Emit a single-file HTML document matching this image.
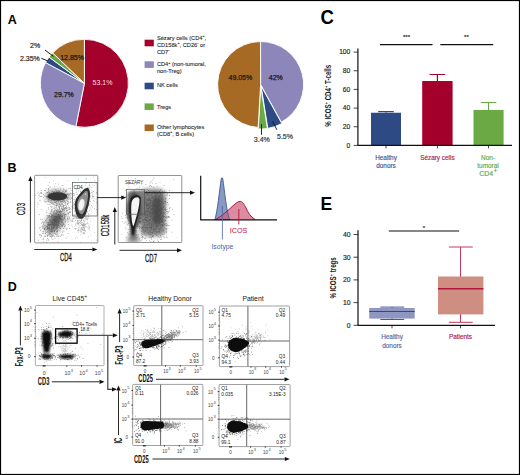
<!DOCTYPE html>
<html><head><meta charset="utf-8"><style>
html,body{margin:0;padding:0;background:#fff;}
svg{display:block;font-family:"Liberation Sans", sans-serif;}
</style></head><body>
<svg width="520" height="475" viewBox="0 0 520 475">
<rect x="0" y="0" width="520" height="475" fill="#fff"/>
<text x="7.8" y="24.4" font-size="12.5" fill="#000" text-anchor="start" font-weight="bold" >A</text>
<path d="M84.40,83.30 L84.40,39.30 A44,44 0 1 1 75.88,126.47 Z" fill="#a3002b" stroke="#fff" stroke-width="0.9" stroke-linejoin="round"/>
<path d="M84.40,83.30 L75.88,126.47 A44,44 0 0 1 45.58,62.59 Z" fill="#8c86bb" stroke="#fff" stroke-width="0.9" stroke-linejoin="round"/>
<path d="M84.40,83.30 L45.58,62.59 A44,44 0 0 1 49.05,57.10 Z" fill="#2e4a85" stroke="#fff" stroke-width="0.9" stroke-linejoin="round"/>
<path d="M84.40,83.30 L49.05,57.10 A44,44 0 0 1 52.61,52.88 Z" fill="#6aa943" stroke="#fff" stroke-width="0.9" stroke-linejoin="round"/>
<path d="M84.40,83.30 L52.61,52.88 A44,44 0 0 1 84.40,39.30 Z" fill="#a76a25" stroke="#fff" stroke-width="0.9" stroke-linejoin="round"/>
<text x="92.6" y="84.8" font-size="7" fill="#f4d2da" text-anchor="start" font-weight="normal" stroke="#f4d2da" stroke-width="0.05" >53.1%</text>
<text x="54.0" y="97.4" font-size="7" fill="#1a1a1a" text-anchor="start" font-weight="normal" stroke="#1a1a1a" stroke-width="0.25" >29.7%</text>
<text x="60.2" y="59.8" font-size="7" fill="#1a1a1a" text-anchor="start" font-weight="normal" stroke="#1a1a1a" stroke-width="0.25" >12.85%</text>
<text x="30.0" y="48.0" font-size="7" fill="#222" text-anchor="start" font-weight="normal" stroke="#222" stroke-width="0.17" >2%</text>
<text x="20.0" y="61.3" font-size="7" fill="#222" text-anchor="start" font-weight="normal" stroke="#222" stroke-width="0.17" >2.35%</text>
<path d="M45,50 L53.3,56.3 M41.3,58.3 L47.5,60.8" stroke="#000" stroke-width="0.9" fill="none"/>
<rect x="144.6" y="39.7" width="9.2" height="6.6" fill="#a3002b"/>
<text x="156.9" y="39.9" font-size="5.7" fill="#2a2a2a" text-anchor="start" font-weight="normal" stroke="#2a2a2a" stroke-width="0.1" >Sézary cells (CD4<tspan font-size="3.6" dy="-2.6">+</tspan><tspan dy="2.6">,</tspan></text>
<text x="156.9" y="47.0" font-size="5.7" fill="#2a2a2a" text-anchor="start" font-weight="normal" stroke="#2a2a2a" stroke-width="0.1" >CD158k<tspan font-size="3.6" dy="-2.6">+</tspan><tspan dy="2.6">, CD26</tspan><tspan font-size="3.6" dy="-2.6">-</tspan><tspan dy="2.6"> or</tspan></text>
<text x="156.9" y="53.8" font-size="5.7" fill="#2a2a2a" text-anchor="start" font-weight="normal" stroke="#2a2a2a" stroke-width="0.1" >CD7<tspan font-size="3.6" dy="-2.6">-</tspan><tspan dy="2.6"></tspan></text>
<rect x="144.6" y="61.3" width="9.2" height="6.6" fill="#8c86bb"/>
<text x="156.9" y="66.2" font-size="5.7" fill="#2a2a2a" text-anchor="start" font-weight="normal" stroke="#2a2a2a" stroke-width="0.1" >CD4<tspan font-size="3.6" dy="-2.6">+</tspan><tspan dy="2.6"> (non-tumoral,</tspan></text>
<text x="156.9" y="73.2" font-size="5.7" fill="#2a2a2a" text-anchor="start" font-weight="normal" stroke="#2a2a2a" stroke-width="0.1" >non-Treg)</text>
<rect x="144.6" y="82.7" width="9.2" height="6.6" fill="#2e4a85"/>
<text x="156.9" y="87.3" font-size="5.7" fill="#2a2a2a" text-anchor="start" font-weight="normal" stroke="#2a2a2a" stroke-width="0.1" >NK cells</text>
<rect x="144.6" y="103.4" width="9.2" height="6.6" fill="#6aa943"/>
<text x="156.9" y="108.6" font-size="5.7" fill="#2a2a2a" text-anchor="start" font-weight="normal" stroke="#2a2a2a" stroke-width="0.1" >Tregs</text>
<rect x="144.6" y="124.5" width="9.2" height="6.6" fill="#a76a25"/>
<text x="156.9" y="129.4" font-size="5.7" fill="#2a2a2a" text-anchor="start" font-weight="normal" stroke="#2a2a2a" stroke-width="0.1" >Other lymphocytes</text>
<text x="156.9" y="135.6" font-size="5.7" fill="#2a2a2a" text-anchor="start" font-weight="normal" stroke="#2a2a2a" stroke-width="0.1" >(CD8<tspan font-size="3.6" dy="-2.6">+</tspan><tspan dy="2.6">, B cells)</tspan></text>
<path d="M260.60,84.50 L260.60,41.50 A43,43 0 0 1 281.32,122.18 Z" fill="#8c86bb" stroke="#fff" stroke-width="0.9" stroke-linejoin="round"/>
<path d="M261.09,85.92 L281.80,123.60 A43,43 0 0 1 267.81,128.39 Z" fill="#2e4a85" stroke="#fff" stroke-width="0.9" stroke-linejoin="round"/>
<path d="M260.68,86.00 L267.40,128.47 A43,43 0 0 1 258.25,128.93 Z" fill="#6aa943" stroke="#fff" stroke-width="0.9" stroke-linejoin="round"/>
<path d="M260.60,84.50 L258.17,127.43 A43,43 0 0 1 260.46,41.50 Z" fill="#a76a25" stroke="#fff" stroke-width="0.9" stroke-linejoin="round"/>
<text x="228.5" y="80.2" font-size="7" fill="#1a1a1a" text-anchor="start" font-weight="normal" stroke="#1a1a1a" stroke-width="0.25" >49.05%</text>
<text x="268.8" y="80.2" font-size="7" fill="#1a1a1a" text-anchor="start" font-weight="normal" stroke="#1a1a1a" stroke-width="0.25" >42%</text>
<text x="253.8" y="142.4" font-size="7" fill="#333" text-anchor="start" font-weight="normal" stroke="#333" stroke-width="0.17" >3.4%</text>
<text x="277.0" y="138.7" font-size="7" fill="#333" text-anchor="start" font-weight="normal" stroke="#333" stroke-width="0.17" >5.5%</text>
<path d="M261.5,124 L261.5,134.8 M272.6,121.3 L276.9,129.8" stroke="#111" stroke-width="0.9" fill="none"/>
<text transform="translate(320.4,23.7) scale(0.93,1)" font-size="20" font-weight="bold" fill="#000">C</text>
<path d="M353.7,145.40 L357.9,145.40" stroke="#111" stroke-width="0.8"/>
<text x="350.3" y="147.6" font-size="6.7" fill="#1a1a1a" text-anchor="end" font-weight="normal" stroke="#1a1a1a" stroke-width="0.15" >0</text>
<path d="M353.7,126.74 L357.9,126.74" stroke="#111" stroke-width="0.8"/>
<text x="350.3" y="128.94" font-size="6.7" fill="#1a1a1a" text-anchor="end" font-weight="normal" stroke="#1a1a1a" stroke-width="0.15" >20</text>
<path d="M353.7,108.08 L357.9,108.08" stroke="#111" stroke-width="0.8"/>
<text x="350.3" y="110.28000000000002" font-size="6.7" fill="#1a1a1a" text-anchor="end" font-weight="normal" stroke="#1a1a1a" stroke-width="0.15" >40</text>
<path d="M353.7,89.42 L357.9,89.42" stroke="#111" stroke-width="0.8"/>
<text x="350.3" y="91.62" font-size="6.7" fill="#1a1a1a" text-anchor="end" font-weight="normal" stroke="#1a1a1a" stroke-width="0.15" >60</text>
<path d="M353.7,70.76 L357.9,70.76" stroke="#111" stroke-width="0.8"/>
<text x="350.3" y="72.96000000000001" font-size="6.7" fill="#1a1a1a" text-anchor="end" font-weight="normal" stroke="#1a1a1a" stroke-width="0.15" >80</text>
<path d="M353.7,52.10 L357.9,52.10" stroke="#111" stroke-width="0.8"/>
<text x="350.3" y="54.3" font-size="6.7" fill="#1a1a1a" text-anchor="end" font-weight="normal" stroke="#1a1a1a" stroke-width="0.15" >100</text>
<path d="M386.0,112.745 L386.0,111.53 M378.2,111.53 L393.8,111.53" stroke="#2e4a85" stroke-width="1.2"/>
<rect x="371.0" y="112.75" width="30.0" height="32.66" fill="#2e4a85"/>
<path d="M386.0,145.4 L386.0,148.4" stroke="#111" stroke-width="0.8"/>
<path d="M437.4,81.023 L437.4,74.49 M429.59999999999997,74.49 L445.2,74.49" stroke="#a3002b" stroke-width="1.2"/>
<rect x="422.2" y="81.02" width="30.400000000000034" height="64.38" fill="#a3002b"/>
<path d="M437.4,145.4 L437.4,148.4" stroke="#111" stroke-width="0.8"/>
<path d="M488.55,109.946 L488.55,102.48 M480.75,102.48 L496.35,102.48" stroke="#6aa943" stroke-width="1.2"/>
<rect x="473.5" y="109.95" width="30.100000000000023" height="35.45" fill="#6aa943"/>
<path d="M488.55,145.4 L488.55,148.4" stroke="#111" stroke-width="0.8"/>
<path d="M357.9,48.5 L357.9,145.4 L512,145.4" stroke="#111" stroke-width="1.2" fill="none"/>
<path d="M379.9,44.6 L432.5,44.6 M440.3,44.6 L493.2,44.6" stroke="#111" stroke-width="1.1"/>
<text x="406.5" y="38.5" font-size="6" fill="#222" text-anchor="middle" font-weight="normal" stroke="#222" stroke-width="0.15" >***</text>
<text x="466.4" y="38.5" font-size="6" fill="#222" text-anchor="middle" font-weight="normal" stroke="#222" stroke-width="0.15" >**</text>
<text x="386.0" y="159.6" font-size="6.4" fill="#3a5593" text-anchor="middle" font-weight="normal" stroke="#3a5593" stroke-width="0.15" >Healthy</text>
<text x="386.0" y="168.3" font-size="6.4" fill="#3a5593" text-anchor="middle" font-weight="normal" stroke="#3a5593" stroke-width="0.15" >donors</text>
<text x="437.4" y="159.8" font-size="6.4" fill="#b0173f" text-anchor="middle" font-weight="normal" stroke="#b0173f" stroke-width="0.15" >Sézary cells</text>
<text x="488" y="159.8" font-size="6.4" fill="#62a93c" text-anchor="middle" font-weight="normal" stroke="#62a93c" stroke-width="0.15" >Non-</text>
<text x="488" y="167.9" font-size="6.4" fill="#62a93c" text-anchor="middle" font-weight="normal" stroke="#62a93c" stroke-width="0.15" >tumoral</text>
<text x="488.2" y="176.3" font-size="7.0" fill="#62a93c" text-anchor="middle" font-weight="normal" stroke="#62a93c" stroke-width="0.15" >CD4<tspan font-size="6.5" dy="-3.6" dx="0.3">+</tspan></text>
<text transform="translate(331.3,95.7) rotate(-90) scale(0.645,1)" text-anchor="middle" font-size="9.6" font-weight="bold" fill="#1a1a1a">% ICOS<tspan font-size="6" dy="-3.6">+</tspan><tspan dy="3.6"> CD4</tspan><tspan font-size="6" dy="-3.6">+</tspan><tspan dy="3.6"> T-cells</tspan></text>
<text x="320.6" y="209.9" font-size="17.5" fill="#000" text-anchor="start" font-weight="bold" >E</text>
<path d="M358.0,230.3 L358.0,325.3 L495,325.3" stroke="#111" stroke-width="1.2" fill="none"/>
<path d="M353.6,325.30 L358.0,325.30" stroke="#111" stroke-width="0.8"/>
<text x="350.5" y="327.6" font-size="6.8" fill="#1a1a1a" text-anchor="end" font-weight="normal" stroke="#1a1a1a" stroke-width="0.15" >0</text>
<path d="M353.6,302.60 L358.0,302.60" stroke="#111" stroke-width="0.8"/>
<text x="350.5" y="304.90000000000003" font-size="6.8" fill="#1a1a1a" text-anchor="end" font-weight="normal" stroke="#1a1a1a" stroke-width="0.15" >10</text>
<path d="M353.6,279.90 L358.0,279.90" stroke="#111" stroke-width="0.8"/>
<text x="350.5" y="282.20000000000005" font-size="6.8" fill="#1a1a1a" text-anchor="end" font-weight="normal" stroke="#1a1a1a" stroke-width="0.15" >20</text>
<path d="M353.6,257.20 L358.0,257.20" stroke="#111" stroke-width="0.8"/>
<text x="350.5" y="259.50000000000006" font-size="6.8" fill="#1a1a1a" text-anchor="end" font-weight="normal" stroke="#1a1a1a" stroke-width="0.15" >30</text>
<path d="M353.6,234.50 L358.0,234.50" stroke="#111" stroke-width="0.8"/>
<text x="350.5" y="236.8" font-size="6.8" fill="#1a1a1a" text-anchor="end" font-weight="normal" stroke="#1a1a1a" stroke-width="0.15" >40</text>
<path d="M388.8,231 L459.1,231" stroke="#111" stroke-width="1.1"/>
<text x="424" y="229.5" font-size="6" fill="#222" text-anchor="middle" font-weight="normal" stroke="#222" stroke-width="0.15" >*</text>
<path d="M392,307.1 L392,319.5 M380.3,307.1 L404.2,307.1 M380.3,319.5 L404.2,319.5" stroke="#2f4a85" stroke-width="0.9"/>
<rect x="369.2" y="308.0" width="45.5" height="10.6" fill="#8f96c2"/>
<path d="M369.2,311.5 L414.7,311.5" stroke="#2f4a85" stroke-width="1.2"/>
<path d="M460.5,247 L460.5,322.3 M448.9,247 L472.8,247 M448.9,322.3 L472.8,322.3" stroke="#c2385a" stroke-width="1"/>
<rect x="438.0" y="276.5" width="45.4" height="37.9" fill="#cf8e82"/>
<path d="M438,288.8 L483.4,288.8" stroke="#b3163c" stroke-width="1.4"/>
<path d="M392,325.3 L392,328.3 M460.5,325.3 L460.5,328.3" stroke="#111" stroke-width="0.8"/>
<text x="392" y="339.0" font-size="6.4" fill="#4f67a3" text-anchor="middle" font-weight="normal" stroke="#4f67a3" stroke-width="0.15" >Healthy</text>
<text x="392" y="347.5" font-size="6.4" fill="#4f67a3" text-anchor="middle" font-weight="normal" stroke="#4f67a3" stroke-width="0.15" >donors</text>
<text x="460.5" y="339.0" font-size="6.4" fill="#b0173f" text-anchor="middle" font-weight="normal" stroke="#b0173f" stroke-width="0.15" >Patients</text>
<text transform="translate(336.1,277.9) rotate(-90) scale(0.645,1)" text-anchor="middle" font-size="9.6" font-weight="bold" fill="#1a1a1a">% ICOS<tspan font-size="6" dy="-3.6">+</tspan><tspan dy="3.6"> tregs</tspan></text>
<defs>
<filter id="b03" x="-50%" y="-50%" width="200%" height="200%"><feGaussianBlur stdDeviation="0.3"/></filter>
<filter id="b05" x="-50%" y="-50%" width="200%" height="200%"><feGaussianBlur stdDeviation="0.5"/></filter>
<filter id="b08" x="-50%" y="-50%" width="200%" height="200%"><feGaussianBlur stdDeviation="0.8"/></filter>
<filter id="b12" x="-50%" y="-50%" width="200%" height="200%"><feGaussianBlur stdDeviation="1.2"/></filter>
<filter id="b20" x="-50%" y="-50%" width="200%" height="200%"><feGaussianBlur stdDeviation="2"/></filter>
<filter id="b30" x="-50%" y="-50%" width="200%" height="200%"><feGaussianBlur stdDeviation="3"/></filter>
<clipPath id="cB1"><rect x="34.6" y="175.3" width="63.2" height="67.6"/></clipPath>
<clipPath id="cB2"><rect x="118.2" y="175.5" width="63.6" height="67"/></clipPath>
<clipPath id="cD0"><rect x="35.4" y="305.5" width="68.6" height="60.1"/></clipPath>
<clipPath id="cD1"><rect x="133.7" y="305.7" width="69.3" height="59.9"/></clipPath>
<clipPath id="cD2"><rect x="219.4" y="306" width="70.2" height="60.6"/></clipPath>
<clipPath id="cD3"><rect x="132.7" y="384.4" width="70.2" height="61.1"/></clipPath>
<clipPath id="cD4"><rect x="219" y="384.5" width="71.1" height="62.1"/></clipPath>
</defs>
<text x="7.5" y="172.2" font-size="12.5" fill="#000" text-anchor="start" font-weight="bold">B</text>
<path d="M63.0 212.9h0.7v0.7h-0.7zM92.3 206.7h0.7v0.7h-0.7zM66.5 214.8h0.7v0.7h-0.7zM46.4 209.8h0.7v0.7h-0.7zM74.1 228.3h0.7v0.7h-0.7zM40.8 196.0h0.7v0.7h-0.7zM40.6 229.4h0.7v0.7h-0.7zM78.0 178.8h0.7v0.7h-0.7zM95.9 239.7h0.7v0.7h-0.7zM75.5 216.6h0.7v0.7h-0.7zM44.8 177.0h0.7v0.7h-0.7zM67.8 179.9h0.7v0.7h-0.7zM46.8 192.0h0.7v0.7h-0.7zM36.9 206.6h0.7v0.7h-0.7zM62.3 231.6h0.7v0.7h-0.7zM67.2 218.3h0.7v0.7h-0.7zM66.0 219.7h0.7v0.7h-0.7zM63.4 194.4h0.7v0.7h-0.7zM96.9 241.7h0.7v0.7h-0.7zM87.1 222.7h0.7v0.7h-0.7zM54.5 191.2h0.7v0.7h-0.7zM52.9 180.6h0.7v0.7h-0.7zM82.5 202.4h0.7v0.7h-0.7zM87.5 201.5h0.7v0.7h-0.7zM94.4 231.9h0.7v0.7h-0.7z" fill="#777" opacity="0.7" clip-path="url(#cB1)"/>
<g clip-path="url(#cB1)"><ellipse cx="55" cy="222" rx="7.5" ry="12.5" fill="#7a7a7a" opacity="0.9" transform="rotate(35 55 222)" filter="url(#b30)"/></g>
<g clip-path="url(#cB1)"><ellipse cx="56" cy="220" rx="3.5" ry="7" fill="#555" opacity="0.8" transform="rotate(35 56 220)" filter="url(#b20)"/></g>
<path d="M58.1 224.2h0.7v0.7h-0.7zM62.6 220.3h0.7v0.7h-0.7zM60.2 224.2h0.7v0.7h-0.7zM57.3 230.8h0.7v0.7h-0.7zM59.9 216.4h0.7v0.7h-0.7zM55.9 228.1h0.7v0.7h-0.7zM64.5 224.2h0.7v0.7h-0.7zM54.7 227.7h0.7v0.7h-0.7zM55.1 224.5h0.7v0.7h-0.7zM59.1 217.9h0.7v0.7h-0.7zM52.6 215.7h0.7v0.7h-0.7zM49.4 235.6h0.7v0.7h-0.7zM53.7 233.3h0.7v0.7h-0.7zM54.7 229.9h0.7v0.7h-0.7zM51.6 228.6h0.7v0.7h-0.7zM64.8 225.0h0.7v0.7h-0.7zM41.2 235.1h0.7v0.7h-0.7zM50.8 230.3h0.7v0.7h-0.7zM65.1 215.9h0.7v0.7h-0.7zM56.3 243.5h0.7v0.7h-0.7zM51.7 228.4h0.7v0.7h-0.7zM60.4 215.5h0.7v0.7h-0.7zM52.5 224.6h0.7v0.7h-0.7zM56.2 231.0h0.7v0.7h-0.7zM47.9 232.7h0.7v0.7h-0.7zM47.3 225.8h0.7v0.7h-0.7zM61.6 223.2h0.7v0.7h-0.7zM51.9 209.3h0.7v0.7h-0.7zM53.2 226.9h0.7v0.7h-0.7zM67.4 219.1h0.7v0.7h-0.7zM51.5 227.1h0.7v0.7h-0.7zM67.2 203.1h0.7v0.7h-0.7zM46.0 242.5h0.7v0.7h-0.7zM64.5 218.0h0.7v0.7h-0.7zM51.9 222.4h0.7v0.7h-0.7zM62.8 234.7h0.7v0.7h-0.7zM47.0 234.5h0.7v0.7h-0.7zM44.5 236.2h0.7v0.7h-0.7zM54.5 216.1h0.7v0.7h-0.7zM50.5 235.4h0.7v0.7h-0.7zM56.3 226.4h0.7v0.7h-0.7zM50.7 210.7h0.7v0.7h-0.7zM55.2 215.9h0.7v0.7h-0.7zM59.5 221.2h0.7v0.7h-0.7zM58.1 225.1h0.7v0.7h-0.7zM52.9 221.9h0.7v0.7h-0.7zM52.3 230.0h0.7v0.7h-0.7zM54.1 218.7h0.7v0.7h-0.7zM40.1 230.2h0.7v0.7h-0.7zM62.5 225.2h0.7v0.7h-0.7zM59.6 210.9h0.7v0.7h-0.7zM54.6 224.1h0.7v0.7h-0.7zM63.5 230.8h0.7v0.7h-0.7zM64.8 200.5h0.7v0.7h-0.7zM60.3 227.9h0.7v0.7h-0.7zM46.8 218.3h0.7v0.7h-0.7zM28.8 244.0h0.7v0.7h-0.7zM56.9 230.0h0.7v0.7h-0.7zM65.9 204.8h0.7v0.7h-0.7zM62.9 209.5h0.7v0.7h-0.7zM69.3 207.2h0.7v0.7h-0.7zM44.3 228.6h0.7v0.7h-0.7zM68.8 218.0h0.7v0.7h-0.7zM43.3 224.0h0.7v0.7h-0.7zM64.2 217.0h0.7v0.7h-0.7zM55.7 214.4h0.7v0.7h-0.7zM53.3 213.0h0.7v0.7h-0.7zM56.9 231.3h0.7v0.7h-0.7zM64.7 227.8h0.7v0.7h-0.7zM59.7 213.9h0.7v0.7h-0.7zM61.6 211.4h0.7v0.7h-0.7zM43.2 221.8h0.7v0.7h-0.7zM56.9 233.1h0.7v0.7h-0.7zM59.6 228.2h0.7v0.7h-0.7zM51.3 220.4h0.7v0.7h-0.7zM59.4 212.2h0.7v0.7h-0.7zM55.5 205.1h0.7v0.7h-0.7zM54.2 223.2h0.7v0.7h-0.7zM45.1 231.6h0.7v0.7h-0.7zM52.6 227.1h0.7v0.7h-0.7zM65.0 219.5h0.7v0.7h-0.7zM42.0 221.6h0.7v0.7h-0.7zM44.8 230.0h0.7v0.7h-0.7zM51.0 230.9h0.7v0.7h-0.7zM69.8 208.2h0.7v0.7h-0.7zM61.9 219.0h0.7v0.7h-0.7zM54.0 216.2h0.7v0.7h-0.7zM53.6 231.3h0.7v0.7h-0.7zM68.6 212.3h0.7v0.7h-0.7zM65.3 201.7h0.7v0.7h-0.7zM51.3 226.3h0.7v0.7h-0.7zM50.2 221.5h0.7v0.7h-0.7zM50.6 230.6h0.7v0.7h-0.7zM55.8 213.0h0.7v0.7h-0.7zM42.0 233.2h0.7v0.7h-0.7zM60.6 224.5h0.7v0.7h-0.7zM55.4 223.6h0.7v0.7h-0.7zM57.1 221.0h0.7v0.7h-0.7zM60.3 211.2h0.7v0.7h-0.7zM43.1 232.8h0.7v0.7h-0.7zM57.1 224.2h0.7v0.7h-0.7zM53.7 221.8h0.7v0.7h-0.7zM60.1 218.1h0.7v0.7h-0.7zM54.6 224.5h0.7v0.7h-0.7zM55.9 213.5h0.7v0.7h-0.7zM56.3 210.6h0.7v0.7h-0.7zM71.9 206.4h0.7v0.7h-0.7zM57.1 216.4h0.7v0.7h-0.7zM51.7 220.8h0.7v0.7h-0.7zM59.7 226.2h0.7v0.7h-0.7zM57.7 216.8h0.7v0.7h-0.7zM49.4 228.7h0.7v0.7h-0.7zM59.5 211.8h0.7v0.7h-0.7zM55.3 209.4h0.7v0.7h-0.7zM42.7 226.2h0.7v0.7h-0.7zM57.9 221.3h0.7v0.7h-0.7zM65.2 221.5h0.7v0.7h-0.7zM54.0 230.6h0.7v0.7h-0.7zM56.5 205.0h0.7v0.7h-0.7zM45.9 226.1h0.7v0.7h-0.7zM67.5 216.5h0.7v0.7h-0.7zM61.8 222.3h0.7v0.7h-0.7zM56.2 216.5h0.7v0.7h-0.7zM63.4 206.8h0.7v0.7h-0.7zM57.2 209.2h0.7v0.7h-0.7zM45.8 239.8h0.7v0.7h-0.7zM69.1 228.0h0.7v0.7h-0.7zM49.5 213.4h0.7v0.7h-0.7zM40.0 234.5h0.7v0.7h-0.7zM61.5 218.1h0.7v0.7h-0.7zM56.3 229.1h0.7v0.7h-0.7zM50.6 212.7h0.7v0.7h-0.7zM53.8 221.4h0.7v0.7h-0.7zM57.4 219.8h0.7v0.7h-0.7zM59.0 218.0h0.7v0.7h-0.7zM42.7 231.0h0.7v0.7h-0.7zM54.2 226.5h0.7v0.7h-0.7zM48.7 215.7h0.7v0.7h-0.7zM65.7 214.5h0.7v0.7h-0.7zM62.1 222.4h0.7v0.7h-0.7zM57.5 222.2h0.7v0.7h-0.7zM49.4 232.1h0.7v0.7h-0.7zM44.7 232.9h0.7v0.7h-0.7zM56.6 212.3h0.7v0.7h-0.7zM64.0 215.9h0.7v0.7h-0.7zM48.4 227.9h0.7v0.7h-0.7zM70.1 212.0h0.7v0.7h-0.7zM47.0 238.3h0.7v0.7h-0.7zM61.7 223.9h0.7v0.7h-0.7zM53.9 217.8h0.7v0.7h-0.7zM51.2 216.3h0.7v0.7h-0.7zM55.0 220.3h0.7v0.7h-0.7zM61.6 223.9h0.7v0.7h-0.7zM42.7 225.6h0.7v0.7h-0.7zM52.6 215.1h0.7v0.7h-0.7zM56.3 218.9h0.7v0.7h-0.7zM51.8 216.9h0.7v0.7h-0.7zM68.1 224.2h0.7v0.7h-0.7zM48.3 230.3h0.7v0.7h-0.7zM54.2 230.3h0.7v0.7h-0.7zM69.6 209.4h0.7v0.7h-0.7zM50.4 220.3h0.7v0.7h-0.7zM50.2 233.6h0.7v0.7h-0.7zM58.4 221.6h0.7v0.7h-0.7zM56.3 220.5h0.7v0.7h-0.7zM52.4 228.0h0.7v0.7h-0.7zM57.9 214.6h0.7v0.7h-0.7zM45.2 227.8h0.7v0.7h-0.7zM55.4 233.8h0.7v0.7h-0.7zM54.3 231.2h0.7v0.7h-0.7zM51.4 227.2h0.7v0.7h-0.7zM51.4 217.1h0.7v0.7h-0.7zM47.7 225.3h0.7v0.7h-0.7zM53.0 219.3h0.7v0.7h-0.7zM49.4 233.8h0.7v0.7h-0.7zM56.5 212.2h0.7v0.7h-0.7zM64.7 216.0h0.7v0.7h-0.7zM60.1 219.0h0.7v0.7h-0.7zM64.4 207.5h0.7v0.7h-0.7zM60.9 220.4h0.7v0.7h-0.7zM39.6 235.3h0.7v0.7h-0.7zM39.1 251.6h0.7v0.7h-0.7zM58.7 220.6h0.7v0.7h-0.7zM46.7 234.8h0.7v0.7h-0.7zM52.4 225.4h0.7v0.7h-0.7zM62.3 216.5h0.7v0.7h-0.7zM58.3 218.5h0.7v0.7h-0.7zM44.6 224.9h0.7v0.7h-0.7zM57.6 224.7h0.7v0.7h-0.7zM61.8 203.5h0.7v0.7h-0.7zM57.7 222.8h0.7v0.7h-0.7zM47.7 216.2h0.7v0.7h-0.7zM48.3 217.0h0.7v0.7h-0.7zM53.7 225.2h0.7v0.7h-0.7zM55.0 224.0h0.7v0.7h-0.7zM52.0 215.4h0.7v0.7h-0.7zM54.0 218.6h0.7v0.7h-0.7zM52.8 227.7h0.7v0.7h-0.7zM76.4 207.2h0.7v0.7h-0.7zM57.9 221.7h0.7v0.7h-0.7zM60.2 236.4h0.7v0.7h-0.7zM45.4 219.9h0.7v0.7h-0.7zM47.2 228.1h0.7v0.7h-0.7zM50.8 217.9h0.7v0.7h-0.7zM54.9 220.8h0.7v0.7h-0.7zM62.4 205.9h0.7v0.7h-0.7zM51.6 231.2h0.7v0.7h-0.7zM60.2 213.9h0.7v0.7h-0.7zM52.8 227.0h0.7v0.7h-0.7zM54.3 221.3h0.7v0.7h-0.7zM67.4 217.7h0.7v0.7h-0.7zM62.9 205.4h0.7v0.7h-0.7zM55.9 214.0h0.7v0.7h-0.7zM54.5 213.6h0.7v0.7h-0.7zM64.2 226.1h0.7v0.7h-0.7zM42.5 238.7h0.7v0.7h-0.7zM64.2 208.3h0.7v0.7h-0.7zM61.9 216.0h0.7v0.7h-0.7zM69.2 217.5h0.7v0.7h-0.7zM61.1 207.7h0.7v0.7h-0.7zM61.0 214.4h0.7v0.7h-0.7zM56.8 218.9h0.7v0.7h-0.7zM47.1 227.4h0.7v0.7h-0.7zM58.9 225.4h0.7v0.7h-0.7zM56.8 210.8h0.7v0.7h-0.7zM43.2 241.5h0.7v0.7h-0.7zM57.2 214.5h0.7v0.7h-0.7zM57.8 211.3h0.7v0.7h-0.7zM51.7 217.3h0.7v0.7h-0.7zM61.5 226.5h0.7v0.7h-0.7zM61.5 207.8h0.7v0.7h-0.7zM56.1 222.5h0.7v0.7h-0.7zM55.4 209.7h0.7v0.7h-0.7zM49.3 229.7h0.7v0.7h-0.7zM56.7 225.6h0.7v0.7h-0.7zM51.8 223.5h0.7v0.7h-0.7zM43.1 238.9h0.7v0.7h-0.7zM51.9 215.6h0.7v0.7h-0.7zM62.2 223.9h0.7v0.7h-0.7zM61.7 226.2h0.7v0.7h-0.7zM57.7 219.6h0.7v0.7h-0.7zM54.1 210.1h0.7v0.7h-0.7zM61.5 234.0h0.7v0.7h-0.7zM52.5 231.3h0.7v0.7h-0.7zM52.0 231.7h0.7v0.7h-0.7zM55.0 219.4h0.7v0.7h-0.7zM61.4 222.4h0.7v0.7h-0.7zM50.2 216.0h0.7v0.7h-0.7zM49.2 225.1h0.7v0.7h-0.7zM57.5 211.5h0.7v0.7h-0.7zM45.0 233.0h0.7v0.7h-0.7zM53.9 223.1h0.7v0.7h-0.7zM53.4 224.3h0.7v0.7h-0.7zM51.6 235.8h0.7v0.7h-0.7zM40.2 227.4h0.7v0.7h-0.7zM56.7 219.5h0.7v0.7h-0.7zM66.7 228.2h0.7v0.7h-0.7zM58.5 235.7h0.7v0.7h-0.7zM47.7 222.6h0.7v0.7h-0.7zM59.0 223.3h0.7v0.7h-0.7zM46.4 212.0h0.7v0.7h-0.7zM60.2 212.8h0.7v0.7h-0.7zM64.6 225.9h0.7v0.7h-0.7zM54.9 218.4h0.7v0.7h-0.7zM55.7 213.5h0.7v0.7h-0.7zM53.7 224.7h0.7v0.7h-0.7zM53.2 219.7h0.7v0.7h-0.7zM45.9 221.7h0.7v0.7h-0.7zM50.5 221.3h0.7v0.7h-0.7zM53.7 215.1h0.7v0.7h-0.7zM62.6 213.3h0.7v0.7h-0.7zM66.3 229.5h0.7v0.7h-0.7zM58.7 216.1h0.7v0.7h-0.7zM54.6 237.8h0.7v0.7h-0.7zM63.8 212.3h0.7v0.7h-0.7zM49.4 225.2h0.7v0.7h-0.7zM59.1 211.2h0.7v0.7h-0.7zM53.9 212.3h0.7v0.7h-0.7zM58.6 217.0h0.7v0.7h-0.7zM39.9 243.8h0.7v0.7h-0.7zM68.6 219.5h0.7v0.7h-0.7zM56.1 223.8h0.7v0.7h-0.7zM48.7 229.7h0.7v0.7h-0.7zM55.3 218.4h0.7v0.7h-0.7zM53.9 220.0h0.7v0.7h-0.7zM56.6 232.1h0.7v0.7h-0.7zM51.4 214.3h0.7v0.7h-0.7zM47.0 225.8h0.7v0.7h-0.7zM51.2 229.6h0.7v0.7h-0.7zM65.1 207.0h0.7v0.7h-0.7zM55.8 225.2h0.7v0.7h-0.7zM64.4 213.5h0.7v0.7h-0.7zM59.1 216.9h0.7v0.7h-0.7zM50.0 222.6h0.7v0.7h-0.7zM61.5 216.2h0.7v0.7h-0.7zM60.8 197.3h0.7v0.7h-0.7zM46.3 228.9h0.7v0.7h-0.7zM67.0 204.3h0.7v0.7h-0.7zM48.8 222.6h0.7v0.7h-0.7zM56.2 236.4h0.7v0.7h-0.7zM55.6 224.7h0.7v0.7h-0.7zM52.7 215.1h0.7v0.7h-0.7zM57.7 214.9h0.7v0.7h-0.7zM57.4 219.1h0.7v0.7h-0.7zM48.7 234.2h0.7v0.7h-0.7zM56.1 227.6h0.7v0.7h-0.7zM62.2 209.4h0.7v0.7h-0.7zM51.5 225.9h0.7v0.7h-0.7zM43.6 228.6h0.7v0.7h-0.7zM51.5 223.8h0.7v0.7h-0.7zM60.4 211.2h0.7v0.7h-0.7zM70.6 219.5h0.7v0.7h-0.7zM62.2 220.6h0.7v0.7h-0.7zM60.6 216.6h0.7v0.7h-0.7zM48.1 227.8h0.7v0.7h-0.7zM68.4 221.5h0.7v0.7h-0.7zM49.9 229.4h0.7v0.7h-0.7zM48.3 225.5h0.7v0.7h-0.7zM48.2 224.2h0.7v0.7h-0.7zM50.4 232.8h0.7v0.7h-0.7zM63.1 213.9h0.7v0.7h-0.7zM64.0 215.5h0.7v0.7h-0.7zM50.2 236.1h0.7v0.7h-0.7zM60.7 219.6h0.7v0.7h-0.7zM59.5 227.1h0.7v0.7h-0.7zM51.3 215.3h0.7v0.7h-0.7zM63.1 224.1h0.7v0.7h-0.7zM57.4 219.7h0.7v0.7h-0.7zM50.2 212.7h0.7v0.7h-0.7zM55.5 224.7h0.7v0.7h-0.7zM65.8 204.8h0.7v0.7h-0.7zM56.6 231.5h0.7v0.7h-0.7zM52.5 235.4h0.7v0.7h-0.7zM56.3 215.9h0.7v0.7h-0.7zM47.3 236.0h0.7v0.7h-0.7zM48.7 214.9h0.7v0.7h-0.7zM48.7 224.1h0.7v0.7h-0.7zM63.2 224.3h0.7v0.7h-0.7zM49.1 218.5h0.7v0.7h-0.7zM62.1 209.1h0.7v0.7h-0.7zM61.8 220.7h0.7v0.7h-0.7zM65.2 213.9h0.7v0.7h-0.7zM67.8 214.2h0.7v0.7h-0.7zM69.6 211.2h0.7v0.7h-0.7zM63.3 223.4h0.7v0.7h-0.7zM49.3 215.3h0.7v0.7h-0.7zM61.9 215.4h0.7v0.7h-0.7zM51.3 222.5h0.7v0.7h-0.7zM70.9 197.6h0.7v0.7h-0.7zM50.7 224.0h0.7v0.7h-0.7zM50.8 230.8h0.7v0.7h-0.7zM38.0 239.7h0.7v0.7h-0.7zM56.9 227.0h0.7v0.7h-0.7zM54.7 232.8h0.7v0.7h-0.7zM58.8 217.5h0.7v0.7h-0.7zM57.3 228.5h0.7v0.7h-0.7zM52.5 207.4h0.7v0.7h-0.7zM56.5 224.3h0.7v0.7h-0.7zM52.8 227.9h0.7v0.7h-0.7zM47.0 234.8h0.7v0.7h-0.7zM54.5 217.0h0.7v0.7h-0.7zM52.4 228.8h0.7v0.7h-0.7zM50.4 236.1h0.7v0.7h-0.7zM46.5 229.6h0.7v0.7h-0.7zM62.8 215.4h0.7v0.7h-0.7zM43.0 237.8h0.7v0.7h-0.7zM61.1 220.8h0.7v0.7h-0.7zM48.2 208.7h0.7v0.7h-0.7zM51.4 220.4h0.7v0.7h-0.7zM61.3 235.1h0.7v0.7h-0.7zM61.5 215.7h0.7v0.7h-0.7zM50.8 216.6h0.7v0.7h-0.7zM36.5 243.9h0.7v0.7h-0.7zM56.5 215.9h0.7v0.7h-0.7zM59.7 226.2h0.7v0.7h-0.7zM42.4 228.1h0.7v0.7h-0.7zM60.8 210.7h0.7v0.7h-0.7zM53.8 226.8h0.7v0.7h-0.7zM49.7 226.4h0.7v0.7h-0.7zM63.5 217.7h0.7v0.7h-0.7zM58.8 196.9h0.7v0.7h-0.7zM47.7 231.2h0.7v0.7h-0.7zM51.9 236.0h0.7v0.7h-0.7zM63.3 228.0h0.7v0.7h-0.7zM68.1 213.4h0.7v0.7h-0.7zM56.0 227.2h0.7v0.7h-0.7zM57.0 218.3h0.7v0.7h-0.7zM49.2 219.6h0.7v0.7h-0.7zM62.8 223.2h0.7v0.7h-0.7zM61.0 218.5h0.7v0.7h-0.7zM61.6 215.0h0.7v0.7h-0.7zM57.9 221.5h0.7v0.7h-0.7zM59.7 218.3h0.7v0.7h-0.7zM51.5 215.7h0.7v0.7h-0.7zM51.1 237.6h0.7v0.7h-0.7zM49.2 227.2h0.7v0.7h-0.7zM56.3 227.4h0.7v0.7h-0.7zM46.2 219.6h0.7v0.7h-0.7zM44.2 228.1h0.7v0.7h-0.7zM55.2 229.3h0.7v0.7h-0.7zM40.2 218.8h0.7v0.7h-0.7zM65.1 214.3h0.7v0.7h-0.7zM59.0 225.6h0.7v0.7h-0.7zM58.1 215.9h0.7v0.7h-0.7zM52.8 215.4h0.7v0.7h-0.7zM67.8 233.3h0.7v0.7h-0.7zM59.5 217.6h0.7v0.7h-0.7zM55.2 215.8h0.7v0.7h-0.7zM46.2 226.0h0.7v0.7h-0.7zM49.1 227.9h0.7v0.7h-0.7zM44.7 225.6h0.7v0.7h-0.7zM51.2 227.1h0.7v0.7h-0.7zM59.4 214.8h0.7v0.7h-0.7zM62.8 222.4h0.7v0.7h-0.7zM59.2 214.6h0.7v0.7h-0.7zM58.0 219.6h0.7v0.7h-0.7zM54.4 225.6h0.7v0.7h-0.7zM59.6 208.9h0.7v0.7h-0.7zM51.9 230.5h0.7v0.7h-0.7zM64.4 215.3h0.7v0.7h-0.7zM55.6 226.9h0.7v0.7h-0.7zM53.9 226.2h0.7v0.7h-0.7zM52.4 222.6h0.7v0.7h-0.7zM61.9 221.0h0.7v0.7h-0.7zM49.1 216.6h0.7v0.7h-0.7zM65.9 208.3h0.7v0.7h-0.7zM48.7 224.5h0.7v0.7h-0.7zM53.8 222.2h0.7v0.7h-0.7zM44.4 225.1h0.7v0.7h-0.7zM64.0 226.0h0.7v0.7h-0.7zM58.0 210.7h0.7v0.7h-0.7zM58.4 225.6h0.7v0.7h-0.7zM44.8 228.9h0.7v0.7h-0.7zM55.2 229.1h0.7v0.7h-0.7zM47.6 215.6h0.7v0.7h-0.7zM64.5 214.4h0.7v0.7h-0.7zM51.4 236.1h0.7v0.7h-0.7zM63.6 219.6h0.7v0.7h-0.7zM46.7 227.1h0.7v0.7h-0.7zM52.8 234.7h0.7v0.7h-0.7zM61.0 225.0h0.7v0.7h-0.7zM63.3 206.3h0.7v0.7h-0.7zM46.1 242.2h0.7v0.7h-0.7zM55.5 216.8h0.7v0.7h-0.7zM55.9 227.0h0.7v0.7h-0.7zM52.7 212.1h0.7v0.7h-0.7zM39.0 234.3h0.7v0.7h-0.7zM47.1 226.4h0.7v0.7h-0.7zM53.3 242.8h0.7v0.7h-0.7zM52.5 239.2h0.7v0.7h-0.7zM51.3 215.4h0.7v0.7h-0.7zM53.3 217.4h0.7v0.7h-0.7zM76.0 217.2h0.7v0.7h-0.7zM64.3 214.1h0.7v0.7h-0.7zM53.9 236.3h0.7v0.7h-0.7zM41.4 236.5h0.7v0.7h-0.7zM48.2 232.4h0.7v0.7h-0.7zM59.5 218.6h0.7v0.7h-0.7zM53.9 219.9h0.7v0.7h-0.7zM57.1 224.9h0.7v0.7h-0.7zM66.7 227.9h0.7v0.7h-0.7zM56.8 214.9h0.7v0.7h-0.7zM59.3 208.3h0.7v0.7h-0.7zM45.6 225.9h0.7v0.7h-0.7zM56.2 220.9h0.7v0.7h-0.7zM50.8 231.4h0.7v0.7h-0.7zM53.6 230.0h0.7v0.7h-0.7zM53.9 218.2h0.7v0.7h-0.7zM52.0 218.8h0.7v0.7h-0.7zM53.3 216.5h0.7v0.7h-0.7zM55.4 219.8h0.7v0.7h-0.7zM56.5 217.3h0.7v0.7h-0.7zM62.8 223.5h0.7v0.7h-0.7zM49.4 220.3h0.7v0.7h-0.7zM55.9 210.2h0.7v0.7h-0.7zM64.5 209.3h0.7v0.7h-0.7zM38.9 214.1h0.7v0.7h-0.7zM68.8 212.3h0.7v0.7h-0.7zM47.8 223.7h0.7v0.7h-0.7zM50.8 208.9h0.7v0.7h-0.7zM50.7 216.7h0.7v0.7h-0.7zM41.2 222.7h0.7v0.7h-0.7zM52.7 223.9h0.7v0.7h-0.7zM65.1 204.5h0.7v0.7h-0.7zM61.6 211.1h0.7v0.7h-0.7zM59.7 215.4h0.7v0.7h-0.7zM54.7 219.4h0.7v0.7h-0.7zM54.3 230.4h0.7v0.7h-0.7zM50.6 218.7h0.7v0.7h-0.7zM58.9 230.5h0.7v0.7h-0.7zM52.4 218.8h0.7v0.7h-0.7zM48.3 228.2h0.7v0.7h-0.7zM53.1 225.0h0.7v0.7h-0.7zM72.5 218.3h0.7v0.7h-0.7zM59.9 205.3h0.7v0.7h-0.7zM43.2 223.6h0.7v0.7h-0.7zM47.4 235.6h0.7v0.7h-0.7zM50.9 208.9h0.7v0.7h-0.7zM55.9 234.6h0.7v0.7h-0.7zM54.2 231.6h0.7v0.7h-0.7zM55.2 222.0h0.7v0.7h-0.7zM50.6 228.7h0.7v0.7h-0.7zM52.5 224.0h0.7v0.7h-0.7zM67.7 217.8h0.7v0.7h-0.7zM48.5 224.0h0.7v0.7h-0.7zM54.7 219.9h0.7v0.7h-0.7zM62.2 231.9h0.7v0.7h-0.7zM47.1 229.2h0.7v0.7h-0.7zM72.4 221.3h0.7v0.7h-0.7zM51.3 220.8h0.7v0.7h-0.7zM40.3 236.9h0.7v0.7h-0.7zM59.5 220.6h0.7v0.7h-0.7zM61.5 217.4h0.7v0.7h-0.7zM51.7 220.9h0.7v0.7h-0.7zM78.0 212.0h0.7v0.7h-0.7zM49.5 233.8h0.7v0.7h-0.7zM47.9 239.3h0.7v0.7h-0.7zM56.2 224.6h0.7v0.7h-0.7zM59.1 214.9h0.7v0.7h-0.7zM68.8 218.0h0.7v0.7h-0.7zM57.3 217.5h0.7v0.7h-0.7zM63.6 202.2h0.7v0.7h-0.7zM52.5 221.9h0.7v0.7h-0.7zM51.0 229.0h0.7v0.7h-0.7zM57.8 216.5h0.7v0.7h-0.7zM52.8 228.1h0.7v0.7h-0.7zM59.2 207.3h0.7v0.7h-0.7zM44.6 227.0h0.7v0.7h-0.7zM64.3 218.3h0.7v0.7h-0.7zM50.9 228.9h0.7v0.7h-0.7zM64.6 221.1h0.7v0.7h-0.7zM46.2 232.2h0.7v0.7h-0.7zM57.5 241.5h0.7v0.7h-0.7zM47.4 221.9h0.7v0.7h-0.7zM54.0 220.6h0.7v0.7h-0.7zM54.6 216.2h0.7v0.7h-0.7zM45.1 236.0h0.7v0.7h-0.7zM55.8 227.5h0.7v0.7h-0.7zM59.2 216.2h0.7v0.7h-0.7zM47.2 230.9h0.7v0.7h-0.7zM48.0 239.9h0.7v0.7h-0.7zM56.3 222.7h0.7v0.7h-0.7zM45.5 220.0h0.7v0.7h-0.7zM38.9 228.4h0.7v0.7h-0.7zM52.2 220.0h0.7v0.7h-0.7zM51.6 213.9h0.7v0.7h-0.7zM44.6 227.9h0.7v0.7h-0.7zM62.5 213.6h0.7v0.7h-0.7zM46.7 215.4h0.7v0.7h-0.7zM58.9 211.8h0.7v0.7h-0.7zM58.7 222.4h0.7v0.7h-0.7zM58.7 217.8h0.7v0.7h-0.7zM54.9 216.6h0.7v0.7h-0.7zM44.3 221.8h0.7v0.7h-0.7zM66.2 209.9h0.7v0.7h-0.7zM49.2 231.3h0.7v0.7h-0.7zM49.0 232.8h0.7v0.7h-0.7zM53.8 221.2h0.7v0.7h-0.7zM54.1 210.9h0.7v0.7h-0.7zM51.7 209.3h0.7v0.7h-0.7zM53.3 226.8h0.7v0.7h-0.7zM59.5 226.7h0.7v0.7h-0.7zM48.2 222.2h0.7v0.7h-0.7zM44.6 235.4h0.7v0.7h-0.7zM58.6 235.6h0.7v0.7h-0.7zM52.7 214.3h0.7v0.7h-0.7zM59.7 217.1h0.7v0.7h-0.7zM53.6 229.0h0.7v0.7h-0.7zM57.5 226.4h0.7v0.7h-0.7zM55.6 212.7h0.7v0.7h-0.7zM47.2 231.9h0.7v0.7h-0.7zM56.8 234.6h0.7v0.7h-0.7zM53.0 228.4h0.7v0.7h-0.7zM51.7 234.7h0.7v0.7h-0.7zM67.2 212.8h0.7v0.7h-0.7zM57.2 228.0h0.7v0.7h-0.7zM50.1 224.6h0.7v0.7h-0.7zM56.6 222.5h0.7v0.7h-0.7zM46.8 217.5h0.7v0.7h-0.7zM57.8 223.4h0.7v0.7h-0.7zM45.3 220.6h0.7v0.7h-0.7zM57.3 225.7h0.7v0.7h-0.7zM58.8 220.6h0.7v0.7h-0.7zM49.2 224.0h0.7v0.7h-0.7zM52.4 222.3h0.7v0.7h-0.7zM65.8 237.8h0.7v0.7h-0.7zM64.4 209.8h0.7v0.7h-0.7zM51.3 228.2h0.7v0.7h-0.7zM53.1 217.9h0.7v0.7h-0.7zM41.8 219.2h0.7v0.7h-0.7zM48.6 225.4h0.7v0.7h-0.7zM62.0 225.0h0.7v0.7h-0.7zM58.1 227.1h0.7v0.7h-0.7zM55.6 219.2h0.7v0.7h-0.7zM44.2 229.3h0.7v0.7h-0.7zM64.4 217.0h0.7v0.7h-0.7zM62.8 219.0h0.7v0.7h-0.7zM41.7 226.6h0.7v0.7h-0.7zM42.8 227.2h0.7v0.7h-0.7zM51.0 229.6h0.7v0.7h-0.7zM51.0 232.6h0.7v0.7h-0.7zM53.4 227.6h0.7v0.7h-0.7zM50.2 231.3h0.7v0.7h-0.7zM47.7 228.7h0.7v0.7h-0.7zM62.1 226.3h0.7v0.7h-0.7zM59.8 219.4h0.7v0.7h-0.7zM52.3 223.1h0.7v0.7h-0.7zM58.3 214.0h0.7v0.7h-0.7zM53.8 223.4h0.7v0.7h-0.7zM52.6 228.5h0.7v0.7h-0.7zM39.3 227.4h0.7v0.7h-0.7zM58.4 215.4h0.7v0.7h-0.7zM50.9 224.3h0.7v0.7h-0.7zM60.9 221.9h0.7v0.7h-0.7zM64.4 210.1h0.7v0.7h-0.7zM56.4 221.7h0.7v0.7h-0.7zM48.2 227.5h0.7v0.7h-0.7zM57.5 235.7h0.7v0.7h-0.7zM43.2 231.4h0.7v0.7h-0.7zM53.7 220.6h0.7v0.7h-0.7zM49.9 223.7h0.7v0.7h-0.7zM56.7 224.9h0.7v0.7h-0.7zM54.8 220.2h0.7v0.7h-0.7zM47.9 228.3h0.7v0.7h-0.7zM53.5 219.2h0.7v0.7h-0.7zM58.1 215.5h0.7v0.7h-0.7zM62.0 209.9h0.7v0.7h-0.7zM53.9 227.5h0.7v0.7h-0.7zM45.2 233.1h0.7v0.7h-0.7zM48.3 223.7h0.7v0.7h-0.7zM60.1 219.3h0.7v0.7h-0.7zM49.1 228.2h0.7v0.7h-0.7zM53.7 224.4h0.7v0.7h-0.7zM60.1 228.1h0.7v0.7h-0.7zM51.5 211.0h0.7v0.7h-0.7zM59.4 223.6h0.7v0.7h-0.7zM60.9 203.3h0.7v0.7h-0.7zM48.3 234.6h0.7v0.7h-0.7zM61.1 201.3h0.7v0.7h-0.7zM60.2 219.4h0.7v0.7h-0.7zM55.4 218.6h0.7v0.7h-0.7zM48.6 222.6h0.7v0.7h-0.7zM57.1 227.7h0.7v0.7h-0.7zM46.9 228.3h0.7v0.7h-0.7zM51.4 226.1h0.7v0.7h-0.7zM47.3 224.2h0.7v0.7h-0.7zM51.3 234.3h0.7v0.7h-0.7zM52.7 225.5h0.7v0.7h-0.7zM47.6 227.0h0.7v0.7h-0.7zM52.6 232.8h0.7v0.7h-0.7z" fill="#444" opacity="0.7" clip-path="url(#cB1)"/>
<path d="M59.7 204.4h0.7v0.7h-0.7zM61.6 207.4h0.7v0.7h-0.7zM57.6 209.8h0.7v0.7h-0.7zM67.6 209.2h0.7v0.7h-0.7zM68.6 209.2h0.7v0.7h-0.7zM56.2 206.3h0.7v0.7h-0.7zM59.9 210.0h0.7v0.7h-0.7zM67.5 208.4h0.7v0.7h-0.7zM68.0 205.6h0.7v0.7h-0.7zM61.3 212.4h0.7v0.7h-0.7zM64.6 211.1h0.7v0.7h-0.7zM50.8 203.1h0.7v0.7h-0.7zM56.9 211.0h0.7v0.7h-0.7zM71.6 206.2h0.7v0.7h-0.7zM56.2 205.0h0.7v0.7h-0.7zM56.7 209.7h0.7v0.7h-0.7zM60.2 213.6h0.7v0.7h-0.7zM66.3 206.0h0.7v0.7h-0.7zM63.4 207.6h0.7v0.7h-0.7zM66.7 210.7h0.7v0.7h-0.7zM60.0 210.6h0.7v0.7h-0.7zM65.4 207.8h0.7v0.7h-0.7zM63.5 210.0h0.7v0.7h-0.7zM60.1 206.0h0.7v0.7h-0.7zM69.5 208.0h0.7v0.7h-0.7zM58.5 209.4h0.7v0.7h-0.7zM53.3 208.2h0.7v0.7h-0.7zM54.0 206.7h0.7v0.7h-0.7zM51.5 205.9h0.7v0.7h-0.7zM67.3 207.5h0.7v0.7h-0.7zM54.9 213.1h0.7v0.7h-0.7zM58.3 212.4h0.7v0.7h-0.7zM58.9 203.7h0.7v0.7h-0.7zM72.9 206.7h0.7v0.7h-0.7zM66.5 211.5h0.7v0.7h-0.7zM54.3 208.2h0.7v0.7h-0.7zM58.6 209.8h0.7v0.7h-0.7zM62.0 204.3h0.7v0.7h-0.7zM62.4 210.3h0.7v0.7h-0.7zM60.3 209.7h0.7v0.7h-0.7zM58.9 207.9h0.7v0.7h-0.7zM64.1 208.4h0.7v0.7h-0.7zM69.5 210.8h0.7v0.7h-0.7zM67.0 210.1h0.7v0.7h-0.7zM63.0 204.6h0.7v0.7h-0.7zM68.3 213.1h0.7v0.7h-0.7zM63.4 207.3h0.7v0.7h-0.7zM61.8 211.6h0.7v0.7h-0.7zM63.7 205.1h0.7v0.7h-0.7zM61.0 205.8h0.7v0.7h-0.7zM60.9 205.4h0.7v0.7h-0.7zM56.9 212.4h0.7v0.7h-0.7zM68.2 203.3h0.7v0.7h-0.7zM56.3 206.7h0.7v0.7h-0.7zM59.8 204.0h0.7v0.7h-0.7zM67.3 203.3h0.7v0.7h-0.7zM66.1 210.1h0.7v0.7h-0.7zM59.9 206.1h0.7v0.7h-0.7zM62.4 208.5h0.7v0.7h-0.7zM49.7 204.3h0.7v0.7h-0.7zM65.2 207.7h0.7v0.7h-0.7zM59.6 205.1h0.7v0.7h-0.7zM57.9 205.8h0.7v0.7h-0.7zM78.4 204.3h0.7v0.7h-0.7zM71.0 209.4h0.7v0.7h-0.7zM63.3 208.6h0.7v0.7h-0.7zM59.8 212.7h0.7v0.7h-0.7zM65.0 207.9h0.7v0.7h-0.7zM61.3 208.6h0.7v0.7h-0.7zM55.4 207.1h0.7v0.7h-0.7zM58.4 209.8h0.7v0.7h-0.7zM65.6 202.6h0.7v0.7h-0.7zM60.7 210.9h0.7v0.7h-0.7zM54.5 204.6h0.7v0.7h-0.7zM67.9 207.6h0.7v0.7h-0.7zM59.4 204.5h0.7v0.7h-0.7zM63.0 206.4h0.7v0.7h-0.7zM63.3 209.3h0.7v0.7h-0.7zM66.2 207.1h0.7v0.7h-0.7zM59.0 208.1h0.7v0.7h-0.7zM61.5 208.5h0.7v0.7h-0.7zM58.9 207.3h0.7v0.7h-0.7zM58.6 206.3h0.7v0.7h-0.7zM63.0 211.4h0.7v0.7h-0.7zM58.9 209.7h0.7v0.7h-0.7zM64.1 208.3h0.7v0.7h-0.7zM66.0 206.4h0.7v0.7h-0.7zM65.4 208.9h0.7v0.7h-0.7zM41.6 209.1h0.7v0.7h-0.7zM65.6 213.8h0.7v0.7h-0.7zM55.8 208.3h0.7v0.7h-0.7zM64.1 205.2h0.7v0.7h-0.7zM69.1 209.3h0.7v0.7h-0.7zM57.4 204.5h0.7v0.7h-0.7zM59.6 215.0h0.7v0.7h-0.7zM74.7 200.8h0.7v0.7h-0.7zM51.4 210.0h0.7v0.7h-0.7zM61.4 206.2h0.7v0.7h-0.7zM65.6 208.3h0.7v0.7h-0.7zM63.7 208.8h0.7v0.7h-0.7zM55.7 211.9h0.7v0.7h-0.7zM59.3 211.4h0.7v0.7h-0.7zM66.1 208.1h0.7v0.7h-0.7zM62.9 207.9h0.7v0.7h-0.7zM51.2 207.1h0.7v0.7h-0.7zM64.6 203.3h0.7v0.7h-0.7zM53.3 211.2h0.7v0.7h-0.7zM66.8 203.5h0.7v0.7h-0.7zM64.8 207.9h0.7v0.7h-0.7zM67.8 207.1h0.7v0.7h-0.7zM60.7 205.8h0.7v0.7h-0.7zM63.1 207.6h0.7v0.7h-0.7zM58.2 207.0h0.7v0.7h-0.7zM57.6 209.9h0.7v0.7h-0.7zM56.0 203.4h0.7v0.7h-0.7zM56.4 211.2h0.7v0.7h-0.7zM59.0 209.9h0.7v0.7h-0.7zM66.4 206.5h0.7v0.7h-0.7zM66.5 209.5h0.7v0.7h-0.7zM61.8 205.9h0.7v0.7h-0.7z" fill="#666" opacity="0.6" clip-path="url(#cB1)"/>
<g clip-path="url(#cB1)"><ellipse cx="57" cy="196" rx="12" ry="6.5" fill="#9a9a9a" opacity="0.8" filter="url(#b20)"/></g>
<path d="M56.6 190.7h0.7v0.7h-0.7zM55.0 193.6h0.7v0.7h-0.7zM60.3 197.4h0.7v0.7h-0.7zM52.3 199.6h0.7v0.7h-0.7zM65.8 196.3h0.7v0.7h-0.7zM51.6 198.1h0.7v0.7h-0.7zM39.0 193.6h0.7v0.7h-0.7zM61.3 204.3h0.7v0.7h-0.7zM51.6 202.3h0.7v0.7h-0.7zM74.3 203.8h0.7v0.7h-0.7zM39.6 200.6h0.7v0.7h-0.7zM58.5 200.2h0.7v0.7h-0.7zM55.7 193.5h0.7v0.7h-0.7zM55.3 202.2h0.7v0.7h-0.7zM63.3 194.8h0.7v0.7h-0.7zM59.9 199.6h0.7v0.7h-0.7zM61.2 195.8h0.7v0.7h-0.7zM52.2 192.9h0.7v0.7h-0.7zM53.8 193.7h0.7v0.7h-0.7zM45.3 190.1h0.7v0.7h-0.7zM63.5 191.4h0.7v0.7h-0.7zM47.3 195.8h0.7v0.7h-0.7zM67.8 201.3h0.7v0.7h-0.7zM54.0 191.7h0.7v0.7h-0.7zM53.0 192.2h0.7v0.7h-0.7zM52.9 198.0h0.7v0.7h-0.7zM49.1 192.8h0.7v0.7h-0.7zM55.1 195.9h0.7v0.7h-0.7zM51.3 192.7h0.7v0.7h-0.7zM48.6 192.9h0.7v0.7h-0.7zM60.9 195.0h0.7v0.7h-0.7zM33.9 198.6h0.7v0.7h-0.7zM56.5 192.4h0.7v0.7h-0.7zM55.1 183.4h0.7v0.7h-0.7zM44.7 200.9h0.7v0.7h-0.7zM72.9 205.1h0.7v0.7h-0.7zM51.5 196.2h0.7v0.7h-0.7zM62.8 190.9h0.7v0.7h-0.7zM70.0 193.0h0.7v0.7h-0.7zM59.6 191.2h0.7v0.7h-0.7zM59.7 195.9h0.7v0.7h-0.7zM65.1 191.2h0.7v0.7h-0.7zM56.9 203.6h0.7v0.7h-0.7zM48.1 197.5h0.7v0.7h-0.7zM60.3 193.9h0.7v0.7h-0.7zM55.0 201.9h0.7v0.7h-0.7zM65.5 198.4h0.7v0.7h-0.7zM59.0 191.3h0.7v0.7h-0.7zM57.7 203.5h0.7v0.7h-0.7zM64.9 190.3h0.7v0.7h-0.7zM41.5 193.2h0.7v0.7h-0.7zM58.2 193.7h0.7v0.7h-0.7zM54.7 197.4h0.7v0.7h-0.7zM63.7 196.9h0.7v0.7h-0.7zM66.4 190.0h0.7v0.7h-0.7zM60.5 197.8h0.7v0.7h-0.7zM45.8 201.3h0.7v0.7h-0.7zM45.0 189.9h0.7v0.7h-0.7zM77.0 201.4h0.7v0.7h-0.7zM59.8 201.7h0.7v0.7h-0.7zM65.6 191.3h0.7v0.7h-0.7zM60.6 201.9h0.7v0.7h-0.7zM55.8 196.3h0.7v0.7h-0.7zM53.5 199.1h0.7v0.7h-0.7zM52.8 193.5h0.7v0.7h-0.7zM47.8 192.1h0.7v0.7h-0.7zM58.7 198.0h0.7v0.7h-0.7zM54.1 191.6h0.7v0.7h-0.7zM59.6 197.5h0.7v0.7h-0.7zM66.6 193.9h0.7v0.7h-0.7zM53.9 198.2h0.7v0.7h-0.7zM68.5 195.8h0.7v0.7h-0.7zM56.4 192.0h0.7v0.7h-0.7zM54.2 200.0h0.7v0.7h-0.7zM63.4 200.7h0.7v0.7h-0.7zM44.6 199.5h0.7v0.7h-0.7zM50.0 198.5h0.7v0.7h-0.7zM39.1 195.6h0.7v0.7h-0.7zM50.3 201.4h0.7v0.7h-0.7zM57.9 201.5h0.7v0.7h-0.7zM53.7 204.3h0.7v0.7h-0.7zM53.7 204.0h0.7v0.7h-0.7zM53.3 191.9h0.7v0.7h-0.7zM63.8 194.3h0.7v0.7h-0.7zM56.6 190.3h0.7v0.7h-0.7zM54.4 196.5h0.7v0.7h-0.7zM51.7 197.7h0.7v0.7h-0.7zM39.6 199.8h0.7v0.7h-0.7zM53.9 202.2h0.7v0.7h-0.7zM54.4 193.2h0.7v0.7h-0.7zM53.6 197.2h0.7v0.7h-0.7zM61.5 194.0h0.7v0.7h-0.7zM51.0 197.8h0.7v0.7h-0.7zM63.3 188.6h0.7v0.7h-0.7zM49.1 193.2h0.7v0.7h-0.7zM70.0 201.2h0.7v0.7h-0.7zM63.1 198.1h0.7v0.7h-0.7zM48.5 200.8h0.7v0.7h-0.7zM53.7 192.6h0.7v0.7h-0.7zM71.7 189.9h0.7v0.7h-0.7zM67.5 196.9h0.7v0.7h-0.7zM50.0 196.8h0.7v0.7h-0.7zM50.6 196.8h0.7v0.7h-0.7zM52.1 191.0h0.7v0.7h-0.7zM77.2 193.9h0.7v0.7h-0.7zM64.5 195.8h0.7v0.7h-0.7zM62.2 190.6h0.7v0.7h-0.7zM49.1 182.1h0.7v0.7h-0.7zM64.6 197.9h0.7v0.7h-0.7zM48.1 199.6h0.7v0.7h-0.7zM61.5 208.5h0.7v0.7h-0.7zM58.8 199.9h0.7v0.7h-0.7zM61.7 199.3h0.7v0.7h-0.7zM56.8 194.2h0.7v0.7h-0.7zM62.4 201.3h0.7v0.7h-0.7zM48.2 191.2h0.7v0.7h-0.7zM56.7 203.7h0.7v0.7h-0.7zM55.4 188.8h0.7v0.7h-0.7zM63.2 199.2h0.7v0.7h-0.7zM71.8 196.8h0.7v0.7h-0.7zM72.0 192.9h0.7v0.7h-0.7zM63.9 196.6h0.7v0.7h-0.7zM48.0 194.8h0.7v0.7h-0.7zM67.1 200.8h0.7v0.7h-0.7zM54.2 200.7h0.7v0.7h-0.7zM63.9 199.8h0.7v0.7h-0.7zM59.2 197.3h0.7v0.7h-0.7zM50.8 195.7h0.7v0.7h-0.7zM58.0 192.9h0.7v0.7h-0.7zM54.9 196.7h0.7v0.7h-0.7zM58.7 200.5h0.7v0.7h-0.7zM49.2 194.3h0.7v0.7h-0.7zM59.1 194.4h0.7v0.7h-0.7zM59.6 194.0h0.7v0.7h-0.7zM66.0 195.0h0.7v0.7h-0.7zM48.4 199.2h0.7v0.7h-0.7zM69.7 187.8h0.7v0.7h-0.7zM56.1 196.3h0.7v0.7h-0.7zM64.9 202.4h0.7v0.7h-0.7zM55.8 189.4h0.7v0.7h-0.7zM62.1 200.3h0.7v0.7h-0.7zM60.6 196.4h0.7v0.7h-0.7zM50.9 206.4h0.7v0.7h-0.7zM47.9 189.6h0.7v0.7h-0.7zM64.5 197.2h0.7v0.7h-0.7zM62.1 197.5h0.7v0.7h-0.7zM69.8 202.1h0.7v0.7h-0.7zM52.9 200.3h0.7v0.7h-0.7zM48.1 188.8h0.7v0.7h-0.7zM66.2 194.2h0.7v0.7h-0.7zM40.8 195.9h0.7v0.7h-0.7zM52.0 198.2h0.7v0.7h-0.7zM56.6 192.8h0.7v0.7h-0.7zM51.6 199.3h0.7v0.7h-0.7zM50.0 196.6h0.7v0.7h-0.7zM49.6 197.9h0.7v0.7h-0.7zM70.6 198.4h0.7v0.7h-0.7zM65.5 197.9h0.7v0.7h-0.7zM49.8 194.8h0.7v0.7h-0.7zM57.6 197.9h0.7v0.7h-0.7zM52.5 198.6h0.7v0.7h-0.7zM51.6 196.3h0.7v0.7h-0.7zM57.0 191.1h0.7v0.7h-0.7zM64.7 196.2h0.7v0.7h-0.7zM57.9 195.9h0.7v0.7h-0.7zM41.1 190.1h0.7v0.7h-0.7zM50.3 200.2h0.7v0.7h-0.7zM52.7 198.6h0.7v0.7h-0.7zM49.3 192.4h0.7v0.7h-0.7zM53.5 200.5h0.7v0.7h-0.7zM44.5 195.3h0.7v0.7h-0.7zM60.1 196.6h0.7v0.7h-0.7zM56.9 199.3h0.7v0.7h-0.7zM59.2 191.8h0.7v0.7h-0.7zM61.9 192.7h0.7v0.7h-0.7zM54.5 202.2h0.7v0.7h-0.7zM75.5 202.2h0.7v0.7h-0.7zM60.3 192.7h0.7v0.7h-0.7zM51.3 203.1h0.7v0.7h-0.7zM59.6 190.2h0.7v0.7h-0.7zM68.9 198.5h0.7v0.7h-0.7zM67.0 197.7h0.7v0.7h-0.7zM40.7 192.9h0.7v0.7h-0.7zM56.0 195.3h0.7v0.7h-0.7zM68.5 193.2h0.7v0.7h-0.7zM56.3 195.8h0.7v0.7h-0.7zM56.4 191.6h0.7v0.7h-0.7zM47.8 185.1h0.7v0.7h-0.7zM59.6 195.2h0.7v0.7h-0.7zM58.6 191.6h0.7v0.7h-0.7zM57.1 191.9h0.7v0.7h-0.7zM49.4 197.5h0.7v0.7h-0.7zM61.9 198.5h0.7v0.7h-0.7zM56.7 194.4h0.7v0.7h-0.7zM67.6 201.3h0.7v0.7h-0.7zM52.3 191.4h0.7v0.7h-0.7zM59.9 197.4h0.7v0.7h-0.7zM50.1 205.7h0.7v0.7h-0.7zM41.2 192.5h0.7v0.7h-0.7zM58.9 200.2h0.7v0.7h-0.7zM43.0 194.2h0.7v0.7h-0.7zM67.9 202.0h0.7v0.7h-0.7zM55.1 196.2h0.7v0.7h-0.7zM50.4 197.7h0.7v0.7h-0.7zM49.1 187.4h0.7v0.7h-0.7zM45.5 196.3h0.7v0.7h-0.7zM47.1 200.7h0.7v0.7h-0.7zM66.7 200.2h0.7v0.7h-0.7zM62.0 200.8h0.7v0.7h-0.7zM59.0 199.7h0.7v0.7h-0.7zM60.6 199.3h0.7v0.7h-0.7zM49.4 193.2h0.7v0.7h-0.7zM49.5 199.5h0.7v0.7h-0.7zM60.9 192.7h0.7v0.7h-0.7zM49.6 193.6h0.7v0.7h-0.7zM63.6 195.5h0.7v0.7h-0.7zM55.2 193.1h0.7v0.7h-0.7zM56.1 202.8h0.7v0.7h-0.7zM51.8 194.5h0.7v0.7h-0.7zM69.9 199.1h0.7v0.7h-0.7zM48.4 200.6h0.7v0.7h-0.7zM47.5 198.4h0.7v0.7h-0.7zM38.0 191.8h0.7v0.7h-0.7zM64.0 193.5h0.7v0.7h-0.7zM51.6 196.3h0.7v0.7h-0.7zM57.1 194.0h0.7v0.7h-0.7zM51.9 203.6h0.7v0.7h-0.7zM68.3 197.4h0.7v0.7h-0.7zM48.4 193.8h0.7v0.7h-0.7zM54.9 198.1h0.7v0.7h-0.7zM69.2 193.8h0.7v0.7h-0.7zM58.2 194.2h0.7v0.7h-0.7zM58.1 193.1h0.7v0.7h-0.7zM59.9 200.9h0.7v0.7h-0.7zM54.1 194.6h0.7v0.7h-0.7zM57.9 190.5h0.7v0.7h-0.7zM70.7 190.4h0.7v0.7h-0.7zM54.3 192.3h0.7v0.7h-0.7zM68.4 194.0h0.7v0.7h-0.7zM53.2 204.0h0.7v0.7h-0.7zM56.1 192.7h0.7v0.7h-0.7zM57.0 196.9h0.7v0.7h-0.7zM51.4 195.3h0.7v0.7h-0.7zM55.5 199.1h0.7v0.7h-0.7zM62.9 199.6h0.7v0.7h-0.7zM56.1 199.4h0.7v0.7h-0.7zM55.5 200.9h0.7v0.7h-0.7zM60.1 194.2h0.7v0.7h-0.7zM66.4 189.6h0.7v0.7h-0.7zM49.7 192.7h0.7v0.7h-0.7zM56.1 190.8h0.7v0.7h-0.7zM48.0 188.0h0.7v0.7h-0.7zM57.9 192.8h0.7v0.7h-0.7zM73.6 199.3h0.7v0.7h-0.7zM48.4 201.6h0.7v0.7h-0.7zM57.9 200.6h0.7v0.7h-0.7zM48.7 200.9h0.7v0.7h-0.7zM65.4 194.3h0.7v0.7h-0.7zM50.6 194.4h0.7v0.7h-0.7zM59.0 206.2h0.7v0.7h-0.7zM70.7 202.4h0.7v0.7h-0.7zM55.4 194.6h0.7v0.7h-0.7zM59.8 194.9h0.7v0.7h-0.7zM53.5 195.2h0.7v0.7h-0.7zM63.4 195.7h0.7v0.7h-0.7zM58.9 194.9h0.7v0.7h-0.7zM55.6 194.6h0.7v0.7h-0.7zM66.6 197.0h0.7v0.7h-0.7zM68.3 195.3h0.7v0.7h-0.7zM65.1 190.2h0.7v0.7h-0.7zM54.0 195.8h0.7v0.7h-0.7zM52.3 195.5h0.7v0.7h-0.7zM50.1 195.3h0.7v0.7h-0.7zM52.0 196.0h0.7v0.7h-0.7zM54.8 191.8h0.7v0.7h-0.7zM54.0 196.2h0.7v0.7h-0.7zM47.5 196.4h0.7v0.7h-0.7zM66.5 195.1h0.7v0.7h-0.7zM61.2 198.7h0.7v0.7h-0.7zM51.0 201.6h0.7v0.7h-0.7zM76.0 191.7h0.7v0.7h-0.7zM73.2 193.0h0.7v0.7h-0.7zM68.1 188.4h0.7v0.7h-0.7zM65.6 196.6h0.7v0.7h-0.7zM47.4 192.6h0.7v0.7h-0.7zM49.2 192.2h0.7v0.7h-0.7zM59.9 195.3h0.7v0.7h-0.7zM38.1 194.7h0.7v0.7h-0.7zM60.6 196.4h0.7v0.7h-0.7zM69.8 188.3h0.7v0.7h-0.7zM58.9 196.2h0.7v0.7h-0.7zM62.5 190.4h0.7v0.7h-0.7zM47.2 195.3h0.7v0.7h-0.7zM57.6 188.4h0.7v0.7h-0.7zM59.8 196.0h0.7v0.7h-0.7zM62.6 185.0h0.7v0.7h-0.7zM60.8 192.3h0.7v0.7h-0.7zM53.5 199.3h0.7v0.7h-0.7zM69.8 196.7h0.7v0.7h-0.7zM56.2 201.6h0.7v0.7h-0.7zM50.3 195.4h0.7v0.7h-0.7zM53.2 191.9h0.7v0.7h-0.7zM58.5 204.6h0.7v0.7h-0.7zM58.9 198.1h0.7v0.7h-0.7zM56.8 200.8h0.7v0.7h-0.7zM58.4 192.3h0.7v0.7h-0.7zM57.8 202.1h0.7v0.7h-0.7zM56.4 201.1h0.7v0.7h-0.7zM56.5 204.6h0.7v0.7h-0.7zM59.2 198.8h0.7v0.7h-0.7zM54.9 199.6h0.7v0.7h-0.7zM55.3 189.8h0.7v0.7h-0.7zM59.3 190.9h0.7v0.7h-0.7zM68.2 199.4h0.7v0.7h-0.7zM57.2 198.9h0.7v0.7h-0.7zM37.5 202.5h0.7v0.7h-0.7zM52.2 198.9h0.7v0.7h-0.7zM76.4 189.2h0.7v0.7h-0.7zM53.9 197.5h0.7v0.7h-0.7zM60.2 188.9h0.7v0.7h-0.7zM50.0 202.3h0.7v0.7h-0.7zM52.5 198.4h0.7v0.7h-0.7zM46.7 192.2h0.7v0.7h-0.7zM43.3 197.2h0.7v0.7h-0.7zM65.8 196.4h0.7v0.7h-0.7zM55.0 197.1h0.7v0.7h-0.7zM60.6 194.8h0.7v0.7h-0.7zM61.2 204.3h0.7v0.7h-0.7zM73.8 193.6h0.7v0.7h-0.7zM47.5 204.1h0.7v0.7h-0.7zM64.5 201.2h0.7v0.7h-0.7zM61.6 195.1h0.7v0.7h-0.7zM64.4 200.8h0.7v0.7h-0.7zM65.9 191.4h0.7v0.7h-0.7zM64.8 194.6h0.7v0.7h-0.7zM54.4 197.5h0.7v0.7h-0.7zM54.4 205.8h0.7v0.7h-0.7zM61.3 197.2h0.7v0.7h-0.7zM55.6 197.1h0.7v0.7h-0.7zM55.3 198.5h0.7v0.7h-0.7zM63.6 199.6h0.7v0.7h-0.7zM47.6 194.6h0.7v0.7h-0.7zM57.7 190.9h0.7v0.7h-0.7zM59.9 195.4h0.7v0.7h-0.7zM57.5 197.7h0.7v0.7h-0.7zM52.4 202.6h0.7v0.7h-0.7zM64.9 193.7h0.7v0.7h-0.7zM60.6 199.2h0.7v0.7h-0.7zM51.3 194.5h0.7v0.7h-0.7zM62.3 185.1h0.7v0.7h-0.7zM47.1 197.4h0.7v0.7h-0.7zM61.8 192.1h0.7v0.7h-0.7zM63.5 205.4h0.7v0.7h-0.7zM58.7 195.9h0.7v0.7h-0.7zM57.6 191.8h0.7v0.7h-0.7zM61.2 196.8h0.7v0.7h-0.7zM62.7 202.1h0.7v0.7h-0.7zM57.4 196.8h0.7v0.7h-0.7zM59.5 203.4h0.7v0.7h-0.7zM46.1 196.0h0.7v0.7h-0.7zM52.4 196.6h0.7v0.7h-0.7zM63.4 196.3h0.7v0.7h-0.7zM62.6 196.8h0.7v0.7h-0.7zM51.7 193.3h0.7v0.7h-0.7zM46.7 197.0h0.7v0.7h-0.7zM54.1 199.6h0.7v0.7h-0.7zM64.4 192.3h0.7v0.7h-0.7zM48.9 198.6h0.7v0.7h-0.7zM50.5 196.9h0.7v0.7h-0.7zM61.7 194.4h0.7v0.7h-0.7zM70.5 192.8h0.7v0.7h-0.7zM60.3 194.3h0.7v0.7h-0.7zM35.4 195.3h0.7v0.7h-0.7zM55.9 198.5h0.7v0.7h-0.7zM56.1 193.0h0.7v0.7h-0.7zM53.2 194.8h0.7v0.7h-0.7zM62.8 194.9h0.7v0.7h-0.7zM66.4 199.7h0.7v0.7h-0.7zM51.5 200.4h0.7v0.7h-0.7zM40.0 196.2h0.7v0.7h-0.7zM49.7 195.6h0.7v0.7h-0.7zM65.8 196.1h0.7v0.7h-0.7zM55.8 201.4h0.7v0.7h-0.7zM51.4 192.6h0.7v0.7h-0.7zM64.4 198.6h0.7v0.7h-0.7zM46.3 196.7h0.7v0.7h-0.7zM63.0 195.4h0.7v0.7h-0.7zM54.0 196.6h0.7v0.7h-0.7zM58.7 193.1h0.7v0.7h-0.7zM63.4 189.4h0.7v0.7h-0.7zM56.5 205.1h0.7v0.7h-0.7zM49.1 195.9h0.7v0.7h-0.7zM40.0 192.6h0.7v0.7h-0.7zM48.4 196.3h0.7v0.7h-0.7zM53.4 203.8h0.7v0.7h-0.7zM50.1 195.9h0.7v0.7h-0.7zM58.7 198.8h0.7v0.7h-0.7zM63.8 189.5h0.7v0.7h-0.7zM73.6 194.7h0.7v0.7h-0.7zM51.7 189.1h0.7v0.7h-0.7zM53.7 188.6h0.7v0.7h-0.7zM58.5 193.5h0.7v0.7h-0.7zM59.5 192.7h0.7v0.7h-0.7zM57.6 205.4h0.7v0.7h-0.7zM65.9 196.7h0.7v0.7h-0.7zM49.7 202.2h0.7v0.7h-0.7zM44.3 190.1h0.7v0.7h-0.7zM66.8 193.5h0.7v0.7h-0.7zM67.2 198.5h0.7v0.7h-0.7zM73.5 203.6h0.7v0.7h-0.7zM61.5 193.4h0.7v0.7h-0.7zM61.5 201.9h0.7v0.7h-0.7zM58.1 183.8h0.7v0.7h-0.7zM54.2 194.5h0.7v0.7h-0.7zM56.6 194.6h0.7v0.7h-0.7zM65.7 190.7h0.7v0.7h-0.7zM60.4 187.7h0.7v0.7h-0.7zM40.7 191.8h0.7v0.7h-0.7zM51.4 192.3h0.7v0.7h-0.7zM51.8 198.6h0.7v0.7h-0.7zM61.4 196.4h0.7v0.7h-0.7zM58.5 193.1h0.7v0.7h-0.7zM49.6 190.0h0.7v0.7h-0.7zM53.9 191.2h0.7v0.7h-0.7zM54.6 199.1h0.7v0.7h-0.7zM61.2 201.6h0.7v0.7h-0.7zM50.0 186.8h0.7v0.7h-0.7zM48.7 204.4h0.7v0.7h-0.7zM62.3 194.2h0.7v0.7h-0.7zM67.0 194.3h0.7v0.7h-0.7zM69.6 194.3h0.7v0.7h-0.7zM54.0 198.9h0.7v0.7h-0.7zM48.4 195.3h0.7v0.7h-0.7zM71.6 197.8h0.7v0.7h-0.7zM48.7 194.9h0.7v0.7h-0.7zM56.8 192.8h0.7v0.7h-0.7zM60.1 201.3h0.7v0.7h-0.7zM57.4 199.7h0.7v0.7h-0.7zM59.2 196.6h0.7v0.7h-0.7zM51.4 200.1h0.7v0.7h-0.7zM67.2 194.1h0.7v0.7h-0.7zM50.4 198.2h0.7v0.7h-0.7zM57.8 200.7h0.7v0.7h-0.7zM60.7 195.5h0.7v0.7h-0.7zM46.6 198.6h0.7v0.7h-0.7zM57.7 190.7h0.7v0.7h-0.7zM45.8 188.3h0.7v0.7h-0.7zM61.7 194.2h0.7v0.7h-0.7zM32.0 192.3h0.7v0.7h-0.7zM52.2 195.5h0.7v0.7h-0.7zM57.3 194.6h0.7v0.7h-0.7zM62.6 200.3h0.7v0.7h-0.7zM55.3 202.6h0.7v0.7h-0.7zM56.0 192.4h0.7v0.7h-0.7zM58.2 190.0h0.7v0.7h-0.7zM54.7 191.5h0.7v0.7h-0.7zM53.8 196.8h0.7v0.7h-0.7zM38.6 197.6h0.7v0.7h-0.7zM58.9 195.1h0.7v0.7h-0.7zM62.4 197.4h0.7v0.7h-0.7zM54.2 191.8h0.7v0.7h-0.7zM62.5 199.2h0.7v0.7h-0.7zM45.9 192.9h0.7v0.7h-0.7zM48.1 199.5h0.7v0.7h-0.7zM52.7 190.7h0.7v0.7h-0.7zM68.3 197.9h0.7v0.7h-0.7zM58.7 197.0h0.7v0.7h-0.7zM55.6 196.1h0.7v0.7h-0.7zM63.7 197.8h0.7v0.7h-0.7zM53.5 196.4h0.7v0.7h-0.7zM71.0 193.6h0.7v0.7h-0.7zM47.1 196.5h0.7v0.7h-0.7zM48.4 207.0h0.7v0.7h-0.7zM61.7 198.4h0.7v0.7h-0.7zM59.7 204.3h0.7v0.7h-0.7zM49.3 195.8h0.7v0.7h-0.7zM44.4 201.2h0.7v0.7h-0.7zM56.4 203.4h0.7v0.7h-0.7zM54.9 191.6h0.7v0.7h-0.7zM51.7 199.4h0.7v0.7h-0.7zM50.8 197.1h0.7v0.7h-0.7zM51.5 193.0h0.7v0.7h-0.7zM52.7 202.8h0.7v0.7h-0.7zM48.8 197.3h0.7v0.7h-0.7zM63.0 192.8h0.7v0.7h-0.7zM45.6 202.3h0.7v0.7h-0.7zM70.0 194.9h0.7v0.7h-0.7zM47.9 199.6h0.7v0.7h-0.7zM56.6 192.5h0.7v0.7h-0.7zM54.0 185.9h0.7v0.7h-0.7zM50.8 190.8h0.7v0.7h-0.7zM47.0 198.4h0.7v0.7h-0.7zM58.9 203.1h0.7v0.7h-0.7zM36.7 193.1h0.7v0.7h-0.7zM50.6 201.6h0.7v0.7h-0.7zM64.7 196.5h0.7v0.7h-0.7zM57.6 192.8h0.7v0.7h-0.7zM53.0 194.1h0.7v0.7h-0.7zM37.8 204.0h0.7v0.7h-0.7zM62.5 204.8h0.7v0.7h-0.7z" fill="#555" opacity="0.7" clip-path="url(#cB1)"/>
<g clip-path="url(#cB1)"><ellipse cx="57.4" cy="196.4" rx="9.8" ry="4.2" fill="#353535" opacity="1.0" filter="url(#b05)"/></g>
<path d="M86.9 226.9h0.7v0.7h-0.7zM85.3 213.7h0.7v0.7h-0.7zM77.9 229.1h0.7v0.7h-0.7zM80.4 214.1h0.7v0.7h-0.7zM81.9 216.1h0.7v0.7h-0.7zM81.9 233.4h0.7v0.7h-0.7zM77.4 221.2h0.7v0.7h-0.7zM84.2 223.7h0.7v0.7h-0.7zM82.7 218.8h0.7v0.7h-0.7zM80.6 209.5h0.7v0.7h-0.7zM81.2 231.7h0.7v0.7h-0.7zM77.4 222.8h0.7v0.7h-0.7zM84.8 231.3h0.7v0.7h-0.7zM86.6 218.5h0.7v0.7h-0.7zM80.2 234.5h0.7v0.7h-0.7zM80.0 225.6h0.7v0.7h-0.7zM78.5 219.9h0.7v0.7h-0.7zM69.9 220.6h0.7v0.7h-0.7zM73.0 217.7h0.7v0.7h-0.7zM77.9 232.1h0.7v0.7h-0.7zM85.0 226.3h0.7v0.7h-0.7zM79.8 215.4h0.7v0.7h-0.7zM83.9 218.8h0.7v0.7h-0.7zM81.4 229.6h0.7v0.7h-0.7zM81.1 223.7h0.7v0.7h-0.7zM77.9 230.2h0.7v0.7h-0.7zM84.1 228.2h0.7v0.7h-0.7zM88.5 214.0h0.7v0.7h-0.7zM82.0 227.8h0.7v0.7h-0.7zM83.3 225.7h0.7v0.7h-0.7zM83.8 214.5h0.7v0.7h-0.7zM81.6 230.9h0.7v0.7h-0.7zM81.7 222.7h0.7v0.7h-0.7zM85.3 213.2h0.7v0.7h-0.7zM83.5 233.1h0.7v0.7h-0.7zM80.9 218.8h0.7v0.7h-0.7zM84.0 221.1h0.7v0.7h-0.7zM78.6 224.8h0.7v0.7h-0.7zM75.2 227.9h0.7v0.7h-0.7zM77.0 220.5h0.7v0.7h-0.7zM84.8 223.7h0.7v0.7h-0.7zM82.9 232.2h0.7v0.7h-0.7zM88.1 236.5h0.7v0.7h-0.7zM79.7 229.4h0.7v0.7h-0.7zM75.2 228.7h0.7v0.7h-0.7zM87.2 219.4h0.7v0.7h-0.7zM83.8 228.9h0.7v0.7h-0.7zM81.2 220.0h0.7v0.7h-0.7zM88.0 215.8h0.7v0.7h-0.7zM82.6 229.6h0.7v0.7h-0.7zM82.8 233.5h0.7v0.7h-0.7zM87.9 226.7h0.7v0.7h-0.7zM89.1 228.4h0.7v0.7h-0.7zM76.9 221.9h0.7v0.7h-0.7zM83.0 225.0h0.7v0.7h-0.7zM75.0 237.8h0.7v0.7h-0.7zM75.6 217.0h0.7v0.7h-0.7zM83.7 225.1h0.7v0.7h-0.7zM88.1 225.2h0.7v0.7h-0.7zM83.4 228.3h0.7v0.7h-0.7zM78.9 216.0h0.7v0.7h-0.7zM80.0 230.1h0.7v0.7h-0.7zM80.8 231.5h0.7v0.7h-0.7zM79.7 228.5h0.7v0.7h-0.7zM82.0 229.0h0.7v0.7h-0.7zM82.0 225.1h0.7v0.7h-0.7zM80.0 231.5h0.7v0.7h-0.7zM81.8 226.9h0.7v0.7h-0.7zM84.6 218.4h0.7v0.7h-0.7zM78.6 223.6h0.7v0.7h-0.7zM87.1 217.5h0.7v0.7h-0.7zM77.8 217.9h0.7v0.7h-0.7zM80.3 217.4h0.7v0.7h-0.7zM78.6 227.1h0.7v0.7h-0.7zM77.5 223.8h0.7v0.7h-0.7zM77.1 222.7h0.7v0.7h-0.7zM84.0 211.7h0.7v0.7h-0.7zM82.1 225.3h0.7v0.7h-0.7zM81.7 225.4h0.7v0.7h-0.7zM83.6 216.0h0.7v0.7h-0.7zM81.4 227.8h0.7v0.7h-0.7zM87.2 215.6h0.7v0.7h-0.7zM79.5 215.6h0.7v0.7h-0.7zM81.8 217.4h0.7v0.7h-0.7zM77.9 228.6h0.7v0.7h-0.7zM91.0 211.4h0.7v0.7h-0.7zM88.6 218.3h0.7v0.7h-0.7zM84.7 226.0h0.7v0.7h-0.7zM86.9 222.6h0.7v0.7h-0.7zM78.6 223.5h0.7v0.7h-0.7zM85.1 218.5h0.7v0.7h-0.7zM83.6 223.9h0.7v0.7h-0.7zM82.7 224.0h0.7v0.7h-0.7zM84.4 228.8h0.7v0.7h-0.7zM80.8 221.8h0.7v0.7h-0.7zM73.2 218.6h0.7v0.7h-0.7zM75.8 228.0h0.7v0.7h-0.7zM77.6 219.7h0.7v0.7h-0.7zM84.1 229.9h0.7v0.7h-0.7zM86.9 218.7h0.7v0.7h-0.7zM82.9 230.4h0.7v0.7h-0.7zM78.5 222.5h0.7v0.7h-0.7zM77.0 220.0h0.7v0.7h-0.7zM84.8 224.5h0.7v0.7h-0.7zM80.5 220.5h0.7v0.7h-0.7zM88.1 228.5h0.7v0.7h-0.7zM76.9 237.0h0.7v0.7h-0.7zM80.3 223.0h0.7v0.7h-0.7zM80.0 220.5h0.7v0.7h-0.7zM84.5 215.1h0.7v0.7h-0.7zM82.1 221.9h0.7v0.7h-0.7zM89.0 226.3h0.7v0.7h-0.7zM83.7 227.1h0.7v0.7h-0.7zM84.3 224.7h0.7v0.7h-0.7zM72.1 226.5h0.7v0.7h-0.7zM80.7 228.2h0.7v0.7h-0.7zM83.2 220.6h0.7v0.7h-0.7zM78.3 217.8h0.7v0.7h-0.7zM83.1 223.3h0.7v0.7h-0.7zM78.4 221.7h0.7v0.7h-0.7zM83.4 219.9h0.7v0.7h-0.7zM81.4 220.3h0.7v0.7h-0.7zM71.5 224.5h0.7v0.7h-0.7zM82.2 228.8h0.7v0.7h-0.7zM87.2 219.5h0.7v0.7h-0.7zM84.4 225.6h0.7v0.7h-0.7zM82.3 228.9h0.7v0.7h-0.7zM85.5 216.3h0.7v0.7h-0.7zM87.9 222.9h0.7v0.7h-0.7zM79.3 219.8h0.7v0.7h-0.7zM81.1 217.1h0.7v0.7h-0.7zM86.3 226.5h0.7v0.7h-0.7zM78.3 228.9h0.7v0.7h-0.7zM82.9 224.4h0.7v0.7h-0.7zM85.8 223.4h0.7v0.7h-0.7zM80.9 227.0h0.7v0.7h-0.7zM74.6 216.7h0.7v0.7h-0.7zM84.0 230.4h0.7v0.7h-0.7zM75.2 224.0h0.7v0.7h-0.7zM79.3 222.2h0.7v0.7h-0.7zM84.4 233.0h0.7v0.7h-0.7zM89.1 229.7h0.7v0.7h-0.7zM84.5 224.8h0.7v0.7h-0.7zM74.4 226.3h0.7v0.7h-0.7zM77.2 217.2h0.7v0.7h-0.7zM82.4 214.4h0.7v0.7h-0.7zM89.1 227.6h0.7v0.7h-0.7zM83.4 226.9h0.7v0.7h-0.7zM82.9 224.3h0.7v0.7h-0.7zM84.8 219.9h0.7v0.7h-0.7zM83.1 225.0h0.7v0.7h-0.7zM85.1 217.3h0.7v0.7h-0.7zM83.0 223.2h0.7v0.7h-0.7zM84.5 227.2h0.7v0.7h-0.7zM82.7 226.7h0.7v0.7h-0.7zM83.7 232.2h0.7v0.7h-0.7zM83.2 227.2h0.7v0.7h-0.7zM78.2 222.7h0.7v0.7h-0.7zM85.1 230.3h0.7v0.7h-0.7zM78.0 223.7h0.7v0.7h-0.7zM80.9 224.3h0.7v0.7h-0.7zM80.0 221.4h0.7v0.7h-0.7zM81.7 224.7h0.7v0.7h-0.7zM86.1 218.8h0.7v0.7h-0.7zM78.1 228.7h0.7v0.7h-0.7zM84.0 222.8h0.7v0.7h-0.7zM77.3 230.3h0.7v0.7h-0.7zM77.7 230.8h0.7v0.7h-0.7zM83.0 223.1h0.7v0.7h-0.7zM81.3 228.9h0.7v0.7h-0.7zM82.0 213.5h0.7v0.7h-0.7zM79.2 211.0h0.7v0.7h-0.7zM83.6 229.5h0.7v0.7h-0.7zM86.1 215.8h0.7v0.7h-0.7zM90.5 234.9h0.7v0.7h-0.7zM81.5 212.0h0.7v0.7h-0.7zM78.5 230.2h0.7v0.7h-0.7zM90.3 220.7h0.7v0.7h-0.7zM74.6 218.1h0.7v0.7h-0.7zM89.6 223.9h0.7v0.7h-0.7zM76.3 211.3h0.7v0.7h-0.7zM84.5 228.8h0.7v0.7h-0.7zM80.0 222.8h0.7v0.7h-0.7zM82.3 221.9h0.7v0.7h-0.7zM79.8 220.5h0.7v0.7h-0.7zM79.6 231.4h0.7v0.7h-0.7zM83.6 230.1h0.7v0.7h-0.7zM89.3 210.2h0.7v0.7h-0.7zM81.7 229.7h0.7v0.7h-0.7zM81.1 220.3h0.7v0.7h-0.7zM83.6 220.8h0.7v0.7h-0.7zM78.6 222.1h0.7v0.7h-0.7zM82.2 224.0h0.7v0.7h-0.7zM85.6 224.1h0.7v0.7h-0.7zM80.1 242.3h0.7v0.7h-0.7zM81.0 222.3h0.7v0.7h-0.7zM81.4 219.7h0.7v0.7h-0.7zM75.6 225.1h0.7v0.7h-0.7zM87.8 213.0h0.7v0.7h-0.7zM78.9 226.5h0.7v0.7h-0.7z" fill="#666" opacity="0.6" clip-path="url(#cB1)"/>
<path d="M77.3 206.5h0.7v0.7h-0.7zM86.4 192.6h0.7v0.7h-0.7zM83.4 197.7h0.7v0.7h-0.7zM94.5 180.3h0.7v0.7h-0.7zM79.4 216.0h0.7v0.7h-0.7zM82.3 205.4h0.7v0.7h-0.7zM78.7 205.0h0.7v0.7h-0.7zM86.6 190.7h0.7v0.7h-0.7zM85.7 179.1h0.7v0.7h-0.7zM83.9 205.3h0.7v0.7h-0.7zM86.6 207.3h0.7v0.7h-0.7zM90.7 191.7h0.7v0.7h-0.7zM76.0 194.1h0.7v0.7h-0.7zM79.6 205.6h0.7v0.7h-0.7zM82.5 201.1h0.7v0.7h-0.7zM81.7 205.3h0.7v0.7h-0.7zM82.2 206.2h0.7v0.7h-0.7zM80.5 201.1h0.7v0.7h-0.7zM79.8 189.8h0.7v0.7h-0.7zM79.6 206.4h0.7v0.7h-0.7zM84.3 188.4h0.7v0.7h-0.7zM90.1 196.9h0.7v0.7h-0.7zM78.1 190.6h0.7v0.7h-0.7zM86.1 178.2h0.7v0.7h-0.7zM74.4 217.8h0.7v0.7h-0.7zM82.1 193.9h0.7v0.7h-0.7zM87.5 205.8h0.7v0.7h-0.7zM76.9 215.3h0.7v0.7h-0.7zM77.2 200.1h0.7v0.7h-0.7zM84.1 205.7h0.7v0.7h-0.7zM80.5 192.0h0.7v0.7h-0.7zM91.1 205.3h0.7v0.7h-0.7zM77.2 212.4h0.7v0.7h-0.7zM74.4 199.0h0.7v0.7h-0.7zM69.1 212.5h0.7v0.7h-0.7zM77.5 202.1h0.7v0.7h-0.7zM77.7 202.4h0.7v0.7h-0.7zM83.9 203.6h0.7v0.7h-0.7zM80.1 204.6h0.7v0.7h-0.7zM83.3 197.8h0.7v0.7h-0.7zM82.2 212.0h0.7v0.7h-0.7zM80.0 191.0h0.7v0.7h-0.7zM77.8 204.2h0.7v0.7h-0.7zM70.2 214.7h0.7v0.7h-0.7zM82.1 204.4h0.7v0.7h-0.7zM89.3 197.6h0.7v0.7h-0.7zM82.7 207.4h0.7v0.7h-0.7zM92.4 195.6h0.7v0.7h-0.7zM86.7 211.1h0.7v0.7h-0.7zM79.7 213.3h0.7v0.7h-0.7zM82.1 200.7h0.7v0.7h-0.7zM87.7 201.3h0.7v0.7h-0.7zM82.4 217.7h0.7v0.7h-0.7zM82.8 205.0h0.7v0.7h-0.7zM82.9 193.3h0.7v0.7h-0.7zM93.0 196.1h0.7v0.7h-0.7zM81.8 205.9h0.7v0.7h-0.7zM80.9 195.0h0.7v0.7h-0.7zM71.3 221.3h0.7v0.7h-0.7zM79.0 216.6h0.7v0.7h-0.7zM88.1 216.2h0.7v0.7h-0.7zM90.2 201.4h0.7v0.7h-0.7zM73.9 215.2h0.7v0.7h-0.7zM93.1 196.3h0.7v0.7h-0.7zM86.7 207.9h0.7v0.7h-0.7zM82.6 213.5h0.7v0.7h-0.7zM93.6 200.8h0.7v0.7h-0.7zM77.8 214.8h0.7v0.7h-0.7zM79.3 207.7h0.7v0.7h-0.7zM88.5 187.2h0.7v0.7h-0.7zM76.6 210.3h0.7v0.7h-0.7zM85.7 187.9h0.7v0.7h-0.7zM79.8 203.1h0.7v0.7h-0.7zM83.5 207.1h0.7v0.7h-0.7zM88.9 194.4h0.7v0.7h-0.7zM82.6 194.9h0.7v0.7h-0.7zM78.8 206.4h0.7v0.7h-0.7zM89.6 203.5h0.7v0.7h-0.7zM83.3 215.5h0.7v0.7h-0.7zM80.3 193.5h0.7v0.7h-0.7zM88.4 190.7h0.7v0.7h-0.7zM98.2 189.4h0.7v0.7h-0.7zM73.9 208.2h0.7v0.7h-0.7zM76.4 208.4h0.7v0.7h-0.7zM74.0 211.2h0.7v0.7h-0.7zM77.1 208.9h0.7v0.7h-0.7zM92.8 191.3h0.7v0.7h-0.7zM85.0 185.4h0.7v0.7h-0.7zM74.0 209.7h0.7v0.7h-0.7zM79.2 211.1h0.7v0.7h-0.7zM85.2 215.5h0.7v0.7h-0.7zM87.5 200.7h0.7v0.7h-0.7zM79.5 205.5h0.7v0.7h-0.7zM82.5 215.0h0.7v0.7h-0.7zM85.0 201.2h0.7v0.7h-0.7zM76.0 218.5h0.7v0.7h-0.7zM76.3 222.4h0.7v0.7h-0.7zM76.0 210.1h0.7v0.7h-0.7zM80.7 210.8h0.7v0.7h-0.7zM77.8 205.1h0.7v0.7h-0.7zM83.3 200.7h0.7v0.7h-0.7zM82.3 188.0h0.7v0.7h-0.7zM78.9 207.8h0.7v0.7h-0.7zM82.8 206.1h0.7v0.7h-0.7zM89.1 191.5h0.7v0.7h-0.7zM87.2 206.0h0.7v0.7h-0.7zM81.1 196.9h0.7v0.7h-0.7zM86.4 207.0h0.7v0.7h-0.7zM67.0 219.7h0.7v0.7h-0.7zM69.3 216.5h0.7v0.7h-0.7zM90.2 195.7h0.7v0.7h-0.7zM83.6 217.4h0.7v0.7h-0.7zM84.9 211.4h0.7v0.7h-0.7zM83.2 206.0h0.7v0.7h-0.7zM79.0 205.0h0.7v0.7h-0.7zM88.8 204.8h0.7v0.7h-0.7zM97.4 192.8h0.7v0.7h-0.7zM88.2 189.8h0.7v0.7h-0.7zM73.5 202.5h0.7v0.7h-0.7zM83.1 197.7h0.7v0.7h-0.7zM78.5 199.3h0.7v0.7h-0.7zM75.8 198.6h0.7v0.7h-0.7zM84.8 190.9h0.7v0.7h-0.7zM91.4 187.0h0.7v0.7h-0.7zM83.5 206.7h0.7v0.7h-0.7zM84.5 205.7h0.7v0.7h-0.7zM87.2 202.5h0.7v0.7h-0.7zM76.1 204.9h0.7v0.7h-0.7zM80.2 198.7h0.7v0.7h-0.7zM86.6 195.1h0.7v0.7h-0.7zM92.8 191.1h0.7v0.7h-0.7zM88.3 205.4h0.7v0.7h-0.7zM86.2 216.9h0.7v0.7h-0.7zM84.6 207.4h0.7v0.7h-0.7zM88.2 191.0h0.7v0.7h-0.7zM83.5 193.7h0.7v0.7h-0.7zM79.7 200.9h0.7v0.7h-0.7zM78.3 203.3h0.7v0.7h-0.7zM83.1 198.7h0.7v0.7h-0.7zM82.6 208.5h0.7v0.7h-0.7zM77.5 198.1h0.7v0.7h-0.7zM96.0 209.0h0.7v0.7h-0.7zM88.0 196.1h0.7v0.7h-0.7zM81.3 219.5h0.7v0.7h-0.7zM85.7 203.3h0.7v0.7h-0.7zM89.7 186.0h0.7v0.7h-0.7zM86.4 201.7h0.7v0.7h-0.7zM83.0 207.6h0.7v0.7h-0.7zM75.7 223.2h0.7v0.7h-0.7zM89.2 199.2h0.7v0.7h-0.7zM83.0 210.4h0.7v0.7h-0.7zM77.5 216.5h0.7v0.7h-0.7zM87.4 186.6h0.7v0.7h-0.7zM76.2 205.0h0.7v0.7h-0.7zM77.4 203.0h0.7v0.7h-0.7zM74.1 204.2h0.7v0.7h-0.7zM84.7 194.6h0.7v0.7h-0.7zM81.0 199.9h0.7v0.7h-0.7zM85.9 207.3h0.7v0.7h-0.7zM81.0 204.5h0.7v0.7h-0.7zM84.9 209.4h0.7v0.7h-0.7zM93.3 200.1h0.7v0.7h-0.7zM85.9 206.1h0.7v0.7h-0.7zM77.4 207.8h0.7v0.7h-0.7zM82.7 214.0h0.7v0.7h-0.7zM88.0 196.3h0.7v0.7h-0.7zM81.9 207.3h0.7v0.7h-0.7zM89.8 207.7h0.7v0.7h-0.7zM77.4 218.1h0.7v0.7h-0.7zM84.5 199.5h0.7v0.7h-0.7zM81.0 211.1h0.7v0.7h-0.7zM89.5 188.3h0.7v0.7h-0.7zM77.0 211.9h0.7v0.7h-0.7zM75.9 210.0h0.7v0.7h-0.7zM86.3 196.4h0.7v0.7h-0.7zM94.2 185.2h0.7v0.7h-0.7zM78.7 185.3h0.7v0.7h-0.7zM86.0 201.9h0.7v0.7h-0.7zM85.7 203.9h0.7v0.7h-0.7zM85.1 198.9h0.7v0.7h-0.7zM77.0 211.8h0.7v0.7h-0.7zM91.0 192.6h0.7v0.7h-0.7zM77.7 223.1h0.7v0.7h-0.7zM89.5 196.2h0.7v0.7h-0.7zM85.2 206.8h0.7v0.7h-0.7zM77.5 211.8h0.7v0.7h-0.7zM90.1 201.0h0.7v0.7h-0.7zM84.6 200.1h0.7v0.7h-0.7zM76.6 218.1h0.7v0.7h-0.7zM78.4 207.9h0.7v0.7h-0.7zM83.4 204.7h0.7v0.7h-0.7zM75.1 207.1h0.7v0.7h-0.7zM74.8 208.1h0.7v0.7h-0.7zM81.6 204.6h0.7v0.7h-0.7zM83.6 194.8h0.7v0.7h-0.7zM77.8 201.7h0.7v0.7h-0.7zM81.1 205.9h0.7v0.7h-0.7zM78.4 210.0h0.7v0.7h-0.7zM82.7 204.8h0.7v0.7h-0.7zM81.5 202.9h0.7v0.7h-0.7zM88.1 198.2h0.7v0.7h-0.7zM75.6 204.8h0.7v0.7h-0.7zM84.4 204.5h0.7v0.7h-0.7zM88.5 192.0h0.7v0.7h-0.7zM78.1 201.6h0.7v0.7h-0.7zM87.0 192.1h0.7v0.7h-0.7zM91.7 186.9h0.7v0.7h-0.7zM92.1 196.1h0.7v0.7h-0.7zM83.8 192.9h0.7v0.7h-0.7zM77.6 198.1h0.7v0.7h-0.7zM75.1 196.9h0.7v0.7h-0.7zM84.4 201.0h0.7v0.7h-0.7zM87.8 190.2h0.7v0.7h-0.7zM79.0 187.9h0.7v0.7h-0.7zM86.2 208.3h0.7v0.7h-0.7zM68.1 215.7h0.7v0.7h-0.7zM81.4 214.5h0.7v0.7h-0.7zM82.3 217.2h0.7v0.7h-0.7zM74.5 201.0h0.7v0.7h-0.7zM71.9 219.6h0.7v0.7h-0.7zM85.7 204.6h0.7v0.7h-0.7zM89.2 183.7h0.7v0.7h-0.7zM86.1 195.9h0.7v0.7h-0.7zM86.0 212.7h0.7v0.7h-0.7zM83.6 199.7h0.7v0.7h-0.7zM89.5 200.6h0.7v0.7h-0.7zM86.8 207.3h0.7v0.7h-0.7zM79.9 206.2h0.7v0.7h-0.7zM96.4 192.0h0.7v0.7h-0.7zM83.2 211.5h0.7v0.7h-0.7zM76.0 216.3h0.7v0.7h-0.7zM83.6 209.6h0.7v0.7h-0.7zM75.8 206.8h0.7v0.7h-0.7zM74.8 205.6h0.7v0.7h-0.7zM95.7 199.2h0.7v0.7h-0.7zM93.6 196.4h0.7v0.7h-0.7zM80.2 210.1h0.7v0.7h-0.7zM74.7 203.7h0.7v0.7h-0.7zM81.3 196.3h0.7v0.7h-0.7zM86.7 204.2h0.7v0.7h-0.7zM84.3 204.3h0.7v0.7h-0.7zM78.5 218.3h0.7v0.7h-0.7zM84.2 201.0h0.7v0.7h-0.7zM80.0 210.0h0.7v0.7h-0.7zM92.5 184.6h0.7v0.7h-0.7zM80.6 207.2h0.7v0.7h-0.7zM96.7 202.8h0.7v0.7h-0.7zM85.6 192.3h0.7v0.7h-0.7zM88.7 187.1h0.7v0.7h-0.7zM79.0 201.1h0.7v0.7h-0.7zM76.6 198.1h0.7v0.7h-0.7zM74.7 213.6h0.7v0.7h-0.7zM82.0 225.7h0.7v0.7h-0.7zM80.7 209.8h0.7v0.7h-0.7zM95.8 201.8h0.7v0.7h-0.7zM93.7 198.2h0.7v0.7h-0.7zM93.2 191.0h0.7v0.7h-0.7zM81.4 200.8h0.7v0.7h-0.7zM88.6 185.1h0.7v0.7h-0.7zM84.2 200.9h0.7v0.7h-0.7zM87.2 211.5h0.7v0.7h-0.7zM72.1 200.5h0.7v0.7h-0.7zM87.8 204.4h0.7v0.7h-0.7zM84.4 189.5h0.7v0.7h-0.7zM84.3 194.1h0.7v0.7h-0.7zM82.5 199.9h0.7v0.7h-0.7zM92.0 196.7h0.7v0.7h-0.7zM88.1 193.9h0.7v0.7h-0.7zM80.0 213.3h0.7v0.7h-0.7zM84.3 191.4h0.7v0.7h-0.7zM82.6 203.6h0.7v0.7h-0.7zM78.0 206.0h0.7v0.7h-0.7zM80.4 209.7h0.7v0.7h-0.7zM73.4 207.7h0.7v0.7h-0.7zM91.4 198.2h0.7v0.7h-0.7zM90.8 209.2h0.7v0.7h-0.7zM80.5 191.1h0.7v0.7h-0.7zM81.5 196.0h0.7v0.7h-0.7zM80.3 205.6h0.7v0.7h-0.7zM82.8 200.0h0.7v0.7h-0.7zM85.7 182.8h0.7v0.7h-0.7zM83.8 190.7h0.7v0.7h-0.7zM95.6 182.7h0.7v0.7h-0.7zM98.4 179.2h0.7v0.7h-0.7zM81.6 203.1h0.7v0.7h-0.7zM81.0 192.3h0.7v0.7h-0.7zM90.6 195.0h0.7v0.7h-0.7zM81.9 203.6h0.7v0.7h-0.7zM90.2 192.9h0.7v0.7h-0.7zM89.2 204.4h0.7v0.7h-0.7zM92.4 192.2h0.7v0.7h-0.7zM87.9 204.5h0.7v0.7h-0.7zM88.5 198.9h0.7v0.7h-0.7zM86.4 205.2h0.7v0.7h-0.7zM64.5 222.8h0.7v0.7h-0.7zM77.7 206.4h0.7v0.7h-0.7zM83.3 198.8h0.7v0.7h-0.7zM77.4 211.1h0.7v0.7h-0.7zM83.4 213.6h0.7v0.7h-0.7zM72.0 207.8h0.7v0.7h-0.7zM67.0 221.8h0.7v0.7h-0.7zM80.1 214.5h0.7v0.7h-0.7zM82.0 204.6h0.7v0.7h-0.7zM71.8 220.4h0.7v0.7h-0.7zM76.9 212.8h0.7v0.7h-0.7zM79.3 200.4h0.7v0.7h-0.7zM81.1 201.6h0.7v0.7h-0.7zM77.8 208.3h0.7v0.7h-0.7zM91.6 189.7h0.7v0.7h-0.7zM85.4 190.4h0.7v0.7h-0.7zM92.2 193.7h0.7v0.7h-0.7zM84.1 205.6h0.7v0.7h-0.7zM89.6 185.2h0.7v0.7h-0.7zM90.9 205.2h0.7v0.7h-0.7zM81.7 214.4h0.7v0.7h-0.7zM81.6 192.3h0.7v0.7h-0.7zM83.2 224.5h0.7v0.7h-0.7zM79.0 201.0h0.7v0.7h-0.7zM87.5 203.7h0.7v0.7h-0.7zM86.4 211.4h0.7v0.7h-0.7zM79.7 209.4h0.7v0.7h-0.7zM75.6 214.2h0.7v0.7h-0.7zM74.6 214.2h0.7v0.7h-0.7zM100.7 191.8h0.7v0.7h-0.7zM95.9 192.8h0.7v0.7h-0.7zM75.3 220.2h0.7v0.7h-0.7zM85.0 211.6h0.7v0.7h-0.7zM83.6 205.7h0.7v0.7h-0.7zM85.4 202.4h0.7v0.7h-0.7zM85.8 191.4h0.7v0.7h-0.7zM90.7 206.5h0.7v0.7h-0.7zM88.6 213.8h0.7v0.7h-0.7zM88.8 194.0h0.7v0.7h-0.7zM81.2 203.3h0.7v0.7h-0.7zM83.1 200.3h0.7v0.7h-0.7zM73.5 195.3h0.7v0.7h-0.7zM83.2 198.4h0.7v0.7h-0.7zM86.9 188.3h0.7v0.7h-0.7zM73.0 215.5h0.7v0.7h-0.7zM80.1 196.7h0.7v0.7h-0.7zM79.3 200.3h0.7v0.7h-0.7zM72.6 221.0h0.7v0.7h-0.7zM72.6 214.0h0.7v0.7h-0.7zM78.7 206.7h0.7v0.7h-0.7zM94.3 208.0h0.7v0.7h-0.7zM93.2 176.8h0.7v0.7h-0.7zM81.8 200.7h0.7v0.7h-0.7zM82.2 205.8h0.7v0.7h-0.7zM81.0 192.6h0.7v0.7h-0.7zM87.1 202.4h0.7v0.7h-0.7z" fill="#666" opacity="0.6" clip-path="url(#cB1)"/>
<path d="M87.3,187.6 C89.7,188.6 90.4,193 90,196 C89.6,201 88.6,206 87.6,208.5 C86.6,212 85.6,216 82.6,218.6 C80.4,219.2 78.2,218.2 77.2,216.2 C75.2,213 74.6,208 74.8,204 C75.2,200 76.8,197 78.4,195.5 C80.5,193 83,190 84.5,189 C85.5,188.2 86.5,187.8 87.3,188 Z" fill="#2e2e2e" filter="url(#b05)"/>
<path d="M86.9,190.8 C88.1,191.8 88.1,194.8 87.9,197.3 C87.4,201.8 86.4,205.8 85.4,208.3 C84.5,210.8 83.9,212.8 82.4,214.3 C80.9,214.6 79.6,213.8 79.1,212.3 C77.6,209.8 77.1,206.8 77.3,203.8 C77.5,200.8 78.7,198.3 80.1,196.8 C82.1,194.8 84.1,192.3 85.3,191.3 Z" fill="#8e8e8e" filter="url(#b03)"/>
<ellipse cx="81.4" cy="204.8" rx="2.9" ry="6.0" fill="#f4f4f4" opacity="1.0" transform="rotate(12 81.4 204.8)" filter="url(#b03)"/>
<ellipse cx="85.6" cy="194.3" rx="0.7" ry="0.7" fill="#e0e0e0" opacity="1.0"/>
<rect x="34.6" y="175.3" width="63.2" height="67.6" rx="0.8" fill="none" stroke="#777" stroke-width="0.8"/>
<rect x="72.5" y="182.4" width="24.7" height="33.6" fill="none" stroke="#555" stroke-width="0.7"/>
<text x="73.4" y="188.5" font-size="4.6" fill="#222" text-anchor="start" font-weight="normal">CD4</text>
<path d="M30.4,242.5 L30.40,181.00" stroke="#111" stroke-width="0.9" fill="none"/><path d="M30.4,176.0 L32.50,181.00 L28.30,181.00 Z" fill="#111"/>
<path d="M34.3,249.5 L92.40,249.50" stroke="#111" stroke-width="0.9" fill="none"/><path d="M97.4,249.5 L92.40,251.60 L92.40,247.40 Z" fill="#111"/>
<text transform="translate(24.9,209.0) rotate(-90) scale(0.565,1)" font-size="10.5" fill="#111" text-anchor="middle" font-weight="normal" stroke="#111" stroke-width="0.28">CD3</text>
<text transform="translate(65.9,260.9) scale(0.565,1)" font-size="10.5" fill="#111" text-anchor="middle" font-weight="normal" stroke="#111" stroke-width="0.28">CD4</text>
<path d="M133.5 190.6h0.7v0.7h-0.7zM128.1 177.9h0.7v0.7h-0.7zM149.6 203.7h0.7v0.7h-0.7zM141.8 238.8h0.7v0.7h-0.7zM138.5 230.6h0.7v0.7h-0.7zM152.0 182.8h0.7v0.7h-0.7zM120.8 216.2h0.7v0.7h-0.7zM173.2 179.3h0.7v0.7h-0.7zM162.5 191.3h0.7v0.7h-0.7zM161.6 231.0h0.7v0.7h-0.7zM164.1 192.1h0.7v0.7h-0.7zM128.7 239.8h0.7v0.7h-0.7zM175.8 236.9h0.7v0.7h-0.7zM152.5 179.4h0.7v0.7h-0.7zM141.9 236.1h0.7v0.7h-0.7zM123.2 195.5h0.7v0.7h-0.7zM121.6 234.1h0.7v0.7h-0.7zM140.9 181.4h0.7v0.7h-0.7zM141.1 189.4h0.7v0.7h-0.7zM145.9 216.7h0.7v0.7h-0.7zM159.8 182.4h0.7v0.7h-0.7zM152.1 179.7h0.7v0.7h-0.7zM146.4 229.3h0.7v0.7h-0.7zM135.3 230.3h0.7v0.7h-0.7zM134.1 202.0h0.7v0.7h-0.7z" fill="#777" opacity="0.7" clip-path="url(#cB2)"/>
<g clip-path="url(#cB2)"><rect x="140" y="189" width="25.5" height="47" rx="7" fill="#808080" filter="url(#b20)"/></g>
<g clip-path="url(#cB2)"><rect x="153" y="197" width="9" height="27" rx="4" fill="#4e4e4e" filter="url(#b20)"/></g>
<path d="M153.2 212.1h0.7v0.7h-0.7zM144.2 208.2h0.7v0.7h-0.7zM149.0 185.7h0.7v0.7h-0.7zM151.2 205.3h0.7v0.7h-0.7zM155.7 225.5h0.7v0.7h-0.7zM151.1 227.3h0.7v0.7h-0.7zM162.8 222.4h0.7v0.7h-0.7zM150.9 214.8h0.7v0.7h-0.7zM165.7 231.5h0.7v0.7h-0.7zM162.0 193.7h0.7v0.7h-0.7zM136.4 234.2h0.7v0.7h-0.7zM158.8 229.2h0.7v0.7h-0.7zM157.8 210.2h0.7v0.7h-0.7zM156.9 213.2h0.7v0.7h-0.7zM164.7 223.4h0.7v0.7h-0.7zM146.3 204.9h0.7v0.7h-0.7zM161.1 223.9h0.7v0.7h-0.7zM155.6 217.7h0.7v0.7h-0.7zM144.0 203.8h0.7v0.7h-0.7zM157.4 192.6h0.7v0.7h-0.7zM157.2 220.4h0.7v0.7h-0.7zM158.4 223.5h0.7v0.7h-0.7zM167.8 217.1h0.7v0.7h-0.7zM147.3 194.0h0.7v0.7h-0.7zM136.5 214.9h0.7v0.7h-0.7zM160.2 194.4h0.7v0.7h-0.7zM154.8 205.5h0.7v0.7h-0.7zM151.6 216.2h0.7v0.7h-0.7zM153.8 200.0h0.7v0.7h-0.7zM159.2 212.2h0.7v0.7h-0.7zM139.3 222.7h0.7v0.7h-0.7zM165.4 209.2h0.7v0.7h-0.7zM165.6 195.4h0.7v0.7h-0.7zM151.6 228.8h0.7v0.7h-0.7zM163.4 219.7h0.7v0.7h-0.7zM161.5 209.0h0.7v0.7h-0.7zM158.9 224.8h0.7v0.7h-0.7zM160.6 218.1h0.7v0.7h-0.7zM159.8 218.8h0.7v0.7h-0.7zM158.1 195.8h0.7v0.7h-0.7zM158.0 202.9h0.7v0.7h-0.7zM150.6 214.4h0.7v0.7h-0.7zM155.4 198.5h0.7v0.7h-0.7zM149.5 216.5h0.7v0.7h-0.7zM150.4 214.1h0.7v0.7h-0.7zM155.2 216.2h0.7v0.7h-0.7zM149.4 215.8h0.7v0.7h-0.7zM157.8 199.0h0.7v0.7h-0.7zM159.4 202.2h0.7v0.7h-0.7zM156.2 220.8h0.7v0.7h-0.7zM158.3 200.1h0.7v0.7h-0.7zM146.6 200.1h0.7v0.7h-0.7zM157.8 215.3h0.7v0.7h-0.7zM139.9 222.3h0.7v0.7h-0.7zM162.4 207.7h0.7v0.7h-0.7zM152.9 216.5h0.7v0.7h-0.7zM145.8 208.7h0.7v0.7h-0.7zM157.6 209.7h0.7v0.7h-0.7zM153.4 215.0h0.7v0.7h-0.7zM166.4 216.7h0.7v0.7h-0.7zM156.0 208.2h0.7v0.7h-0.7zM162.8 214.5h0.7v0.7h-0.7zM153.2 228.9h0.7v0.7h-0.7zM163.6 203.0h0.7v0.7h-0.7zM151.1 228.4h0.7v0.7h-0.7zM149.9 231.8h0.7v0.7h-0.7zM152.2 236.2h0.7v0.7h-0.7zM146.1 191.2h0.7v0.7h-0.7zM142.5 236.5h0.7v0.7h-0.7zM148.0 208.6h0.7v0.7h-0.7zM149.1 205.1h0.7v0.7h-0.7zM154.6 215.1h0.7v0.7h-0.7zM148.7 207.5h0.7v0.7h-0.7zM163.5 224.7h0.7v0.7h-0.7zM160.9 228.0h0.7v0.7h-0.7zM152.0 223.8h0.7v0.7h-0.7zM165.8 204.1h0.7v0.7h-0.7zM163.7 185.2h0.7v0.7h-0.7zM139.0 196.7h0.7v0.7h-0.7zM145.9 202.4h0.7v0.7h-0.7zM149.7 223.0h0.7v0.7h-0.7zM147.9 209.3h0.7v0.7h-0.7zM143.6 195.1h0.7v0.7h-0.7zM152.0 204.9h0.7v0.7h-0.7zM160.1 214.9h0.7v0.7h-0.7zM139.7 222.0h0.7v0.7h-0.7zM144.3 209.0h0.7v0.7h-0.7zM145.5 204.0h0.7v0.7h-0.7zM148.8 199.8h0.7v0.7h-0.7zM147.8 210.3h0.7v0.7h-0.7zM158.8 221.7h0.7v0.7h-0.7zM166.7 194.8h0.7v0.7h-0.7zM150.4 227.5h0.7v0.7h-0.7zM144.8 211.5h0.7v0.7h-0.7zM158.8 231.3h0.7v0.7h-0.7zM157.6 217.2h0.7v0.7h-0.7zM152.1 220.6h0.7v0.7h-0.7zM154.1 217.4h0.7v0.7h-0.7zM148.4 212.0h0.7v0.7h-0.7zM146.7 200.8h0.7v0.7h-0.7zM146.9 203.7h0.7v0.7h-0.7zM148.2 206.7h0.7v0.7h-0.7zM141.8 216.9h0.7v0.7h-0.7zM155.6 231.3h0.7v0.7h-0.7zM135.5 197.1h0.7v0.7h-0.7zM146.0 203.3h0.7v0.7h-0.7zM153.7 203.6h0.7v0.7h-0.7zM147.4 221.8h0.7v0.7h-0.7zM151.8 194.8h0.7v0.7h-0.7zM160.4 239.2h0.7v0.7h-0.7zM161.7 211.5h0.7v0.7h-0.7zM163.4 212.5h0.7v0.7h-0.7zM150.6 216.3h0.7v0.7h-0.7zM163.0 214.7h0.7v0.7h-0.7zM151.0 197.4h0.7v0.7h-0.7zM154.6 200.9h0.7v0.7h-0.7zM152.5 197.4h0.7v0.7h-0.7zM146.7 202.2h0.7v0.7h-0.7zM148.2 200.2h0.7v0.7h-0.7zM162.5 222.3h0.7v0.7h-0.7zM150.7 201.4h0.7v0.7h-0.7zM161.4 210.5h0.7v0.7h-0.7zM157.5 224.9h0.7v0.7h-0.7zM150.2 218.4h0.7v0.7h-0.7zM156.6 208.4h0.7v0.7h-0.7zM151.9 206.2h0.7v0.7h-0.7zM127.7 208.8h0.7v0.7h-0.7zM165.6 225.0h0.7v0.7h-0.7zM173.6 214.2h0.7v0.7h-0.7zM159.9 206.2h0.7v0.7h-0.7zM147.6 203.3h0.7v0.7h-0.7zM156.6 222.2h0.7v0.7h-0.7zM138.9 221.4h0.7v0.7h-0.7zM160.0 222.4h0.7v0.7h-0.7zM143.6 215.6h0.7v0.7h-0.7zM155.7 198.0h0.7v0.7h-0.7zM144.7 238.6h0.7v0.7h-0.7zM148.1 207.7h0.7v0.7h-0.7zM138.6 206.2h0.7v0.7h-0.7zM163.4 217.8h0.7v0.7h-0.7zM146.8 213.7h0.7v0.7h-0.7zM155.9 220.0h0.7v0.7h-0.7zM145.7 217.6h0.7v0.7h-0.7zM148.2 207.6h0.7v0.7h-0.7zM146.8 204.1h0.7v0.7h-0.7zM156.8 193.1h0.7v0.7h-0.7zM154.7 244.5h0.7v0.7h-0.7zM146.5 210.0h0.7v0.7h-0.7zM152.7 231.2h0.7v0.7h-0.7zM142.5 219.8h0.7v0.7h-0.7zM152.4 235.8h0.7v0.7h-0.7zM151.6 236.1h0.7v0.7h-0.7zM146.0 217.4h0.7v0.7h-0.7zM144.9 206.4h0.7v0.7h-0.7zM143.8 208.6h0.7v0.7h-0.7zM164.8 207.1h0.7v0.7h-0.7zM171.6 231.7h0.7v0.7h-0.7zM155.5 213.4h0.7v0.7h-0.7zM155.5 204.6h0.7v0.7h-0.7zM157.6 214.3h0.7v0.7h-0.7zM138.6 213.7h0.7v0.7h-0.7zM157.5 213.9h0.7v0.7h-0.7zM155.5 213.3h0.7v0.7h-0.7zM149.5 225.3h0.7v0.7h-0.7zM163.6 209.7h0.7v0.7h-0.7zM159.1 200.8h0.7v0.7h-0.7zM162.5 203.8h0.7v0.7h-0.7zM153.5 224.1h0.7v0.7h-0.7zM149.4 213.7h0.7v0.7h-0.7zM160.7 206.9h0.7v0.7h-0.7zM155.7 225.7h0.7v0.7h-0.7zM155.0 204.4h0.7v0.7h-0.7zM150.2 210.4h0.7v0.7h-0.7zM153.3 220.4h0.7v0.7h-0.7zM141.6 212.4h0.7v0.7h-0.7zM154.6 230.4h0.7v0.7h-0.7zM142.3 203.1h0.7v0.7h-0.7zM159.8 212.7h0.7v0.7h-0.7zM161.3 212.7h0.7v0.7h-0.7zM148.3 212.6h0.7v0.7h-0.7zM162.3 221.4h0.7v0.7h-0.7zM154.6 214.8h0.7v0.7h-0.7zM161.1 220.3h0.7v0.7h-0.7zM155.0 221.5h0.7v0.7h-0.7zM153.9 200.6h0.7v0.7h-0.7zM159.8 226.9h0.7v0.7h-0.7zM163.5 212.5h0.7v0.7h-0.7zM144.2 217.8h0.7v0.7h-0.7zM148.8 192.0h0.7v0.7h-0.7zM154.3 204.5h0.7v0.7h-0.7zM153.7 207.7h0.7v0.7h-0.7zM159.2 222.9h0.7v0.7h-0.7zM156.8 226.5h0.7v0.7h-0.7zM149.2 239.9h0.7v0.7h-0.7zM140.4 221.6h0.7v0.7h-0.7zM160.7 208.7h0.7v0.7h-0.7zM154.0 199.7h0.7v0.7h-0.7zM149.9 216.5h0.7v0.7h-0.7zM143.8 191.2h0.7v0.7h-0.7zM150.5 203.7h0.7v0.7h-0.7zM146.0 211.3h0.7v0.7h-0.7zM143.0 225.5h0.7v0.7h-0.7zM161.6 213.6h0.7v0.7h-0.7zM148.8 212.5h0.7v0.7h-0.7zM152.4 204.3h0.7v0.7h-0.7zM148.4 218.0h0.7v0.7h-0.7zM146.5 206.0h0.7v0.7h-0.7zM149.8 201.9h0.7v0.7h-0.7zM155.0 198.8h0.7v0.7h-0.7zM159.9 221.2h0.7v0.7h-0.7zM152.9 222.7h0.7v0.7h-0.7zM161.1 208.8h0.7v0.7h-0.7zM152.7 206.3h0.7v0.7h-0.7zM150.4 208.8h0.7v0.7h-0.7zM153.7 218.9h0.7v0.7h-0.7zM169.2 216.9h0.7v0.7h-0.7zM160.0 210.6h0.7v0.7h-0.7zM165.2 214.5h0.7v0.7h-0.7zM151.8 210.0h0.7v0.7h-0.7zM153.3 208.7h0.7v0.7h-0.7zM154.4 232.9h0.7v0.7h-0.7zM153.6 204.6h0.7v0.7h-0.7zM139.6 211.9h0.7v0.7h-0.7zM145.7 204.5h0.7v0.7h-0.7zM154.1 217.0h0.7v0.7h-0.7zM156.5 226.0h0.7v0.7h-0.7zM146.1 205.8h0.7v0.7h-0.7zM146.7 201.8h0.7v0.7h-0.7zM148.3 203.6h0.7v0.7h-0.7zM158.0 201.1h0.7v0.7h-0.7zM169.0 190.1h0.7v0.7h-0.7zM159.1 195.5h0.7v0.7h-0.7zM149.5 199.4h0.7v0.7h-0.7zM153.1 218.3h0.7v0.7h-0.7zM150.0 205.6h0.7v0.7h-0.7zM145.8 203.6h0.7v0.7h-0.7zM146.8 205.4h0.7v0.7h-0.7zM153.4 222.8h0.7v0.7h-0.7zM147.9 190.4h0.7v0.7h-0.7zM150.3 222.1h0.7v0.7h-0.7zM145.5 216.9h0.7v0.7h-0.7zM144.5 198.7h0.7v0.7h-0.7zM154.5 192.2h0.7v0.7h-0.7zM149.9 182.6h0.7v0.7h-0.7zM145.3 217.0h0.7v0.7h-0.7zM149.2 204.9h0.7v0.7h-0.7zM156.7 202.5h0.7v0.7h-0.7zM144.5 208.1h0.7v0.7h-0.7zM152.3 214.3h0.7v0.7h-0.7zM151.5 225.9h0.7v0.7h-0.7zM156.9 211.1h0.7v0.7h-0.7zM169.5 195.3h0.7v0.7h-0.7zM154.6 204.0h0.7v0.7h-0.7zM168.3 215.9h0.7v0.7h-0.7zM158.7 217.0h0.7v0.7h-0.7zM163.4 206.5h0.7v0.7h-0.7zM159.3 193.5h0.7v0.7h-0.7zM156.9 225.3h0.7v0.7h-0.7zM159.1 219.3h0.7v0.7h-0.7zM139.2 213.6h0.7v0.7h-0.7zM150.3 229.5h0.7v0.7h-0.7zM156.7 219.9h0.7v0.7h-0.7zM162.2 218.5h0.7v0.7h-0.7zM142.8 203.6h0.7v0.7h-0.7zM137.6 226.1h0.7v0.7h-0.7zM151.3 198.3h0.7v0.7h-0.7zM156.3 207.8h0.7v0.7h-0.7zM150.5 227.1h0.7v0.7h-0.7zM137.8 196.2h0.7v0.7h-0.7zM152.0 209.8h0.7v0.7h-0.7zM160.9 208.6h0.7v0.7h-0.7zM156.5 231.7h0.7v0.7h-0.7zM142.8 196.7h0.7v0.7h-0.7zM147.5 210.2h0.7v0.7h-0.7zM144.7 215.4h0.7v0.7h-0.7zM147.1 225.2h0.7v0.7h-0.7zM156.4 220.1h0.7v0.7h-0.7zM154.3 214.8h0.7v0.7h-0.7zM140.9 210.0h0.7v0.7h-0.7zM139.8 227.2h0.7v0.7h-0.7zM144.5 202.4h0.7v0.7h-0.7zM149.4 237.0h0.7v0.7h-0.7zM144.6 231.1h0.7v0.7h-0.7zM153.7 241.3h0.7v0.7h-0.7zM151.1 206.4h0.7v0.7h-0.7zM152.5 206.4h0.7v0.7h-0.7zM147.5 220.4h0.7v0.7h-0.7zM149.4 222.4h0.7v0.7h-0.7zM157.0 222.8h0.7v0.7h-0.7zM164.1 224.4h0.7v0.7h-0.7zM145.8 227.4h0.7v0.7h-0.7zM134.7 226.6h0.7v0.7h-0.7zM161.5 200.7h0.7v0.7h-0.7zM162.0 191.6h0.7v0.7h-0.7zM160.0 208.0h0.7v0.7h-0.7zM150.6 210.6h0.7v0.7h-0.7zM148.6 220.7h0.7v0.7h-0.7zM152.3 212.0h0.7v0.7h-0.7zM153.1 208.5h0.7v0.7h-0.7zM145.4 219.2h0.7v0.7h-0.7zM158.8 199.4h0.7v0.7h-0.7zM159.7 226.6h0.7v0.7h-0.7zM154.0 228.9h0.7v0.7h-0.7zM137.0 227.9h0.7v0.7h-0.7zM147.3 215.9h0.7v0.7h-0.7zM146.0 239.9h0.7v0.7h-0.7zM149.8 220.0h0.7v0.7h-0.7zM142.1 209.3h0.7v0.7h-0.7zM155.8 211.3h0.7v0.7h-0.7zM147.3 229.2h0.7v0.7h-0.7zM141.5 213.5h0.7v0.7h-0.7zM151.5 208.5h0.7v0.7h-0.7zM157.5 215.2h0.7v0.7h-0.7zM151.4 219.9h0.7v0.7h-0.7zM152.2 218.5h0.7v0.7h-0.7zM162.0 215.3h0.7v0.7h-0.7zM153.2 206.2h0.7v0.7h-0.7zM163.0 223.4h0.7v0.7h-0.7zM156.6 216.0h0.7v0.7h-0.7zM146.7 213.6h0.7v0.7h-0.7zM154.9 199.7h0.7v0.7h-0.7zM145.8 211.4h0.7v0.7h-0.7zM166.7 216.7h0.7v0.7h-0.7zM142.2 226.8h0.7v0.7h-0.7zM159.3 220.6h0.7v0.7h-0.7zM148.8 211.4h0.7v0.7h-0.7zM168.7 225.1h0.7v0.7h-0.7zM186.1 192.3h0.7v0.7h-0.7zM141.3 207.9h0.7v0.7h-0.7zM146.1 205.2h0.7v0.7h-0.7zM158.1 227.5h0.7v0.7h-0.7zM142.4 219.1h0.7v0.7h-0.7zM159.0 215.5h0.7v0.7h-0.7zM162.7 225.7h0.7v0.7h-0.7zM146.9 214.2h0.7v0.7h-0.7zM154.8 199.3h0.7v0.7h-0.7zM151.1 224.1h0.7v0.7h-0.7zM155.6 213.0h0.7v0.7h-0.7zM171.7 219.7h0.7v0.7h-0.7zM159.8 203.0h0.7v0.7h-0.7zM161.7 207.8h0.7v0.7h-0.7zM151.5 208.1h0.7v0.7h-0.7zM143.5 219.2h0.7v0.7h-0.7zM143.8 222.0h0.7v0.7h-0.7zM146.9 227.0h0.7v0.7h-0.7zM155.3 225.9h0.7v0.7h-0.7zM144.8 219.1h0.7v0.7h-0.7zM158.3 215.9h0.7v0.7h-0.7zM152.0 206.2h0.7v0.7h-0.7zM129.1 218.5h0.7v0.7h-0.7zM143.6 201.1h0.7v0.7h-0.7zM155.6 183.0h0.7v0.7h-0.7zM147.3 220.5h0.7v0.7h-0.7zM153.1 210.4h0.7v0.7h-0.7zM147.1 214.8h0.7v0.7h-0.7zM141.6 206.5h0.7v0.7h-0.7zM158.7 202.5h0.7v0.7h-0.7zM151.9 208.6h0.7v0.7h-0.7zM143.7 190.7h0.7v0.7h-0.7zM146.5 204.1h0.7v0.7h-0.7zM145.3 212.2h0.7v0.7h-0.7zM155.1 219.9h0.7v0.7h-0.7zM155.5 199.7h0.7v0.7h-0.7zM163.1 216.8h0.7v0.7h-0.7zM158.3 198.4h0.7v0.7h-0.7zM160.8 238.7h0.7v0.7h-0.7zM156.7 225.5h0.7v0.7h-0.7zM148.6 214.7h0.7v0.7h-0.7zM152.5 220.3h0.7v0.7h-0.7zM154.1 215.9h0.7v0.7h-0.7zM146.2 199.5h0.7v0.7h-0.7zM152.8 241.3h0.7v0.7h-0.7zM145.7 218.9h0.7v0.7h-0.7zM162.7 205.7h0.7v0.7h-0.7zM140.9 217.1h0.7v0.7h-0.7zM152.6 203.1h0.7v0.7h-0.7zM164.0 220.9h0.7v0.7h-0.7zM152.9 197.4h0.7v0.7h-0.7zM162.2 225.7h0.7v0.7h-0.7zM159.1 231.3h0.7v0.7h-0.7zM145.3 201.7h0.7v0.7h-0.7zM159.4 218.0h0.7v0.7h-0.7zM152.6 207.4h0.7v0.7h-0.7zM160.5 215.9h0.7v0.7h-0.7zM159.4 200.0h0.7v0.7h-0.7zM153.4 217.7h0.7v0.7h-0.7zM160.5 194.1h0.7v0.7h-0.7zM151.5 205.5h0.7v0.7h-0.7zM153.0 211.4h0.7v0.7h-0.7zM156.1 221.9h0.7v0.7h-0.7zM154.9 212.2h0.7v0.7h-0.7zM159.5 228.9h0.7v0.7h-0.7zM153.5 203.9h0.7v0.7h-0.7zM166.1 223.4h0.7v0.7h-0.7zM169.1 208.3h0.7v0.7h-0.7zM150.1 211.0h0.7v0.7h-0.7zM152.3 196.4h0.7v0.7h-0.7zM159.2 196.1h0.7v0.7h-0.7zM132.4 212.5h0.7v0.7h-0.7zM145.1 216.0h0.7v0.7h-0.7zM144.4 197.6h0.7v0.7h-0.7zM137.8 198.7h0.7v0.7h-0.7zM150.8 237.3h0.7v0.7h-0.7zM158.0 205.7h0.7v0.7h-0.7zM163.0 215.8h0.7v0.7h-0.7zM139.1 193.1h0.7v0.7h-0.7zM141.8 206.4h0.7v0.7h-0.7zM153.3 206.0h0.7v0.7h-0.7zM149.0 202.3h0.7v0.7h-0.7zM154.3 222.0h0.7v0.7h-0.7zM145.1 227.2h0.7v0.7h-0.7zM146.8 209.8h0.7v0.7h-0.7zM165.4 219.9h0.7v0.7h-0.7zM153.3 191.1h0.7v0.7h-0.7zM153.6 209.0h0.7v0.7h-0.7zM151.4 225.6h0.7v0.7h-0.7zM148.9 233.5h0.7v0.7h-0.7zM153.4 214.9h0.7v0.7h-0.7zM150.7 214.1h0.7v0.7h-0.7zM163.1 215.8h0.7v0.7h-0.7zM145.6 204.2h0.7v0.7h-0.7zM161.7 219.3h0.7v0.7h-0.7zM146.7 211.6h0.7v0.7h-0.7zM153.7 219.6h0.7v0.7h-0.7zM145.9 214.2h0.7v0.7h-0.7zM143.4 204.2h0.7v0.7h-0.7zM151.3 228.5h0.7v0.7h-0.7zM152.3 232.0h0.7v0.7h-0.7zM155.9 227.8h0.7v0.7h-0.7zM151.8 192.5h0.7v0.7h-0.7zM136.8 208.1h0.7v0.7h-0.7zM166.3 211.2h0.7v0.7h-0.7zM149.3 220.0h0.7v0.7h-0.7zM150.2 208.7h0.7v0.7h-0.7zM154.5 217.6h0.7v0.7h-0.7zM148.7 203.8h0.7v0.7h-0.7zM165.0 203.1h0.7v0.7h-0.7zM146.3 210.9h0.7v0.7h-0.7zM151.9 216.4h0.7v0.7h-0.7zM164.7 228.0h0.7v0.7h-0.7zM152.7 214.4h0.7v0.7h-0.7zM160.3 211.6h0.7v0.7h-0.7zM154.3 200.5h0.7v0.7h-0.7zM156.0 212.1h0.7v0.7h-0.7zM142.3 215.8h0.7v0.7h-0.7zM169.5 216.9h0.7v0.7h-0.7zM147.1 227.7h0.7v0.7h-0.7zM155.7 215.2h0.7v0.7h-0.7zM164.3 223.5h0.7v0.7h-0.7zM168.6 203.9h0.7v0.7h-0.7zM149.8 212.0h0.7v0.7h-0.7zM154.5 199.5h0.7v0.7h-0.7zM155.2 197.0h0.7v0.7h-0.7zM148.8 210.2h0.7v0.7h-0.7zM154.9 216.7h0.7v0.7h-0.7zM147.4 216.9h0.7v0.7h-0.7zM155.3 212.0h0.7v0.7h-0.7zM153.2 207.2h0.7v0.7h-0.7zM166.5 228.7h0.7v0.7h-0.7zM154.9 228.2h0.7v0.7h-0.7zM146.5 207.1h0.7v0.7h-0.7zM150.6 218.1h0.7v0.7h-0.7zM150.6 202.5h0.7v0.7h-0.7zM141.8 200.4h0.7v0.7h-0.7zM160.0 218.5h0.7v0.7h-0.7zM142.5 234.3h0.7v0.7h-0.7zM149.4 207.8h0.7v0.7h-0.7zM151.8 213.5h0.7v0.7h-0.7zM150.2 212.6h0.7v0.7h-0.7zM158.8 223.4h0.7v0.7h-0.7zM148.0 211.1h0.7v0.7h-0.7zM147.4 208.0h0.7v0.7h-0.7zM152.3 209.4h0.7v0.7h-0.7zM157.4 202.5h0.7v0.7h-0.7zM155.9 221.4h0.7v0.7h-0.7zM150.7 209.3h0.7v0.7h-0.7zM157.5 208.7h0.7v0.7h-0.7zM150.5 215.4h0.7v0.7h-0.7zM134.6 221.0h0.7v0.7h-0.7zM154.8 219.6h0.7v0.7h-0.7zM142.7 208.2h0.7v0.7h-0.7zM156.3 219.3h0.7v0.7h-0.7zM148.6 207.8h0.7v0.7h-0.7zM164.4 216.1h0.7v0.7h-0.7zM162.2 197.7h0.7v0.7h-0.7zM156.2 206.7h0.7v0.7h-0.7zM149.3 227.5h0.7v0.7h-0.7zM145.1 202.3h0.7v0.7h-0.7zM147.8 210.3h0.7v0.7h-0.7zM153.2 217.8h0.7v0.7h-0.7zM162.3 218.4h0.7v0.7h-0.7zM166.1 225.1h0.7v0.7h-0.7zM157.1 211.4h0.7v0.7h-0.7zM163.3 209.6h0.7v0.7h-0.7zM160.4 213.4h0.7v0.7h-0.7zM148.9 220.6h0.7v0.7h-0.7zM158.1 216.5h0.7v0.7h-0.7zM161.1 214.4h0.7v0.7h-0.7zM147.6 214.0h0.7v0.7h-0.7zM166.9 202.0h0.7v0.7h-0.7zM139.5 213.1h0.7v0.7h-0.7zM145.4 228.3h0.7v0.7h-0.7zM154.2 202.5h0.7v0.7h-0.7zM152.6 202.3h0.7v0.7h-0.7zM156.6 223.6h0.7v0.7h-0.7zM162.0 225.0h0.7v0.7h-0.7zM152.9 226.5h0.7v0.7h-0.7zM156.7 198.5h0.7v0.7h-0.7zM163.1 203.0h0.7v0.7h-0.7zM148.6 195.3h0.7v0.7h-0.7zM146.9 189.0h0.7v0.7h-0.7zM143.9 203.5h0.7v0.7h-0.7zM144.2 208.6h0.7v0.7h-0.7zM158.9 209.5h0.7v0.7h-0.7zM156.3 225.6h0.7v0.7h-0.7zM148.5 229.9h0.7v0.7h-0.7zM152.7 212.4h0.7v0.7h-0.7zM155.7 228.4h0.7v0.7h-0.7zM144.0 223.5h0.7v0.7h-0.7zM149.4 214.1h0.7v0.7h-0.7zM145.5 184.2h0.7v0.7h-0.7zM161.7 221.7h0.7v0.7h-0.7zM145.2 202.6h0.7v0.7h-0.7zM144.1 212.5h0.7v0.7h-0.7zM168.2 211.4h0.7v0.7h-0.7zM140.4 221.4h0.7v0.7h-0.7zM146.3 194.9h0.7v0.7h-0.7zM155.9 212.9h0.7v0.7h-0.7zM154.3 221.1h0.7v0.7h-0.7zM160.1 189.3h0.7v0.7h-0.7zM154.3 226.1h0.7v0.7h-0.7zM162.2 201.2h0.7v0.7h-0.7zM139.4 200.4h0.7v0.7h-0.7zM155.9 210.7h0.7v0.7h-0.7zM159.1 211.0h0.7v0.7h-0.7zM143.6 200.3h0.7v0.7h-0.7zM151.3 222.5h0.7v0.7h-0.7zM164.0 201.6h0.7v0.7h-0.7zM156.3 212.3h0.7v0.7h-0.7zM144.4 199.5h0.7v0.7h-0.7zM164.6 208.0h0.7v0.7h-0.7zM152.3 218.2h0.7v0.7h-0.7zM155.7 220.9h0.7v0.7h-0.7zM147.0 208.6h0.7v0.7h-0.7zM154.9 216.9h0.7v0.7h-0.7zM147.6 193.6h0.7v0.7h-0.7zM159.4 222.7h0.7v0.7h-0.7zM160.0 211.7h0.7v0.7h-0.7zM139.6 208.5h0.7v0.7h-0.7zM168.1 216.5h0.7v0.7h-0.7zM154.9 194.4h0.7v0.7h-0.7zM148.2 224.2h0.7v0.7h-0.7zM155.5 211.5h0.7v0.7h-0.7zM162.3 221.1h0.7v0.7h-0.7zM157.1 211.1h0.7v0.7h-0.7zM156.1 224.8h0.7v0.7h-0.7zM155.3 198.6h0.7v0.7h-0.7zM151.7 209.8h0.7v0.7h-0.7zM156.1 227.5h0.7v0.7h-0.7zM152.5 208.0h0.7v0.7h-0.7zM158.5 218.4h0.7v0.7h-0.7zM147.2 218.3h0.7v0.7h-0.7zM154.4 217.0h0.7v0.7h-0.7zM141.6 190.4h0.7v0.7h-0.7zM141.8 193.7h0.7v0.7h-0.7zM160.2 224.4h0.7v0.7h-0.7zM143.4 229.7h0.7v0.7h-0.7zM144.6 203.8h0.7v0.7h-0.7zM169.1 198.3h0.7v0.7h-0.7zM158.2 222.4h0.7v0.7h-0.7zM161.3 220.5h0.7v0.7h-0.7zM154.9 230.6h0.7v0.7h-0.7zM152.4 214.1h0.7v0.7h-0.7zM156.0 209.1h0.7v0.7h-0.7zM151.9 226.8h0.7v0.7h-0.7zM165.1 219.9h0.7v0.7h-0.7zM152.2 207.4h0.7v0.7h-0.7zM150.1 208.8h0.7v0.7h-0.7zM149.7 212.0h0.7v0.7h-0.7zM151.4 225.3h0.7v0.7h-0.7zM142.5 208.4h0.7v0.7h-0.7zM159.1 208.4h0.7v0.7h-0.7zM150.0 219.4h0.7v0.7h-0.7zM152.4 202.0h0.7v0.7h-0.7zM154.2 220.3h0.7v0.7h-0.7zM140.5 223.5h0.7v0.7h-0.7zM140.3 221.0h0.7v0.7h-0.7zM143.3 215.7h0.7v0.7h-0.7zM152.7 224.8h0.7v0.7h-0.7zM152.5 208.2h0.7v0.7h-0.7zM147.5 215.5h0.7v0.7h-0.7zM151.3 223.1h0.7v0.7h-0.7zM156.1 227.3h0.7v0.7h-0.7zM158.4 215.1h0.7v0.7h-0.7zM152.6 220.2h0.7v0.7h-0.7zM158.8 197.9h0.7v0.7h-0.7zM156.0 209.0h0.7v0.7h-0.7zM155.5 222.2h0.7v0.7h-0.7zM138.8 211.8h0.7v0.7h-0.7zM160.5 193.3h0.7v0.7h-0.7zM154.8 213.3h0.7v0.7h-0.7zM148.9 223.4h0.7v0.7h-0.7zM160.0 213.4h0.7v0.7h-0.7zM163.6 229.8h0.7v0.7h-0.7zM154.6 222.8h0.7v0.7h-0.7zM159.6 232.9h0.7v0.7h-0.7zM159.1 221.0h0.7v0.7h-0.7zM154.0 221.5h0.7v0.7h-0.7zM164.9 212.4h0.7v0.7h-0.7zM152.4 202.3h0.7v0.7h-0.7zM172.2 208.8h0.7v0.7h-0.7zM149.5 206.8h0.7v0.7h-0.7zM162.0 217.3h0.7v0.7h-0.7zM138.1 214.9h0.7v0.7h-0.7zM166.8 212.8h0.7v0.7h-0.7zM154.1 246.2h0.7v0.7h-0.7zM151.4 210.9h0.7v0.7h-0.7zM158.0 241.0h0.7v0.7h-0.7zM156.5 194.9h0.7v0.7h-0.7zM152.1 210.9h0.7v0.7h-0.7zM158.8 209.3h0.7v0.7h-0.7zM154.3 198.8h0.7v0.7h-0.7zM143.9 214.0h0.7v0.7h-0.7zM165.4 202.3h0.7v0.7h-0.7zM141.4 226.9h0.7v0.7h-0.7zM156.2 222.5h0.7v0.7h-0.7zM152.0 216.2h0.7v0.7h-0.7zM152.6 213.4h0.7v0.7h-0.7zM166.6 208.9h0.7v0.7h-0.7zM150.3 213.5h0.7v0.7h-0.7zM151.9 232.7h0.7v0.7h-0.7zM152.1 217.9h0.7v0.7h-0.7zM144.2 219.7h0.7v0.7h-0.7zM158.1 221.0h0.7v0.7h-0.7zM141.4 206.4h0.7v0.7h-0.7zM133.7 232.5h0.7v0.7h-0.7zM152.5 232.1h0.7v0.7h-0.7zM167.6 225.2h0.7v0.7h-0.7zM148.6 211.0h0.7v0.7h-0.7zM159.2 191.1h0.7v0.7h-0.7zM163.6 230.3h0.7v0.7h-0.7zM159.8 210.2h0.7v0.7h-0.7zM156.0 195.2h0.7v0.7h-0.7zM146.2 208.4h0.7v0.7h-0.7zM147.7 232.5h0.7v0.7h-0.7zM156.7 185.9h0.7v0.7h-0.7zM161.9 219.2h0.7v0.7h-0.7zM151.6 205.3h0.7v0.7h-0.7zM168.7 216.2h0.7v0.7h-0.7zM155.3 195.2h0.7v0.7h-0.7zM149.0 223.7h0.7v0.7h-0.7zM154.3 208.3h0.7v0.7h-0.7zM151.0 195.2h0.7v0.7h-0.7zM135.0 219.6h0.7v0.7h-0.7zM142.5 195.4h0.7v0.7h-0.7zM155.6 224.1h0.7v0.7h-0.7zM150.7 226.0h0.7v0.7h-0.7zM153.6 177.5h0.7v0.7h-0.7zM165.4 201.0h0.7v0.7h-0.7zM165.1 210.1h0.7v0.7h-0.7zM152.7 208.0h0.7v0.7h-0.7zM145.7 220.3h0.7v0.7h-0.7zM165.7 228.2h0.7v0.7h-0.7zM149.1 219.2h0.7v0.7h-0.7zM161.1 220.0h0.7v0.7h-0.7zM143.5 236.9h0.7v0.7h-0.7zM147.7 203.9h0.7v0.7h-0.7zM154.3 216.0h0.7v0.7h-0.7zM149.1 198.4h0.7v0.7h-0.7zM144.1 213.4h0.7v0.7h-0.7zM139.2 226.3h0.7v0.7h-0.7zM158.1 215.8h0.7v0.7h-0.7zM154.8 203.4h0.7v0.7h-0.7zM149.1 223.7h0.7v0.7h-0.7zM149.4 231.6h0.7v0.7h-0.7zM160.9 221.3h0.7v0.7h-0.7zM151.5 202.7h0.7v0.7h-0.7zM152.1 202.3h0.7v0.7h-0.7zM150.5 209.3h0.7v0.7h-0.7zM149.0 226.4h0.7v0.7h-0.7zM146.6 204.7h0.7v0.7h-0.7zM162.1 216.3h0.7v0.7h-0.7zM157.0 206.1h0.7v0.7h-0.7zM155.7 228.5h0.7v0.7h-0.7zM153.4 218.3h0.7v0.7h-0.7zM162.4 220.2h0.7v0.7h-0.7zM162.5 199.6h0.7v0.7h-0.7zM140.1 200.5h0.7v0.7h-0.7zM156.4 205.6h0.7v0.7h-0.7zM138.2 234.1h0.7v0.7h-0.7zM163.0 207.2h0.7v0.7h-0.7zM148.3 205.3h0.7v0.7h-0.7zM158.6 218.5h0.7v0.7h-0.7zM154.3 229.1h0.7v0.7h-0.7zM147.1 199.6h0.7v0.7h-0.7zM153.2 212.8h0.7v0.7h-0.7zM153.9 218.1h0.7v0.7h-0.7zM141.6 231.6h0.7v0.7h-0.7zM139.8 217.1h0.7v0.7h-0.7zM155.9 222.8h0.7v0.7h-0.7zM154.9 203.9h0.7v0.7h-0.7zM151.7 197.6h0.7v0.7h-0.7zM152.0 210.7h0.7v0.7h-0.7zM139.2 238.6h0.7v0.7h-0.7zM148.7 219.6h0.7v0.7h-0.7zM163.0 212.9h0.7v0.7h-0.7zM150.1 200.5h0.7v0.7h-0.7zM147.7 205.0h0.7v0.7h-0.7zM152.0 222.4h0.7v0.7h-0.7zM154.6 230.5h0.7v0.7h-0.7zM156.2 216.0h0.7v0.7h-0.7zM130.3 211.5h0.7v0.7h-0.7zM155.2 196.2h0.7v0.7h-0.7zM152.7 205.2h0.7v0.7h-0.7zM151.6 212.9h0.7v0.7h-0.7zM151.1 212.6h0.7v0.7h-0.7zM155.8 216.9h0.7v0.7h-0.7zM148.2 223.8h0.7v0.7h-0.7zM153.6 217.5h0.7v0.7h-0.7zM166.3 232.5h0.7v0.7h-0.7zM169.5 210.6h0.7v0.7h-0.7zM156.3 218.8h0.7v0.7h-0.7zM154.0 211.6h0.7v0.7h-0.7zM159.4 226.4h0.7v0.7h-0.7zM169.7 207.2h0.7v0.7h-0.7zM156.7 204.7h0.7v0.7h-0.7zM151.2 186.1h0.7v0.7h-0.7zM169.1 195.0h0.7v0.7h-0.7zM154.0 192.8h0.7v0.7h-0.7zM150.7 201.5h0.7v0.7h-0.7zM137.5 201.3h0.7v0.7h-0.7zM151.5 211.9h0.7v0.7h-0.7zM138.6 220.6h0.7v0.7h-0.7zM150.8 200.2h0.7v0.7h-0.7zM164.5 205.2h0.7v0.7h-0.7zM154.9 230.6h0.7v0.7h-0.7zM153.6 212.0h0.7v0.7h-0.7zM160.4 208.3h0.7v0.7h-0.7zM153.7 211.5h0.7v0.7h-0.7zM150.3 221.9h0.7v0.7h-0.7zM155.2 229.5h0.7v0.7h-0.7zM156.1 197.0h0.7v0.7h-0.7zM156.1 210.0h0.7v0.7h-0.7zM151.3 224.3h0.7v0.7h-0.7zM156.3 194.8h0.7v0.7h-0.7zM168.2 211.7h0.7v0.7h-0.7zM140.9 209.4h0.7v0.7h-0.7zM156.8 200.3h0.7v0.7h-0.7zM146.7 192.6h0.7v0.7h-0.7zM155.2 207.1h0.7v0.7h-0.7zM164.5 216.4h0.7v0.7h-0.7zM155.0 206.2h0.7v0.7h-0.7zM160.5 197.4h0.7v0.7h-0.7zM155.2 218.7h0.7v0.7h-0.7zM147.3 199.6h0.7v0.7h-0.7zM161.8 234.2h0.7v0.7h-0.7zM156.1 234.3h0.7v0.7h-0.7zM156.6 211.0h0.7v0.7h-0.7zM150.1 199.2h0.7v0.7h-0.7zM160.0 206.7h0.7v0.7h-0.7zM148.3 217.4h0.7v0.7h-0.7zM156.8 204.7h0.7v0.7h-0.7zM154.7 211.4h0.7v0.7h-0.7zM154.1 211.5h0.7v0.7h-0.7zM150.0 185.3h0.7v0.7h-0.7zM148.6 226.9h0.7v0.7h-0.7zM150.6 215.2h0.7v0.7h-0.7zM157.6 201.6h0.7v0.7h-0.7zM153.6 210.1h0.7v0.7h-0.7zM155.8 220.1h0.7v0.7h-0.7zM153.7 210.7h0.7v0.7h-0.7zM160.2 214.6h0.7v0.7h-0.7zM142.0 227.6h0.7v0.7h-0.7zM156.5 206.4h0.7v0.7h-0.7zM152.7 202.2h0.7v0.7h-0.7zM154.1 196.2h0.7v0.7h-0.7zM160.6 218.5h0.7v0.7h-0.7zM145.6 218.9h0.7v0.7h-0.7zM142.2 207.0h0.7v0.7h-0.7zM145.6 221.0h0.7v0.7h-0.7zM158.3 197.6h0.7v0.7h-0.7zM154.4 218.9h0.7v0.7h-0.7zM150.5 241.0h0.7v0.7h-0.7zM141.3 228.4h0.7v0.7h-0.7zM164.3 209.1h0.7v0.7h-0.7zM144.6 226.9h0.7v0.7h-0.7zM134.5 212.7h0.7v0.7h-0.7zM142.3 212.9h0.7v0.7h-0.7zM148.8 198.1h0.7v0.7h-0.7zM157.2 226.4h0.7v0.7h-0.7zM142.8 220.6h0.7v0.7h-0.7zM153.8 205.3h0.7v0.7h-0.7zM149.1 219.5h0.7v0.7h-0.7zM161.5 209.8h0.7v0.7h-0.7zM134.6 222.2h0.7v0.7h-0.7zM156.0 190.7h0.7v0.7h-0.7zM149.1 212.9h0.7v0.7h-0.7zM150.8 216.5h0.7v0.7h-0.7zM146.4 220.4h0.7v0.7h-0.7zM132.4 217.1h0.7v0.7h-0.7zM148.6 211.6h0.7v0.7h-0.7zM157.9 228.6h0.7v0.7h-0.7zM145.3 211.8h0.7v0.7h-0.7zM145.3 213.5h0.7v0.7h-0.7zM148.6 199.1h0.7v0.7h-0.7zM161.4 217.0h0.7v0.7h-0.7zM153.0 228.2h0.7v0.7h-0.7zM140.7 217.5h0.7v0.7h-0.7zM165.0 208.8h0.7v0.7h-0.7zM146.4 203.8h0.7v0.7h-0.7zM162.2 225.1h0.7v0.7h-0.7zM155.4 223.6h0.7v0.7h-0.7zM147.9 208.5h0.7v0.7h-0.7zM159.2 202.0h0.7v0.7h-0.7zM154.6 212.6h0.7v0.7h-0.7zM146.5 215.3h0.7v0.7h-0.7zM143.3 205.5h0.7v0.7h-0.7zM138.0 198.3h0.7v0.7h-0.7zM146.3 217.0h0.7v0.7h-0.7zM153.0 198.4h0.7v0.7h-0.7zM151.0 238.8h0.7v0.7h-0.7zM153.5 217.5h0.7v0.7h-0.7zM137.0 207.0h0.7v0.7h-0.7zM161.4 196.3h0.7v0.7h-0.7zM146.1 204.2h0.7v0.7h-0.7zM151.9 219.7h0.7v0.7h-0.7zM139.7 220.6h0.7v0.7h-0.7zM133.0 202.2h0.7v0.7h-0.7zM155.9 199.3h0.7v0.7h-0.7zM146.4 206.5h0.7v0.7h-0.7zM164.8 201.0h0.7v0.7h-0.7zM160.0 235.3h0.7v0.7h-0.7zM149.9 203.3h0.7v0.7h-0.7zM152.7 201.0h0.7v0.7h-0.7zM149.9 200.2h0.7v0.7h-0.7zM141.5 194.0h0.7v0.7h-0.7zM159.6 204.6h0.7v0.7h-0.7zM144.0 224.9h0.7v0.7h-0.7zM151.3 208.5h0.7v0.7h-0.7zM146.9 212.4h0.7v0.7h-0.7zM150.3 207.4h0.7v0.7h-0.7zM151.3 221.4h0.7v0.7h-0.7zM151.2 227.6h0.7v0.7h-0.7zM160.0 200.5h0.7v0.7h-0.7zM145.3 197.5h0.7v0.7h-0.7zM146.9 220.7h0.7v0.7h-0.7zM150.0 206.6h0.7v0.7h-0.7zM153.3 187.1h0.7v0.7h-0.7zM155.0 210.1h0.7v0.7h-0.7zM157.6 208.9h0.7v0.7h-0.7zM160.1 224.6h0.7v0.7h-0.7zM150.3 218.9h0.7v0.7h-0.7zM145.8 204.0h0.7v0.7h-0.7zM144.3 209.9h0.7v0.7h-0.7zM143.3 199.7h0.7v0.7h-0.7zM150.9 195.3h0.7v0.7h-0.7zM157.0 201.5h0.7v0.7h-0.7zM150.7 208.7h0.7v0.7h-0.7zM160.2 219.2h0.7v0.7h-0.7zM150.7 205.4h0.7v0.7h-0.7zM159.0 210.6h0.7v0.7h-0.7zM144.6 213.7h0.7v0.7h-0.7zM157.3 211.8h0.7v0.7h-0.7zM152.9 229.3h0.7v0.7h-0.7zM148.5 221.0h0.7v0.7h-0.7zM164.3 231.9h0.7v0.7h-0.7zM143.8 218.4h0.7v0.7h-0.7zM153.5 239.9h0.7v0.7h-0.7zM162.1 224.0h0.7v0.7h-0.7zM161.5 218.7h0.7v0.7h-0.7zM144.6 238.1h0.7v0.7h-0.7zM139.7 221.2h0.7v0.7h-0.7zM158.4 214.5h0.7v0.7h-0.7zM160.2 212.1h0.7v0.7h-0.7zM158.6 215.1h0.7v0.7h-0.7zM147.0 223.7h0.7v0.7h-0.7zM148.3 219.6h0.7v0.7h-0.7zM144.7 215.1h0.7v0.7h-0.7zM156.7 225.7h0.7v0.7h-0.7zM144.3 206.0h0.7v0.7h-0.7zM152.5 200.4h0.7v0.7h-0.7zM157.1 239.8h0.7v0.7h-0.7zM157.7 219.6h0.7v0.7h-0.7zM146.3 218.9h0.7v0.7h-0.7zM156.6 235.1h0.7v0.7h-0.7zM149.9 226.7h0.7v0.7h-0.7zM149.9 209.1h0.7v0.7h-0.7zM149.4 215.6h0.7v0.7h-0.7zM141.3 208.1h0.7v0.7h-0.7zM163.8 191.4h0.7v0.7h-0.7zM159.3 221.3h0.7v0.7h-0.7zM149.4 203.4h0.7v0.7h-0.7zM161.2 208.4h0.7v0.7h-0.7zM154.9 209.9h0.7v0.7h-0.7zM144.1 224.4h0.7v0.7h-0.7zM157.6 201.5h0.7v0.7h-0.7zM161.0 197.9h0.7v0.7h-0.7zM142.9 222.4h0.7v0.7h-0.7zM149.4 212.4h0.7v0.7h-0.7zM164.7 199.9h0.7v0.7h-0.7z" fill="#444" opacity="0.7" clip-path="url(#cB2)"/>
<path d="M164.2 201.3h0.7v0.7h-0.7zM161.2 191.8h0.7v0.7h-0.7zM154.0 204.5h0.7v0.7h-0.7zM154.1 208.4h0.7v0.7h-0.7zM155.3 210.8h0.7v0.7h-0.7zM160.7 221.6h0.7v0.7h-0.7zM148.2 199.5h0.7v0.7h-0.7zM147.2 205.7h0.7v0.7h-0.7zM152.0 214.2h0.7v0.7h-0.7zM160.9 237.1h0.7v0.7h-0.7zM147.8 204.2h0.7v0.7h-0.7zM154.5 190.3h0.7v0.7h-0.7zM157.5 191.8h0.7v0.7h-0.7zM156.4 218.2h0.7v0.7h-0.7zM151.0 237.6h0.7v0.7h-0.7zM149.1 190.8h0.7v0.7h-0.7zM143.8 201.5h0.7v0.7h-0.7zM160.2 225.5h0.7v0.7h-0.7zM150.2 232.4h0.7v0.7h-0.7zM145.2 201.0h0.7v0.7h-0.7zM155.8 215.6h0.7v0.7h-0.7zM161.6 204.8h0.7v0.7h-0.7zM164.4 220.3h0.7v0.7h-0.7zM158.9 217.6h0.7v0.7h-0.7zM146.5 217.0h0.7v0.7h-0.7zM165.5 190.7h0.7v0.7h-0.7zM149.6 204.8h0.7v0.7h-0.7zM147.6 227.0h0.7v0.7h-0.7zM157.9 196.5h0.7v0.7h-0.7zM159.3 232.2h0.7v0.7h-0.7zM142.7 190.9h0.7v0.7h-0.7zM156.6 232.3h0.7v0.7h-0.7zM155.3 214.3h0.7v0.7h-0.7zM151.6 217.2h0.7v0.7h-0.7zM164.7 218.7h0.7v0.7h-0.7zM160.4 212.4h0.7v0.7h-0.7zM164.0 226.9h0.7v0.7h-0.7zM154.2 204.5h0.7v0.7h-0.7zM148.8 237.0h0.7v0.7h-0.7zM157.6 193.4h0.7v0.7h-0.7zM154.5 210.5h0.7v0.7h-0.7zM156.6 203.6h0.7v0.7h-0.7zM164.5 213.2h0.7v0.7h-0.7zM162.5 202.5h0.7v0.7h-0.7zM164.1 216.2h0.7v0.7h-0.7zM155.2 210.9h0.7v0.7h-0.7zM165.5 217.0h0.7v0.7h-0.7zM154.9 207.4h0.7v0.7h-0.7zM152.9 203.0h0.7v0.7h-0.7zM152.6 202.6h0.7v0.7h-0.7zM143.0 207.5h0.7v0.7h-0.7zM141.7 221.9h0.7v0.7h-0.7zM143.5 233.4h0.7v0.7h-0.7zM149.2 203.0h0.7v0.7h-0.7zM155.3 204.0h0.7v0.7h-0.7zM159.8 204.6h0.7v0.7h-0.7zM164.9 192.0h0.7v0.7h-0.7zM142.5 232.4h0.7v0.7h-0.7zM158.9 202.6h0.7v0.7h-0.7zM157.7 207.3h0.7v0.7h-0.7zM154.2 203.2h0.7v0.7h-0.7zM155.0 221.1h0.7v0.7h-0.7zM163.0 202.3h0.7v0.7h-0.7zM155.8 217.2h0.7v0.7h-0.7zM163.7 213.0h0.7v0.7h-0.7zM163.5 234.4h0.7v0.7h-0.7zM151.6 209.5h0.7v0.7h-0.7zM166.2 217.8h0.7v0.7h-0.7zM154.8 227.3h0.7v0.7h-0.7zM156.7 214.9h0.7v0.7h-0.7zM158.1 202.6h0.7v0.7h-0.7zM150.8 190.4h0.7v0.7h-0.7zM159.7 229.5h0.7v0.7h-0.7zM160.1 236.6h0.7v0.7h-0.7zM160.6 195.1h0.7v0.7h-0.7zM149.4 234.3h0.7v0.7h-0.7zM143.8 232.1h0.7v0.7h-0.7zM161.7 197.1h0.7v0.7h-0.7zM146.4 225.1h0.7v0.7h-0.7zM158.0 191.4h0.7v0.7h-0.7zM154.8 199.1h0.7v0.7h-0.7zM163.3 215.7h0.7v0.7h-0.7zM141.3 209.0h0.7v0.7h-0.7zM141.3 233.5h0.7v0.7h-0.7zM164.1 224.5h0.7v0.7h-0.7zM141.1 235.0h0.7v0.7h-0.7zM147.9 221.2h0.7v0.7h-0.7zM160.9 216.8h0.7v0.7h-0.7zM144.0 201.8h0.7v0.7h-0.7zM160.0 195.9h0.7v0.7h-0.7zM150.8 234.7h0.7v0.7h-0.7zM151.6 197.3h0.7v0.7h-0.7zM157.9 206.8h0.7v0.7h-0.7zM161.5 207.5h0.7v0.7h-0.7zM162.6 229.6h0.7v0.7h-0.7zM145.6 216.2h0.7v0.7h-0.7zM152.6 195.9h0.7v0.7h-0.7zM164.7 206.4h0.7v0.7h-0.7zM156.9 192.9h0.7v0.7h-0.7zM165.7 237.1h0.7v0.7h-0.7zM158.8 196.3h0.7v0.7h-0.7zM158.2 212.5h0.7v0.7h-0.7zM153.3 200.5h0.7v0.7h-0.7zM144.9 230.6h0.7v0.7h-0.7zM156.7 225.8h0.7v0.7h-0.7zM160.2 209.3h0.7v0.7h-0.7zM155.3 204.5h0.7v0.7h-0.7zM158.0 210.7h0.7v0.7h-0.7zM161.4 204.0h0.7v0.7h-0.7zM150.9 193.9h0.7v0.7h-0.7zM142.0 200.3h0.7v0.7h-0.7zM141.4 210.4h0.7v0.7h-0.7zM150.9 232.3h0.7v0.7h-0.7zM142.1 237.3h0.7v0.7h-0.7zM143.5 229.8h0.7v0.7h-0.7zM150.3 201.8h0.7v0.7h-0.7zM156.9 207.1h0.7v0.7h-0.7zM141.4 196.3h0.7v0.7h-0.7zM158.7 224.5h0.7v0.7h-0.7zM166.8 202.1h0.7v0.7h-0.7zM161.0 206.4h0.7v0.7h-0.7zM154.4 203.4h0.7v0.7h-0.7zM151.7 233.9h0.7v0.7h-0.7zM147.5 210.4h0.7v0.7h-0.7zM164.6 211.7h0.7v0.7h-0.7zM162.1 215.6h0.7v0.7h-0.7zM150.1 224.6h0.7v0.7h-0.7zM158.0 208.3h0.7v0.7h-0.7zM166.9 194.4h0.7v0.7h-0.7zM163.1 224.6h0.7v0.7h-0.7zM159.5 212.7h0.7v0.7h-0.7zM160.5 192.1h0.7v0.7h-0.7zM158.4 231.6h0.7v0.7h-0.7zM151.6 225.5h0.7v0.7h-0.7zM159.1 214.1h0.7v0.7h-0.7zM161.0 213.2h0.7v0.7h-0.7zM144.1 215.1h0.7v0.7h-0.7zM160.6 197.9h0.7v0.7h-0.7zM153.0 230.1h0.7v0.7h-0.7zM141.3 231.4h0.7v0.7h-0.7zM150.1 207.4h0.7v0.7h-0.7zM159.2 217.5h0.7v0.7h-0.7zM148.5 197.5h0.7v0.7h-0.7zM151.9 232.7h0.7v0.7h-0.7zM166.9 224.5h0.7v0.7h-0.7zM159.1 223.0h0.7v0.7h-0.7zM164.8 197.7h0.7v0.7h-0.7zM144.8 230.5h0.7v0.7h-0.7zM141.5 215.1h0.7v0.7h-0.7zM151.5 234.1h0.7v0.7h-0.7zM157.2 200.8h0.7v0.7h-0.7zM142.7 212.7h0.7v0.7h-0.7zM155.3 212.4h0.7v0.7h-0.7zM156.1 193.0h0.7v0.7h-0.7zM150.3 229.8h0.7v0.7h-0.7zM148.5 199.0h0.7v0.7h-0.7zM145.6 235.0h0.7v0.7h-0.7zM163.6 209.4h0.7v0.7h-0.7zM149.6 207.7h0.7v0.7h-0.7zM163.9 233.6h0.7v0.7h-0.7zM165.8 231.1h0.7v0.7h-0.7zM158.7 195.6h0.7v0.7h-0.7zM165.5 198.0h0.7v0.7h-0.7zM160.2 207.1h0.7v0.7h-0.7zM142.0 221.6h0.7v0.7h-0.7zM147.6 232.6h0.7v0.7h-0.7zM145.7 222.0h0.7v0.7h-0.7zM152.4 192.3h0.7v0.7h-0.7zM148.3 204.8h0.7v0.7h-0.7zM161.1 227.0h0.7v0.7h-0.7zM165.3 198.0h0.7v0.7h-0.7zM146.5 207.9h0.7v0.7h-0.7zM149.3 199.9h0.7v0.7h-0.7zM160.6 190.3h0.7v0.7h-0.7zM155.0 196.4h0.7v0.7h-0.7zM149.1 204.0h0.7v0.7h-0.7zM153.0 235.1h0.7v0.7h-0.7zM160.1 210.6h0.7v0.7h-0.7zM166.7 202.2h0.7v0.7h-0.7zM145.9 220.5h0.7v0.7h-0.7zM161.0 224.8h0.7v0.7h-0.7zM154.2 224.7h0.7v0.7h-0.7zM149.7 235.5h0.7v0.7h-0.7zM160.3 228.4h0.7v0.7h-0.7zM155.0 234.1h0.7v0.7h-0.7zM153.2 235.7h0.7v0.7h-0.7zM152.5 235.6h0.7v0.7h-0.7zM149.3 214.8h0.7v0.7h-0.7zM155.6 216.4h0.7v0.7h-0.7zM162.9 230.7h0.7v0.7h-0.7zM145.7 223.9h0.7v0.7h-0.7zM154.7 209.4h0.7v0.7h-0.7zM144.0 233.7h0.7v0.7h-0.7zM166.7 224.8h0.7v0.7h-0.7zM155.8 194.0h0.7v0.7h-0.7zM149.3 205.8h0.7v0.7h-0.7zM143.3 208.0h0.7v0.7h-0.7zM150.5 209.8h0.7v0.7h-0.7zM142.8 196.3h0.7v0.7h-0.7zM165.7 216.6h0.7v0.7h-0.7zM147.1 211.6h0.7v0.7h-0.7zM150.4 213.3h0.7v0.7h-0.7zM145.6 225.7h0.7v0.7h-0.7zM165.3 220.2h0.7v0.7h-0.7zM165.9 229.1h0.7v0.7h-0.7zM155.0 215.1h0.7v0.7h-0.7zM159.0 207.6h0.7v0.7h-0.7zM143.0 211.7h0.7v0.7h-0.7zM162.2 222.4h0.7v0.7h-0.7zM142.0 229.7h0.7v0.7h-0.7zM142.2 214.9h0.7v0.7h-0.7zM145.6 204.4h0.7v0.7h-0.7zM147.0 219.5h0.7v0.7h-0.7zM159.5 232.4h0.7v0.7h-0.7zM154.2 192.9h0.7v0.7h-0.7zM142.0 194.1h0.7v0.7h-0.7zM144.3 198.4h0.7v0.7h-0.7zM148.7 197.2h0.7v0.7h-0.7zM163.1 207.3h0.7v0.7h-0.7zM153.5 227.7h0.7v0.7h-0.7zM145.7 214.1h0.7v0.7h-0.7zM142.1 213.3h0.7v0.7h-0.7zM165.1 217.2h0.7v0.7h-0.7zM148.9 220.4h0.7v0.7h-0.7zM154.1 213.9h0.7v0.7h-0.7zM157.5 224.1h0.7v0.7h-0.7zM164.2 236.9h0.7v0.7h-0.7zM166.0 228.9h0.7v0.7h-0.7zM158.7 228.4h0.7v0.7h-0.7zM146.0 199.5h0.7v0.7h-0.7zM162.9 210.9h0.7v0.7h-0.7zM141.5 225.8h0.7v0.7h-0.7zM144.5 203.1h0.7v0.7h-0.7zM165.0 199.1h0.7v0.7h-0.7zM162.5 202.8h0.7v0.7h-0.7zM161.6 208.3h0.7v0.7h-0.7zM155.6 222.8h0.7v0.7h-0.7zM159.7 200.0h0.7v0.7h-0.7zM158.4 198.0h0.7v0.7h-0.7zM147.4 227.4h0.7v0.7h-0.7zM145.0 209.9h0.7v0.7h-0.7zM144.0 218.0h0.7v0.7h-0.7zM145.6 207.3h0.7v0.7h-0.7zM166.4 211.4h0.7v0.7h-0.7zM154.0 191.5h0.7v0.7h-0.7zM147.8 195.1h0.7v0.7h-0.7zM157.1 197.4h0.7v0.7h-0.7zM145.6 196.9h0.7v0.7h-0.7zM160.3 221.3h0.7v0.7h-0.7zM148.6 205.1h0.7v0.7h-0.7zM148.2 216.3h0.7v0.7h-0.7zM155.8 196.4h0.7v0.7h-0.7zM145.0 220.1h0.7v0.7h-0.7zM148.3 222.0h0.7v0.7h-0.7zM145.6 194.7h0.7v0.7h-0.7zM142.8 231.1h0.7v0.7h-0.7zM155.0 190.9h0.7v0.7h-0.7zM150.3 220.3h0.7v0.7h-0.7zM146.7 229.9h0.7v0.7h-0.7zM141.1 215.2h0.7v0.7h-0.7zM155.9 199.1h0.7v0.7h-0.7zM166.7 216.2h0.7v0.7h-0.7zM144.4 226.2h0.7v0.7h-0.7zM141.7 222.7h0.7v0.7h-0.7zM162.7 220.7h0.7v0.7h-0.7zM141.6 193.1h0.7v0.7h-0.7zM162.6 230.6h0.7v0.7h-0.7zM148.0 234.6h0.7v0.7h-0.7zM162.2 195.1h0.7v0.7h-0.7zM164.0 190.7h0.7v0.7h-0.7zM149.4 200.0h0.7v0.7h-0.7zM146.5 214.0h0.7v0.7h-0.7zM142.2 236.4h0.7v0.7h-0.7zM146.5 222.7h0.7v0.7h-0.7zM150.1 234.0h0.7v0.7h-0.7zM155.6 213.8h0.7v0.7h-0.7zM160.8 217.0h0.7v0.7h-0.7zM152.7 198.3h0.7v0.7h-0.7zM161.8 220.2h0.7v0.7h-0.7zM153.1 237.4h0.7v0.7h-0.7zM153.1 225.6h0.7v0.7h-0.7zM145.3 207.3h0.7v0.7h-0.7zM157.4 202.4h0.7v0.7h-0.7zM166.9 237.5h0.7v0.7h-0.7zM157.8 224.5h0.7v0.7h-0.7zM148.1 227.1h0.7v0.7h-0.7zM163.4 212.0h0.7v0.7h-0.7zM155.7 221.4h0.7v0.7h-0.7zM147.5 192.2h0.7v0.7h-0.7zM145.7 215.2h0.7v0.7h-0.7zM157.6 231.1h0.7v0.7h-0.7zM148.0 198.1h0.7v0.7h-0.7zM151.9 197.9h0.7v0.7h-0.7zM147.7 213.5h0.7v0.7h-0.7zM158.8 195.1h0.7v0.7h-0.7zM145.5 212.6h0.7v0.7h-0.7zM154.5 198.4h0.7v0.7h-0.7zM158.2 217.1h0.7v0.7h-0.7zM166.0 235.8h0.7v0.7h-0.7zM157.3 194.2h0.7v0.7h-0.7zM154.6 203.0h0.7v0.7h-0.7zM148.2 193.6h0.7v0.7h-0.7zM159.0 221.5h0.7v0.7h-0.7zM148.1 201.1h0.7v0.7h-0.7zM166.8 216.5h0.7v0.7h-0.7zM159.1 201.8h0.7v0.7h-0.7zM165.5 224.5h0.7v0.7h-0.7zM154.2 195.4h0.7v0.7h-0.7zM152.3 191.2h0.7v0.7h-0.7zM146.5 227.5h0.7v0.7h-0.7zM143.9 199.9h0.7v0.7h-0.7zM149.9 236.4h0.7v0.7h-0.7zM145.3 210.0h0.7v0.7h-0.7zM154.8 192.2h0.7v0.7h-0.7zM155.6 193.4h0.7v0.7h-0.7zM149.3 205.5h0.7v0.7h-0.7zM166.9 211.0h0.7v0.7h-0.7zM148.8 205.8h0.7v0.7h-0.7zM148.8 197.8h0.7v0.7h-0.7zM149.2 223.2h0.7v0.7h-0.7zM150.2 201.0h0.7v0.7h-0.7zM142.0 227.8h0.7v0.7h-0.7zM148.8 203.0h0.7v0.7h-0.7zM163.0 236.5h0.7v0.7h-0.7zM155.3 193.3h0.7v0.7h-0.7zM162.7 226.6h0.7v0.7h-0.7zM141.5 203.8h0.7v0.7h-0.7zM162.7 212.8h0.7v0.7h-0.7zM145.6 237.3h0.7v0.7h-0.7zM146.5 198.7h0.7v0.7h-0.7zM159.1 237.4h0.7v0.7h-0.7zM159.4 191.0h0.7v0.7h-0.7zM141.5 200.3h0.7v0.7h-0.7zM158.3 236.0h0.7v0.7h-0.7zM144.0 222.1h0.7v0.7h-0.7zM158.6 191.4h0.7v0.7h-0.7zM164.5 205.0h0.7v0.7h-0.7zM150.7 228.0h0.7v0.7h-0.7zM155.1 220.1h0.7v0.7h-0.7zM142.5 219.9h0.7v0.7h-0.7zM144.9 229.5h0.7v0.7h-0.7zM161.1 221.1h0.7v0.7h-0.7zM157.8 236.9h0.7v0.7h-0.7zM162.6 224.4h0.7v0.7h-0.7zM150.4 190.6h0.7v0.7h-0.7zM167.0 193.1h0.7v0.7h-0.7zM142.1 218.6h0.7v0.7h-0.7zM166.8 211.4h0.7v0.7h-0.7zM146.4 190.9h0.7v0.7h-0.7zM145.2 207.4h0.7v0.7h-0.7z" fill="#555" opacity="0.6" clip-path="url(#cB2)"/>
<path d="M131.0 222.1h0.7v0.7h-0.7zM150.8 181.0h0.7v0.7h-0.7zM137.4 213.1h0.7v0.7h-0.7zM133.7 206.6h0.7v0.7h-0.7zM128.0 217.1h0.7v0.7h-0.7zM128.7 234.5h0.7v0.7h-0.7zM133.7 237.1h0.7v0.7h-0.7zM136.3 195.9h0.7v0.7h-0.7zM136.0 217.2h0.7v0.7h-0.7zM141.0 183.7h0.7v0.7h-0.7zM132.8 233.2h0.7v0.7h-0.7zM136.8 188.0h0.7v0.7h-0.7zM135.6 220.8h0.7v0.7h-0.7zM140.4 222.3h0.7v0.7h-0.7zM127.8 229.2h0.7v0.7h-0.7zM136.2 230.2h0.7v0.7h-0.7zM132.0 227.7h0.7v0.7h-0.7zM125.2 196.0h0.7v0.7h-0.7zM135.3 235.4h0.7v0.7h-0.7zM136.7 216.8h0.7v0.7h-0.7zM133.8 208.8h0.7v0.7h-0.7zM141.6 191.7h0.7v0.7h-0.7zM133.7 234.0h0.7v0.7h-0.7zM128.4 184.5h0.7v0.7h-0.7zM129.2 213.9h0.7v0.7h-0.7zM137.5 207.2h0.7v0.7h-0.7zM138.6 208.0h0.7v0.7h-0.7zM124.9 226.8h0.7v0.7h-0.7zM134.9 205.8h0.7v0.7h-0.7zM128.8 180.7h0.7v0.7h-0.7zM128.0 223.3h0.7v0.7h-0.7zM131.1 196.5h0.7v0.7h-0.7zM129.5 221.7h0.7v0.7h-0.7zM135.7 230.6h0.7v0.7h-0.7zM128.0 233.6h0.7v0.7h-0.7zM141.6 220.7h0.7v0.7h-0.7zM137.4 236.5h0.7v0.7h-0.7zM137.0 203.3h0.7v0.7h-0.7zM136.3 219.4h0.7v0.7h-0.7zM134.6 249.0h0.7v0.7h-0.7zM134.6 211.4h0.7v0.7h-0.7zM140.3 215.5h0.7v0.7h-0.7zM127.5 218.1h0.7v0.7h-0.7zM141.0 193.7h0.7v0.7h-0.7zM140.4 240.3h0.7v0.7h-0.7zM128.2 217.2h0.7v0.7h-0.7zM135.5 222.0h0.7v0.7h-0.7zM134.7 223.8h0.7v0.7h-0.7zM130.5 210.9h0.7v0.7h-0.7zM133.2 220.2h0.7v0.7h-0.7zM142.9 226.9h0.7v0.7h-0.7zM128.5 218.9h0.7v0.7h-0.7zM141.4 242.1h0.7v0.7h-0.7zM142.5 216.6h0.7v0.7h-0.7zM137.7 217.2h0.7v0.7h-0.7zM128.4 214.8h0.7v0.7h-0.7zM133.6 197.7h0.7v0.7h-0.7zM133.8 209.4h0.7v0.7h-0.7zM132.1 223.9h0.7v0.7h-0.7zM128.7 215.1h0.7v0.7h-0.7zM135.7 218.4h0.7v0.7h-0.7zM135.4 215.8h0.7v0.7h-0.7zM128.6 186.7h0.7v0.7h-0.7zM131.7 209.0h0.7v0.7h-0.7zM130.4 203.9h0.7v0.7h-0.7zM130.1 236.7h0.7v0.7h-0.7zM132.7 225.0h0.7v0.7h-0.7zM137.3 217.0h0.7v0.7h-0.7zM139.6 207.5h0.7v0.7h-0.7zM134.5 199.0h0.7v0.7h-0.7zM132.5 226.0h0.7v0.7h-0.7zM129.8 213.0h0.7v0.7h-0.7zM132.9 213.6h0.7v0.7h-0.7zM131.8 218.0h0.7v0.7h-0.7zM127.7 215.6h0.7v0.7h-0.7zM143.8 200.8h0.7v0.7h-0.7zM139.0 205.6h0.7v0.7h-0.7zM129.2 237.9h0.7v0.7h-0.7zM136.8 222.9h0.7v0.7h-0.7zM141.7 223.7h0.7v0.7h-0.7zM136.2 184.4h0.7v0.7h-0.7zM135.7 237.0h0.7v0.7h-0.7zM133.3 198.5h0.7v0.7h-0.7zM124.8 221.4h0.7v0.7h-0.7zM121.7 218.3h0.7v0.7h-0.7zM138.7 208.8h0.7v0.7h-0.7zM129.2 210.2h0.7v0.7h-0.7zM143.2 199.9h0.7v0.7h-0.7zM129.5 220.9h0.7v0.7h-0.7zM129.5 231.2h0.7v0.7h-0.7zM131.8 198.2h0.7v0.7h-0.7zM126.9 210.8h0.7v0.7h-0.7zM139.6 215.1h0.7v0.7h-0.7zM132.9 194.1h0.7v0.7h-0.7zM136.2 205.6h0.7v0.7h-0.7zM147.1 199.8h0.7v0.7h-0.7zM128.7 196.9h0.7v0.7h-0.7zM134.4 222.0h0.7v0.7h-0.7zM133.9 229.8h0.7v0.7h-0.7zM138.3 206.8h0.7v0.7h-0.7zM143.4 204.8h0.7v0.7h-0.7zM135.1 215.0h0.7v0.7h-0.7zM139.9 214.3h0.7v0.7h-0.7zM138.0 188.8h0.7v0.7h-0.7zM133.5 216.1h0.7v0.7h-0.7zM143.7 192.4h0.7v0.7h-0.7zM127.1 224.7h0.7v0.7h-0.7zM145.6 217.3h0.7v0.7h-0.7zM125.5 190.1h0.7v0.7h-0.7zM133.2 202.5h0.7v0.7h-0.7zM135.3 228.3h0.7v0.7h-0.7zM139.1 202.3h0.7v0.7h-0.7zM130.8 211.5h0.7v0.7h-0.7zM135.5 221.8h0.7v0.7h-0.7zM130.9 227.6h0.7v0.7h-0.7zM138.0 210.6h0.7v0.7h-0.7zM133.3 235.2h0.7v0.7h-0.7zM137.7 210.7h0.7v0.7h-0.7zM131.3 226.6h0.7v0.7h-0.7zM135.9 216.3h0.7v0.7h-0.7zM130.7 210.6h0.7v0.7h-0.7zM132.9 237.4h0.7v0.7h-0.7zM127.5 215.4h0.7v0.7h-0.7zM131.0 195.9h0.7v0.7h-0.7zM147.0 198.7h0.7v0.7h-0.7zM139.0 228.3h0.7v0.7h-0.7zM136.4 215.2h0.7v0.7h-0.7zM133.3 220.8h0.7v0.7h-0.7zM135.4 221.9h0.7v0.7h-0.7zM139.2 193.3h0.7v0.7h-0.7zM127.7 213.3h0.7v0.7h-0.7zM135.4 196.7h0.7v0.7h-0.7zM138.3 221.1h0.7v0.7h-0.7zM134.4 228.1h0.7v0.7h-0.7zM137.4 213.1h0.7v0.7h-0.7zM129.8 229.1h0.7v0.7h-0.7zM132.5 204.5h0.7v0.7h-0.7zM128.6 222.9h0.7v0.7h-0.7zM135.6 212.4h0.7v0.7h-0.7zM139.8 203.9h0.7v0.7h-0.7zM138.9 207.9h0.7v0.7h-0.7zM133.6 211.7h0.7v0.7h-0.7zM133.6 232.6h0.7v0.7h-0.7zM129.9 227.5h0.7v0.7h-0.7zM140.5 212.8h0.7v0.7h-0.7zM132.2 199.1h0.7v0.7h-0.7zM130.5 251.8h0.7v0.7h-0.7zM133.0 215.9h0.7v0.7h-0.7zM128.9 219.7h0.7v0.7h-0.7zM134.3 227.3h0.7v0.7h-0.7zM143.4 228.5h0.7v0.7h-0.7zM130.1 212.3h0.7v0.7h-0.7zM128.1 208.3h0.7v0.7h-0.7zM125.7 228.5h0.7v0.7h-0.7zM122.5 221.2h0.7v0.7h-0.7zM136.5 194.3h0.7v0.7h-0.7zM136.5 231.6h0.7v0.7h-0.7zM143.3 211.7h0.7v0.7h-0.7zM137.7 217.2h0.7v0.7h-0.7zM141.3 214.9h0.7v0.7h-0.7zM140.9 201.6h0.7v0.7h-0.7zM132.0 199.8h0.7v0.7h-0.7zM134.6 197.8h0.7v0.7h-0.7zM135.5 206.9h0.7v0.7h-0.7zM126.8 216.8h0.7v0.7h-0.7zM139.2 221.5h0.7v0.7h-0.7zM136.1 211.3h0.7v0.7h-0.7zM135.0 193.4h0.7v0.7h-0.7zM145.9 193.3h0.7v0.7h-0.7zM130.8 200.3h0.7v0.7h-0.7zM128.5 215.8h0.7v0.7h-0.7zM131.0 206.7h0.7v0.7h-0.7zM137.2 198.6h0.7v0.7h-0.7zM128.0 219.7h0.7v0.7h-0.7zM133.7 190.0h0.7v0.7h-0.7zM138.7 195.6h0.7v0.7h-0.7zM134.0 214.3h0.7v0.7h-0.7zM135.2 217.9h0.7v0.7h-0.7zM132.0 213.6h0.7v0.7h-0.7zM125.4 216.9h0.7v0.7h-0.7zM123.7 222.8h0.7v0.7h-0.7zM129.3 225.2h0.7v0.7h-0.7zM133.2 220.8h0.7v0.7h-0.7zM132.0 210.7h0.7v0.7h-0.7zM135.7 222.8h0.7v0.7h-0.7zM135.2 178.2h0.7v0.7h-0.7zM133.9 223.5h0.7v0.7h-0.7zM140.7 211.3h0.7v0.7h-0.7zM143.5 167.8h0.7v0.7h-0.7zM132.7 205.6h0.7v0.7h-0.7zM144.7 211.8h0.7v0.7h-0.7zM147.0 215.8h0.7v0.7h-0.7zM132.5 206.3h0.7v0.7h-0.7zM129.7 215.4h0.7v0.7h-0.7zM135.9 201.1h0.7v0.7h-0.7zM141.7 228.7h0.7v0.7h-0.7zM131.9 220.9h0.7v0.7h-0.7zM133.7 207.4h0.7v0.7h-0.7zM130.5 205.0h0.7v0.7h-0.7zM141.0 237.1h0.7v0.7h-0.7zM133.8 209.8h0.7v0.7h-0.7zM140.8 203.5h0.7v0.7h-0.7zM139.5 194.4h0.7v0.7h-0.7zM135.2 224.0h0.7v0.7h-0.7zM136.4 235.3h0.7v0.7h-0.7zM140.6 209.1h0.7v0.7h-0.7zM129.8 182.8h0.7v0.7h-0.7zM128.8 211.7h0.7v0.7h-0.7zM127.9 250.9h0.7v0.7h-0.7zM135.8 220.0h0.7v0.7h-0.7zM134.9 211.6h0.7v0.7h-0.7zM134.6 229.2h0.7v0.7h-0.7zM133.3 226.8h0.7v0.7h-0.7zM141.0 217.7h0.7v0.7h-0.7zM137.3 219.2h0.7v0.7h-0.7zM139.1 226.5h0.7v0.7h-0.7zM133.9 230.2h0.7v0.7h-0.7zM140.0 218.0h0.7v0.7h-0.7zM126.0 237.1h0.7v0.7h-0.7zM134.6 224.3h0.7v0.7h-0.7zM135.5 210.7h0.7v0.7h-0.7zM128.2 214.4h0.7v0.7h-0.7zM132.6 221.5h0.7v0.7h-0.7zM132.8 213.9h0.7v0.7h-0.7zM138.0 215.0h0.7v0.7h-0.7zM130.6 220.7h0.7v0.7h-0.7zM133.9 200.9h0.7v0.7h-0.7zM129.8 202.6h0.7v0.7h-0.7zM133.7 184.6h0.7v0.7h-0.7zM127.5 205.9h0.7v0.7h-0.7zM132.3 212.0h0.7v0.7h-0.7zM138.3 200.6h0.7v0.7h-0.7zM141.5 219.9h0.7v0.7h-0.7zM121.9 212.7h0.7v0.7h-0.7zM128.5 220.8h0.7v0.7h-0.7zM144.7 196.7h0.7v0.7h-0.7zM135.9 200.1h0.7v0.7h-0.7zM125.8 222.2h0.7v0.7h-0.7zM139.2 205.8h0.7v0.7h-0.7zM133.5 197.9h0.7v0.7h-0.7zM131.0 210.9h0.7v0.7h-0.7zM132.4 223.7h0.7v0.7h-0.7zM135.2 213.8h0.7v0.7h-0.7zM133.9 222.6h0.7v0.7h-0.7zM138.5 196.6h0.7v0.7h-0.7zM132.6 219.7h0.7v0.7h-0.7zM131.8 194.7h0.7v0.7h-0.7zM130.4 197.6h0.7v0.7h-0.7zM133.2 212.1h0.7v0.7h-0.7zM139.0 189.1h0.7v0.7h-0.7zM135.5 225.3h0.7v0.7h-0.7zM147.9 211.5h0.7v0.7h-0.7zM139.9 191.6h0.7v0.7h-0.7zM137.7 236.5h0.7v0.7h-0.7zM136.1 206.4h0.7v0.7h-0.7zM142.9 202.2h0.7v0.7h-0.7zM144.4 200.9h0.7v0.7h-0.7zM136.2 218.6h0.7v0.7h-0.7zM135.7 206.6h0.7v0.7h-0.7zM127.3 232.2h0.7v0.7h-0.7zM137.4 202.8h0.7v0.7h-0.7zM126.5 223.8h0.7v0.7h-0.7zM141.0 214.1h0.7v0.7h-0.7zM131.2 221.7h0.7v0.7h-0.7zM135.2 230.7h0.7v0.7h-0.7zM134.1 204.9h0.7v0.7h-0.7zM135.3 196.4h0.7v0.7h-0.7zM129.1 206.5h0.7v0.7h-0.7zM133.2 215.1h0.7v0.7h-0.7zM127.3 208.9h0.7v0.7h-0.7zM146.2 192.3h0.7v0.7h-0.7zM132.8 207.7h0.7v0.7h-0.7zM138.2 203.9h0.7v0.7h-0.7zM146.3 207.9h0.7v0.7h-0.7zM135.2 216.4h0.7v0.7h-0.7zM140.6 220.5h0.7v0.7h-0.7zM127.0 214.3h0.7v0.7h-0.7zM129.6 229.2h0.7v0.7h-0.7zM136.4 219.2h0.7v0.7h-0.7zM134.4 204.7h0.7v0.7h-0.7zM138.4 226.8h0.7v0.7h-0.7zM145.9 211.8h0.7v0.7h-0.7zM141.0 200.7h0.7v0.7h-0.7zM136.9 214.6h0.7v0.7h-0.7zM129.4 205.6h0.7v0.7h-0.7zM134.9 211.3h0.7v0.7h-0.7zM133.0 210.3h0.7v0.7h-0.7zM134.6 208.4h0.7v0.7h-0.7zM125.3 215.1h0.7v0.7h-0.7zM143.0 212.6h0.7v0.7h-0.7zM135.8 203.4h0.7v0.7h-0.7zM131.1 201.3h0.7v0.7h-0.7zM127.3 214.0h0.7v0.7h-0.7zM129.1 217.9h0.7v0.7h-0.7zM136.2 195.4h0.7v0.7h-0.7zM145.7 210.4h0.7v0.7h-0.7zM135.3 208.1h0.7v0.7h-0.7zM128.2 213.2h0.7v0.7h-0.7zM139.1 186.7h0.7v0.7h-0.7zM134.1 215.8h0.7v0.7h-0.7zM145.6 189.0h0.7v0.7h-0.7zM129.1 228.6h0.7v0.7h-0.7zM129.6 222.1h0.7v0.7h-0.7zM130.3 198.5h0.7v0.7h-0.7zM138.5 207.1h0.7v0.7h-0.7zM128.5 214.0h0.7v0.7h-0.7zM140.1 213.2h0.7v0.7h-0.7zM146.9 198.2h0.7v0.7h-0.7zM142.1 218.7h0.7v0.7h-0.7zM137.6 224.2h0.7v0.7h-0.7zM133.0 210.1h0.7v0.7h-0.7zM128.1 204.0h0.7v0.7h-0.7zM129.3 226.8h0.7v0.7h-0.7zM131.3 218.3h0.7v0.7h-0.7zM130.9 244.8h0.7v0.7h-0.7zM131.0 201.4h0.7v0.7h-0.7zM139.3 191.1h0.7v0.7h-0.7zM135.3 200.9h0.7v0.7h-0.7zM130.0 210.8h0.7v0.7h-0.7zM143.4 226.5h0.7v0.7h-0.7zM137.7 220.4h0.7v0.7h-0.7zM137.3 205.3h0.7v0.7h-0.7zM135.0 212.7h0.7v0.7h-0.7zM136.2 225.7h0.7v0.7h-0.7zM129.7 196.2h0.7v0.7h-0.7zM142.6 200.1h0.7v0.7h-0.7zM136.9 251.4h0.7v0.7h-0.7zM139.0 218.6h0.7v0.7h-0.7zM133.2 216.3h0.7v0.7h-0.7zM135.1 253.9h0.7v0.7h-0.7zM138.7 212.2h0.7v0.7h-0.7zM142.2 214.7h0.7v0.7h-0.7zM140.3 218.2h0.7v0.7h-0.7zM134.2 224.1h0.7v0.7h-0.7zM134.1 205.3h0.7v0.7h-0.7zM133.6 215.1h0.7v0.7h-0.7zM131.3 223.8h0.7v0.7h-0.7zM135.4 218.0h0.7v0.7h-0.7zM132.0 216.8h0.7v0.7h-0.7zM137.9 210.4h0.7v0.7h-0.7zM132.5 217.4h0.7v0.7h-0.7zM135.9 206.4h0.7v0.7h-0.7zM137.8 220.1h0.7v0.7h-0.7zM144.8 199.7h0.7v0.7h-0.7zM127.3 217.0h0.7v0.7h-0.7zM142.6 227.3h0.7v0.7h-0.7zM134.9 204.3h0.7v0.7h-0.7zM136.1 207.7h0.7v0.7h-0.7zM129.8 214.8h0.7v0.7h-0.7zM130.9 209.6h0.7v0.7h-0.7z" fill="#555" opacity="0.7" clip-path="url(#cB2)"/>
<path d="M127,242 L133,226 L140,242 Z" fill="#777" filter="url(#b20)" clip-path="url(#cB2)"/>
<g clip-path="url(#cB2)"><ellipse cx="133" cy="231" rx="2.5" ry="5" fill="#333" opacity="1.0" filter="url(#b12)"/></g>
<g clip-path="url(#cB2)"><ellipse cx="135.5" cy="195" rx="7.5" ry="3.5" fill="#8a8a8a" opacity="0.8" filter="url(#b12)"/></g>
<g clip-path="url(#cB2)"><ellipse cx="129.5" cy="210" rx="2.5" ry="10" fill="#999" opacity="0.8" filter="url(#b12)"/></g>
<rect x="127.5" y="191" width="17" height="24" rx="4" fill="#7a7a7a" filter="url(#b12)"/>
<g clip-path="url(#cB2)"><ellipse cx="134.2" cy="211" rx="7.2" ry="18.5" fill="#4a4a4a" opacity="0.9" filter="url(#b12)"/></g>
<path d="M137.60,195.20 C138.83,195.45 140.07,196.08 140.60,197.30 C141.13,198.52 140.90,200.55 140.80,202.50 C140.70,204.45 140.37,206.92 140.00,209.00 C139.63,211.08 139.13,213.00 138.60,215.00 C138.07,217.00 137.40,218.83 136.80,221.00 C136.20,223.17 135.58,225.75 135.00,228.00 C134.42,230.25 133.87,234.25 133.30,234.50 C132.73,234.75 132.13,231.58 131.60,229.50 C131.07,227.42 130.48,224.92 130.10,222.00 C129.72,219.08 129.42,215.00 129.30,212.00 C129.18,209.00 129.22,206.17 129.40,204.00 C129.58,201.83 129.77,200.37 130.40,199.00 C131.03,197.63 132.00,196.43 133.20,195.80 C134.40,195.17 136.37,194.95 137.60,195.20 Z" fill="#242424" filter="url(#b05)"/>
<path d="M137.50,197.20 C138.32,197.38 139.10,198.03 139.40,199.00 C139.70,199.97 139.45,201.50 139.30,203.00 C139.15,204.50 138.87,206.17 138.50,208.00 C138.13,209.83 137.62,212.00 137.10,214.00 C136.58,216.00 135.98,218.03 135.40,220.00 C134.82,221.97 134.10,225.17 133.60,225.80 C133.10,226.43 132.73,225.10 132.40,223.80 C132.07,222.50 131.80,220.30 131.60,218.00 C131.40,215.70 131.23,212.33 131.20,210.00 C131.17,207.67 131.22,205.60 131.40,204.00 C131.58,202.40 131.78,201.42 132.30,200.40 C132.82,199.38 133.63,198.43 134.50,197.90 C135.37,197.37 136.68,197.02 137.50,197.20 Z" fill="#f4f4f4" filter="url(#b03)"/>
<rect x="118.2" y="175.5" width="63.6" height="67" rx="0.8" fill="none" stroke="#777" stroke-width="0.8"/>
<rect x="126.4" y="189.3" width="18.1" height="24.9" fill="none" stroke="#555" stroke-width="0.7"/>
<text x="125.0" y="184.1" font-size="4.6" fill="#333" text-anchor="start" font-weight="normal">SEZARY</text>
<path d="M97.0,197.6 L121.20,197.60" stroke="#111" stroke-width="0.9" fill="none"/><path d="M126.2,197.6 L121.20,199.70 L121.20,195.50 Z" fill="#111"/>
<path d="M144.5,192.7 L190.00,192.70" stroke="#111" stroke-width="0.9" fill="none"/><path d="M195.0,192.7 L190.00,194.80 L190.00,190.60 Z" fill="#111"/>
<path d="M114.8,244.5 L114.80,212.00" stroke="#111" stroke-width="0.9" fill="none"/><path d="M114.8,207.0 L116.90,212.00 L112.70,212.00 Z" fill="#111"/>
<path d="M119.5,250.3 L177.00,250.30" stroke="#111" stroke-width="0.9" fill="none"/><path d="M182.0,250.3 L177.00,252.40 L177.00,248.20 Z" fill="#111"/>
<text transform="translate(109.0,225.5) rotate(-90) scale(0.565,1)" font-size="10.5" fill="#111" text-anchor="middle" font-weight="normal" stroke="#111" stroke-width="0.28">CD158k</text>
<text transform="translate(151.0,261.9) scale(0.565,1)" font-size="10.5" fill="#111" text-anchor="middle" font-weight="normal" stroke="#111" stroke-width="0.28">CD7</text>
<path d="M214.8,219.6 C217.5,212 219.5,190 221.2,179 C221.6,177.2 222.4,177.2 222.8,179 C224.5,190 226.5,212 229.6,219.6 Z" fill="#8899c2"/>
<path d="M215.6,219.6 C222,216 228,210.5 233,205.8 C236,203 238.3,201.3 240.3,201.4 C242.5,201.6 244,204 246,208 C248,212.5 250.5,217 255.3,219.6 Z" fill="#cf5f7d" opacity="0.72"/>
<path d="M214.8,219.6 C217.5,212 219.5,190 221.2,179 C221.6,177.2 222.4,177.2 222.8,179 C224.5,190 226.5,212 229.6,219.6 Z" fill="none" stroke="#3a5a98" stroke-width="0.9"/>
<path d="M215.6,219.6 C222,216 228,210.5 233,205.8 C236,203 238.3,201.3 240.3,201.4 C242.5,201.6 244,204 246,208 C248,212.5 250.5,217 255.3,219.6" fill="none" stroke="#b3123e" stroke-width="1.0"/>
<path d="M200.7,175.7 L200.7,219.8 L277,219.8" stroke="#111" stroke-width="1.2" fill="none"/>
<path d="M222.4,206 L222.4,239.5" stroke="#4a64a0" stroke-width="0.8"/>
<path d="M238.8,209 L238.8,224.5" stroke="#c0123f" stroke-width="0.9"/>
<text x="222.4" y="248.8" font-size="6.8" fill="#4a64a0" text-anchor="middle" font-weight="normal">Isotype</text>
<text x="238.5" y="232.8" font-size="7.2" fill="#c0123f" text-anchor="middle" font-weight="normal">ICOS</text>
<text x="7.8" y="291.0" font-size="12.5" fill="#000" text-anchor="start" font-weight="bold">D</text>
<text x="69.8" y="300.9" font-size="6.8" fill="#1a1a1a" text-anchor="middle" font-weight="normal">Live CD45<tspan font-size="5" dy="-3.2">+</tspan></text>
<path d="M72.7 320.9h0.7v0.7h-0.7zM36.5 312.3h0.7v0.7h-0.7zM89.5 332.4h0.7v0.7h-0.7zM70.6 345.2h0.7v0.7h-0.7zM52.9 316.8h0.7v0.7h-0.7zM63.4 350.7h0.7v0.7h-0.7zM85.6 333.1h0.7v0.7h-0.7zM77.0 320.8h0.7v0.7h-0.7zM100.4 344.0h0.7v0.7h-0.7zM90.5 327.7h0.7v0.7h-0.7zM75.1 348.2h0.7v0.7h-0.7zM71.9 351.2h0.7v0.7h-0.7zM54.1 352.7h0.7v0.7h-0.7zM57.2 336.5h0.7v0.7h-0.7zM45.2 329.8h0.7v0.7h-0.7zM96.2 307.3h0.7v0.7h-0.7zM48.3 338.1h0.7v0.7h-0.7zM80.5 346.8h0.7v0.7h-0.7zM82.5 348.8h0.7v0.7h-0.7zM76.7 314.7h0.7v0.7h-0.7zM72.7 322.4h0.7v0.7h-0.7zM35.8 336.0h0.7v0.7h-0.7zM102.3 333.5h0.7v0.7h-0.7zM87.6 343.0h0.7v0.7h-0.7zM38.0 338.5h0.7v0.7h-0.7z" fill="#555" opacity="0.6" clip-path="url(#cD0)"/>
<path d="M52.3 339.2h0.7v0.7h-0.7zM43.9 356.6h0.7v0.7h-0.7zM42.0 323.8h0.7v0.7h-0.7zM49.6 331.4h0.7v0.7h-0.7zM41.7 342.0h0.7v0.7h-0.7zM43.2 354.2h0.7v0.7h-0.7zM54.9 357.3h0.7v0.7h-0.7zM44.2 347.3h0.7v0.7h-0.7zM43.8 335.6h0.7v0.7h-0.7zM45.5 338.3h0.7v0.7h-0.7zM47.8 337.2h0.7v0.7h-0.7zM52.0 328.7h0.7v0.7h-0.7zM48.0 327.0h0.7v0.7h-0.7zM48.5 349.6h0.7v0.7h-0.7zM52.6 345.0h0.7v0.7h-0.7zM47.1 334.7h0.7v0.7h-0.7zM44.9 341.2h0.7v0.7h-0.7zM43.4 329.2h0.7v0.7h-0.7zM51.6 344.1h0.7v0.7h-0.7zM48.3 336.5h0.7v0.7h-0.7zM49.2 336.5h0.7v0.7h-0.7zM48.2 340.3h0.7v0.7h-0.7zM46.6 334.8h0.7v0.7h-0.7zM49.2 333.4h0.7v0.7h-0.7zM52.9 347.3h0.7v0.7h-0.7zM45.5 343.8h0.7v0.7h-0.7zM49.9 340.2h0.7v0.7h-0.7zM42.0 342.2h0.7v0.7h-0.7zM45.1 338.4h0.7v0.7h-0.7zM54.9 340.3h0.7v0.7h-0.7zM40.8 345.8h0.7v0.7h-0.7zM50.7 333.4h0.7v0.7h-0.7zM46.3 334.4h0.7v0.7h-0.7zM47.6 349.3h0.7v0.7h-0.7zM57.1 338.1h0.7v0.7h-0.7zM47.2 351.3h0.7v0.7h-0.7zM45.6 347.3h0.7v0.7h-0.7zM43.9 365.8h0.7v0.7h-0.7zM43.2 346.0h0.7v0.7h-0.7zM53.1 348.0h0.7v0.7h-0.7zM53.0 347.7h0.7v0.7h-0.7zM46.7 345.9h0.7v0.7h-0.7zM50.1 341.9h0.7v0.7h-0.7zM50.1 337.9h0.7v0.7h-0.7zM43.2 351.5h0.7v0.7h-0.7zM47.3 353.4h0.7v0.7h-0.7zM54.2 336.7h0.7v0.7h-0.7zM53.3 343.5h0.7v0.7h-0.7zM48.2 326.2h0.7v0.7h-0.7zM44.8 338.2h0.7v0.7h-0.7zM44.2 330.6h0.7v0.7h-0.7zM39.7 341.2h0.7v0.7h-0.7zM48.1 347.1h0.7v0.7h-0.7zM40.7 327.4h0.7v0.7h-0.7zM54.8 339.0h0.7v0.7h-0.7zM46.2 348.3h0.7v0.7h-0.7zM42.1 338.6h0.7v0.7h-0.7zM49.9 343.6h0.7v0.7h-0.7zM50.0 336.7h0.7v0.7h-0.7zM52.6 328.4h0.7v0.7h-0.7zM37.6 338.4h0.7v0.7h-0.7zM47.0 339.8h0.7v0.7h-0.7zM38.1 329.3h0.7v0.7h-0.7zM45.1 347.1h0.7v0.7h-0.7zM51.3 353.5h0.7v0.7h-0.7zM41.6 335.8h0.7v0.7h-0.7zM39.5 330.2h0.7v0.7h-0.7zM41.5 338.9h0.7v0.7h-0.7zM43.1 342.4h0.7v0.7h-0.7zM52.2 337.8h0.7v0.7h-0.7zM44.8 340.1h0.7v0.7h-0.7zM45.7 338.2h0.7v0.7h-0.7zM43.8 341.0h0.7v0.7h-0.7zM44.3 343.6h0.7v0.7h-0.7zM47.2 348.5h0.7v0.7h-0.7zM48.7 344.2h0.7v0.7h-0.7zM46.2 336.4h0.7v0.7h-0.7zM48.8 333.2h0.7v0.7h-0.7zM48.1 353.4h0.7v0.7h-0.7zM43.8 345.4h0.7v0.7h-0.7zM49.0 340.0h0.7v0.7h-0.7zM50.8 336.4h0.7v0.7h-0.7zM41.6 344.2h0.7v0.7h-0.7zM48.4 342.4h0.7v0.7h-0.7zM50.2 331.4h0.7v0.7h-0.7zM43.2 354.5h0.7v0.7h-0.7zM45.4 348.4h0.7v0.7h-0.7zM48.2 324.7h0.7v0.7h-0.7zM44.3 362.3h0.7v0.7h-0.7zM47.3 346.1h0.7v0.7h-0.7zM41.4 339.1h0.7v0.7h-0.7zM42.2 337.8h0.7v0.7h-0.7zM47.1 334.0h0.7v0.7h-0.7zM41.0 344.8h0.7v0.7h-0.7zM48.9 336.1h0.7v0.7h-0.7zM43.7 347.1h0.7v0.7h-0.7zM46.0 349.5h0.7v0.7h-0.7zM49.2 337.9h0.7v0.7h-0.7zM50.6 325.4h0.7v0.7h-0.7zM42.8 340.5h0.7v0.7h-0.7zM50.2 346.8h0.7v0.7h-0.7zM48.7 333.5h0.7v0.7h-0.7zM46.3 355.0h0.7v0.7h-0.7zM49.3 348.6h0.7v0.7h-0.7zM47.0 330.5h0.7v0.7h-0.7zM45.1 350.4h0.7v0.7h-0.7zM43.4 350.2h0.7v0.7h-0.7zM48.5 326.2h0.7v0.7h-0.7zM46.8 335.9h0.7v0.7h-0.7zM45.8 351.8h0.7v0.7h-0.7zM41.0 327.2h0.7v0.7h-0.7zM45.2 341.0h0.7v0.7h-0.7zM47.6 341.1h0.7v0.7h-0.7zM43.1 338.3h0.7v0.7h-0.7zM55.0 344.1h0.7v0.7h-0.7zM49.9 342.9h0.7v0.7h-0.7zM47.4 328.0h0.7v0.7h-0.7zM48.5 360.1h0.7v0.7h-0.7zM39.5 344.8h0.7v0.7h-0.7zM41.4 345.4h0.7v0.7h-0.7z" fill="#444" opacity="0.5" clip-path="url(#cD0)"/>
<path d="M67.5 333.7h0.7v0.7h-0.7zM58.2 332.1h0.7v0.7h-0.7zM73.5 333.0h0.7v0.7h-0.7zM65.3 335.9h0.7v0.7h-0.7zM62.1 333.3h0.7v0.7h-0.7zM56.5 341.1h0.7v0.7h-0.7zM67.2 336.2h0.7v0.7h-0.7zM62.1 330.4h0.7v0.7h-0.7zM70.0 332.3h0.7v0.7h-0.7zM65.8 330.4h0.7v0.7h-0.7zM78.9 333.7h0.7v0.7h-0.7zM67.5 337.2h0.7v0.7h-0.7zM58.8 334.6h0.7v0.7h-0.7zM57.8 331.1h0.7v0.7h-0.7zM70.6 338.1h0.7v0.7h-0.7zM68.2 330.8h0.7v0.7h-0.7zM64.9 336.6h0.7v0.7h-0.7zM63.1 332.9h0.7v0.7h-0.7zM66.7 336.9h0.7v0.7h-0.7zM61.8 328.7h0.7v0.7h-0.7zM62.2 333.5h0.7v0.7h-0.7zM64.2 335.0h0.7v0.7h-0.7zM72.2 333.9h0.7v0.7h-0.7zM67.9 331.8h0.7v0.7h-0.7zM65.0 335.9h0.7v0.7h-0.7zM58.5 337.4h0.7v0.7h-0.7zM60.5 333.0h0.7v0.7h-0.7zM68.8 336.0h0.7v0.7h-0.7zM66.0 331.8h0.7v0.7h-0.7zM76.9 333.6h0.7v0.7h-0.7zM65.7 334.2h0.7v0.7h-0.7zM66.3 333.1h0.7v0.7h-0.7zM62.1 330.4h0.7v0.7h-0.7zM58.8 336.4h0.7v0.7h-0.7zM75.4 334.6h0.7v0.7h-0.7zM66.4 333.2h0.7v0.7h-0.7zM63.2 340.6h0.7v0.7h-0.7zM66.6 335.8h0.7v0.7h-0.7zM71.6 324.0h0.7v0.7h-0.7zM69.4 333.8h0.7v0.7h-0.7zM66.1 334.4h0.7v0.7h-0.7zM69.4 336.1h0.7v0.7h-0.7zM75.3 332.5h0.7v0.7h-0.7zM68.0 337.2h0.7v0.7h-0.7zM62.1 333.4h0.7v0.7h-0.7zM69.2 334.8h0.7v0.7h-0.7zM65.0 334.9h0.7v0.7h-0.7zM81.5 332.5h0.7v0.7h-0.7zM59.2 334.6h0.7v0.7h-0.7zM54.8 331.8h0.7v0.7h-0.7zM54.1 338.2h0.7v0.7h-0.7zM70.2 333.2h0.7v0.7h-0.7zM52.3 329.9h0.7v0.7h-0.7zM59.3 344.2h0.7v0.7h-0.7zM56.6 334.0h0.7v0.7h-0.7zM70.5 336.0h0.7v0.7h-0.7zM63.2 332.0h0.7v0.7h-0.7zM71.4 333.4h0.7v0.7h-0.7zM56.0 331.5h0.7v0.7h-0.7zM61.9 339.0h0.7v0.7h-0.7z" fill="#555" opacity="0.5" clip-path="url(#cD0)"/>
<path d="M64.5 340.3h0.7v0.7h-0.7zM64.1 351.7h0.7v0.7h-0.7zM62.6 345.6h0.7v0.7h-0.7zM61.8 349.0h0.7v0.7h-0.7zM65.1 345.5h0.7v0.7h-0.7zM65.3 350.3h0.7v0.7h-0.7zM63.3 347.6h0.7v0.7h-0.7zM66.5 346.7h0.7v0.7h-0.7zM61.0 350.5h0.7v0.7h-0.7zM64.8 349.8h0.7v0.7h-0.7zM65.5 355.0h0.7v0.7h-0.7zM61.5 356.8h0.7v0.7h-0.7zM66.2 351.2h0.7v0.7h-0.7zM62.7 348.1h0.7v0.7h-0.7zM64.7 350.0h0.7v0.7h-0.7zM60.8 347.7h0.7v0.7h-0.7zM60.1 357.5h0.7v0.7h-0.7zM63.3 345.0h0.7v0.7h-0.7zM63.7 350.7h0.7v0.7h-0.7zM67.3 350.9h0.7v0.7h-0.7zM60.6 346.3h0.7v0.7h-0.7zM65.5 348.5h0.7v0.7h-0.7zM67.0 345.7h0.7v0.7h-0.7zM64.2 338.9h0.7v0.7h-0.7zM64.7 350.8h0.7v0.7h-0.7zM65.4 344.3h0.7v0.7h-0.7zM64.9 348.0h0.7v0.7h-0.7zM62.7 345.6h0.7v0.7h-0.7zM65.4 350.8h0.7v0.7h-0.7zM69.8 343.7h0.7v0.7h-0.7zM64.2 351.7h0.7v0.7h-0.7zM63.8 351.5h0.7v0.7h-0.7zM60.3 355.6h0.7v0.7h-0.7zM67.4 348.4h0.7v0.7h-0.7zM61.7 346.1h0.7v0.7h-0.7zM63.0 354.2h0.7v0.7h-0.7zM63.7 349.1h0.7v0.7h-0.7zM66.4 346.4h0.7v0.7h-0.7zM63.4 338.1h0.7v0.7h-0.7zM67.0 354.6h0.7v0.7h-0.7zM65.4 343.9h0.7v0.7h-0.7zM66.2 346.8h0.7v0.7h-0.7zM58.1 346.5h0.7v0.7h-0.7zM60.0 346.5h0.7v0.7h-0.7zM62.1 351.8h0.7v0.7h-0.7zM61.1 348.6h0.7v0.7h-0.7zM64.6 340.9h0.7v0.7h-0.7zM65.1 344.9h0.7v0.7h-0.7zM62.5 341.4h0.7v0.7h-0.7zM65.0 345.2h0.7v0.7h-0.7zM64.6 347.8h0.7v0.7h-0.7zM68.6 346.8h0.7v0.7h-0.7zM65.1 354.1h0.7v0.7h-0.7zM63.8 353.3h0.7v0.7h-0.7zM66.1 339.3h0.7v0.7h-0.7zM68.6 347.3h0.7v0.7h-0.7zM62.1 346.7h0.7v0.7h-0.7zM65.4 349.0h0.7v0.7h-0.7zM70.2 340.2h0.7v0.7h-0.7zM65.8 345.4h0.7v0.7h-0.7zM63.8 345.9h0.7v0.7h-0.7zM63.1 355.1h0.7v0.7h-0.7zM65.4 347.7h0.7v0.7h-0.7zM65.7 341.0h0.7v0.7h-0.7zM64.5 345.6h0.7v0.7h-0.7zM62.6 354.0h0.7v0.7h-0.7zM65.4 350.6h0.7v0.7h-0.7zM63.5 348.4h0.7v0.7h-0.7zM64.9 350.6h0.7v0.7h-0.7zM65.3 350.0h0.7v0.7h-0.7zM63.1 350.1h0.7v0.7h-0.7zM66.0 350.2h0.7v0.7h-0.7zM64.2 349.0h0.7v0.7h-0.7zM64.8 349.3h0.7v0.7h-0.7zM64.9 345.7h0.7v0.7h-0.7zM63.7 348.5h0.7v0.7h-0.7zM62.2 336.9h0.7v0.7h-0.7zM64.7 346.2h0.7v0.7h-0.7zM65.5 350.5h0.7v0.7h-0.7zM65.8 346.8h0.7v0.7h-0.7zM65.3 340.3h0.7v0.7h-0.7zM66.3 343.9h0.7v0.7h-0.7zM63.0 350.1h0.7v0.7h-0.7zM63.4 343.8h0.7v0.7h-0.7zM64.3 343.4h0.7v0.7h-0.7zM66.9 342.9h0.7v0.7h-0.7zM64.7 352.7h0.7v0.7h-0.7zM65.6 358.0h0.7v0.7h-0.7zM67.4 349.3h0.7v0.7h-0.7zM61.9 350.6h0.7v0.7h-0.7z" fill="#777" opacity="0.5" clip-path="url(#cD0)"/>
<path d="M75.1 358.5h0.7v0.7h-0.7zM70.6 357.8h0.7v0.7h-0.7zM65.7 357.3h0.7v0.7h-0.7zM69.3 356.5h0.7v0.7h-0.7zM75.5 354.6h0.7v0.7h-0.7zM75.3 355.2h0.7v0.7h-0.7zM59.5 355.8h0.7v0.7h-0.7zM60.8 355.9h0.7v0.7h-0.7zM70.9 359.1h0.7v0.7h-0.7zM72.0 350.7h0.7v0.7h-0.7zM74.8 354.9h0.7v0.7h-0.7zM69.3 359.2h0.7v0.7h-0.7zM74.0 360.2h0.7v0.7h-0.7zM67.0 354.4h0.7v0.7h-0.7zM60.3 360.6h0.7v0.7h-0.7zM64.2 356.8h0.7v0.7h-0.7zM63.2 354.5h0.7v0.7h-0.7zM77.0 359.4h0.7v0.7h-0.7zM67.9 357.9h0.7v0.7h-0.7zM61.6 356.2h0.7v0.7h-0.7zM63.0 358.6h0.7v0.7h-0.7zM75.3 355.2h0.7v0.7h-0.7zM54.8 358.2h0.7v0.7h-0.7zM80.8 354.3h0.7v0.7h-0.7zM79.3 357.1h0.7v0.7h-0.7zM68.6 353.1h0.7v0.7h-0.7zM65.3 353.3h0.7v0.7h-0.7zM71.1 361.4h0.7v0.7h-0.7zM68.2 354.9h0.7v0.7h-0.7zM62.4 356.2h0.7v0.7h-0.7zM67.7 359.6h0.7v0.7h-0.7zM67.4 356.7h0.7v0.7h-0.7zM59.6 354.5h0.7v0.7h-0.7zM68.2 356.2h0.7v0.7h-0.7zM65.5 357.5h0.7v0.7h-0.7zM77.7 354.5h0.7v0.7h-0.7zM71.3 358.5h0.7v0.7h-0.7zM63.1 353.7h0.7v0.7h-0.7zM58.1 356.8h0.7v0.7h-0.7zM67.4 357.3h0.7v0.7h-0.7zM71.4 358.7h0.7v0.7h-0.7zM75.8 360.1h0.7v0.7h-0.7zM66.5 356.8h0.7v0.7h-0.7zM60.5 353.9h0.7v0.7h-0.7zM66.5 354.1h0.7v0.7h-0.7zM75.9 354.8h0.7v0.7h-0.7zM78.2 354.9h0.7v0.7h-0.7zM65.7 358.8h0.7v0.7h-0.7zM69.5 359.5h0.7v0.7h-0.7zM60.9 358.1h0.7v0.7h-0.7zM63.9 357.5h0.7v0.7h-0.7zM57.3 354.6h0.7v0.7h-0.7zM64.7 357.4h0.7v0.7h-0.7zM59.5 354.5h0.7v0.7h-0.7zM54.3 355.3h0.7v0.7h-0.7zM77.9 355.2h0.7v0.7h-0.7zM53.3 353.5h0.7v0.7h-0.7zM59.0 355.5h0.7v0.7h-0.7zM68.5 358.4h0.7v0.7h-0.7zM63.2 357.8h0.7v0.7h-0.7z" fill="#555" opacity="0.5" clip-path="url(#cD0)"/>
<path d="M46.0 357.7h0.7v0.7h-0.7zM51.6 358.0h0.7v0.7h-0.7zM38.2 357.9h0.7v0.7h-0.7zM44.7 351.3h0.7v0.7h-0.7zM48.5 355.7h0.7v0.7h-0.7zM40.3 352.1h0.7v0.7h-0.7zM48.9 356.9h0.7v0.7h-0.7zM49.6 356.5h0.7v0.7h-0.7zM56.2 354.8h0.7v0.7h-0.7zM46.8 356.5h0.7v0.7h-0.7zM54.3 359.0h0.7v0.7h-0.7zM43.6 358.9h0.7v0.7h-0.7zM43.2 358.1h0.7v0.7h-0.7zM38.7 352.4h0.7v0.7h-0.7zM51.3 357.2h0.7v0.7h-0.7zM44.5 352.5h0.7v0.7h-0.7zM43.7 355.0h0.7v0.7h-0.7zM50.1 356.6h0.7v0.7h-0.7zM36.6 354.6h0.7v0.7h-0.7zM40.8 354.7h0.7v0.7h-0.7zM40.3 358.8h0.7v0.7h-0.7zM52.1 355.8h0.7v0.7h-0.7zM42.7 354.2h0.7v0.7h-0.7zM46.2 361.1h0.7v0.7h-0.7zM51.2 357.3h0.7v0.7h-0.7zM52.3 355.0h0.7v0.7h-0.7zM43.9 357.3h0.7v0.7h-0.7zM40.7 358.9h0.7v0.7h-0.7zM43.6 353.5h0.7v0.7h-0.7zM51.1 355.6h0.7v0.7h-0.7zM45.0 359.3h0.7v0.7h-0.7zM53.6 354.8h0.7v0.7h-0.7zM52.4 353.1h0.7v0.7h-0.7zM53.6 356.7h0.7v0.7h-0.7zM46.7 359.6h0.7v0.7h-0.7zM48.6 352.4h0.7v0.7h-0.7zM48.3 358.3h0.7v0.7h-0.7zM51.6 359.8h0.7v0.7h-0.7zM44.7 353.6h0.7v0.7h-0.7zM38.7 355.2h0.7v0.7h-0.7z" fill="#555" opacity="0.5" clip-path="url(#cD0)"/>
<path d="M44.8 339.2h0.7v0.7h-0.7zM51.1 334.8h0.7v0.7h-0.7zM42.9 338.2h0.7v0.7h-0.7zM47.0 342.6h0.7v0.7h-0.7zM50.4 341.2h0.7v0.7h-0.7zM47.3 333.3h0.7v0.7h-0.7zM47.5 344.5h0.7v0.7h-0.7zM45.5 348.7h0.7v0.7h-0.7zM46.5 343.0h0.7v0.7h-0.7zM41.9 345.2h0.7v0.7h-0.7zM46.2 334.9h0.7v0.7h-0.7zM47.1 339.6h0.7v0.7h-0.7zM44.5 329.7h0.7v0.7h-0.7zM47.6 342.6h0.7v0.7h-0.7zM47.0 336.3h0.7v0.7h-0.7zM45.9 325.9h0.7v0.7h-0.7zM45.1 333.3h0.7v0.7h-0.7zM46.1 323.3h0.7v0.7h-0.7zM42.9 334.8h0.7v0.7h-0.7zM41.3 329.1h0.7v0.7h-0.7zM50.6 336.4h0.7v0.7h-0.7zM45.1 338.3h0.7v0.7h-0.7zM43.6 338.5h0.7v0.7h-0.7zM45.1 331.2h0.7v0.7h-0.7zM46.6 342.3h0.7v0.7h-0.7zM46.5 329.5h0.7v0.7h-0.7zM46.7 333.8h0.7v0.7h-0.7zM45.2 339.1h0.7v0.7h-0.7zM47.7 343.3h0.7v0.7h-0.7zM45.4 353.9h0.7v0.7h-0.7zM49.1 342.8h0.7v0.7h-0.7zM51.4 345.5h0.7v0.7h-0.7zM50.9 345.7h0.7v0.7h-0.7zM45.4 343.6h0.7v0.7h-0.7zM49.7 343.3h0.7v0.7h-0.7zM50.2 342.2h0.7v0.7h-0.7zM44.3 336.9h0.7v0.7h-0.7zM43.9 329.7h0.7v0.7h-0.7zM52.2 343.7h0.7v0.7h-0.7zM50.1 329.8h0.7v0.7h-0.7zM48.8 335.2h0.7v0.7h-0.7zM48.6 343.0h0.7v0.7h-0.7zM50.2 333.1h0.7v0.7h-0.7zM50.1 344.9h0.7v0.7h-0.7zM47.6 331.3h0.7v0.7h-0.7zM43.1 327.4h0.7v0.7h-0.7zM42.1 343.3h0.7v0.7h-0.7zM42.1 333.1h0.7v0.7h-0.7zM47.4 335.0h0.7v0.7h-0.7zM47.9 346.0h0.7v0.7h-0.7zM45.1 342.5h0.7v0.7h-0.7zM49.5 338.0h0.7v0.7h-0.7zM49.4 337.9h0.7v0.7h-0.7zM47.1 344.1h0.7v0.7h-0.7zM46.0 337.1h0.7v0.7h-0.7zM48.1 345.0h0.7v0.7h-0.7zM43.7 345.5h0.7v0.7h-0.7zM47.2 339.7h0.7v0.7h-0.7zM50.5 332.3h0.7v0.7h-0.7zM44.1 331.1h0.7v0.7h-0.7zM47.1 341.5h0.7v0.7h-0.7zM42.5 341.3h0.7v0.7h-0.7zM43.3 339.8h0.7v0.7h-0.7zM52.5 345.6h0.7v0.7h-0.7zM46.7 344.4h0.7v0.7h-0.7zM48.8 323.2h0.7v0.7h-0.7zM44.4 343.3h0.7v0.7h-0.7zM48.2 331.6h0.7v0.7h-0.7zM47.9 341.1h0.7v0.7h-0.7zM46.4 338.4h0.7v0.7h-0.7zM52.0 343.3h0.7v0.7h-0.7zM49.1 327.4h0.7v0.7h-0.7zM45.6 343.7h0.7v0.7h-0.7zM47.3 337.2h0.7v0.7h-0.7zM44.1 340.5h0.7v0.7h-0.7zM46.3 328.1h0.7v0.7h-0.7zM53.8 337.4h0.7v0.7h-0.7zM41.6 329.0h0.7v0.7h-0.7zM44.9 335.5h0.7v0.7h-0.7zM44.3 337.7h0.7v0.7h-0.7zM50.7 331.7h0.7v0.7h-0.7zM49.7 343.6h0.7v0.7h-0.7zM43.5 329.2h0.7v0.7h-0.7zM48.7 344.8h0.7v0.7h-0.7zM48.8 342.3h0.7v0.7h-0.7zM44.8 342.7h0.7v0.7h-0.7zM43.7 342.3h0.7v0.7h-0.7zM49.1 343.1h0.7v0.7h-0.7zM50.4 342.6h0.7v0.7h-0.7zM49.6 339.7h0.7v0.7h-0.7zM51.4 338.3h0.7v0.7h-0.7zM50.8 334.2h0.7v0.7h-0.7zM43.5 340.0h0.7v0.7h-0.7zM46.5 335.4h0.7v0.7h-0.7zM44.5 343.9h0.7v0.7h-0.7zM47.9 344.4h0.7v0.7h-0.7zM45.6 340.9h0.7v0.7h-0.7zM44.0 334.3h0.7v0.7h-0.7zM48.9 343.7h0.7v0.7h-0.7zM47.1 346.3h0.7v0.7h-0.7zM44.6 347.4h0.7v0.7h-0.7zM46.3 337.7h0.7v0.7h-0.7zM44.1 347.4h0.7v0.7h-0.7zM44.0 347.5h0.7v0.7h-0.7zM50.6 326.7h0.7v0.7h-0.7zM46.5 331.2h0.7v0.7h-0.7zM45.3 338.3h0.7v0.7h-0.7zM45.9 342.9h0.7v0.7h-0.7zM48.0 327.1h0.7v0.7h-0.7zM43.3 329.9h0.7v0.7h-0.7zM42.9 341.9h0.7v0.7h-0.7zM46.2 338.9h0.7v0.7h-0.7zM40.8 336.1h0.7v0.7h-0.7zM40.5 338.2h0.7v0.7h-0.7zM44.9 341.3h0.7v0.7h-0.7zM48.1 343.8h0.7v0.7h-0.7zM46.0 340.9h0.7v0.7h-0.7zM43.8 352.8h0.7v0.7h-0.7zM47.1 331.3h0.7v0.7h-0.7zM46.8 345.6h0.7v0.7h-0.7z" fill="#222" opacity="0.7" clip-path="url(#cD0)"/>
<path d="M43.9 358.1h0.7v0.7h-0.7zM45.5 358.4h0.7v0.7h-0.7zM46.8 355.1h0.7v0.7h-0.7zM47.4 358.2h0.7v0.7h-0.7zM39.5 354.9h0.7v0.7h-0.7zM48.1 354.8h0.7v0.7h-0.7zM39.8 356.4h0.7v0.7h-0.7zM44.8 356.0h0.7v0.7h-0.7zM45.1 356.8h0.7v0.7h-0.7zM43.3 354.0h0.7v0.7h-0.7zM45.7 355.9h0.7v0.7h-0.7zM45.9 356.5h0.7v0.7h-0.7zM43.9 354.0h0.7v0.7h-0.7zM48.3 358.6h0.7v0.7h-0.7zM48.5 356.6h0.7v0.7h-0.7zM48.9 355.8h0.7v0.7h-0.7zM41.2 353.5h0.7v0.7h-0.7zM46.9 354.7h0.7v0.7h-0.7zM43.0 357.0h0.7v0.7h-0.7zM50.3 358.5h0.7v0.7h-0.7zM40.1 356.0h0.7v0.7h-0.7zM43.7 356.4h0.7v0.7h-0.7zM46.4 357.1h0.7v0.7h-0.7zM45.6 354.6h0.7v0.7h-0.7zM38.7 359.0h0.7v0.7h-0.7zM44.2 357.4h0.7v0.7h-0.7zM47.0 357.5h0.7v0.7h-0.7zM46.5 358.1h0.7v0.7h-0.7zM42.8 357.1h0.7v0.7h-0.7zM48.3 355.1h0.7v0.7h-0.7zM42.9 355.2h0.7v0.7h-0.7zM51.3 355.6h0.7v0.7h-0.7zM49.8 355.7h0.7v0.7h-0.7zM47.4 357.3h0.7v0.7h-0.7zM47.3 355.6h0.7v0.7h-0.7zM44.6 359.1h0.7v0.7h-0.7zM52.0 357.2h0.7v0.7h-0.7zM44.4 357.0h0.7v0.7h-0.7zM53.6 355.3h0.7v0.7h-0.7zM47.0 357.1h0.7v0.7h-0.7zM45.1 356.1h0.7v0.7h-0.7zM49.7 355.9h0.7v0.7h-0.7zM46.0 356.8h0.7v0.7h-0.7zM41.6 356.4h0.7v0.7h-0.7zM50.6 358.0h0.7v0.7h-0.7zM39.5 356.1h0.7v0.7h-0.7zM53.2 354.8h0.7v0.7h-0.7zM43.2 356.8h0.7v0.7h-0.7zM44.0 355.1h0.7v0.7h-0.7zM43.8 356.6h0.7v0.7h-0.7zM47.5 356.9h0.7v0.7h-0.7zM40.9 353.8h0.7v0.7h-0.7zM49.5 356.2h0.7v0.7h-0.7zM46.9 356.9h0.7v0.7h-0.7zM52.1 358.0h0.7v0.7h-0.7zM44.4 357.5h0.7v0.7h-0.7zM48.5 358.5h0.7v0.7h-0.7zM49.9 359.8h0.7v0.7h-0.7zM55.1 356.8h0.7v0.7h-0.7zM43.0 357.2h0.7v0.7h-0.7zM43.7 356.3h0.7v0.7h-0.7zM50.5 355.4h0.7v0.7h-0.7zM39.1 355.5h0.7v0.7h-0.7zM42.6 353.9h0.7v0.7h-0.7zM48.9 357.2h0.7v0.7h-0.7zM47.6 358.0h0.7v0.7h-0.7zM45.9 359.5h0.7v0.7h-0.7zM47.5 357.7h0.7v0.7h-0.7zM43.8 357.0h0.7v0.7h-0.7zM45.4 354.6h0.7v0.7h-0.7zM47.5 355.0h0.7v0.7h-0.7zM50.2 353.9h0.7v0.7h-0.7zM39.2 358.3h0.7v0.7h-0.7zM48.9 355.8h0.7v0.7h-0.7zM39.2 355.3h0.7v0.7h-0.7zM47.5 359.3h0.7v0.7h-0.7zM44.2 358.9h0.7v0.7h-0.7zM40.0 358.8h0.7v0.7h-0.7zM49.2 355.3h0.7v0.7h-0.7zM51.8 356.5h0.7v0.7h-0.7z" fill="#222" opacity="0.7" clip-path="url(#cD0)"/>
<path d="M61.8 333.5h0.7v0.7h-0.7zM69.8 333.0h0.7v0.7h-0.7zM62.1 333.9h0.7v0.7h-0.7zM64.8 331.5h0.7v0.7h-0.7zM72.4 338.3h0.7v0.7h-0.7zM65.0 335.4h0.7v0.7h-0.7zM64.6 331.9h0.7v0.7h-0.7zM67.2 332.0h0.7v0.7h-0.7zM58.3 333.0h0.7v0.7h-0.7zM67.5 333.3h0.7v0.7h-0.7zM69.7 335.8h0.7v0.7h-0.7zM70.4 337.4h0.7v0.7h-0.7zM63.1 335.9h0.7v0.7h-0.7zM68.8 335.1h0.7v0.7h-0.7zM63.1 335.5h0.7v0.7h-0.7zM66.4 335.9h0.7v0.7h-0.7zM65.1 333.1h0.7v0.7h-0.7zM58.6 334.1h0.7v0.7h-0.7zM74.3 334.8h0.7v0.7h-0.7zM65.7 332.6h0.7v0.7h-0.7zM67.2 334.5h0.7v0.7h-0.7zM66.5 333.7h0.7v0.7h-0.7zM60.5 332.4h0.7v0.7h-0.7zM62.6 332.2h0.7v0.7h-0.7zM60.4 334.9h0.7v0.7h-0.7zM65.6 333.2h0.7v0.7h-0.7zM64.8 336.7h0.7v0.7h-0.7zM59.8 335.7h0.7v0.7h-0.7zM55.7 337.8h0.7v0.7h-0.7zM67.9 339.0h0.7v0.7h-0.7zM74.2 334.6h0.7v0.7h-0.7zM68.7 335.3h0.7v0.7h-0.7zM56.1 336.4h0.7v0.7h-0.7zM69.4 336.1h0.7v0.7h-0.7zM66.9 331.7h0.7v0.7h-0.7zM62.4 326.0h0.7v0.7h-0.7zM66.7 332.6h0.7v0.7h-0.7zM62.7 336.7h0.7v0.7h-0.7zM65.5 328.0h0.7v0.7h-0.7zM70.3 331.1h0.7v0.7h-0.7zM59.7 332.0h0.7v0.7h-0.7zM71.5 331.3h0.7v0.7h-0.7zM67.1 335.6h0.7v0.7h-0.7zM55.2 337.3h0.7v0.7h-0.7zM62.0 337.9h0.7v0.7h-0.7zM63.4 337.5h0.7v0.7h-0.7zM75.5 329.4h0.7v0.7h-0.7zM59.7 332.9h0.7v0.7h-0.7zM70.1 337.9h0.7v0.7h-0.7zM66.1 335.3h0.7v0.7h-0.7zM69.3 332.2h0.7v0.7h-0.7zM62.5 334.5h0.7v0.7h-0.7zM72.0 332.6h0.7v0.7h-0.7zM68.6 332.6h0.7v0.7h-0.7zM59.8 334.5h0.7v0.7h-0.7zM66.3 334.4h0.7v0.7h-0.7zM61.8 333.0h0.7v0.7h-0.7zM70.0 331.1h0.7v0.7h-0.7zM62.4 331.7h0.7v0.7h-0.7zM65.8 337.1h0.7v0.7h-0.7zM63.6 332.7h0.7v0.7h-0.7zM63.7 334.4h0.7v0.7h-0.7zM63.1 332.1h0.7v0.7h-0.7zM67.0 337.6h0.7v0.7h-0.7zM66.5 332.7h0.7v0.7h-0.7zM71.9 334.3h0.7v0.7h-0.7zM67.5 333.9h0.7v0.7h-0.7zM67.6 331.4h0.7v0.7h-0.7zM65.3 333.9h0.7v0.7h-0.7zM64.4 334.6h0.7v0.7h-0.7zM79.0 332.1h0.7v0.7h-0.7zM64.0 331.3h0.7v0.7h-0.7zM65.9 333.0h0.7v0.7h-0.7zM70.2 334.0h0.7v0.7h-0.7zM64.8 334.3h0.7v0.7h-0.7zM75.1 336.6h0.7v0.7h-0.7zM67.4 336.7h0.7v0.7h-0.7zM64.3 330.7h0.7v0.7h-0.7zM58.6 335.4h0.7v0.7h-0.7zM67.1 332.9h0.7v0.7h-0.7zM60.8 336.1h0.7v0.7h-0.7zM63.3 331.5h0.7v0.7h-0.7zM69.0 334.5h0.7v0.7h-0.7zM59.5 337.6h0.7v0.7h-0.7zM62.7 333.0h0.7v0.7h-0.7zM61.8 333.5h0.7v0.7h-0.7zM72.7 333.5h0.7v0.7h-0.7zM69.0 332.7h0.7v0.7h-0.7zM71.3 337.0h0.7v0.7h-0.7zM69.4 338.1h0.7v0.7h-0.7zM66.6 329.8h0.7v0.7h-0.7zM59.3 332.8h0.7v0.7h-0.7zM69.3 334.5h0.7v0.7h-0.7zM66.8 334.7h0.7v0.7h-0.7zM63.8 334.0h0.7v0.7h-0.7zM62.7 334.2h0.7v0.7h-0.7zM68.8 337.9h0.7v0.7h-0.7zM72.3 333.9h0.7v0.7h-0.7zM63.2 333.3h0.7v0.7h-0.7zM56.5 336.3h0.7v0.7h-0.7zM69.7 335.1h0.7v0.7h-0.7zM65.7 335.8h0.7v0.7h-0.7zM70.1 337.1h0.7v0.7h-0.7zM58.1 339.6h0.7v0.7h-0.7zM62.2 337.3h0.7v0.7h-0.7zM60.1 337.0h0.7v0.7h-0.7zM78.3 336.5h0.7v0.7h-0.7zM65.6 337.8h0.7v0.7h-0.7zM65.1 334.6h0.7v0.7h-0.7zM63.1 333.9h0.7v0.7h-0.7zM66.2 332.7h0.7v0.7h-0.7zM71.2 335.0h0.7v0.7h-0.7zM59.6 332.6h0.7v0.7h-0.7zM65.1 333.5h0.7v0.7h-0.7zM72.7 332.0h0.7v0.7h-0.7zM65.5 334.0h0.7v0.7h-0.7zM64.7 335.6h0.7v0.7h-0.7zM68.3 333.0h0.7v0.7h-0.7zM62.9 335.1h0.7v0.7h-0.7zM65.2 333.1h0.7v0.7h-0.7z" fill="#222" opacity="0.7" clip-path="url(#cD0)"/>
<path d="M57.3 357.0h0.7v0.7h-0.7zM64.1 357.3h0.7v0.7h-0.7zM63.0 356.4h0.7v0.7h-0.7zM65.3 354.0h0.7v0.7h-0.7zM67.0 356.9h0.7v0.7h-0.7zM66.2 356.7h0.7v0.7h-0.7zM75.2 353.7h0.7v0.7h-0.7zM60.9 355.6h0.7v0.7h-0.7zM62.1 355.8h0.7v0.7h-0.7zM59.0 356.0h0.7v0.7h-0.7zM69.6 355.5h0.7v0.7h-0.7zM70.6 357.7h0.7v0.7h-0.7zM71.6 356.9h0.7v0.7h-0.7zM55.4 356.3h0.7v0.7h-0.7zM52.3 354.3h0.7v0.7h-0.7zM70.5 352.5h0.7v0.7h-0.7zM70.6 355.7h0.7v0.7h-0.7zM70.6 358.5h0.7v0.7h-0.7zM66.4 355.1h0.7v0.7h-0.7zM70.4 354.7h0.7v0.7h-0.7zM66.9 356.4h0.7v0.7h-0.7zM73.1 354.1h0.7v0.7h-0.7zM67.9 359.2h0.7v0.7h-0.7zM65.8 359.2h0.7v0.7h-0.7zM72.3 354.2h0.7v0.7h-0.7zM70.0 357.0h0.7v0.7h-0.7zM62.7 356.2h0.7v0.7h-0.7zM56.1 358.9h0.7v0.7h-0.7zM69.7 356.1h0.7v0.7h-0.7zM71.8 358.6h0.7v0.7h-0.7zM66.1 356.4h0.7v0.7h-0.7zM70.4 356.3h0.7v0.7h-0.7zM77.2 358.0h0.7v0.7h-0.7zM68.0 355.9h0.7v0.7h-0.7zM54.5 354.9h0.7v0.7h-0.7zM79.5 356.4h0.7v0.7h-0.7zM74.0 353.7h0.7v0.7h-0.7zM59.4 357.8h0.7v0.7h-0.7zM73.4 354.5h0.7v0.7h-0.7zM57.7 355.0h0.7v0.7h-0.7zM67.4 353.3h0.7v0.7h-0.7zM76.6 354.9h0.7v0.7h-0.7zM68.9 357.7h0.7v0.7h-0.7zM66.3 356.5h0.7v0.7h-0.7zM64.4 359.3h0.7v0.7h-0.7zM73.5 356.2h0.7v0.7h-0.7zM64.0 356.4h0.7v0.7h-0.7zM53.7 355.8h0.7v0.7h-0.7zM63.8 358.4h0.7v0.7h-0.7zM69.4 355.1h0.7v0.7h-0.7zM58.5 357.4h0.7v0.7h-0.7zM69.1 357.6h0.7v0.7h-0.7zM67.0 357.0h0.7v0.7h-0.7zM67.2 359.1h0.7v0.7h-0.7zM66.8 355.1h0.7v0.7h-0.7zM72.0 357.6h0.7v0.7h-0.7zM65.0 358.4h0.7v0.7h-0.7zM70.2 355.5h0.7v0.7h-0.7zM61.7 358.8h0.7v0.7h-0.7zM72.3 354.8h0.7v0.7h-0.7zM60.0 359.2h0.7v0.7h-0.7zM82.7 358.1h0.7v0.7h-0.7zM66.4 356.0h0.7v0.7h-0.7zM71.8 358.7h0.7v0.7h-0.7zM69.2 356.2h0.7v0.7h-0.7zM58.4 354.6h0.7v0.7h-0.7zM60.2 353.7h0.7v0.7h-0.7zM69.4 355.9h0.7v0.7h-0.7zM77.3 358.0h0.7v0.7h-0.7zM67.1 359.4h0.7v0.7h-0.7zM72.3 356.1h0.7v0.7h-0.7zM67.2 355.5h0.7v0.7h-0.7zM63.8 356.4h0.7v0.7h-0.7zM64.6 355.9h0.7v0.7h-0.7zM65.7 356.6h0.7v0.7h-0.7zM74.7 356.2h0.7v0.7h-0.7zM64.6 357.4h0.7v0.7h-0.7zM68.2 354.9h0.7v0.7h-0.7zM65.2 356.3h0.7v0.7h-0.7zM62.5 357.7h0.7v0.7h-0.7z" fill="#222" opacity="0.7" clip-path="url(#cD0)"/>
<path d="M41.9,334 C41.6,329.8 51.4,329.8 51.3,334 C51.2,340 50,346 49.2,352.5 L43.9,352.5 C43.2,346 42,340 41.9,334 Z" fill="#111" filter="url(#b08)"/>
<g><g fill="#111" filter="url(#b08)"><ellipse cx="46.5" cy="356.3" rx="5.2" ry="2.4"/></g></g>
<g><g fill="#111" filter="url(#b08)"><ellipse cx="66.6" cy="334.0" rx="6.2" ry="3.3"/><ellipse cx="62" cy="334.5" rx="3.5" ry="2.6"/></g></g>
<g><g fill="#111" filter="url(#b08)"><ellipse cx="66.8" cy="356.5" rx="7.8" ry="2.0"/></g></g>
<rect x="35.4" y="305.5" width="68.6" height="60.10000000000002" rx="0.8" fill="none" stroke="#999" stroke-width="0.8"/>
<rect x="55.6" y="328.8" width="21.5" height="14.4" fill="none" stroke="#000" stroke-width="1.3"/>
<text x="84.8" y="325.8" font-size="4.6" fill="#222" text-anchor="middle" font-weight="normal">CD4+ Tcells</text>
<text x="84.8" y="330.9" font-size="4.6" fill="#222" text-anchor="middle" font-weight="normal">18.8</text>
<text x="32.1" y="312.1" font-size="5.0" fill="#444" text-anchor="end">10<tspan font-size="4.0" dx="0.4" dy="-3.3">5</tspan></text>
<path d="M34.1,310.20000000000005 L35.699999999999996,310.20000000000005" stroke="#222" stroke-width="0.9"/>
<path d="M34.5,313.7 L35.6,313.7" stroke="#555" stroke-width="0.5"/>
<path d="M34.5,316.2 L35.6,316.2" stroke="#555" stroke-width="0.5"/>
<path d="M34.5,318.2 L35.6,318.2" stroke="#555" stroke-width="0.5"/>
<text x="32.1" y="325.5" font-size="5.0" fill="#444" text-anchor="end">10<tspan font-size="4.0" dx="0.4" dy="-3.3">4</tspan></text>
<path d="M34.1,323.6 L35.699999999999996,323.6" stroke="#222" stroke-width="0.9"/>
<path d="M34.5,327.1 L35.6,327.1" stroke="#555" stroke-width="0.5"/>
<path d="M34.5,329.6 L35.6,329.6" stroke="#555" stroke-width="0.5"/>
<path d="M34.5,331.6 L35.6,331.6" stroke="#555" stroke-width="0.5"/>
<text x="32.1" y="340.2" font-size="5.0" fill="#444" text-anchor="end">10<tspan font-size="4.0" dx="0.4" dy="-3.3">3</tspan></text>
<path d="M34.1,338.3 L35.699999999999996,338.3" stroke="#222" stroke-width="0.9"/>
<path d="M34.5,341.8 L35.6,341.8" stroke="#555" stroke-width="0.5"/>
<path d="M34.5,344.3 L35.6,344.3" stroke="#555" stroke-width="0.5"/>
<path d="M34.5,346.3 L35.6,346.3" stroke="#555" stroke-width="0.5"/>
<text x="30.599999999999998" y="358.4" font-size="5.0" fill="#444" text-anchor="end" font-weight="normal">0</text>
<path d="M34.1,356.7 L35.699999999999996,356.7" stroke="#222" stroke-width="0.9"/>
<text x="44.1" y="374.8" font-size="5.2" fill="#444" text-anchor="middle" font-weight="normal">0</text>
<path d="M42.6,365.90000000000003 L45.6,365.90000000000003" stroke="#111" stroke-width="1.1"/>
<text x="64.5" y="374.8" font-size="5.2" fill="#444" text-anchor="start">10<tspan font-size="4.0" dx="0.4" dy="-3.3">3</tspan></text>
<path d="M66.8,365.3 L66.8,366.8" stroke="#222" stroke-width="0.8"/>
<text x="79.3" y="374.8" font-size="5.2" fill="#444" text-anchor="start">10<tspan font-size="4.0" dx="0.4" dy="-3.3">4</tspan></text>
<path d="M81.6,365.3 L81.6,366.8" stroke="#222" stroke-width="0.8"/>
<text x="94.8" y="374.8" font-size="5.2" fill="#444" text-anchor="start">10<tspan font-size="4.0" dx="0.4" dy="-3.3">5</tspan></text>
<path d="M97.1,365.3 L97.1,366.8" stroke="#222" stroke-width="0.8"/>
<path d="M20.4,345.4 L20.40,310.50" stroke="#111" stroke-width="0.9" fill="none"/><path d="M20.4,305.5 L22.50,310.50 L18.30,310.50 Z" fill="#111"/>
<text transform="translate(22.6,356.8) rotate(-90) scale(0.55,1)" font-size="10.5" fill="#111" text-anchor="middle" font-weight="bold">Fox-P3</text>
<text transform="translate(43.6,385.2) scale(0.55,1)" font-size="10.5" fill="#111" text-anchor="middle" font-weight="bold">CD3</text>
<path d="M51.8,381.8 L99.50,381.80" stroke="#111" stroke-width="0.9" fill="none"/><path d="M104.5,381.8 L99.50,383.90 L99.50,379.70 Z" fill="#111"/>
<path d="M77.1,335.3 L108.2,335.3" stroke="#111" stroke-width="0.9"/>
<path d="M108.2,335.3 L112.80,335.30" stroke="#111" stroke-width="0.9" fill="none"/><path d="M117.8,335.3 L112.80,337.40 L112.80,333.20 Z" fill="#111"/>
<path d="M107.8,335.3 L107.8,389.3 L111,389.3" stroke="#444" stroke-width="1.2" fill="none"/>
<path d="M110.5,389.3 L112.00,389.30" stroke="#111" stroke-width="0.9" fill="none"/><path d="M117.0,389.3 L112.00,391.40 L112.00,387.20 Z" fill="#111"/>
<text x="170" y="301.0" font-size="6.8" fill="#151515" text-anchor="middle" font-weight="normal">Healthy Donor</text>
<text x="253" y="301.0" font-size="6.8" fill="#151515" text-anchor="middle" font-weight="normal">Patient</text>
<path d="M161.8,305.7 L161.8,365.6 M133.7,339.7 L203,339.7" stroke="#555" stroke-width="0.9"/>
<path d="M170.4 334.1h0.7v0.7h-0.7zM175.7 333.7h0.7v0.7h-0.7zM169.6 336.6h0.7v0.7h-0.7zM174.5 335.2h0.7v0.7h-0.7zM165.6 338.8h0.7v0.7h-0.7zM168.2 335.8h0.7v0.7h-0.7zM168.4 339.3h0.7v0.7h-0.7zM172.1 341.0h0.7v0.7h-0.7zM166.8 339.6h0.7v0.7h-0.7zM174.8 332.3h0.7v0.7h-0.7zM170.8 338.1h0.7v0.7h-0.7zM179.0 330.9h0.7v0.7h-0.7zM168.6 337.3h0.7v0.7h-0.7zM172.6 333.4h0.7v0.7h-0.7zM174.4 334.7h0.7v0.7h-0.7zM168.5 334.1h0.7v0.7h-0.7zM170.9 329.7h0.7v0.7h-0.7zM162.0 335.3h0.7v0.7h-0.7zM166.9 336.7h0.7v0.7h-0.7zM166.5 335.8h0.7v0.7h-0.7zM171.1 330.2h0.7v0.7h-0.7zM161.2 341.0h0.7v0.7h-0.7zM176.1 333.6h0.7v0.7h-0.7zM160.7 335.8h0.7v0.7h-0.7zM172.5 335.1h0.7v0.7h-0.7zM168.1 333.2h0.7v0.7h-0.7zM156.3 344.7h0.7v0.7h-0.7zM179.6 332.9h0.7v0.7h-0.7zM172.5 335.6h0.7v0.7h-0.7zM167.8 336.2h0.7v0.7h-0.7zM168.6 334.3h0.7v0.7h-0.7zM169.8 332.6h0.7v0.7h-0.7zM170.4 339.8h0.7v0.7h-0.7zM176.4 330.3h0.7v0.7h-0.7zM174.4 334.9h0.7v0.7h-0.7zM174.8 334.4h0.7v0.7h-0.7zM168.9 339.2h0.7v0.7h-0.7zM173.7 330.8h0.7v0.7h-0.7zM169.2 335.3h0.7v0.7h-0.7zM163.6 339.2h0.7v0.7h-0.7zM165.2 333.0h0.7v0.7h-0.7zM179.7 331.0h0.7v0.7h-0.7zM168.6 337.0h0.7v0.7h-0.7zM163.3 337.0h0.7v0.7h-0.7zM177.9 330.6h0.7v0.7h-0.7zM160.2 341.5h0.7v0.7h-0.7zM173.2 332.2h0.7v0.7h-0.7zM167.1 340.4h0.7v0.7h-0.7zM172.7 331.2h0.7v0.7h-0.7zM166.2 336.6h0.7v0.7h-0.7zM166.7 334.1h0.7v0.7h-0.7zM166.9 334.6h0.7v0.7h-0.7zM173.2 334.5h0.7v0.7h-0.7zM166.1 336.9h0.7v0.7h-0.7zM167.4 339.3h0.7v0.7h-0.7zM172.3 336.1h0.7v0.7h-0.7zM158.5 343.3h0.7v0.7h-0.7zM168.1 335.6h0.7v0.7h-0.7zM162.6 342.3h0.7v0.7h-0.7zM177.4 331.9h0.7v0.7h-0.7zM167.4 335.2h0.7v0.7h-0.7zM173.7 334.0h0.7v0.7h-0.7zM166.6 340.7h0.7v0.7h-0.7zM172.1 335.3h0.7v0.7h-0.7zM168.4 335.8h0.7v0.7h-0.7zM164.2 337.3h0.7v0.7h-0.7zM167.1 339.4h0.7v0.7h-0.7zM165.4 341.7h0.7v0.7h-0.7zM174.3 331.9h0.7v0.7h-0.7zM163.1 334.8h0.7v0.7h-0.7zM174.4 335.2h0.7v0.7h-0.7zM178.1 332.2h0.7v0.7h-0.7zM170.9 334.4h0.7v0.7h-0.7zM163.1 340.8h0.7v0.7h-0.7zM167.2 337.0h0.7v0.7h-0.7zM165.4 339.2h0.7v0.7h-0.7zM158.7 338.3h0.7v0.7h-0.7zM175.5 334.4h0.7v0.7h-0.7zM164.1 339.3h0.7v0.7h-0.7zM172.1 337.2h0.7v0.7h-0.7zM175.9 335.2h0.7v0.7h-0.7zM168.0 341.5h0.7v0.7h-0.7zM169.8 337.5h0.7v0.7h-0.7zM173.8 337.5h0.7v0.7h-0.7zM173.1 329.9h0.7v0.7h-0.7zM161.3 339.8h0.7v0.7h-0.7zM165.9 340.2h0.7v0.7h-0.7zM178.6 334.6h0.7v0.7h-0.7zM164.1 340.0h0.7v0.7h-0.7zM174.8 335.0h0.7v0.7h-0.7zM176.8 338.9h0.7v0.7h-0.7zM173.9 334.8h0.7v0.7h-0.7zM172.5 335.2h0.7v0.7h-0.7zM167.0 337.2h0.7v0.7h-0.7zM163.2 336.7h0.7v0.7h-0.7zM168.6 334.2h0.7v0.7h-0.7zM165.1 336.5h0.7v0.7h-0.7zM160.2 333.9h0.7v0.7h-0.7zM173.9 337.1h0.7v0.7h-0.7zM169.5 334.2h0.7v0.7h-0.7zM175.5 333.8h0.7v0.7h-0.7zM161.6 339.8h0.7v0.7h-0.7zM168.4 334.3h0.7v0.7h-0.7zM170.4 331.8h0.7v0.7h-0.7zM169.8 337.6h0.7v0.7h-0.7zM159.5 342.5h0.7v0.7h-0.7zM172.8 332.1h0.7v0.7h-0.7zM162.6 338.9h0.7v0.7h-0.7zM168.8 335.8h0.7v0.7h-0.7zM166.2 334.8h0.7v0.7h-0.7zM158.6 339.7h0.7v0.7h-0.7zM174.7 335.1h0.7v0.7h-0.7zM172.6 333.8h0.7v0.7h-0.7zM165.3 336.8h0.7v0.7h-0.7zM168.4 333.0h0.7v0.7h-0.7zM171.3 336.1h0.7v0.7h-0.7zM166.6 339.6h0.7v0.7h-0.7zM170.5 329.8h0.7v0.7h-0.7zM166.7 337.0h0.7v0.7h-0.7zM157.2 343.7h0.7v0.7h-0.7zM174.6 334.6h0.7v0.7h-0.7zM169.6 339.4h0.7v0.7h-0.7zM169.7 336.6h0.7v0.7h-0.7zM172.7 337.1h0.7v0.7h-0.7zM160.8 342.6h0.7v0.7h-0.7zM172.2 338.0h0.7v0.7h-0.7zM170.0 335.4h0.7v0.7h-0.7zM165.4 338.1h0.7v0.7h-0.7zM166.4 338.8h0.7v0.7h-0.7zM168.4 334.6h0.7v0.7h-0.7zM172.5 334.2h0.7v0.7h-0.7zM168.3 340.0h0.7v0.7h-0.7zM171.8 335.9h0.7v0.7h-0.7zM166.3 340.7h0.7v0.7h-0.7zM170.9 332.3h0.7v0.7h-0.7zM168.7 339.5h0.7v0.7h-0.7zM174.0 333.4h0.7v0.7h-0.7zM170.3 336.0h0.7v0.7h-0.7zM157.2 344.0h0.7v0.7h-0.7zM176.1 331.2h0.7v0.7h-0.7zM170.5 337.8h0.7v0.7h-0.7zM171.4 337.6h0.7v0.7h-0.7zM168.9 335.6h0.7v0.7h-0.7zM165.2 337.9h0.7v0.7h-0.7zM160.9 337.4h0.7v0.7h-0.7zM168.6 334.2h0.7v0.7h-0.7zM169.6 335.6h0.7v0.7h-0.7zM168.7 337.7h0.7v0.7h-0.7zM165.5 335.4h0.7v0.7h-0.7zM167.3 336.5h0.7v0.7h-0.7zM177.1 334.6h0.7v0.7h-0.7zM160.0 336.3h0.7v0.7h-0.7zM163.0 340.6h0.7v0.7h-0.7zM160.0 343.0h0.7v0.7h-0.7zM168.4 339.3h0.7v0.7h-0.7zM169.3 333.7h0.7v0.7h-0.7zM167.0 337.7h0.7v0.7h-0.7zM174.8 332.5h0.7v0.7h-0.7zM166.0 338.0h0.7v0.7h-0.7zM165.3 339.3h0.7v0.7h-0.7zM171.8 336.9h0.7v0.7h-0.7zM165.5 340.8h0.7v0.7h-0.7zM185.5 331.3h0.7v0.7h-0.7zM169.3 335.7h0.7v0.7h-0.7zM161.1 341.4h0.7v0.7h-0.7zM180.4 331.7h0.7v0.7h-0.7zM170.9 335.0h0.7v0.7h-0.7zM165.1 344.0h0.7v0.7h-0.7zM168.7 340.3h0.7v0.7h-0.7zM169.1 336.0h0.7v0.7h-0.7zM164.4 338.9h0.7v0.7h-0.7zM169.6 335.0h0.7v0.7h-0.7zM168.2 336.1h0.7v0.7h-0.7zM163.5 337.2h0.7v0.7h-0.7zM181.8 326.5h0.7v0.7h-0.7zM171.3 331.6h0.7v0.7h-0.7zM164.8 340.6h0.7v0.7h-0.7zM161.9 341.7h0.7v0.7h-0.7zM176.5 331.8h0.7v0.7h-0.7zM174.1 336.1h0.7v0.7h-0.7zM157.4 341.1h0.7v0.7h-0.7zM167.6 339.2h0.7v0.7h-0.7zM165.2 335.0h0.7v0.7h-0.7zM161.8 340.0h0.7v0.7h-0.7zM169.7 336.9h0.7v0.7h-0.7zM163.4 340.2h0.7v0.7h-0.7zM167.3 334.6h0.7v0.7h-0.7zM164.3 344.0h0.7v0.7h-0.7zM171.7 333.9h0.7v0.7h-0.7zM171.3 333.3h0.7v0.7h-0.7zM178.6 332.7h0.7v0.7h-0.7zM156.4 341.7h0.7v0.7h-0.7zM167.7 337.1h0.7v0.7h-0.7zM163.6 341.4h0.7v0.7h-0.7zM171.3 338.7h0.7v0.7h-0.7zM171.6 338.5h0.7v0.7h-0.7zM177.5 332.2h0.7v0.7h-0.7zM171.4 337.3h0.7v0.7h-0.7zM171.4 334.8h0.7v0.7h-0.7zM182.8 332.2h0.7v0.7h-0.7zM170.4 332.5h0.7v0.7h-0.7zM163.0 338.8h0.7v0.7h-0.7zM161.5 336.5h0.7v0.7h-0.7zM173.0 335.9h0.7v0.7h-0.7zM165.9 337.8h0.7v0.7h-0.7zM175.9 334.9h0.7v0.7h-0.7zM178.6 330.9h0.7v0.7h-0.7zM167.8 338.8h0.7v0.7h-0.7zM178.8 330.9h0.7v0.7h-0.7zM167.0 336.7h0.7v0.7h-0.7zM176.3 335.5h0.7v0.7h-0.7zM164.8 341.0h0.7v0.7h-0.7zM174.5 336.6h0.7v0.7h-0.7zM166.4 337.4h0.7v0.7h-0.7zM172.3 335.8h0.7v0.7h-0.7zM164.5 340.4h0.7v0.7h-0.7zM172.1 334.1h0.7v0.7h-0.7zM172.4 337.3h0.7v0.7h-0.7zM169.2 336.3h0.7v0.7h-0.7zM163.5 338.9h0.7v0.7h-0.7zM164.3 336.2h0.7v0.7h-0.7zM174.6 334.5h0.7v0.7h-0.7zM171.0 335.7h0.7v0.7h-0.7zM174.6 329.1h0.7v0.7h-0.7zM176.9 331.1h0.7v0.7h-0.7zM163.4 337.1h0.7v0.7h-0.7zM164.2 338.3h0.7v0.7h-0.7zM172.4 332.5h0.7v0.7h-0.7zM172.8 333.0h0.7v0.7h-0.7zM170.4 339.0h0.7v0.7h-0.7zM166.1 334.9h0.7v0.7h-0.7zM169.8 336.8h0.7v0.7h-0.7zM166.7 336.4h0.7v0.7h-0.7zM171.5 332.7h0.7v0.7h-0.7zM167.5 335.0h0.7v0.7h-0.7zM171.9 333.7h0.7v0.7h-0.7zM170.9 335.2h0.7v0.7h-0.7zM167.8 334.7h0.7v0.7h-0.7zM175.2 331.8h0.7v0.7h-0.7zM167.1 334.1h0.7v0.7h-0.7zM168.6 334.4h0.7v0.7h-0.7zM164.3 341.1h0.7v0.7h-0.7zM173.4 334.7h0.7v0.7h-0.7zM170.7 336.8h0.7v0.7h-0.7zM169.2 336.7h0.7v0.7h-0.7zM163.4 338.2h0.7v0.7h-0.7zM165.6 331.7h0.7v0.7h-0.7zM161.7 337.8h0.7v0.7h-0.7zM178.3 327.6h0.7v0.7h-0.7zM159.7 342.7h0.7v0.7h-0.7zM164.2 339.9h0.7v0.7h-0.7zM170.4 339.6h0.7v0.7h-0.7zM169.8 337.9h0.7v0.7h-0.7zM168.1 336.8h0.7v0.7h-0.7zM169.1 336.1h0.7v0.7h-0.7zM178.2 335.4h0.7v0.7h-0.7zM169.0 335.7h0.7v0.7h-0.7zM171.0 337.7h0.7v0.7h-0.7zM173.0 334.4h0.7v0.7h-0.7zM162.9 345.1h0.7v0.7h-0.7zM177.3 333.2h0.7v0.7h-0.7zM172.1 338.0h0.7v0.7h-0.7zM178.0 331.9h0.7v0.7h-0.7zM170.5 335.0h0.7v0.7h-0.7zM179.1 330.2h0.7v0.7h-0.7zM167.9 339.4h0.7v0.7h-0.7zM172.4 334.5h0.7v0.7h-0.7zM173.9 334.5h0.7v0.7h-0.7zM169.4 336.9h0.7v0.7h-0.7zM172.4 335.1h0.7v0.7h-0.7zM171.9 335.2h0.7v0.7h-0.7zM171.0 332.9h0.7v0.7h-0.7zM179.2 333.6h0.7v0.7h-0.7zM171.4 336.5h0.7v0.7h-0.7zM179.3 332.2h0.7v0.7h-0.7zM162.8 340.4h0.7v0.7h-0.7zM158.4 341.2h0.7v0.7h-0.7zM175.8 330.2h0.7v0.7h-0.7zM160.6 339.7h0.7v0.7h-0.7zM173.2 338.9h0.7v0.7h-0.7zM167.8 336.8h0.7v0.7h-0.7zM164.9 343.6h0.7v0.7h-0.7zM168.8 337.5h0.7v0.7h-0.7zM174.5 333.1h0.7v0.7h-0.7zM164.0 337.7h0.7v0.7h-0.7zM169.6 338.1h0.7v0.7h-0.7zM174.2 332.4h0.7v0.7h-0.7zM165.9 334.5h0.7v0.7h-0.7zM171.5 340.3h0.7v0.7h-0.7zM171.3 334.4h0.7v0.7h-0.7zM177.7 333.0h0.7v0.7h-0.7zM176.9 336.2h0.7v0.7h-0.7zM162.7 339.7h0.7v0.7h-0.7zM169.2 339.2h0.7v0.7h-0.7zM168.8 336.7h0.7v0.7h-0.7zM158.0 340.7h0.7v0.7h-0.7zM165.0 335.8h0.7v0.7h-0.7zM169.7 335.2h0.7v0.7h-0.7zM171.1 337.4h0.7v0.7h-0.7zM171.4 335.1h0.7v0.7h-0.7z" fill="#222" opacity="0.6" clip-path="url(#cD1)"/>
<path d="M154.3 331.2h0.7v0.7h-0.7zM149.7 333.2h0.7v0.7h-0.7zM164.4 330.8h0.7v0.7h-0.7zM149.7 337.0h0.7v0.7h-0.7zM149.0 337.4h0.7v0.7h-0.7zM144.7 338.6h0.7v0.7h-0.7zM153.4 327.5h0.7v0.7h-0.7zM142.9 330.7h0.7v0.7h-0.7zM150.4 333.9h0.7v0.7h-0.7zM154.2 337.3h0.7v0.7h-0.7zM155.9 336.7h0.7v0.7h-0.7zM146.8 330.0h0.7v0.7h-0.7zM144.2 336.4h0.7v0.7h-0.7zM145.8 330.9h0.7v0.7h-0.7zM146.4 336.4h0.7v0.7h-0.7zM143.5 334.4h0.7v0.7h-0.7zM156.7 337.9h0.7v0.7h-0.7zM141.0 334.9h0.7v0.7h-0.7zM148.4 343.6h0.7v0.7h-0.7zM150.5 330.2h0.7v0.7h-0.7zM148.0 335.0h0.7v0.7h-0.7zM149.0 337.5h0.7v0.7h-0.7zM149.5 335.2h0.7v0.7h-0.7zM174.1 336.6h0.7v0.7h-0.7zM157.5 335.2h0.7v0.7h-0.7zM136.2 340.9h0.7v0.7h-0.7zM149.1 337.4h0.7v0.7h-0.7zM142.9 335.5h0.7v0.7h-0.7zM159.1 331.2h0.7v0.7h-0.7zM164.4 338.5h0.7v0.7h-0.7zM154.6 334.1h0.7v0.7h-0.7zM158.1 328.0h0.7v0.7h-0.7zM160.1 328.2h0.7v0.7h-0.7zM148.7 339.7h0.7v0.7h-0.7zM154.2 328.5h0.7v0.7h-0.7zM141.3 330.6h0.7v0.7h-0.7zM148.6 332.1h0.7v0.7h-0.7zM158.3 333.8h0.7v0.7h-0.7zM163.4 339.7h0.7v0.7h-0.7zM144.0 339.5h0.7v0.7h-0.7zM160.6 331.0h0.7v0.7h-0.7zM149.9 332.1h0.7v0.7h-0.7zM145.5 334.8h0.7v0.7h-0.7zM154.0 332.2h0.7v0.7h-0.7zM141.6 337.2h0.7v0.7h-0.7zM160.7 339.0h0.7v0.7h-0.7zM142.8 333.2h0.7v0.7h-0.7zM149.9 332.6h0.7v0.7h-0.7zM158.9 331.9h0.7v0.7h-0.7zM150.1 336.3h0.7v0.7h-0.7zM152.5 335.9h0.7v0.7h-0.7zM151.1 336.8h0.7v0.7h-0.7zM154.1 335.2h0.7v0.7h-0.7zM155.6 336.5h0.7v0.7h-0.7zM156.6 336.7h0.7v0.7h-0.7zM155.0 336.3h0.7v0.7h-0.7zM146.5 333.3h0.7v0.7h-0.7zM150.1 332.7h0.7v0.7h-0.7zM148.9 332.7h0.7v0.7h-0.7zM147.5 336.2h0.7v0.7h-0.7zM171.4 341.7h0.7v0.7h-0.7zM152.0 335.3h0.7v0.7h-0.7zM150.3 334.2h0.7v0.7h-0.7zM155.7 336.5h0.7v0.7h-0.7zM153.9 338.2h0.7v0.7h-0.7zM149.2 337.6h0.7v0.7h-0.7zM153.1 331.6h0.7v0.7h-0.7zM160.2 331.8h0.7v0.7h-0.7zM157.2 332.5h0.7v0.7h-0.7zM147.5 338.9h0.7v0.7h-0.7zM154.6 335.0h0.7v0.7h-0.7zM146.9 329.1h0.7v0.7h-0.7zM148.8 334.4h0.7v0.7h-0.7zM157.8 335.0h0.7v0.7h-0.7zM158.5 333.1h0.7v0.7h-0.7zM157.9 337.9h0.7v0.7h-0.7zM150.4 337.9h0.7v0.7h-0.7zM162.8 330.2h0.7v0.7h-0.7zM143.6 332.7h0.7v0.7h-0.7zM148.4 331.7h0.7v0.7h-0.7zM153.0 330.2h0.7v0.7h-0.7zM163.7 334.7h0.7v0.7h-0.7zM153.4 334.4h0.7v0.7h-0.7zM148.4 335.4h0.7v0.7h-0.7zM151.1 336.3h0.7v0.7h-0.7zM156.9 332.2h0.7v0.7h-0.7zM140.6 332.7h0.7v0.7h-0.7zM153.6 328.0h0.7v0.7h-0.7zM154.9 335.4h0.7v0.7h-0.7zM143.5 335.7h0.7v0.7h-0.7zM158.0 334.7h0.7v0.7h-0.7zM155.2 337.0h0.7v0.7h-0.7zM159.6 339.1h0.7v0.7h-0.7zM147.3 334.3h0.7v0.7h-0.7zM152.3 331.6h0.7v0.7h-0.7zM152.8 336.3h0.7v0.7h-0.7zM154.1 328.5h0.7v0.7h-0.7zM147.9 326.4h0.7v0.7h-0.7zM152.7 334.9h0.7v0.7h-0.7zM157.1 338.1h0.7v0.7h-0.7zM146.0 334.7h0.7v0.7h-0.7zM153.1 337.7h0.7v0.7h-0.7zM159.5 334.4h0.7v0.7h-0.7zM142.6 337.7h0.7v0.7h-0.7zM150.7 328.8h0.7v0.7h-0.7zM153.2 332.1h0.7v0.7h-0.7zM152.3 339.1h0.7v0.7h-0.7zM151.6 332.2h0.7v0.7h-0.7zM154.8 334.0h0.7v0.7h-0.7zM152.7 338.4h0.7v0.7h-0.7zM153.5 336.7h0.7v0.7h-0.7zM151.7 335.4h0.7v0.7h-0.7zM145.4 332.4h0.7v0.7h-0.7zM158.6 339.5h0.7v0.7h-0.7zM145.0 337.3h0.7v0.7h-0.7zM157.7 332.3h0.7v0.7h-0.7zM156.5 337.0h0.7v0.7h-0.7zM159.8 341.0h0.7v0.7h-0.7zM152.2 336.3h0.7v0.7h-0.7zM146.4 336.0h0.7v0.7h-0.7zM152.3 334.3h0.7v0.7h-0.7zM153.0 338.0h0.7v0.7h-0.7zM158.1 337.6h0.7v0.7h-0.7zM163.6 330.1h0.7v0.7h-0.7zM151.2 334.7h0.7v0.7h-0.7zM149.6 333.5h0.7v0.7h-0.7zM143.2 333.9h0.7v0.7h-0.7zM159.9 333.5h0.7v0.7h-0.7zM151.9 336.5h0.7v0.7h-0.7zM152.1 331.7h0.7v0.7h-0.7zM148.9 339.0h0.7v0.7h-0.7zM147.8 330.8h0.7v0.7h-0.7zM164.3 335.5h0.7v0.7h-0.7zM145.1 329.0h0.7v0.7h-0.7zM147.3 330.5h0.7v0.7h-0.7zM151.2 338.2h0.7v0.7h-0.7zM157.2 333.8h0.7v0.7h-0.7zM156.3 333.6h0.7v0.7h-0.7zM135.8 337.4h0.7v0.7h-0.7zM147.0 331.7h0.7v0.7h-0.7z" fill="#555" opacity="0.5" clip-path="url(#cD1)"/>
<path d="M157.0 342.7h0.7v0.7h-0.7zM156.5 345.5h0.7v0.7h-0.7zM155.3 342.4h0.7v0.7h-0.7zM163.8 338.6h0.7v0.7h-0.7zM157.5 348.0h0.7v0.7h-0.7zM148.7 341.9h0.7v0.7h-0.7zM156.4 345.9h0.7v0.7h-0.7zM153.8 341.1h0.7v0.7h-0.7zM150.7 339.1h0.7v0.7h-0.7zM158.0 345.8h0.7v0.7h-0.7zM149.2 345.4h0.7v0.7h-0.7zM148.2 344.0h0.7v0.7h-0.7zM151.2 342.7h0.7v0.7h-0.7zM170.1 339.8h0.7v0.7h-0.7zM156.8 339.9h0.7v0.7h-0.7zM152.1 343.1h0.7v0.7h-0.7zM144.9 346.7h0.7v0.7h-0.7zM156.1 346.6h0.7v0.7h-0.7zM152.7 340.1h0.7v0.7h-0.7zM156.0 343.6h0.7v0.7h-0.7zM161.9 334.9h0.7v0.7h-0.7zM149.2 344.0h0.7v0.7h-0.7zM156.9 339.1h0.7v0.7h-0.7zM158.0 343.3h0.7v0.7h-0.7zM137.2 352.3h0.7v0.7h-0.7zM135.2 342.6h0.7v0.7h-0.7zM144.6 345.6h0.7v0.7h-0.7zM147.0 343.7h0.7v0.7h-0.7zM145.2 345.6h0.7v0.7h-0.7zM156.6 347.7h0.7v0.7h-0.7zM139.8 342.8h0.7v0.7h-0.7zM145.9 342.7h0.7v0.7h-0.7zM149.5 345.5h0.7v0.7h-0.7zM145.7 342.2h0.7v0.7h-0.7zM159.4 346.3h0.7v0.7h-0.7zM163.8 347.6h0.7v0.7h-0.7zM145.7 348.1h0.7v0.7h-0.7zM155.1 342.6h0.7v0.7h-0.7zM154.2 341.0h0.7v0.7h-0.7zM142.5 343.8h0.7v0.7h-0.7zM139.7 343.8h0.7v0.7h-0.7zM150.3 340.5h0.7v0.7h-0.7zM144.4 338.5h0.7v0.7h-0.7zM142.2 344.4h0.7v0.7h-0.7zM145.8 344.5h0.7v0.7h-0.7zM145.6 342.6h0.7v0.7h-0.7zM139.6 350.0h0.7v0.7h-0.7zM148.9 346.3h0.7v0.7h-0.7zM144.4 340.8h0.7v0.7h-0.7zM151.9 342.0h0.7v0.7h-0.7zM149.9 345.4h0.7v0.7h-0.7zM154.7 345.2h0.7v0.7h-0.7zM150.8 337.7h0.7v0.7h-0.7zM154.1 347.4h0.7v0.7h-0.7zM153.3 346.1h0.7v0.7h-0.7zM153.8 344.6h0.7v0.7h-0.7zM153.7 338.5h0.7v0.7h-0.7zM135.6 345.8h0.7v0.7h-0.7zM154.7 344.5h0.7v0.7h-0.7zM148.1 342.3h0.7v0.7h-0.7zM143.2 345.5h0.7v0.7h-0.7zM152.8 345.3h0.7v0.7h-0.7zM149.9 347.3h0.7v0.7h-0.7zM145.7 347.4h0.7v0.7h-0.7zM145.3 348.4h0.7v0.7h-0.7zM156.5 339.7h0.7v0.7h-0.7zM153.5 340.1h0.7v0.7h-0.7zM163.2 344.9h0.7v0.7h-0.7zM151.0 344.5h0.7v0.7h-0.7zM149.7 342.2h0.7v0.7h-0.7zM142.7 344.3h0.7v0.7h-0.7zM157.4 343.5h0.7v0.7h-0.7zM158.5 345.4h0.7v0.7h-0.7zM153.6 340.4h0.7v0.7h-0.7zM143.4 343.3h0.7v0.7h-0.7zM134.4 341.1h0.7v0.7h-0.7zM151.4 347.4h0.7v0.7h-0.7zM165.5 341.9h0.7v0.7h-0.7zM157.0 343.6h0.7v0.7h-0.7zM144.6 347.1h0.7v0.7h-0.7zM150.2 345.4h0.7v0.7h-0.7zM137.3 344.3h0.7v0.7h-0.7zM156.9 341.9h0.7v0.7h-0.7zM150.6 346.1h0.7v0.7h-0.7zM161.0 346.1h0.7v0.7h-0.7zM151.0 341.8h0.7v0.7h-0.7zM156.6 340.7h0.7v0.7h-0.7zM141.5 342.3h0.7v0.7h-0.7zM149.7 341.5h0.7v0.7h-0.7zM145.0 347.2h0.7v0.7h-0.7zM141.9 341.1h0.7v0.7h-0.7zM151.0 345.3h0.7v0.7h-0.7zM146.3 341.2h0.7v0.7h-0.7zM167.0 339.9h0.7v0.7h-0.7zM168.5 338.8h0.7v0.7h-0.7zM158.8 338.7h0.7v0.7h-0.7zM162.0 343.6h0.7v0.7h-0.7zM152.1 341.6h0.7v0.7h-0.7zM162.1 346.0h0.7v0.7h-0.7zM151.1 344.2h0.7v0.7h-0.7zM146.3 346.2h0.7v0.7h-0.7zM148.8 345.5h0.7v0.7h-0.7zM137.4 346.8h0.7v0.7h-0.7zM157.8 343.2h0.7v0.7h-0.7zM161.4 339.8h0.7v0.7h-0.7zM159.0 342.9h0.7v0.7h-0.7zM151.6 344.9h0.7v0.7h-0.7zM159.6 337.1h0.7v0.7h-0.7zM151.2 343.3h0.7v0.7h-0.7zM156.3 342.9h0.7v0.7h-0.7zM147.8 344.8h0.7v0.7h-0.7zM156.4 340.9h0.7v0.7h-0.7zM152.1 343.1h0.7v0.7h-0.7zM146.8 344.2h0.7v0.7h-0.7zM164.4 340.3h0.7v0.7h-0.7zM155.1 344.7h0.7v0.7h-0.7zM159.1 341.5h0.7v0.7h-0.7zM142.7 347.0h0.7v0.7h-0.7zM137.0 346.4h0.7v0.7h-0.7zM157.9 344.5h0.7v0.7h-0.7zM151.4 342.9h0.7v0.7h-0.7zM147.7 346.7h0.7v0.7h-0.7zM138.9 341.8h0.7v0.7h-0.7zM147.1 343.6h0.7v0.7h-0.7zM154.2 342.4h0.7v0.7h-0.7zM151.0 342.0h0.7v0.7h-0.7zM158.5 345.1h0.7v0.7h-0.7zM139.6 348.4h0.7v0.7h-0.7zM153.1 343.6h0.7v0.7h-0.7zM156.8 344.2h0.7v0.7h-0.7zM152.3 344.8h0.7v0.7h-0.7zM138.7 346.6h0.7v0.7h-0.7zM151.4 340.3h0.7v0.7h-0.7zM147.2 345.8h0.7v0.7h-0.7zM147.2 341.2h0.7v0.7h-0.7zM148.8 342.2h0.7v0.7h-0.7zM152.0 347.0h0.7v0.7h-0.7zM164.8 341.6h0.7v0.7h-0.7zM153.6 340.3h0.7v0.7h-0.7zM155.7 344.4h0.7v0.7h-0.7zM146.6 346.3h0.7v0.7h-0.7zM146.5 344.6h0.7v0.7h-0.7zM152.6 343.6h0.7v0.7h-0.7zM153.1 344.6h0.7v0.7h-0.7zM146.8 344.8h0.7v0.7h-0.7zM156.0 345.8h0.7v0.7h-0.7zM144.7 343.3h0.7v0.7h-0.7zM147.1 340.3h0.7v0.7h-0.7zM154.5 348.7h0.7v0.7h-0.7zM146.4 343.3h0.7v0.7h-0.7zM147.8 343.8h0.7v0.7h-0.7zM145.7 350.0h0.7v0.7h-0.7zM144.0 346.6h0.7v0.7h-0.7zM157.4 343.1h0.7v0.7h-0.7zM159.9 337.3h0.7v0.7h-0.7zM130.8 348.4h0.7v0.7h-0.7zM153.3 342.8h0.7v0.7h-0.7zM152.0 341.2h0.7v0.7h-0.7zM143.4 342.3h0.7v0.7h-0.7zM151.1 345.3h0.7v0.7h-0.7zM163.9 341.0h0.7v0.7h-0.7zM139.5 347.9h0.7v0.7h-0.7zM147.5 341.1h0.7v0.7h-0.7zM154.6 337.5h0.7v0.7h-0.7zM142.5 350.2h0.7v0.7h-0.7zM147.2 345.5h0.7v0.7h-0.7zM159.1 338.8h0.7v0.7h-0.7zM152.1 346.9h0.7v0.7h-0.7zM157.1 346.8h0.7v0.7h-0.7zM168.6 347.1h0.7v0.7h-0.7zM155.2 341.1h0.7v0.7h-0.7zM156.2 340.9h0.7v0.7h-0.7zM137.6 341.1h0.7v0.7h-0.7zM150.8 343.4h0.7v0.7h-0.7zM147.2 347.4h0.7v0.7h-0.7zM149.3 341.6h0.7v0.7h-0.7zM150.5 343.5h0.7v0.7h-0.7zM154.7 342.9h0.7v0.7h-0.7zM156.6 341.5h0.7v0.7h-0.7zM149.8 345.4h0.7v0.7h-0.7zM145.3 345.0h0.7v0.7h-0.7zM152.2 346.4h0.7v0.7h-0.7zM134.2 349.7h0.7v0.7h-0.7zM148.2 344.2h0.7v0.7h-0.7zM160.5 343.8h0.7v0.7h-0.7zM140.7 344.1h0.7v0.7h-0.7zM155.5 342.1h0.7v0.7h-0.7zM153.5 345.8h0.7v0.7h-0.7zM163.8 339.7h0.7v0.7h-0.7zM139.2 343.0h0.7v0.7h-0.7zM147.8 347.0h0.7v0.7h-0.7zM152.8 347.1h0.7v0.7h-0.7zM151.4 339.5h0.7v0.7h-0.7zM153.0 341.3h0.7v0.7h-0.7zM152.0 338.6h0.7v0.7h-0.7zM155.4 339.9h0.7v0.7h-0.7zM148.1 346.6h0.7v0.7h-0.7zM148.5 341.2h0.7v0.7h-0.7zM160.5 341.2h0.7v0.7h-0.7zM157.2 342.4h0.7v0.7h-0.7zM138.0 344.8h0.7v0.7h-0.7zM153.1 342.8h0.7v0.7h-0.7zM161.3 337.1h0.7v0.7h-0.7zM145.8 346.2h0.7v0.7h-0.7zM158.6 345.0h0.7v0.7h-0.7zM144.1 345.5h0.7v0.7h-0.7zM154.8 348.4h0.7v0.7h-0.7zM165.6 343.0h0.7v0.7h-0.7zM155.2 345.2h0.7v0.7h-0.7zM149.9 344.6h0.7v0.7h-0.7zM153.2 343.7h0.7v0.7h-0.7zM155.2 343.0h0.7v0.7h-0.7zM147.1 347.5h0.7v0.7h-0.7zM156.7 340.6h0.7v0.7h-0.7zM154.3 340.5h0.7v0.7h-0.7zM152.5 341.3h0.7v0.7h-0.7zM146.5 345.5h0.7v0.7h-0.7zM144.6 346.7h0.7v0.7h-0.7zM161.5 341.4h0.7v0.7h-0.7zM145.5 345.5h0.7v0.7h-0.7zM148.3 339.5h0.7v0.7h-0.7zM165.2 340.1h0.7v0.7h-0.7zM163.5 344.4h0.7v0.7h-0.7zM155.3 344.2h0.7v0.7h-0.7zM148.6 345.8h0.7v0.7h-0.7zM146.6 345.4h0.7v0.7h-0.7zM144.6 344.6h0.7v0.7h-0.7zM130.5 344.8h0.7v0.7h-0.7zM153.1 343.5h0.7v0.7h-0.7zM152.8 344.9h0.7v0.7h-0.7zM162.2 340.5h0.7v0.7h-0.7zM125.9 348.6h0.7v0.7h-0.7zM152.0 343.5h0.7v0.7h-0.7zM156.1 347.6h0.7v0.7h-0.7zM152.2 340.7h0.7v0.7h-0.7zM155.3 340.9h0.7v0.7h-0.7zM139.7 342.0h0.7v0.7h-0.7zM150.0 339.6h0.7v0.7h-0.7zM148.1 345.3h0.7v0.7h-0.7zM135.3 349.4h0.7v0.7h-0.7zM164.2 341.2h0.7v0.7h-0.7zM149.7 343.0h0.7v0.7h-0.7zM130.2 347.0h0.7v0.7h-0.7zM140.0 344.6h0.7v0.7h-0.7zM142.7 342.1h0.7v0.7h-0.7zM145.0 341.3h0.7v0.7h-0.7zM135.8 349.2h0.7v0.7h-0.7zM143.3 347.3h0.7v0.7h-0.7zM155.4 342.0h0.7v0.7h-0.7zM150.7 343.7h0.7v0.7h-0.7zM154.1 344.3h0.7v0.7h-0.7zM148.5 343.8h0.7v0.7h-0.7zM157.1 340.3h0.7v0.7h-0.7zM138.1 339.1h0.7v0.7h-0.7zM148.3 346.8h0.7v0.7h-0.7zM164.4 339.9h0.7v0.7h-0.7zM151.2 341.0h0.7v0.7h-0.7zM151.1 343.0h0.7v0.7h-0.7zM156.9 345.1h0.7v0.7h-0.7zM153.4 343.4h0.7v0.7h-0.7zM156.3 342.2h0.7v0.7h-0.7zM159.8 346.7h0.7v0.7h-0.7zM156.9 347.7h0.7v0.7h-0.7zM146.3 345.7h0.7v0.7h-0.7zM151.9 341.2h0.7v0.7h-0.7zM152.6 342.9h0.7v0.7h-0.7zM153.7 343.6h0.7v0.7h-0.7zM155.1 342.0h0.7v0.7h-0.7zM150.8 346.3h0.7v0.7h-0.7zM159.3 342.9h0.7v0.7h-0.7zM138.8 348.0h0.7v0.7h-0.7zM154.3 339.9h0.7v0.7h-0.7zM136.2 340.9h0.7v0.7h-0.7zM140.2 350.3h0.7v0.7h-0.7zM147.3 343.6h0.7v0.7h-0.7zM156.1 347.2h0.7v0.7h-0.7zM151.4 343.3h0.7v0.7h-0.7zM158.0 346.5h0.7v0.7h-0.7zM152.0 341.8h0.7v0.7h-0.7zM143.4 347.2h0.7v0.7h-0.7zM143.6 342.9h0.7v0.7h-0.7zM135.1 342.2h0.7v0.7h-0.7zM154.4 341.4h0.7v0.7h-0.7zM155.6 342.4h0.7v0.7h-0.7zM147.0 346.8h0.7v0.7h-0.7zM151.1 342.6h0.7v0.7h-0.7zM160.3 339.3h0.7v0.7h-0.7zM142.6 344.8h0.7v0.7h-0.7zM149.4 338.2h0.7v0.7h-0.7zM148.2 343.2h0.7v0.7h-0.7zM144.4 345.1h0.7v0.7h-0.7zM135.9 346.9h0.7v0.7h-0.7zM158.3 349.2h0.7v0.7h-0.7zM141.8 347.6h0.7v0.7h-0.7zM144.1 339.7h0.7v0.7h-0.7zM149.8 341.3h0.7v0.7h-0.7zM145.9 341.7h0.7v0.7h-0.7zM153.4 342.7h0.7v0.7h-0.7zM153.2 343.9h0.7v0.7h-0.7zM153.3 343.3h0.7v0.7h-0.7zM142.3 346.7h0.7v0.7h-0.7zM147.7 344.2h0.7v0.7h-0.7zM151.3 343.9h0.7v0.7h-0.7zM145.4 342.5h0.7v0.7h-0.7zM143.8 343.6h0.7v0.7h-0.7zM154.8 340.3h0.7v0.7h-0.7zM152.8 348.4h0.7v0.7h-0.7zM140.5 345.2h0.7v0.7h-0.7zM152.3 342.6h0.7v0.7h-0.7zM146.7 346.3h0.7v0.7h-0.7zM149.6 344.4h0.7v0.7h-0.7zM143.1 348.3h0.7v0.7h-0.7zM163.5 340.9h0.7v0.7h-0.7zM152.9 341.6h0.7v0.7h-0.7zM158.9 343.7h0.7v0.7h-0.7zM151.8 343.1h0.7v0.7h-0.7zM143.7 345.2h0.7v0.7h-0.7zM152.0 337.9h0.7v0.7h-0.7zM150.3 338.1h0.7v0.7h-0.7zM160.9 342.5h0.7v0.7h-0.7zM153.3 340.9h0.7v0.7h-0.7zM162.9 343.0h0.7v0.7h-0.7zM151.0 343.0h0.7v0.7h-0.7zM144.4 343.3h0.7v0.7h-0.7zM147.6 340.4h0.7v0.7h-0.7zM157.2 338.0h0.7v0.7h-0.7zM153.6 346.9h0.7v0.7h-0.7zM152.2 344.4h0.7v0.7h-0.7zM147.0 341.0h0.7v0.7h-0.7zM161.7 337.7h0.7v0.7h-0.7zM152.7 340.0h0.7v0.7h-0.7zM154.3 344.9h0.7v0.7h-0.7zM158.3 342.5h0.7v0.7h-0.7zM150.4 342.7h0.7v0.7h-0.7zM150.5 343.4h0.7v0.7h-0.7zM155.8 342.3h0.7v0.7h-0.7zM149.9 350.4h0.7v0.7h-0.7zM142.3 345.1h0.7v0.7h-0.7zM166.8 337.4h0.7v0.7h-0.7zM160.2 342.8h0.7v0.7h-0.7zM157.8 344.6h0.7v0.7h-0.7zM140.7 347.7h0.7v0.7h-0.7zM147.5 339.5h0.7v0.7h-0.7zM153.2 340.1h0.7v0.7h-0.7zM149.2 344.6h0.7v0.7h-0.7zM140.5 347.3h0.7v0.7h-0.7zM155.6 343.2h0.7v0.7h-0.7zM156.5 342.5h0.7v0.7h-0.7zM160.5 340.9h0.7v0.7h-0.7zM152.0 345.4h0.7v0.7h-0.7z" fill="#111" opacity="0.7" clip-path="url(#cD1)"/>
<g><g fill="#111" filter="url(#b05)"><ellipse cx="146.6" cy="344.1" rx="5.5" ry="4.0"/><ellipse cx="149.1" cy="343.58" rx="4.98" ry="3.68"/><ellipse cx="151.6" cy="343.07" rx="4.47" ry="3.37"/><ellipse cx="154.1" cy="342.55" rx="3.95" ry="3.05"/><ellipse cx="156.6" cy="342.03" rx="3.43" ry="2.73"/><ellipse cx="159.1" cy="341.52" rx="2.92" ry="2.42"/><ellipse cx="161.6" cy="341.0" rx="2.4" ry="2.1"/></g></g>
<rect x="133.7" y="305.7" width="69.30000000000001" height="59.900000000000034" rx="0.8" fill="none" stroke="#888" stroke-width="0.8"/>
<text x="135.89999999999998" y="311.5" font-size="4.8" fill="#222" text-anchor="start" font-weight="normal">Q1</text>
<text x="135.89999999999998" y="316.7" font-size="4.8" fill="#222" text-anchor="start" font-weight="normal">3.71</text>
<text x="198.6" y="311.5" font-size="4.8" fill="#222" text-anchor="end" font-weight="normal">Q2</text>
<text x="198.6" y="316.7" font-size="4.8" fill="#222" text-anchor="end" font-weight="normal">5.15</text>
<text x="135.89999999999998" y="357.0" font-size="4.8" fill="#222" text-anchor="start" font-weight="normal">Q4</text>
<text x="135.89999999999998" y="362.6" font-size="4.8" fill="#222" text-anchor="start" font-weight="normal">87.2</text>
<text x="198.6" y="357.0" font-size="4.8" fill="#222" text-anchor="end" font-weight="normal">Q3</text>
<text x="198.6" y="362.6" font-size="4.8" fill="#222" text-anchor="end" font-weight="normal">3.93</text>
<text x="130.39999999999998" y="313.0" font-size="4.5" fill="#444" text-anchor="end">10<tspan font-size="4.0" dx="0.4" dy="-3.3">5</tspan></text>
<path d="M132.39999999999998,311.1 L134.0,311.1" stroke="#222" stroke-width="0.9"/>
<path d="M132.79999999999998,314.6 L133.89999999999998,314.6" stroke="#555" stroke-width="0.5"/>
<path d="M132.79999999999998,317.1 L133.89999999999998,317.1" stroke="#555" stroke-width="0.5"/>
<path d="M132.79999999999998,319.1 L133.89999999999998,319.1" stroke="#555" stroke-width="0.5"/>
<text x="130.39999999999998" y="327.3" font-size="4.5" fill="#444" text-anchor="end">10<tspan font-size="4.0" dx="0.4" dy="-3.3">4</tspan></text>
<path d="M132.39999999999998,325.40000000000003 L134.0,325.40000000000003" stroke="#222" stroke-width="0.9"/>
<path d="M132.79999999999998,328.9 L133.89999999999998,328.9" stroke="#555" stroke-width="0.5"/>
<path d="M132.79999999999998,331.4 L133.89999999999998,331.4" stroke="#555" stroke-width="0.5"/>
<path d="M132.79999999999998,333.4 L133.89999999999998,333.4" stroke="#555" stroke-width="0.5"/>
<text x="130.39999999999998" y="341.6" font-size="4.5" fill="#444" text-anchor="end">10<tspan font-size="4.0" dx="0.4" dy="-3.3">3</tspan></text>
<path d="M132.39999999999998,339.70000000000005 L134.0,339.70000000000005" stroke="#222" stroke-width="0.9"/>
<path d="M132.79999999999998,343.2 L133.89999999999998,343.2" stroke="#555" stroke-width="0.5"/>
<path d="M132.79999999999998,345.7 L133.89999999999998,345.7" stroke="#555" stroke-width="0.5"/>
<path d="M132.79999999999998,347.7 L133.89999999999998,347.7" stroke="#555" stroke-width="0.5"/>
<text x="128.89999999999998" y="358.8" font-size="4.5" fill="#444" text-anchor="end" font-weight="normal">0</text>
<path d="M132.39999999999998,357.1 L134.0,357.1" stroke="#222" stroke-width="0.9"/>
<text x="145.1" y="373.0" font-size="4.5" fill="#444" text-anchor="middle" font-weight="normal">0</text>
<path d="M143.6,365.90000000000003 L146.6,365.90000000000003" stroke="#111" stroke-width="1.1"/>
<text x="163.2" y="373.0" font-size="4.5" fill="#444" text-anchor="start">10<tspan font-size="4.0" dx="0.4" dy="-3.3">3</tspan></text>
<path d="M165.5,365.3 L165.5,366.8" stroke="#222" stroke-width="0.8"/>
<text x="178.0" y="373.0" font-size="4.5" fill="#444" text-anchor="start">10<tspan font-size="4.0" dx="0.4" dy="-3.3">4</tspan></text>
<path d="M180.3,365.3 L180.3,366.8" stroke="#222" stroke-width="0.8"/>
<text x="194.0" y="373.0" font-size="4.5" fill="#444" text-anchor="start">10<tspan font-size="4.0" dx="0.4" dy="-3.3">5</tspan></text>
<path d="M196.3,365.3 L196.3,366.8" stroke="#222" stroke-width="0.8"/>
<path d="M247.9,306 L247.9,366.6 M219.4,341 L289.6,341" stroke="#555" stroke-width="0.9"/>
<path d="M256.5 334.1h0.7v0.7h-0.7zM254.7 342.6h0.7v0.7h-0.7zM251.0 336.3h0.7v0.7h-0.7zM256.8 335.6h0.7v0.7h-0.7zM261.7 334.8h0.7v0.7h-0.7zM240.7 340.7h0.7v0.7h-0.7zM248.6 339.4h0.7v0.7h-0.7zM256.9 338.6h0.7v0.7h-0.7zM259.5 335.1h0.7v0.7h-0.7zM252.8 341.0h0.7v0.7h-0.7zM258.7 340.2h0.7v0.7h-0.7zM247.1 342.5h0.7v0.7h-0.7zM258.0 339.5h0.7v0.7h-0.7zM253.7 340.3h0.7v0.7h-0.7zM244.7 339.9h0.7v0.7h-0.7zM260.7 334.5h0.7v0.7h-0.7zM259.0 344.0h0.7v0.7h-0.7zM245.2 339.7h0.7v0.7h-0.7zM256.2 339.5h0.7v0.7h-0.7zM256.1 339.1h0.7v0.7h-0.7zM248.1 340.7h0.7v0.7h-0.7zM259.6 334.3h0.7v0.7h-0.7zM254.0 339.4h0.7v0.7h-0.7zM259.5 335.5h0.7v0.7h-0.7zM262.8 337.1h0.7v0.7h-0.7zM256.4 337.9h0.7v0.7h-0.7zM250.5 337.2h0.7v0.7h-0.7zM259.3 337.4h0.7v0.7h-0.7zM260.4 339.3h0.7v0.7h-0.7zM250.4 341.1h0.7v0.7h-0.7zM249.7 335.6h0.7v0.7h-0.7zM260.7 337.3h0.7v0.7h-0.7zM256.8 342.0h0.7v0.7h-0.7zM250.0 344.3h0.7v0.7h-0.7zM252.7 340.9h0.7v0.7h-0.7zM254.8 336.7h0.7v0.7h-0.7zM248.2 344.6h0.7v0.7h-0.7zM253.2 340.9h0.7v0.7h-0.7zM252.8 340.5h0.7v0.7h-0.7zM254.0 339.2h0.7v0.7h-0.7zM261.3 341.6h0.7v0.7h-0.7zM249.1 339.5h0.7v0.7h-0.7zM256.9 337.4h0.7v0.7h-0.7zM255.4 341.2h0.7v0.7h-0.7zM254.2 336.4h0.7v0.7h-0.7zM260.1 337.7h0.7v0.7h-0.7zM257.8 338.5h0.7v0.7h-0.7zM246.1 345.9h0.7v0.7h-0.7zM252.1 343.5h0.7v0.7h-0.7zM248.5 341.7h0.7v0.7h-0.7zM256.2 336.9h0.7v0.7h-0.7zM258.1 339.5h0.7v0.7h-0.7zM252.8 341.7h0.7v0.7h-0.7zM256.2 340.5h0.7v0.7h-0.7zM250.2 339.0h0.7v0.7h-0.7zM252.1 338.7h0.7v0.7h-0.7zM253.5 341.2h0.7v0.7h-0.7zM256.4 336.4h0.7v0.7h-0.7zM254.5 340.6h0.7v0.7h-0.7zM250.6 339.7h0.7v0.7h-0.7zM251.8 337.5h0.7v0.7h-0.7zM248.7 339.1h0.7v0.7h-0.7zM258.5 336.7h0.7v0.7h-0.7zM256.7 336.8h0.7v0.7h-0.7zM246.5 340.6h0.7v0.7h-0.7zM259.9 337.6h0.7v0.7h-0.7zM252.6 340.8h0.7v0.7h-0.7zM254.6 337.7h0.7v0.7h-0.7zM252.1 341.0h0.7v0.7h-0.7zM251.3 335.9h0.7v0.7h-0.7zM255.6 335.3h0.7v0.7h-0.7zM244.1 339.0h0.7v0.7h-0.7zM244.4 346.5h0.7v0.7h-0.7zM254.5 342.2h0.7v0.7h-0.7zM256.6 337.6h0.7v0.7h-0.7zM247.0 343.5h0.7v0.7h-0.7zM253.8 339.1h0.7v0.7h-0.7zM248.7 345.2h0.7v0.7h-0.7zM250.7 341.6h0.7v0.7h-0.7zM256.6 343.4h0.7v0.7h-0.7zM264.6 336.9h0.7v0.7h-0.7zM254.7 342.4h0.7v0.7h-0.7zM258.4 333.1h0.7v0.7h-0.7zM254.8 337.2h0.7v0.7h-0.7zM263.8 340.5h0.7v0.7h-0.7zM250.4 339.7h0.7v0.7h-0.7zM251.0 342.2h0.7v0.7h-0.7zM258.8 333.4h0.7v0.7h-0.7zM247.0 343.8h0.7v0.7h-0.7zM255.8 336.5h0.7v0.7h-0.7zM258.5 341.1h0.7v0.7h-0.7zM264.0 337.4h0.7v0.7h-0.7zM252.6 342.4h0.7v0.7h-0.7zM257.6 336.6h0.7v0.7h-0.7zM264.8 339.7h0.7v0.7h-0.7zM267.6 334.9h0.7v0.7h-0.7zM253.2 339.2h0.7v0.7h-0.7zM255.0 336.7h0.7v0.7h-0.7zM249.3 346.3h0.7v0.7h-0.7zM259.9 338.6h0.7v0.7h-0.7zM260.4 335.6h0.7v0.7h-0.7zM253.4 339.2h0.7v0.7h-0.7zM263.0 335.9h0.7v0.7h-0.7zM256.4 337.4h0.7v0.7h-0.7zM258.3 339.6h0.7v0.7h-0.7zM255.0 338.0h0.7v0.7h-0.7zM264.9 332.8h0.7v0.7h-0.7zM252.0 342.3h0.7v0.7h-0.7zM248.8 338.5h0.7v0.7h-0.7zM258.6 340.5h0.7v0.7h-0.7zM269.7 339.4h0.7v0.7h-0.7zM259.7 343.0h0.7v0.7h-0.7zM248.4 341.1h0.7v0.7h-0.7zM248.3 345.7h0.7v0.7h-0.7zM252.3 340.7h0.7v0.7h-0.7zM253.4 340.4h0.7v0.7h-0.7zM254.2 341.5h0.7v0.7h-0.7zM260.7 336.0h0.7v0.7h-0.7zM254.8 338.4h0.7v0.7h-0.7zM252.4 344.8h0.7v0.7h-0.7zM242.7 338.3h0.7v0.7h-0.7zM247.1 345.6h0.7v0.7h-0.7zM259.6 340.5h0.7v0.7h-0.7zM248.8 341.0h0.7v0.7h-0.7zM265.4 331.5h0.7v0.7h-0.7zM242.7 339.5h0.7v0.7h-0.7zM254.4 341.8h0.7v0.7h-0.7zM259.7 336.9h0.7v0.7h-0.7zM257.1 338.1h0.7v0.7h-0.7zM254.2 343.3h0.7v0.7h-0.7z" fill="#444" opacity="0.55" clip-path="url(#cD2)"/>
<path d="M249.4 331.2h0.7v0.7h-0.7zM248.7 333.3h0.7v0.7h-0.7zM253.0 338.6h0.7v0.7h-0.7zM248.4 335.0h0.7v0.7h-0.7zM245.5 329.1h0.7v0.7h-0.7zM267.5 329.8h0.7v0.7h-0.7zM265.7 323.7h0.7v0.7h-0.7zM265.5 325.7h0.7v0.7h-0.7zM247.8 332.8h0.7v0.7h-0.7zM248.7 332.3h0.7v0.7h-0.7zM241.5 337.0h0.7v0.7h-0.7zM245.6 326.1h0.7v0.7h-0.7zM256.7 335.1h0.7v0.7h-0.7zM242.0 324.7h0.7v0.7h-0.7zM258.3 333.0h0.7v0.7h-0.7zM246.8 328.4h0.7v0.7h-0.7zM237.2 340.4h0.7v0.7h-0.7zM252.5 327.9h0.7v0.7h-0.7zM254.5 334.0h0.7v0.7h-0.7zM250.0 322.1h0.7v0.7h-0.7zM253.6 336.2h0.7v0.7h-0.7zM237.8 335.3h0.7v0.7h-0.7zM246.3 333.5h0.7v0.7h-0.7zM238.3 336.8h0.7v0.7h-0.7zM248.6 331.8h0.7v0.7h-0.7zM251.4 326.2h0.7v0.7h-0.7zM253.0 342.3h0.7v0.7h-0.7zM254.9 332.2h0.7v0.7h-0.7zM239.7 333.5h0.7v0.7h-0.7zM248.0 330.5h0.7v0.7h-0.7zM243.4 331.7h0.7v0.7h-0.7zM254.8 332.7h0.7v0.7h-0.7zM252.1 333.8h0.7v0.7h-0.7zM224.3 346.4h0.7v0.7h-0.7zM255.6 331.5h0.7v0.7h-0.7zM248.6 338.0h0.7v0.7h-0.7zM253.9 341.2h0.7v0.7h-0.7zM234.2 333.1h0.7v0.7h-0.7zM241.7 333.8h0.7v0.7h-0.7zM251.8 334.7h0.7v0.7h-0.7zM239.2 336.4h0.7v0.7h-0.7zM258.2 333.3h0.7v0.7h-0.7zM249.7 341.1h0.7v0.7h-0.7zM257.8 329.6h0.7v0.7h-0.7zM260.0 335.0h0.7v0.7h-0.7zM239.3 328.6h0.7v0.7h-0.7zM230.5 327.6h0.7v0.7h-0.7zM248.7 337.7h0.7v0.7h-0.7zM247.9 329.8h0.7v0.7h-0.7zM245.6 328.6h0.7v0.7h-0.7z" fill="#666" opacity="0.45" clip-path="url(#cD2)"/>
<path d="M234.7 353.5h0.7v0.7h-0.7zM237.9 339.0h0.7v0.7h-0.7zM236.8 341.1h0.7v0.7h-0.7zM230.7 340.2h0.7v0.7h-0.7zM248.2 340.0h0.7v0.7h-0.7zM232.4 343.8h0.7v0.7h-0.7zM243.9 355.6h0.7v0.7h-0.7zM240.9 346.8h0.7v0.7h-0.7zM235.2 343.7h0.7v0.7h-0.7zM245.7 341.1h0.7v0.7h-0.7zM241.3 339.9h0.7v0.7h-0.7zM236.6 343.7h0.7v0.7h-0.7zM242.6 335.2h0.7v0.7h-0.7zM227.9 344.6h0.7v0.7h-0.7zM238.0 348.5h0.7v0.7h-0.7zM228.5 349.6h0.7v0.7h-0.7zM240.8 343.5h0.7v0.7h-0.7zM245.7 341.7h0.7v0.7h-0.7zM243.9 351.4h0.7v0.7h-0.7zM236.6 345.6h0.7v0.7h-0.7zM234.6 345.7h0.7v0.7h-0.7zM240.2 342.3h0.7v0.7h-0.7zM237.1 346.4h0.7v0.7h-0.7zM229.7 345.0h0.7v0.7h-0.7zM238.2 352.4h0.7v0.7h-0.7zM240.3 343.0h0.7v0.7h-0.7zM236.7 347.8h0.7v0.7h-0.7zM231.2 347.0h0.7v0.7h-0.7zM232.3 349.6h0.7v0.7h-0.7zM243.8 340.6h0.7v0.7h-0.7zM242.2 348.6h0.7v0.7h-0.7zM229.9 342.9h0.7v0.7h-0.7zM236.8 349.4h0.7v0.7h-0.7zM233.2 350.4h0.7v0.7h-0.7zM243.7 343.9h0.7v0.7h-0.7zM235.6 345.8h0.7v0.7h-0.7zM240.0 347.3h0.7v0.7h-0.7zM228.7 341.8h0.7v0.7h-0.7zM228.2 350.6h0.7v0.7h-0.7zM242.8 343.8h0.7v0.7h-0.7zM241.3 339.2h0.7v0.7h-0.7zM237.4 347.1h0.7v0.7h-0.7zM227.7 344.9h0.7v0.7h-0.7zM230.3 349.5h0.7v0.7h-0.7zM236.6 342.8h0.7v0.7h-0.7zM230.9 349.7h0.7v0.7h-0.7zM238.1 341.7h0.7v0.7h-0.7zM233.8 340.5h0.7v0.7h-0.7zM244.4 342.4h0.7v0.7h-0.7zM247.9 342.7h0.7v0.7h-0.7zM231.7 343.3h0.7v0.7h-0.7zM236.5 348.4h0.7v0.7h-0.7zM252.1 353.9h0.7v0.7h-0.7zM241.3 337.6h0.7v0.7h-0.7zM246.6 354.0h0.7v0.7h-0.7zM228.4 343.5h0.7v0.7h-0.7zM239.8 355.6h0.7v0.7h-0.7zM243.2 345.5h0.7v0.7h-0.7zM223.5 349.8h0.7v0.7h-0.7zM229.8 341.7h0.7v0.7h-0.7zM228.6 347.5h0.7v0.7h-0.7zM249.4 345.8h0.7v0.7h-0.7zM242.8 341.1h0.7v0.7h-0.7zM229.8 346.2h0.7v0.7h-0.7zM226.9 340.3h0.7v0.7h-0.7zM237.9 339.5h0.7v0.7h-0.7zM240.2 356.2h0.7v0.7h-0.7zM242.5 351.7h0.7v0.7h-0.7zM232.3 343.6h0.7v0.7h-0.7zM237.0 347.2h0.7v0.7h-0.7zM230.3 341.0h0.7v0.7h-0.7zM243.5 347.9h0.7v0.7h-0.7zM248.1 353.0h0.7v0.7h-0.7zM239.8 341.3h0.7v0.7h-0.7zM233.2 339.8h0.7v0.7h-0.7zM242.7 349.8h0.7v0.7h-0.7zM246.3 342.1h0.7v0.7h-0.7zM245.0 341.8h0.7v0.7h-0.7zM237.5 341.7h0.7v0.7h-0.7zM240.1 345.5h0.7v0.7h-0.7zM237.8 333.3h0.7v0.7h-0.7zM239.9 349.4h0.7v0.7h-0.7zM243.1 338.3h0.7v0.7h-0.7zM224.7 351.3h0.7v0.7h-0.7zM237.3 342.6h0.7v0.7h-0.7zM230.7 340.9h0.7v0.7h-0.7zM230.3 340.8h0.7v0.7h-0.7zM239.9 335.6h0.7v0.7h-0.7zM247.7 351.0h0.7v0.7h-0.7zM226.4 345.5h0.7v0.7h-0.7zM238.3 349.2h0.7v0.7h-0.7zM217.9 351.0h0.7v0.7h-0.7zM246.3 341.5h0.7v0.7h-0.7zM234.6 349.3h0.7v0.7h-0.7zM239.3 353.5h0.7v0.7h-0.7zM229.8 338.0h0.7v0.7h-0.7zM236.0 344.9h0.7v0.7h-0.7zM234.0 347.7h0.7v0.7h-0.7zM233.0 347.3h0.7v0.7h-0.7zM230.0 352.9h0.7v0.7h-0.7zM242.5 345.4h0.7v0.7h-0.7zM232.1 342.7h0.7v0.7h-0.7zM231.4 337.1h0.7v0.7h-0.7zM231.0 350.6h0.7v0.7h-0.7zM234.9 349.5h0.7v0.7h-0.7zM238.1 342.0h0.7v0.7h-0.7zM230.0 342.6h0.7v0.7h-0.7zM237.4 340.6h0.7v0.7h-0.7zM232.8 338.8h0.7v0.7h-0.7zM245.7 336.5h0.7v0.7h-0.7zM240.0 338.3h0.7v0.7h-0.7zM234.7 353.8h0.7v0.7h-0.7zM232.4 346.7h0.7v0.7h-0.7zM230.2 353.6h0.7v0.7h-0.7zM245.0 352.2h0.7v0.7h-0.7zM232.4 336.3h0.7v0.7h-0.7zM229.3 336.6h0.7v0.7h-0.7zM244.2 345.8h0.7v0.7h-0.7zM235.7 340.1h0.7v0.7h-0.7zM239.7 342.9h0.7v0.7h-0.7zM233.7 345.7h0.7v0.7h-0.7zM230.5 336.8h0.7v0.7h-0.7zM243.6 353.5h0.7v0.7h-0.7zM225.0 347.1h0.7v0.7h-0.7zM227.5 341.2h0.7v0.7h-0.7zM234.6 349.2h0.7v0.7h-0.7zM226.3 351.9h0.7v0.7h-0.7zM236.9 353.0h0.7v0.7h-0.7zM231.6 333.0h0.7v0.7h-0.7zM241.7 338.8h0.7v0.7h-0.7zM252.4 346.2h0.7v0.7h-0.7zM243.4 338.8h0.7v0.7h-0.7zM236.2 345.5h0.7v0.7h-0.7zM225.5 337.1h0.7v0.7h-0.7zM238.0 347.0h0.7v0.7h-0.7zM233.9 354.7h0.7v0.7h-0.7zM245.9 334.3h0.7v0.7h-0.7zM233.1 338.2h0.7v0.7h-0.7zM230.0 341.8h0.7v0.7h-0.7zM224.6 346.1h0.7v0.7h-0.7zM244.8 351.4h0.7v0.7h-0.7zM226.3 345.7h0.7v0.7h-0.7zM240.0 342.0h0.7v0.7h-0.7zM247.9 347.8h0.7v0.7h-0.7zM245.1 344.9h0.7v0.7h-0.7zM240.9 348.5h0.7v0.7h-0.7zM230.6 335.4h0.7v0.7h-0.7zM237.2 339.1h0.7v0.7h-0.7zM242.8 338.7h0.7v0.7h-0.7zM239.9 337.5h0.7v0.7h-0.7zM249.3 345.6h0.7v0.7h-0.7zM229.3 344.3h0.7v0.7h-0.7zM237.7 331.4h0.7v0.7h-0.7zM229.8 346.1h0.7v0.7h-0.7zM231.5 342.4h0.7v0.7h-0.7zM246.0 350.7h0.7v0.7h-0.7zM237.9 346.6h0.7v0.7h-0.7zM247.0 346.3h0.7v0.7h-0.7zM227.4 345.5h0.7v0.7h-0.7zM229.0 340.2h0.7v0.7h-0.7zM237.1 344.0h0.7v0.7h-0.7zM236.2 348.3h0.7v0.7h-0.7zM235.3 345.5h0.7v0.7h-0.7zM241.4 341.7h0.7v0.7h-0.7zM235.2 342.7h0.7v0.7h-0.7zM229.6 340.0h0.7v0.7h-0.7zM239.7 344.8h0.7v0.7h-0.7zM227.6 348.1h0.7v0.7h-0.7zM241.5 349.2h0.7v0.7h-0.7zM244.6 345.0h0.7v0.7h-0.7zM240.5 343.3h0.7v0.7h-0.7zM230.4 343.8h0.7v0.7h-0.7zM239.7 345.7h0.7v0.7h-0.7zM232.9 340.6h0.7v0.7h-0.7zM233.0 342.2h0.7v0.7h-0.7zM234.9 347.1h0.7v0.7h-0.7zM236.0 332.8h0.7v0.7h-0.7zM241.4 341.9h0.7v0.7h-0.7zM249.1 353.9h0.7v0.7h-0.7zM243.1 343.2h0.7v0.7h-0.7zM236.3 336.8h0.7v0.7h-0.7zM245.9 341.9h0.7v0.7h-0.7zM243.2 346.3h0.7v0.7h-0.7zM248.7 345.3h0.7v0.7h-0.7zM237.1 341.7h0.7v0.7h-0.7zM226.4 346.6h0.7v0.7h-0.7zM232.4 349.5h0.7v0.7h-0.7zM244.5 345.8h0.7v0.7h-0.7zM251.2 346.4h0.7v0.7h-0.7zM242.1 340.5h0.7v0.7h-0.7zM241.2 344.0h0.7v0.7h-0.7zM246.0 344.1h0.7v0.7h-0.7zM223.2 349.1h0.7v0.7h-0.7zM244.1 338.1h0.7v0.7h-0.7zM236.7 346.4h0.7v0.7h-0.7zM241.9 339.5h0.7v0.7h-0.7zM231.9 341.8h0.7v0.7h-0.7zM233.9 341.2h0.7v0.7h-0.7zM238.2 337.2h0.7v0.7h-0.7zM239.4 339.3h0.7v0.7h-0.7zM233.6 340.9h0.7v0.7h-0.7zM241.9 345.2h0.7v0.7h-0.7zM233.5 346.2h0.7v0.7h-0.7zM230.5 345.5h0.7v0.7h-0.7zM238.0 344.6h0.7v0.7h-0.7zM228.9 346.2h0.7v0.7h-0.7zM240.4 346.3h0.7v0.7h-0.7zM234.0 349.6h0.7v0.7h-0.7zM248.3 350.6h0.7v0.7h-0.7zM238.7 353.1h0.7v0.7h-0.7zM232.2 335.3h0.7v0.7h-0.7zM231.5 340.9h0.7v0.7h-0.7zM233.0 343.6h0.7v0.7h-0.7zM238.9 342.7h0.7v0.7h-0.7zM230.5 342.7h0.7v0.7h-0.7zM239.9 339.2h0.7v0.7h-0.7zM227.9 342.0h0.7v0.7h-0.7zM234.7 361.4h0.7v0.7h-0.7zM238.6 341.2h0.7v0.7h-0.7zM234.8 341.0h0.7v0.7h-0.7zM241.5 355.6h0.7v0.7h-0.7zM239.7 341.4h0.7v0.7h-0.7zM238.2 358.1h0.7v0.7h-0.7zM231.3 341.0h0.7v0.7h-0.7zM233.8 342.1h0.7v0.7h-0.7zM222.3 338.9h0.7v0.7h-0.7zM235.1 348.3h0.7v0.7h-0.7zM230.6 338.4h0.7v0.7h-0.7zM234.8 337.4h0.7v0.7h-0.7zM224.9 344.5h0.7v0.7h-0.7zM239.0 342.0h0.7v0.7h-0.7zM239.5 347.0h0.7v0.7h-0.7zM241.8 343.1h0.7v0.7h-0.7zM240.1 341.4h0.7v0.7h-0.7zM238.1 348.7h0.7v0.7h-0.7zM247.6 346.5h0.7v0.7h-0.7zM233.9 341.5h0.7v0.7h-0.7zM229.7 348.4h0.7v0.7h-0.7zM244.6 340.4h0.7v0.7h-0.7zM234.1 343.5h0.7v0.7h-0.7zM227.7 338.0h0.7v0.7h-0.7zM240.2 340.8h0.7v0.7h-0.7zM240.5 346.2h0.7v0.7h-0.7zM245.5 340.9h0.7v0.7h-0.7zM245.8 342.1h0.7v0.7h-0.7zM237.1 351.0h0.7v0.7h-0.7zM233.8 338.4h0.7v0.7h-0.7zM241.2 342.7h0.7v0.7h-0.7zM227.2 351.0h0.7v0.7h-0.7zM232.6 348.4h0.7v0.7h-0.7zM236.5 340.2h0.7v0.7h-0.7zM237.6 337.2h0.7v0.7h-0.7zM243.9 339.1h0.7v0.7h-0.7zM237.2 356.8h0.7v0.7h-0.7zM235.4 344.3h0.7v0.7h-0.7zM228.6 352.3h0.7v0.7h-0.7zM238.4 345.4h0.7v0.7h-0.7zM227.9 342.2h0.7v0.7h-0.7zM236.0 342.0h0.7v0.7h-0.7zM232.8 332.9h0.7v0.7h-0.7zM230.1 355.4h0.7v0.7h-0.7zM239.1 348.7h0.7v0.7h-0.7zM229.3 350.9h0.7v0.7h-0.7zM233.7 342.5h0.7v0.7h-0.7zM238.0 343.6h0.7v0.7h-0.7zM240.9 338.8h0.7v0.7h-0.7zM237.5 338.2h0.7v0.7h-0.7zM251.5 336.3h0.7v0.7h-0.7zM245.4 350.6h0.7v0.7h-0.7zM235.5 343.5h0.7v0.7h-0.7zM236.0 346.8h0.7v0.7h-0.7zM240.4 346.7h0.7v0.7h-0.7zM241.7 346.0h0.7v0.7h-0.7zM231.5 347.5h0.7v0.7h-0.7zM233.3 338.8h0.7v0.7h-0.7zM239.1 343.2h0.7v0.7h-0.7zM220.7 348.4h0.7v0.7h-0.7zM237.0 346.6h0.7v0.7h-0.7zM228.9 343.1h0.7v0.7h-0.7zM233.0 343.9h0.7v0.7h-0.7zM243.8 339.4h0.7v0.7h-0.7zM234.5 342.3h0.7v0.7h-0.7zM239.0 336.1h0.7v0.7h-0.7zM240.9 341.2h0.7v0.7h-0.7zM245.6 350.5h0.7v0.7h-0.7zM234.9 341.0h0.7v0.7h-0.7zM234.1 340.6h0.7v0.7h-0.7zM242.8 354.3h0.7v0.7h-0.7zM229.1 340.0h0.7v0.7h-0.7zM237.7 345.4h0.7v0.7h-0.7zM239.5 337.7h0.7v0.7h-0.7zM241.8 342.5h0.7v0.7h-0.7zM240.7 343.1h0.7v0.7h-0.7zM228.2 348.9h0.7v0.7h-0.7zM235.5 341.3h0.7v0.7h-0.7zM228.4 342.2h0.7v0.7h-0.7zM244.4 350.5h0.7v0.7h-0.7zM241.2 341.3h0.7v0.7h-0.7zM237.8 345.5h0.7v0.7h-0.7zM233.2 342.4h0.7v0.7h-0.7zM238.3 339.4h0.7v0.7h-0.7zM235.3 338.5h0.7v0.7h-0.7zM232.9 341.6h0.7v0.7h-0.7zM239.3 347.2h0.7v0.7h-0.7zM232.5 344.9h0.7v0.7h-0.7zM246.0 333.0h0.7v0.7h-0.7zM236.0 336.6h0.7v0.7h-0.7zM244.5 346.7h0.7v0.7h-0.7zM239.9 346.0h0.7v0.7h-0.7zM226.7 350.3h0.7v0.7h-0.7zM235.2 343.4h0.7v0.7h-0.7zM227.7 344.6h0.7v0.7h-0.7zM226.5 336.2h0.7v0.7h-0.7zM251.5 343.0h0.7v0.7h-0.7zM251.0 351.8h0.7v0.7h-0.7zM244.9 333.9h0.7v0.7h-0.7zM247.2 344.7h0.7v0.7h-0.7zM233.3 355.1h0.7v0.7h-0.7zM242.3 348.7h0.7v0.7h-0.7zM230.3 342.7h0.7v0.7h-0.7zM240.9 343.9h0.7v0.7h-0.7zM224.8 345.2h0.7v0.7h-0.7zM236.6 342.7h0.7v0.7h-0.7zM238.9 341.6h0.7v0.7h-0.7zM245.3 335.4h0.7v0.7h-0.7zM232.4 347.1h0.7v0.7h-0.7zM243.0 352.6h0.7v0.7h-0.7zM243.3 338.1h0.7v0.7h-0.7zM242.5 342.4h0.7v0.7h-0.7zM245.7 349.4h0.7v0.7h-0.7zM231.5 342.8h0.7v0.7h-0.7zM238.0 338.1h0.7v0.7h-0.7zM227.4 342.3h0.7v0.7h-0.7zM241.5 351.6h0.7v0.7h-0.7zM239.9 345.3h0.7v0.7h-0.7zM234.4 351.3h0.7v0.7h-0.7zM228.3 347.1h0.7v0.7h-0.7zM243.6 351.5h0.7v0.7h-0.7zM231.8 339.3h0.7v0.7h-0.7zM234.6 348.4h0.7v0.7h-0.7zM239.8 344.1h0.7v0.7h-0.7zM242.6 344.1h0.7v0.7h-0.7zM235.8 353.2h0.7v0.7h-0.7zM234.6 345.9h0.7v0.7h-0.7zM232.5 346.9h0.7v0.7h-0.7zM233.2 348.0h0.7v0.7h-0.7zM235.5 344.1h0.7v0.7h-0.7zM251.4 347.8h0.7v0.7h-0.7zM242.9 342.4h0.7v0.7h-0.7zM234.9 348.4h0.7v0.7h-0.7zM242.3 346.5h0.7v0.7h-0.7zM244.0 333.2h0.7v0.7h-0.7zM237.5 350.2h0.7v0.7h-0.7zM241.0 350.3h0.7v0.7h-0.7zM231.1 347.1h0.7v0.7h-0.7zM232.0 336.1h0.7v0.7h-0.7zM247.8 348.0h0.7v0.7h-0.7zM246.6 340.9h0.7v0.7h-0.7zM236.5 340.7h0.7v0.7h-0.7zM244.7 341.5h0.7v0.7h-0.7zM233.3 342.3h0.7v0.7h-0.7zM233.9 341.0h0.7v0.7h-0.7zM248.3 338.5h0.7v0.7h-0.7zM231.5 337.3h0.7v0.7h-0.7zM244.2 339.7h0.7v0.7h-0.7zM241.6 351.7h0.7v0.7h-0.7zM239.5 353.9h0.7v0.7h-0.7zM233.3 357.3h0.7v0.7h-0.7zM242.4 336.8h0.7v0.7h-0.7zM240.8 342.4h0.7v0.7h-0.7zM246.2 337.7h0.7v0.7h-0.7zM242.9 336.5h0.7v0.7h-0.7zM240.5 335.4h0.7v0.7h-0.7zM221.5 346.6h0.7v0.7h-0.7zM229.4 350.4h0.7v0.7h-0.7zM237.6 341.0h0.7v0.7h-0.7zM243.5 354.1h0.7v0.7h-0.7zM234.3 340.7h0.7v0.7h-0.7zM237.3 338.2h0.7v0.7h-0.7zM234.5 338.9h0.7v0.7h-0.7zM246.5 338.5h0.7v0.7h-0.7zM245.4 349.9h0.7v0.7h-0.7zM235.0 343.8h0.7v0.7h-0.7zM230.9 352.5h0.7v0.7h-0.7zM233.5 345.4h0.7v0.7h-0.7zM234.1 344.4h0.7v0.7h-0.7zM240.7 346.8h0.7v0.7h-0.7zM243.8 344.5h0.7v0.7h-0.7zM240.6 336.1h0.7v0.7h-0.7zM234.5 334.7h0.7v0.7h-0.7zM242.5 344.3h0.7v0.7h-0.7zM228.8 341.0h0.7v0.7h-0.7zM239.3 351.8h0.7v0.7h-0.7zM233.6 346.2h0.7v0.7h-0.7zM229.1 356.7h0.7v0.7h-0.7zM229.5 348.4h0.7v0.7h-0.7zM236.1 340.1h0.7v0.7h-0.7zM244.7 354.7h0.7v0.7h-0.7zM243.1 344.6h0.7v0.7h-0.7zM243.4 341.1h0.7v0.7h-0.7z" fill="#111" opacity="0.7" clip-path="url(#cD2)"/>
<g><g fill="#111" filter="url(#b05)"><ellipse cx="236.0" cy="345.0" rx="8.0" ry="7.2"/><ellipse cx="240.8" cy="344.0" rx="6.0" ry="5.4"/><ellipse cx="242.45" cy="343.75" rx="4.9" ry="4.45"/><ellipse cx="244.1" cy="343.5" rx="3.8" ry="3.5"/><ellipse cx="245.75" cy="343.25" rx="2.7" ry="2.55"/><ellipse cx="247.4" cy="343.0" rx="1.6" ry="1.6"/></g></g>
<rect x="219.4" y="306" width="70.20000000000002" height="60.60000000000002" rx="0.8" fill="none" stroke="#888" stroke-width="0.8"/>
<text x="221.6" y="311.8" font-size="4.8" fill="#222" text-anchor="start" font-weight="normal">Q1</text>
<text x="221.6" y="317.0" font-size="4.8" fill="#222" text-anchor="start" font-weight="normal">4.75</text>
<text x="285.20000000000005" y="311.8" font-size="4.8" fill="#222" text-anchor="end" font-weight="normal">Q2</text>
<text x="285.20000000000005" y="317.0" font-size="4.8" fill="#222" text-anchor="end" font-weight="normal">0.49</text>
<text x="221.6" y="358.0" font-size="4.8" fill="#222" text-anchor="start" font-weight="normal">Q4</text>
<text x="221.6" y="363.6" font-size="4.8" fill="#222" text-anchor="start" font-weight="normal">94.3</text>
<text x="285.20000000000005" y="358.0" font-size="4.8" fill="#222" text-anchor="end" font-weight="normal">Q3</text>
<text x="285.20000000000005" y="363.6" font-size="4.8" fill="#222" text-anchor="end" font-weight="normal">0.44</text>
<text x="216.1" y="314.0" font-size="4.5" fill="#444" text-anchor="end">10<tspan font-size="4.0" dx="0.4" dy="-3.3">5</tspan></text>
<path d="M218.1,312.1 L219.70000000000002,312.1" stroke="#222" stroke-width="0.9"/>
<path d="M218.5,315.6 L219.6,315.6" stroke="#555" stroke-width="0.5"/>
<path d="M218.5,318.1 L219.6,318.1" stroke="#555" stroke-width="0.5"/>
<path d="M218.5,320.1 L219.6,320.1" stroke="#555" stroke-width="0.5"/>
<text x="216.1" y="327.9" font-size="4.5" fill="#444" text-anchor="end">10<tspan font-size="4.0" dx="0.4" dy="-3.3">4</tspan></text>
<path d="M218.1,326.0 L219.70000000000002,326.0" stroke="#222" stroke-width="0.9"/>
<path d="M218.5,329.5 L219.6,329.5" stroke="#555" stroke-width="0.5"/>
<path d="M218.5,332.0 L219.6,332.0" stroke="#555" stroke-width="0.5"/>
<path d="M218.5,334.0 L219.6,334.0" stroke="#555" stroke-width="0.5"/>
<text x="216.1" y="342.0" font-size="4.5" fill="#444" text-anchor="end">10<tspan font-size="4.0" dx="0.4" dy="-3.3">3</tspan></text>
<path d="M218.1,340.1 L219.70000000000002,340.1" stroke="#222" stroke-width="0.9"/>
<path d="M218.5,343.6 L219.6,343.6" stroke="#555" stroke-width="0.5"/>
<path d="M218.5,346.1 L219.6,346.1" stroke="#555" stroke-width="0.5"/>
<path d="M218.5,348.1 L219.6,348.1" stroke="#555" stroke-width="0.5"/>
<text x="214.6" y="359.5" font-size="4.5" fill="#444" text-anchor="end" font-weight="normal">0</text>
<path d="M218.1,357.8 L219.70000000000002,357.8" stroke="#222" stroke-width="0.9"/>
<text x="230.8" y="373.6" font-size="4.5" fill="#444" text-anchor="middle" font-weight="normal">0</text>
<path d="M229.3,366.90000000000003 L232.3,366.90000000000003" stroke="#111" stroke-width="1.1"/>
<text x="248.7" y="373.6" font-size="4.5" fill="#444" text-anchor="start">10<tspan font-size="4.0" dx="0.4" dy="-3.3">3</tspan></text>
<path d="M251.0,366.3 L251.0,367.8" stroke="#222" stroke-width="0.8"/>
<text x="263.4" y="373.6" font-size="4.5" fill="#444" text-anchor="start">10<tspan font-size="4.0" dx="0.4" dy="-3.3">4</tspan></text>
<path d="M265.7,366.3 L265.7,367.8" stroke="#222" stroke-width="0.8"/>
<text x="279.2" y="373.6" font-size="4.5" fill="#444" text-anchor="start">10<tspan font-size="4.0" dx="0.4" dy="-3.3">5</tspan></text>
<path d="M281.5,366.3 L281.5,367.8" stroke="#222" stroke-width="0.8"/>
<path d="M119.6,342 L119.60,313.50" stroke="#111" stroke-width="0.9" fill="none"/><path d="M119.6,308.5 L121.70,313.50 L117.50,313.50 Z" fill="#111"/>
<text transform="translate(123.0,355.2) rotate(-90) scale(0.55,1)" font-size="10.5" fill="#111" text-anchor="middle" font-weight="bold">Fox-P3</text>
<text transform="translate(145.6,382.2) scale(0.55,1)" font-size="10.5" fill="#111" text-anchor="middle" font-weight="bold">CD25</text>
<path d="M156,379.3 L284.50,379.30" stroke="#111" stroke-width="0.9" fill="none"/><path d="M289.5,379.3 L284.50,381.40 L284.50,377.20 Z" fill="#111"/>
<path d="M160.6,384.4 L160.6,445.5 M132.7,419 L202.9,419" stroke="#555" stroke-width="0.9"/>
<path d="M164.6 422.8h0.7v0.7h-0.7zM164.3 424.4h0.7v0.7h-0.7zM168.0 423.5h0.7v0.7h-0.7zM163.8 420.0h0.7v0.7h-0.7zM176.3 426.7h0.7v0.7h-0.7zM170.1 425.3h0.7v0.7h-0.7zM159.3 422.6h0.7v0.7h-0.7zM164.6 424.0h0.7v0.7h-0.7zM169.3 423.8h0.7v0.7h-0.7zM152.5 426.3h0.7v0.7h-0.7zM163.5 425.8h0.7v0.7h-0.7zM165.9 426.3h0.7v0.7h-0.7zM171.0 424.0h0.7v0.7h-0.7zM168.5 425.1h0.7v0.7h-0.7zM167.1 422.5h0.7v0.7h-0.7zM162.9 425.0h0.7v0.7h-0.7zM165.0 421.0h0.7v0.7h-0.7zM171.6 425.0h0.7v0.7h-0.7zM165.2 423.2h0.7v0.7h-0.7zM162.2 425.0h0.7v0.7h-0.7zM175.2 427.2h0.7v0.7h-0.7zM167.0 425.2h0.7v0.7h-0.7zM168.2 426.5h0.7v0.7h-0.7zM173.3 426.6h0.7v0.7h-0.7zM166.7 426.9h0.7v0.7h-0.7zM155.2 422.9h0.7v0.7h-0.7zM169.6 426.5h0.7v0.7h-0.7zM162.2 426.8h0.7v0.7h-0.7zM165.5 424.7h0.7v0.7h-0.7zM166.5 424.1h0.7v0.7h-0.7zM173.1 424.2h0.7v0.7h-0.7zM162.6 426.4h0.7v0.7h-0.7zM160.0 424.9h0.7v0.7h-0.7zM162.0 424.7h0.7v0.7h-0.7zM157.6 424.1h0.7v0.7h-0.7zM156.8 425.4h0.7v0.7h-0.7zM167.9 423.1h0.7v0.7h-0.7zM158.2 423.3h0.7v0.7h-0.7zM161.5 427.7h0.7v0.7h-0.7zM171.3 423.6h0.7v0.7h-0.7zM171.5 425.5h0.7v0.7h-0.7zM159.6 421.9h0.7v0.7h-0.7zM162.5 422.5h0.7v0.7h-0.7zM162.2 423.8h0.7v0.7h-0.7zM168.8 421.5h0.7v0.7h-0.7zM178.5 424.0h0.7v0.7h-0.7zM160.7 423.4h0.7v0.7h-0.7zM160.7 427.1h0.7v0.7h-0.7zM161.4 420.3h0.7v0.7h-0.7zM162.0 426.0h0.7v0.7h-0.7zM159.9 424.8h0.7v0.7h-0.7zM174.9 426.5h0.7v0.7h-0.7zM159.7 426.4h0.7v0.7h-0.7zM166.8 424.2h0.7v0.7h-0.7zM178.8 423.5h0.7v0.7h-0.7zM171.0 424.1h0.7v0.7h-0.7zM162.4 422.2h0.7v0.7h-0.7zM169.7 425.4h0.7v0.7h-0.7zM177.0 423.3h0.7v0.7h-0.7zM174.6 424.0h0.7v0.7h-0.7zM159.0 425.4h0.7v0.7h-0.7zM172.1 424.4h0.7v0.7h-0.7zM174.2 428.2h0.7v0.7h-0.7zM176.3 425.4h0.7v0.7h-0.7zM161.8 428.2h0.7v0.7h-0.7zM168.7 424.2h0.7v0.7h-0.7zM159.9 425.9h0.7v0.7h-0.7zM177.9 426.0h0.7v0.7h-0.7zM161.3 425.3h0.7v0.7h-0.7zM164.6 425.8h0.7v0.7h-0.7zM177.6 421.7h0.7v0.7h-0.7zM168.6 424.2h0.7v0.7h-0.7zM168.6 424.3h0.7v0.7h-0.7zM161.1 427.6h0.7v0.7h-0.7zM165.0 424.2h0.7v0.7h-0.7zM173.4 426.4h0.7v0.7h-0.7zM173.1 423.6h0.7v0.7h-0.7zM165.0 426.3h0.7v0.7h-0.7zM163.0 422.9h0.7v0.7h-0.7zM161.0 423.8h0.7v0.7h-0.7zM158.1 423.8h0.7v0.7h-0.7zM163.8 426.6h0.7v0.7h-0.7zM160.5 424.6h0.7v0.7h-0.7zM164.0 423.3h0.7v0.7h-0.7zM160.0 424.8h0.7v0.7h-0.7zM170.7 424.9h0.7v0.7h-0.7zM158.5 427.0h0.7v0.7h-0.7zM167.2 424.7h0.7v0.7h-0.7zM158.1 424.2h0.7v0.7h-0.7zM177.9 425.5h0.7v0.7h-0.7zM166.3 428.8h0.7v0.7h-0.7zM174.1 424.4h0.7v0.7h-0.7zM161.3 423.1h0.7v0.7h-0.7zM165.9 423.7h0.7v0.7h-0.7zM170.6 423.4h0.7v0.7h-0.7zM172.9 422.6h0.7v0.7h-0.7zM157.0 427.1h0.7v0.7h-0.7zM160.9 425.4h0.7v0.7h-0.7zM170.4 425.2h0.7v0.7h-0.7zM174.1 426.2h0.7v0.7h-0.7zM167.0 424.9h0.7v0.7h-0.7zM175.0 424.9h0.7v0.7h-0.7zM172.4 426.4h0.7v0.7h-0.7zM163.2 426.0h0.7v0.7h-0.7zM184.3 423.1h0.7v0.7h-0.7zM172.3 421.1h0.7v0.7h-0.7zM165.3 424.1h0.7v0.7h-0.7zM170.0 425.3h0.7v0.7h-0.7zM159.0 422.6h0.7v0.7h-0.7zM166.3 423.7h0.7v0.7h-0.7zM165.5 425.2h0.7v0.7h-0.7zM166.8 427.7h0.7v0.7h-0.7zM168.8 425.6h0.7v0.7h-0.7zM162.1 427.6h0.7v0.7h-0.7zM173.7 425.3h0.7v0.7h-0.7zM165.9 425.8h0.7v0.7h-0.7zM173.7 426.8h0.7v0.7h-0.7zM163.1 426.6h0.7v0.7h-0.7zM166.9 423.6h0.7v0.7h-0.7zM165.1 426.4h0.7v0.7h-0.7zM178.0 424.3h0.7v0.7h-0.7zM163.9 425.2h0.7v0.7h-0.7zM164.4 422.5h0.7v0.7h-0.7zM174.3 423.1h0.7v0.7h-0.7zM164.9 425.1h0.7v0.7h-0.7zM165.6 426.4h0.7v0.7h-0.7zM160.4 422.5h0.7v0.7h-0.7zM168.5 424.8h0.7v0.7h-0.7zM160.0 426.3h0.7v0.7h-0.7zM168.4 421.9h0.7v0.7h-0.7zM168.3 426.0h0.7v0.7h-0.7zM171.2 423.6h0.7v0.7h-0.7zM165.8 424.8h0.7v0.7h-0.7zM170.0 423.5h0.7v0.7h-0.7zM166.3 424.3h0.7v0.7h-0.7zM166.1 423.5h0.7v0.7h-0.7zM169.1 426.8h0.7v0.7h-0.7zM175.0 424.8h0.7v0.7h-0.7zM169.1 425.0h0.7v0.7h-0.7zM169.2 422.9h0.7v0.7h-0.7zM156.7 427.7h0.7v0.7h-0.7zM182.5 423.6h0.7v0.7h-0.7zM172.4 425.5h0.7v0.7h-0.7zM174.8 423.0h0.7v0.7h-0.7zM168.0 428.9h0.7v0.7h-0.7zM180.3 422.9h0.7v0.7h-0.7zM167.3 424.4h0.7v0.7h-0.7zM178.8 426.6h0.7v0.7h-0.7zM162.3 426.0h0.7v0.7h-0.7zM166.3 422.5h0.7v0.7h-0.7zM164.1 426.7h0.7v0.7h-0.7zM154.5 427.9h0.7v0.7h-0.7zM171.2 426.6h0.7v0.7h-0.7zM155.4 426.1h0.7v0.7h-0.7zM161.8 422.1h0.7v0.7h-0.7zM162.3 425.5h0.7v0.7h-0.7zM166.8 430.0h0.7v0.7h-0.7zM173.9 427.7h0.7v0.7h-0.7zM171.2 425.4h0.7v0.7h-0.7zM167.6 429.8h0.7v0.7h-0.7zM165.0 422.8h0.7v0.7h-0.7zM169.8 424.9h0.7v0.7h-0.7zM167.3 422.5h0.7v0.7h-0.7zM162.3 424.7h0.7v0.7h-0.7zM164.7 425.6h0.7v0.7h-0.7zM175.6 425.7h0.7v0.7h-0.7zM169.6 424.3h0.7v0.7h-0.7zM158.7 425.6h0.7v0.7h-0.7zM167.1 423.7h0.7v0.7h-0.7zM162.4 426.4h0.7v0.7h-0.7zM170.5 424.8h0.7v0.7h-0.7zM171.9 422.1h0.7v0.7h-0.7zM166.4 427.6h0.7v0.7h-0.7zM165.0 425.5h0.7v0.7h-0.7zM165.5 425.6h0.7v0.7h-0.7zM161.0 422.2h0.7v0.7h-0.7zM172.4 425.9h0.7v0.7h-0.7zM172.8 423.2h0.7v0.7h-0.7zM168.4 424.7h0.7v0.7h-0.7zM154.3 422.4h0.7v0.7h-0.7zM169.9 428.1h0.7v0.7h-0.7zM164.0 428.1h0.7v0.7h-0.7zM160.7 426.1h0.7v0.7h-0.7zM165.0 422.8h0.7v0.7h-0.7zM172.1 423.7h0.7v0.7h-0.7zM169.8 426.7h0.7v0.7h-0.7zM162.9 423.7h0.7v0.7h-0.7zM166.3 424.8h0.7v0.7h-0.7zM177.7 426.2h0.7v0.7h-0.7zM163.2 425.3h0.7v0.7h-0.7zM165.8 424.8h0.7v0.7h-0.7zM172.6 426.0h0.7v0.7h-0.7zM165.1 426.5h0.7v0.7h-0.7zM172.9 426.0h0.7v0.7h-0.7zM163.5 427.8h0.7v0.7h-0.7zM176.0 423.4h0.7v0.7h-0.7zM172.3 426.4h0.7v0.7h-0.7zM170.1 426.4h0.7v0.7h-0.7zM165.7 424.5h0.7v0.7h-0.7zM185.8 430.5h0.7v0.7h-0.7zM158.8 429.2h0.7v0.7h-0.7zM171.5 425.1h0.7v0.7h-0.7zM172.6 427.6h0.7v0.7h-0.7zM167.8 425.9h0.7v0.7h-0.7zM175.5 423.3h0.7v0.7h-0.7zM158.3 425.9h0.7v0.7h-0.7zM176.3 424.3h0.7v0.7h-0.7zM169.6 424.2h0.7v0.7h-0.7zM166.9 424.8h0.7v0.7h-0.7zM180.0 421.9h0.7v0.7h-0.7zM163.3 422.5h0.7v0.7h-0.7zM169.0 428.9h0.7v0.7h-0.7zM154.6 419.6h0.7v0.7h-0.7zM170.7 424.8h0.7v0.7h-0.7zM166.4 425.1h0.7v0.7h-0.7zM167.0 424.4h0.7v0.7h-0.7zM164.5 425.2h0.7v0.7h-0.7zM163.7 424.2h0.7v0.7h-0.7zM171.0 426.3h0.7v0.7h-0.7zM173.0 427.1h0.7v0.7h-0.7zM168.9 428.5h0.7v0.7h-0.7zM170.2 425.4h0.7v0.7h-0.7zM154.3 427.1h0.7v0.7h-0.7zM169.7 424.7h0.7v0.7h-0.7zM157.5 424.4h0.7v0.7h-0.7zM161.0 424.8h0.7v0.7h-0.7zM168.7 424.8h0.7v0.7h-0.7zM166.1 424.7h0.7v0.7h-0.7zM179.4 423.1h0.7v0.7h-0.7zM170.6 423.3h0.7v0.7h-0.7zM165.1 427.2h0.7v0.7h-0.7zM160.9 424.9h0.7v0.7h-0.7zM160.1 427.7h0.7v0.7h-0.7zM169.1 426.4h0.7v0.7h-0.7zM166.5 427.0h0.7v0.7h-0.7zM159.3 426.1h0.7v0.7h-0.7zM153.9 427.4h0.7v0.7h-0.7zM163.4 424.1h0.7v0.7h-0.7zM175.1 424.9h0.7v0.7h-0.7zM170.4 424.0h0.7v0.7h-0.7zM164.5 426.9h0.7v0.7h-0.7zM163.1 424.0h0.7v0.7h-0.7zM170.5 424.4h0.7v0.7h-0.7zM157.9 424.6h0.7v0.7h-0.7zM176.9 423.6h0.7v0.7h-0.7zM157.9 426.6h0.7v0.7h-0.7zM164.0 423.9h0.7v0.7h-0.7zM179.7 425.2h0.7v0.7h-0.7zM160.3 426.1h0.7v0.7h-0.7zM164.5 430.2h0.7v0.7h-0.7zM169.3 424.4h0.7v0.7h-0.7zM164.1 424.8h0.7v0.7h-0.7zM162.7 426.4h0.7v0.7h-0.7zM179.1 421.4h0.7v0.7h-0.7zM166.9 426.1h0.7v0.7h-0.7zM167.0 427.0h0.7v0.7h-0.7zM173.0 425.2h0.7v0.7h-0.7zM163.2 426.9h0.7v0.7h-0.7zM163.0 423.8h0.7v0.7h-0.7zM165.6 425.4h0.7v0.7h-0.7zM163.7 424.5h0.7v0.7h-0.7zM168.3 427.1h0.7v0.7h-0.7zM162.8 423.3h0.7v0.7h-0.7zM158.9 424.5h0.7v0.7h-0.7zM168.0 426.1h0.7v0.7h-0.7zM164.4 422.6h0.7v0.7h-0.7zM159.5 426.8h0.7v0.7h-0.7zM171.0 426.5h0.7v0.7h-0.7zM172.7 425.1h0.7v0.7h-0.7zM164.0 423.0h0.7v0.7h-0.7zM167.3 424.5h0.7v0.7h-0.7zM160.2 423.8h0.7v0.7h-0.7zM159.1 426.0h0.7v0.7h-0.7zM167.7 427.6h0.7v0.7h-0.7zM167.5 424.5h0.7v0.7h-0.7zM171.5 425.6h0.7v0.7h-0.7zM154.3 424.9h0.7v0.7h-0.7zM158.6 422.4h0.7v0.7h-0.7zM160.5 427.2h0.7v0.7h-0.7zM177.4 424.2h0.7v0.7h-0.7zM170.4 426.5h0.7v0.7h-0.7zM168.9 428.6h0.7v0.7h-0.7zM166.0 423.9h0.7v0.7h-0.7zM158.9 423.3h0.7v0.7h-0.7zM166.6 421.3h0.7v0.7h-0.7zM173.3 421.7h0.7v0.7h-0.7zM158.8 423.9h0.7v0.7h-0.7zM164.2 424.2h0.7v0.7h-0.7zM165.0 428.3h0.7v0.7h-0.7zM164.3 426.3h0.7v0.7h-0.7zM161.0 428.0h0.7v0.7h-0.7zM165.9 425.4h0.7v0.7h-0.7zM159.8 423.3h0.7v0.7h-0.7zM166.9 422.3h0.7v0.7h-0.7zM169.6 425.4h0.7v0.7h-0.7zM148.8 425.3h0.7v0.7h-0.7zM172.5 423.2h0.7v0.7h-0.7zM169.1 428.1h0.7v0.7h-0.7zM166.5 424.8h0.7v0.7h-0.7zM176.5 425.7h0.7v0.7h-0.7zM175.4 423.2h0.7v0.7h-0.7zM166.1 426.0h0.7v0.7h-0.7zM170.4 426.8h0.7v0.7h-0.7zM172.4 424.4h0.7v0.7h-0.7zM165.0 424.4h0.7v0.7h-0.7zM171.4 426.6h0.7v0.7h-0.7zM162.7 425.9h0.7v0.7h-0.7zM165.0 423.9h0.7v0.7h-0.7zM167.6 426.8h0.7v0.7h-0.7zM164.9 423.3h0.7v0.7h-0.7zM178.2 429.6h0.7v0.7h-0.7zM162.0 424.2h0.7v0.7h-0.7zM166.8 425.1h0.7v0.7h-0.7zM165.3 424.6h0.7v0.7h-0.7zM169.1 422.3h0.7v0.7h-0.7zM162.7 427.8h0.7v0.7h-0.7zM165.0 427.1h0.7v0.7h-0.7zM165.1 424.0h0.7v0.7h-0.7zM159.6 425.8h0.7v0.7h-0.7zM168.6 419.5h0.7v0.7h-0.7zM163.5 427.7h0.7v0.7h-0.7zM172.5 426.2h0.7v0.7h-0.7zM161.7 425.6h0.7v0.7h-0.7zM162.0 424.8h0.7v0.7h-0.7zM171.5 427.2h0.7v0.7h-0.7zM157.1 427.0h0.7v0.7h-0.7zM177.9 423.3h0.7v0.7h-0.7zM167.2 426.8h0.7v0.7h-0.7zM166.7 426.7h0.7v0.7h-0.7zM167.5 426.4h0.7v0.7h-0.7zM184.3 427.3h0.7v0.7h-0.7zM166.0 423.6h0.7v0.7h-0.7zM169.5 423.1h0.7v0.7h-0.7zM158.9 423.9h0.7v0.7h-0.7zM168.0 424.2h0.7v0.7h-0.7zM168.1 423.1h0.7v0.7h-0.7zM173.3 425.4h0.7v0.7h-0.7zM166.0 423.3h0.7v0.7h-0.7zM166.1 424.2h0.7v0.7h-0.7zM165.6 422.3h0.7v0.7h-0.7zM170.9 425.2h0.7v0.7h-0.7zM177.0 426.9h0.7v0.7h-0.7zM158.9 423.6h0.7v0.7h-0.7zM169.8 425.6h0.7v0.7h-0.7zM167.9 424.8h0.7v0.7h-0.7zM170.7 427.3h0.7v0.7h-0.7zM159.5 424.9h0.7v0.7h-0.7zM160.0 422.4h0.7v0.7h-0.7zM161.5 426.7h0.7v0.7h-0.7zM175.6 428.0h0.7v0.7h-0.7zM168.5 424.5h0.7v0.7h-0.7zM166.7 425.9h0.7v0.7h-0.7zM164.1 424.8h0.7v0.7h-0.7zM161.8 424.1h0.7v0.7h-0.7zM167.6 425.1h0.7v0.7h-0.7zM169.9 427.4h0.7v0.7h-0.7zM171.3 426.2h0.7v0.7h-0.7zM162.6 426.8h0.7v0.7h-0.7zM179.9 424.4h0.7v0.7h-0.7zM154.1 421.5h0.7v0.7h-0.7zM174.0 426.6h0.7v0.7h-0.7zM167.4 424.7h0.7v0.7h-0.7zM175.6 424.1h0.7v0.7h-0.7zM171.2 424.5h0.7v0.7h-0.7zM171.7 427.4h0.7v0.7h-0.7zM171.3 427.1h0.7v0.7h-0.7zM165.5 426.0h0.7v0.7h-0.7zM171.2 428.7h0.7v0.7h-0.7zM168.5 425.7h0.7v0.7h-0.7zM163.6 425.8h0.7v0.7h-0.7zM157.3 424.5h0.7v0.7h-0.7zM175.2 423.8h0.7v0.7h-0.7zM165.3 426.4h0.7v0.7h-0.7zM162.4 425.6h0.7v0.7h-0.7zM160.9 424.3h0.7v0.7h-0.7zM174.2 422.6h0.7v0.7h-0.7zM155.6 421.9h0.7v0.7h-0.7zM170.8 424.1h0.7v0.7h-0.7zM175.4 421.9h0.7v0.7h-0.7zM168.9 420.8h0.7v0.7h-0.7z" fill="#333" opacity="0.6" clip-path="url(#cD3)"/>
<path d="M165.7 427.8h0.7v0.7h-0.7zM147.5 424.0h0.7v0.7h-0.7zM149.7 419.3h0.7v0.7h-0.7zM135.5 421.7h0.7v0.7h-0.7zM146.1 422.0h0.7v0.7h-0.7zM159.7 418.9h0.7v0.7h-0.7zM154.1 422.2h0.7v0.7h-0.7zM148.1 423.5h0.7v0.7h-0.7zM151.3 426.9h0.7v0.7h-0.7zM141.5 429.3h0.7v0.7h-0.7zM143.4 421.0h0.7v0.7h-0.7zM148.6 428.1h0.7v0.7h-0.7zM152.5 424.5h0.7v0.7h-0.7zM160.3 422.2h0.7v0.7h-0.7zM144.1 430.6h0.7v0.7h-0.7zM158.6 424.2h0.7v0.7h-0.7zM150.6 424.0h0.7v0.7h-0.7zM151.9 425.3h0.7v0.7h-0.7zM142.4 421.8h0.7v0.7h-0.7zM149.2 423.4h0.7v0.7h-0.7zM146.3 424.3h0.7v0.7h-0.7zM149.0 430.6h0.7v0.7h-0.7zM152.1 423.7h0.7v0.7h-0.7zM152.9 421.9h0.7v0.7h-0.7zM143.3 426.2h0.7v0.7h-0.7zM143.7 422.7h0.7v0.7h-0.7zM160.7 430.7h0.7v0.7h-0.7zM156.5 422.3h0.7v0.7h-0.7zM137.9 423.0h0.7v0.7h-0.7zM141.0 423.1h0.7v0.7h-0.7zM146.8 426.6h0.7v0.7h-0.7zM165.4 422.7h0.7v0.7h-0.7zM148.0 420.8h0.7v0.7h-0.7zM160.2 428.4h0.7v0.7h-0.7zM152.3 423.1h0.7v0.7h-0.7zM148.8 426.4h0.7v0.7h-0.7zM134.1 425.6h0.7v0.7h-0.7zM153.7 422.5h0.7v0.7h-0.7zM158.5 423.9h0.7v0.7h-0.7zM153.7 428.2h0.7v0.7h-0.7zM154.4 421.9h0.7v0.7h-0.7zM152.2 427.4h0.7v0.7h-0.7zM146.3 422.3h0.7v0.7h-0.7zM150.6 427.7h0.7v0.7h-0.7zM159.9 429.8h0.7v0.7h-0.7zM153.0 420.3h0.7v0.7h-0.7zM149.6 424.5h0.7v0.7h-0.7zM159.8 427.8h0.7v0.7h-0.7zM141.1 421.4h0.7v0.7h-0.7zM151.0 422.5h0.7v0.7h-0.7zM137.6 420.5h0.7v0.7h-0.7zM159.4 426.8h0.7v0.7h-0.7zM141.9 425.0h0.7v0.7h-0.7zM146.0 423.1h0.7v0.7h-0.7zM157.3 429.4h0.7v0.7h-0.7zM157.5 424.4h0.7v0.7h-0.7zM158.8 421.2h0.7v0.7h-0.7zM136.8 423.5h0.7v0.7h-0.7zM146.3 428.0h0.7v0.7h-0.7zM142.2 425.8h0.7v0.7h-0.7zM152.0 426.7h0.7v0.7h-0.7zM146.2 424.3h0.7v0.7h-0.7zM143.7 425.2h0.7v0.7h-0.7zM144.4 427.1h0.7v0.7h-0.7zM151.7 425.2h0.7v0.7h-0.7zM150.8 425.9h0.7v0.7h-0.7zM155.7 428.9h0.7v0.7h-0.7zM136.7 429.4h0.7v0.7h-0.7zM152.5 428.2h0.7v0.7h-0.7zM157.6 424.3h0.7v0.7h-0.7zM143.8 428.5h0.7v0.7h-0.7zM162.6 424.0h0.7v0.7h-0.7zM138.3 428.3h0.7v0.7h-0.7zM156.3 425.2h0.7v0.7h-0.7zM141.9 431.0h0.7v0.7h-0.7zM147.7 426.2h0.7v0.7h-0.7zM145.6 430.0h0.7v0.7h-0.7zM152.3 429.3h0.7v0.7h-0.7zM156.0 427.5h0.7v0.7h-0.7zM148.5 424.6h0.7v0.7h-0.7zM145.5 424.6h0.7v0.7h-0.7zM140.2 427.3h0.7v0.7h-0.7zM157.6 425.9h0.7v0.7h-0.7zM130.8 423.1h0.7v0.7h-0.7zM135.8 424.5h0.7v0.7h-0.7zM160.4 421.5h0.7v0.7h-0.7zM146.1 425.4h0.7v0.7h-0.7zM149.4 426.9h0.7v0.7h-0.7zM156.8 427.0h0.7v0.7h-0.7zM147.5 421.0h0.7v0.7h-0.7zM150.6 423.6h0.7v0.7h-0.7zM151.2 426.2h0.7v0.7h-0.7zM144.2 425.6h0.7v0.7h-0.7zM149.6 420.6h0.7v0.7h-0.7zM147.5 427.7h0.7v0.7h-0.7zM136.1 425.5h0.7v0.7h-0.7zM158.7 422.4h0.7v0.7h-0.7zM147.5 421.3h0.7v0.7h-0.7zM160.7 426.4h0.7v0.7h-0.7zM151.4 425.6h0.7v0.7h-0.7zM150.6 428.1h0.7v0.7h-0.7zM151.1 421.0h0.7v0.7h-0.7zM153.6 433.6h0.7v0.7h-0.7zM158.5 426.1h0.7v0.7h-0.7zM151.6 424.3h0.7v0.7h-0.7zM146.4 423.8h0.7v0.7h-0.7zM148.5 425.4h0.7v0.7h-0.7zM149.6 421.6h0.7v0.7h-0.7zM146.3 426.3h0.7v0.7h-0.7zM154.8 427.7h0.7v0.7h-0.7zM145.3 427.5h0.7v0.7h-0.7zM150.2 428.9h0.7v0.7h-0.7zM146.2 429.8h0.7v0.7h-0.7zM148.9 426.0h0.7v0.7h-0.7zM150.5 425.9h0.7v0.7h-0.7zM143.5 427.5h0.7v0.7h-0.7zM147.0 429.2h0.7v0.7h-0.7zM149.1 422.3h0.7v0.7h-0.7zM136.7 422.2h0.7v0.7h-0.7zM155.4 425.6h0.7v0.7h-0.7zM157.1 427.9h0.7v0.7h-0.7zM154.3 422.0h0.7v0.7h-0.7zM150.8 422.6h0.7v0.7h-0.7zM159.9 423.9h0.7v0.7h-0.7zM152.2 424.2h0.7v0.7h-0.7zM152.6 430.2h0.7v0.7h-0.7zM152.2 430.3h0.7v0.7h-0.7zM132.0 423.1h0.7v0.7h-0.7zM141.6 426.2h0.7v0.7h-0.7zM142.0 430.8h0.7v0.7h-0.7zM151.1 426.9h0.7v0.7h-0.7zM167.1 423.2h0.7v0.7h-0.7zM148.1 427.2h0.7v0.7h-0.7zM146.0 426.9h0.7v0.7h-0.7zM140.3 426.7h0.7v0.7h-0.7zM141.6 427.0h0.7v0.7h-0.7zM142.6 429.0h0.7v0.7h-0.7zM145.3 427.0h0.7v0.7h-0.7zM142.6 427.2h0.7v0.7h-0.7zM135.3 415.8h0.7v0.7h-0.7zM144.4 428.5h0.7v0.7h-0.7zM155.6 430.2h0.7v0.7h-0.7zM151.3 422.2h0.7v0.7h-0.7zM150.2 427.2h0.7v0.7h-0.7zM145.7 426.8h0.7v0.7h-0.7zM154.7 423.2h0.7v0.7h-0.7zM161.7 422.9h0.7v0.7h-0.7zM147.0 425.3h0.7v0.7h-0.7zM149.0 422.8h0.7v0.7h-0.7zM159.9 425.6h0.7v0.7h-0.7zM146.4 422.7h0.7v0.7h-0.7zM153.3 426.2h0.7v0.7h-0.7zM145.7 426.5h0.7v0.7h-0.7zM163.4 425.6h0.7v0.7h-0.7zM140.1 427.3h0.7v0.7h-0.7zM161.1 425.2h0.7v0.7h-0.7zM145.1 427.3h0.7v0.7h-0.7zM148.0 428.4h0.7v0.7h-0.7zM152.7 426.3h0.7v0.7h-0.7zM147.2 428.1h0.7v0.7h-0.7zM151.4 424.0h0.7v0.7h-0.7zM152.9 423.9h0.7v0.7h-0.7zM159.1 426.0h0.7v0.7h-0.7zM149.4 427.7h0.7v0.7h-0.7zM145.8 424.4h0.7v0.7h-0.7zM155.6 430.2h0.7v0.7h-0.7zM154.6 419.9h0.7v0.7h-0.7zM149.5 428.6h0.7v0.7h-0.7zM144.5 426.2h0.7v0.7h-0.7zM148.2 429.0h0.7v0.7h-0.7zM156.2 428.0h0.7v0.7h-0.7zM134.0 431.1h0.7v0.7h-0.7zM149.0 426.0h0.7v0.7h-0.7zM141.3 423.7h0.7v0.7h-0.7zM157.7 422.8h0.7v0.7h-0.7zM151.4 428.2h0.7v0.7h-0.7zM148.1 430.3h0.7v0.7h-0.7zM143.0 424.6h0.7v0.7h-0.7zM153.6 420.8h0.7v0.7h-0.7zM146.5 426.6h0.7v0.7h-0.7zM152.6 428.3h0.7v0.7h-0.7zM147.6 427.4h0.7v0.7h-0.7zM158.8 426.6h0.7v0.7h-0.7zM141.5 426.7h0.7v0.7h-0.7zM166.1 423.7h0.7v0.7h-0.7zM145.2 427.4h0.7v0.7h-0.7zM148.6 423.1h0.7v0.7h-0.7zM151.4 429.6h0.7v0.7h-0.7zM152.0 429.1h0.7v0.7h-0.7zM149.9 423.2h0.7v0.7h-0.7zM157.2 425.6h0.7v0.7h-0.7zM158.3 428.4h0.7v0.7h-0.7zM152.8 426.1h0.7v0.7h-0.7zM147.9 418.3h0.7v0.7h-0.7zM148.5 424.7h0.7v0.7h-0.7zM147.7 428.0h0.7v0.7h-0.7zM147.6 423.0h0.7v0.7h-0.7zM155.2 422.4h0.7v0.7h-0.7zM156.3 426.7h0.7v0.7h-0.7zM156.0 430.2h0.7v0.7h-0.7zM160.0 427.4h0.7v0.7h-0.7zM149.9 431.9h0.7v0.7h-0.7zM151.6 426.3h0.7v0.7h-0.7zM147.9 424.1h0.7v0.7h-0.7zM158.8 429.7h0.7v0.7h-0.7zM157.8 421.3h0.7v0.7h-0.7zM155.2 421.2h0.7v0.7h-0.7zM139.4 430.0h0.7v0.7h-0.7zM151.8 431.6h0.7v0.7h-0.7zM161.8 421.1h0.7v0.7h-0.7zM138.5 430.8h0.7v0.7h-0.7zM143.6 424.8h0.7v0.7h-0.7zM153.9 429.3h0.7v0.7h-0.7zM155.2 421.9h0.7v0.7h-0.7zM150.5 425.8h0.7v0.7h-0.7zM160.1 424.0h0.7v0.7h-0.7zM158.9 429.2h0.7v0.7h-0.7zM150.0 424.9h0.7v0.7h-0.7zM159.2 430.8h0.7v0.7h-0.7zM142.0 420.1h0.7v0.7h-0.7zM149.5 427.4h0.7v0.7h-0.7zM147.7 420.9h0.7v0.7h-0.7zM144.9 427.7h0.7v0.7h-0.7zM142.8 428.8h0.7v0.7h-0.7zM151.8 425.3h0.7v0.7h-0.7zM135.7 419.6h0.7v0.7h-0.7zM150.1 426.9h0.7v0.7h-0.7zM155.2 430.3h0.7v0.7h-0.7zM150.3 425.3h0.7v0.7h-0.7zM153.1 429.9h0.7v0.7h-0.7zM148.1 430.0h0.7v0.7h-0.7zM157.9 416.1h0.7v0.7h-0.7zM154.1 431.1h0.7v0.7h-0.7zM150.6 429.5h0.7v0.7h-0.7zM150.4 427.0h0.7v0.7h-0.7zM148.6 426.0h0.7v0.7h-0.7zM140.2 422.2h0.7v0.7h-0.7zM143.4 429.1h0.7v0.7h-0.7zM157.4 426.7h0.7v0.7h-0.7zM155.5 422.4h0.7v0.7h-0.7zM146.6 427.5h0.7v0.7h-0.7zM142.9 420.5h0.7v0.7h-0.7zM135.7 430.2h0.7v0.7h-0.7zM149.6 425.8h0.7v0.7h-0.7zM152.2 430.1h0.7v0.7h-0.7zM140.7 422.8h0.7v0.7h-0.7zM147.0 432.1h0.7v0.7h-0.7zM140.1 421.5h0.7v0.7h-0.7zM149.8 423.8h0.7v0.7h-0.7zM158.2 426.2h0.7v0.7h-0.7zM149.6 430.2h0.7v0.7h-0.7zM137.0 421.3h0.7v0.7h-0.7zM157.8 421.2h0.7v0.7h-0.7zM146.5 424.3h0.7v0.7h-0.7zM163.2 426.5h0.7v0.7h-0.7zM152.6 428.7h0.7v0.7h-0.7zM143.6 428.9h0.7v0.7h-0.7zM152.8 418.5h0.7v0.7h-0.7zM142.6 422.1h0.7v0.7h-0.7zM154.8 427.0h0.7v0.7h-0.7zM159.7 427.8h0.7v0.7h-0.7zM138.3 420.2h0.7v0.7h-0.7zM143.1 425.7h0.7v0.7h-0.7zM136.8 421.7h0.7v0.7h-0.7zM150.9 422.0h0.7v0.7h-0.7zM150.1 425.9h0.7v0.7h-0.7zM137.9 427.6h0.7v0.7h-0.7zM157.0 424.9h0.7v0.7h-0.7zM151.7 426.1h0.7v0.7h-0.7zM153.1 420.3h0.7v0.7h-0.7zM149.6 422.9h0.7v0.7h-0.7zM146.0 421.2h0.7v0.7h-0.7zM147.4 421.7h0.7v0.7h-0.7zM160.8 423.4h0.7v0.7h-0.7zM142.7 427.7h0.7v0.7h-0.7zM158.5 424.5h0.7v0.7h-0.7zM153.2 425.4h0.7v0.7h-0.7zM148.3 426.0h0.7v0.7h-0.7zM155.0 426.3h0.7v0.7h-0.7zM150.0 424.3h0.7v0.7h-0.7zM159.0 429.5h0.7v0.7h-0.7zM143.5 426.1h0.7v0.7h-0.7zM156.2 425.1h0.7v0.7h-0.7zM150.3 431.1h0.7v0.7h-0.7zM152.1 422.1h0.7v0.7h-0.7zM146.6 423.1h0.7v0.7h-0.7zM148.4 426.2h0.7v0.7h-0.7zM151.9 424.7h0.7v0.7h-0.7zM140.4 423.1h0.7v0.7h-0.7zM154.8 425.6h0.7v0.7h-0.7zM149.4 425.0h0.7v0.7h-0.7zM161.7 425.2h0.7v0.7h-0.7zM153.3 424.3h0.7v0.7h-0.7zM155.3 422.6h0.7v0.7h-0.7zM153.1 427.4h0.7v0.7h-0.7zM147.8 424.7h0.7v0.7h-0.7zM154.0 432.3h0.7v0.7h-0.7zM160.3 425.4h0.7v0.7h-0.7zM160.9 422.2h0.7v0.7h-0.7zM151.5 429.4h0.7v0.7h-0.7zM148.1 427.3h0.7v0.7h-0.7zM157.2 424.7h0.7v0.7h-0.7zM156.7 418.6h0.7v0.7h-0.7zM149.5 426.6h0.7v0.7h-0.7zM145.1 422.6h0.7v0.7h-0.7zM148.5 426.0h0.7v0.7h-0.7zM150.1 425.8h0.7v0.7h-0.7zM128.3 424.4h0.7v0.7h-0.7zM153.8 426.8h0.7v0.7h-0.7zM155.9 428.6h0.7v0.7h-0.7zM164.6 425.3h0.7v0.7h-0.7zM177.3 427.6h0.7v0.7h-0.7zM150.0 422.0h0.7v0.7h-0.7zM149.8 429.3h0.7v0.7h-0.7zM162.8 427.2h0.7v0.7h-0.7zM144.6 427.9h0.7v0.7h-0.7zM142.6 421.5h0.7v0.7h-0.7zM161.7 423.8h0.7v0.7h-0.7zM160.5 423.3h0.7v0.7h-0.7zM152.0 422.2h0.7v0.7h-0.7zM156.7 430.1h0.7v0.7h-0.7zM150.4 424.6h0.7v0.7h-0.7zM142.4 421.3h0.7v0.7h-0.7zM159.2 424.0h0.7v0.7h-0.7zM142.8 428.1h0.7v0.7h-0.7zM148.6 426.6h0.7v0.7h-0.7zM142.1 426.8h0.7v0.7h-0.7zM138.0 426.0h0.7v0.7h-0.7zM149.6 427.6h0.7v0.7h-0.7zM142.6 425.9h0.7v0.7h-0.7zM177.5 428.9h0.7v0.7h-0.7zM137.4 421.3h0.7v0.7h-0.7zM158.2 424.5h0.7v0.7h-0.7zM149.3 426.6h0.7v0.7h-0.7zM149.8 427.8h0.7v0.7h-0.7zM142.7 427.6h0.7v0.7h-0.7zM160.4 422.4h0.7v0.7h-0.7zM143.7 423.3h0.7v0.7h-0.7zM162.7 421.1h0.7v0.7h-0.7zM147.5 421.6h0.7v0.7h-0.7zM151.8 427.7h0.7v0.7h-0.7zM158.1 422.6h0.7v0.7h-0.7zM143.7 429.7h0.7v0.7h-0.7zM151.5 426.3h0.7v0.7h-0.7zM135.5 424.5h0.7v0.7h-0.7zM130.7 425.3h0.7v0.7h-0.7zM152.1 427.2h0.7v0.7h-0.7zM149.3 428.6h0.7v0.7h-0.7zM158.4 425.2h0.7v0.7h-0.7zM155.2 430.2h0.7v0.7h-0.7z" fill="#111" opacity="0.7" clip-path="url(#cD3)"/>
<g><g fill="#111" filter="url(#b05)"><ellipse cx="145.5" cy="425.7" rx="5.0" ry="4.8"/><ellipse cx="148.08" cy="425.58" rx="4.67" ry="4.57"/><ellipse cx="150.67" cy="425.47" rx="4.33" ry="4.33"/><ellipse cx="153.25" cy="425.35" rx="4.0" ry="4.1"/><ellipse cx="155.83" cy="425.23" rx="3.67" ry="3.87"/><ellipse cx="158.42" cy="425.12" rx="3.33" ry="3.63"/><ellipse cx="161.0" cy="425.0" rx="3.0" ry="3.4"/></g></g>
<rect x="132.7" y="384.4" width="70.20000000000002" height="61.10000000000002" rx="0.8" fill="none" stroke="#888" stroke-width="0.8"/>
<text x="134.89999999999998" y="390.2" font-size="4.8" fill="#222" text-anchor="start" font-weight="normal">Q1</text>
<text x="134.89999999999998" y="395.4" font-size="4.8" fill="#222" text-anchor="start" font-weight="normal">0.11</text>
<text x="198.5" y="390.2" font-size="4.8" fill="#222" text-anchor="end" font-weight="normal">Q2</text>
<text x="198.5" y="395.4" font-size="4.8" fill="#222" text-anchor="end" font-weight="normal">0.026</text>
<text x="134.89999999999998" y="436.9" font-size="4.8" fill="#222" text-anchor="start" font-weight="normal">Q4</text>
<text x="134.89999999999998" y="442.5" font-size="4.8" fill="#222" text-anchor="start" font-weight="normal">91.0</text>
<text x="198.5" y="436.9" font-size="4.8" fill="#222" text-anchor="end" font-weight="normal">Q3</text>
<text x="198.5" y="442.5" font-size="4.8" fill="#222" text-anchor="end" font-weight="normal">8.88</text>
<text x="129.39999999999998" y="392.5" font-size="4.5" fill="#444" text-anchor="end">10<tspan font-size="4.0" dx="0.4" dy="-3.3">5</tspan></text>
<path d="M131.39999999999998,390.6 L133.0,390.6" stroke="#222" stroke-width="0.9"/>
<path d="M131.79999999999998,394.1 L132.89999999999998,394.1" stroke="#555" stroke-width="0.5"/>
<path d="M131.79999999999998,396.6 L132.89999999999998,396.6" stroke="#555" stroke-width="0.5"/>
<path d="M131.79999999999998,398.6 L132.89999999999998,398.6" stroke="#555" stroke-width="0.5"/>
<text x="129.39999999999998" y="407.0" font-size="4.5" fill="#444" text-anchor="end">10<tspan font-size="4.0" dx="0.4" dy="-3.3">4</tspan></text>
<path d="M131.39999999999998,405.1 L133.0,405.1" stroke="#222" stroke-width="0.9"/>
<path d="M131.79999999999998,408.6 L132.89999999999998,408.6" stroke="#555" stroke-width="0.5"/>
<path d="M131.79999999999998,411.1 L132.89999999999998,411.1" stroke="#555" stroke-width="0.5"/>
<path d="M131.79999999999998,413.1 L132.89999999999998,413.1" stroke="#555" stroke-width="0.5"/>
<text x="129.39999999999998" y="421.0" font-size="4.5" fill="#444" text-anchor="end">10<tspan font-size="4.0" dx="0.4" dy="-3.3">3</tspan></text>
<path d="M131.39999999999998,419.1 L133.0,419.1" stroke="#222" stroke-width="0.9"/>
<path d="M131.79999999999998,422.6 L132.89999999999998,422.6" stroke="#555" stroke-width="0.5"/>
<path d="M131.79999999999998,425.1 L132.89999999999998,425.1" stroke="#555" stroke-width="0.5"/>
<path d="M131.79999999999998,427.1 L132.89999999999998,427.1" stroke="#555" stroke-width="0.5"/>
<text x="127.89999999999999" y="438.7" font-size="4.5" fill="#444" text-anchor="end" font-weight="normal">0</text>
<path d="M131.39999999999998,437.0 L133.0,437.0" stroke="#222" stroke-width="0.9"/>
<text x="144.3" y="453.0" font-size="4.5" fill="#444" text-anchor="middle" font-weight="normal">0</text>
<path d="M142.8,445.8 L145.8,445.8" stroke="#111" stroke-width="1.1"/>
<text x="162.2" y="453.0" font-size="4.5" fill="#444" text-anchor="start">10<tspan font-size="4.0" dx="0.4" dy="-3.3">3</tspan></text>
<path d="M164.5,445.2 L164.5,446.7" stroke="#222" stroke-width="0.8"/>
<text x="177.0" y="453.0" font-size="4.5" fill="#444" text-anchor="start">10<tspan font-size="4.0" dx="0.4" dy="-3.3">4</tspan></text>
<path d="M179.3,445.2 L179.3,446.7" stroke="#222" stroke-width="0.8"/>
<text x="193.0" y="453.0" font-size="4.5" fill="#444" text-anchor="start">10<tspan font-size="4.0" dx="0.4" dy="-3.3">5</tspan></text>
<path d="M195.3,445.2 L195.3,446.7" stroke="#222" stroke-width="0.8"/>
<path d="M246.7,384.5 L246.7,446.6 M219,419.2 L290.1,419.2" stroke="#555" stroke-width="0.9"/>
<path d="M266.5 423.3h0.7v0.7h-0.7zM258.9 429.1h0.7v0.7h-0.7zM259.6 424.2h0.7v0.7h-0.7zM255.8 426.3h0.7v0.7h-0.7zM255.0 426.2h0.7v0.7h-0.7zM246.6 426.0h0.7v0.7h-0.7zM255.8 427.9h0.7v0.7h-0.7zM261.0 426.6h0.7v0.7h-0.7zM256.2 425.0h0.7v0.7h-0.7zM253.9 426.4h0.7v0.7h-0.7zM246.0 428.4h0.7v0.7h-0.7zM248.9 429.9h0.7v0.7h-0.7zM262.9 426.4h0.7v0.7h-0.7zM257.0 426.5h0.7v0.7h-0.7zM255.4 422.3h0.7v0.7h-0.7zM253.2 423.9h0.7v0.7h-0.7zM257.9 426.2h0.7v0.7h-0.7zM248.2 427.4h0.7v0.7h-0.7zM261.4 426.2h0.7v0.7h-0.7zM245.0 427.6h0.7v0.7h-0.7zM261.3 427.4h0.7v0.7h-0.7zM267.8 424.8h0.7v0.7h-0.7zM247.8 427.3h0.7v0.7h-0.7zM247.7 426.9h0.7v0.7h-0.7zM253.9 427.9h0.7v0.7h-0.7zM257.6 426.4h0.7v0.7h-0.7zM249.7 424.9h0.7v0.7h-0.7zM258.1 426.8h0.7v0.7h-0.7zM253.7 426.2h0.7v0.7h-0.7zM250.5 428.2h0.7v0.7h-0.7zM250.9 428.1h0.7v0.7h-0.7zM263.7 426.6h0.7v0.7h-0.7zM252.9 427.1h0.7v0.7h-0.7zM247.2 423.4h0.7v0.7h-0.7zM262.4 426.9h0.7v0.7h-0.7zM253.7 428.9h0.7v0.7h-0.7zM256.6 423.5h0.7v0.7h-0.7zM253.6 425.4h0.7v0.7h-0.7zM260.1 425.0h0.7v0.7h-0.7zM253.5 428.0h0.7v0.7h-0.7zM250.2 425.8h0.7v0.7h-0.7zM260.3 427.1h0.7v0.7h-0.7zM257.3 425.9h0.7v0.7h-0.7zM246.9 426.5h0.7v0.7h-0.7zM261.7 423.7h0.7v0.7h-0.7zM253.7 427.5h0.7v0.7h-0.7zM255.7 426.5h0.7v0.7h-0.7zM258.2 429.3h0.7v0.7h-0.7zM250.0 425.3h0.7v0.7h-0.7zM259.5 424.6h0.7v0.7h-0.7zM250.0 430.9h0.7v0.7h-0.7zM261.2 424.0h0.7v0.7h-0.7zM254.8 427.9h0.7v0.7h-0.7zM261.9 428.0h0.7v0.7h-0.7zM248.9 425.2h0.7v0.7h-0.7zM260.0 426.5h0.7v0.7h-0.7zM249.4 427.4h0.7v0.7h-0.7zM256.3 424.5h0.7v0.7h-0.7zM250.4 426.8h0.7v0.7h-0.7zM258.9 426.7h0.7v0.7h-0.7zM249.9 422.3h0.7v0.7h-0.7zM249.2 423.7h0.7v0.7h-0.7zM253.4 424.2h0.7v0.7h-0.7zM256.2 423.5h0.7v0.7h-0.7zM255.6 429.0h0.7v0.7h-0.7zM252.9 424.3h0.7v0.7h-0.7zM255.5 430.2h0.7v0.7h-0.7zM251.5 423.8h0.7v0.7h-0.7zM261.6 426.3h0.7v0.7h-0.7zM245.5 424.9h0.7v0.7h-0.7zM260.8 423.6h0.7v0.7h-0.7zM249.2 428.8h0.7v0.7h-0.7zM251.1 423.6h0.7v0.7h-0.7zM253.4 428.5h0.7v0.7h-0.7zM243.7 428.5h0.7v0.7h-0.7zM255.5 427.2h0.7v0.7h-0.7zM257.9 426.1h0.7v0.7h-0.7zM242.4 426.2h0.7v0.7h-0.7zM257.9 430.6h0.7v0.7h-0.7zM250.6 424.1h0.7v0.7h-0.7zM259.2 423.9h0.7v0.7h-0.7zM251.8 424.9h0.7v0.7h-0.7zM249.9 425.5h0.7v0.7h-0.7zM253.3 423.1h0.7v0.7h-0.7zM249.1 427.4h0.7v0.7h-0.7zM253.8 424.3h0.7v0.7h-0.7zM250.6 427.9h0.7v0.7h-0.7zM256.5 421.7h0.7v0.7h-0.7zM260.0 428.0h0.7v0.7h-0.7zM251.5 427.3h0.7v0.7h-0.7zM256.6 431.1h0.7v0.7h-0.7zM251.8 420.3h0.7v0.7h-0.7zM254.9 426.5h0.7v0.7h-0.7zM237.6 425.9h0.7v0.7h-0.7zM258.0 426.8h0.7v0.7h-0.7zM252.6 425.2h0.7v0.7h-0.7zM251.5 427.6h0.7v0.7h-0.7zM260.2 426.3h0.7v0.7h-0.7zM249.5 426.0h0.7v0.7h-0.7zM247.2 426.1h0.7v0.7h-0.7zM259.8 425.9h0.7v0.7h-0.7zM258.7 422.7h0.7v0.7h-0.7zM268.2 427.1h0.7v0.7h-0.7zM249.4 426.0h0.7v0.7h-0.7zM246.7 426.3h0.7v0.7h-0.7zM248.8 429.1h0.7v0.7h-0.7zM258.8 427.3h0.7v0.7h-0.7zM251.2 424.5h0.7v0.7h-0.7zM249.1 429.0h0.7v0.7h-0.7zM246.1 426.7h0.7v0.7h-0.7zM251.5 426.3h0.7v0.7h-0.7zM257.2 428.0h0.7v0.7h-0.7zM258.9 426.6h0.7v0.7h-0.7zM249.4 424.4h0.7v0.7h-0.7zM250.7 427.1h0.7v0.7h-0.7zM259.1 426.8h0.7v0.7h-0.7zM259.4 426.5h0.7v0.7h-0.7zM248.7 424.6h0.7v0.7h-0.7zM262.1 427.1h0.7v0.7h-0.7zM255.3 425.8h0.7v0.7h-0.7zM256.7 426.8h0.7v0.7h-0.7zM250.8 426.3h0.7v0.7h-0.7zM250.7 425.0h0.7v0.7h-0.7zM254.7 424.2h0.7v0.7h-0.7zM258.4 425.6h0.7v0.7h-0.7zM259.6 424.3h0.7v0.7h-0.7zM248.7 430.1h0.7v0.7h-0.7zM262.9 426.9h0.7v0.7h-0.7zM263.1 427.4h0.7v0.7h-0.7zM256.8 427.0h0.7v0.7h-0.7zM263.4 428.4h0.7v0.7h-0.7zM246.9 426.6h0.7v0.7h-0.7zM243.9 425.6h0.7v0.7h-0.7zM252.7 427.8h0.7v0.7h-0.7zM259.3 425.6h0.7v0.7h-0.7zM254.2 428.7h0.7v0.7h-0.7zM254.3 425.2h0.7v0.7h-0.7zM252.7 429.3h0.7v0.7h-0.7zM254.7 426.7h0.7v0.7h-0.7zM254.1 427.3h0.7v0.7h-0.7zM253.6 428.7h0.7v0.7h-0.7zM262.6 427.0h0.7v0.7h-0.7zM244.9 428.8h0.7v0.7h-0.7zM255.4 426.5h0.7v0.7h-0.7zM241.0 427.6h0.7v0.7h-0.7zM256.6 420.3h0.7v0.7h-0.7zM257.7 431.5h0.7v0.7h-0.7zM263.5 427.1h0.7v0.7h-0.7zM252.9 425.1h0.7v0.7h-0.7zM263.9 427.7h0.7v0.7h-0.7zM250.4 423.7h0.7v0.7h-0.7zM257.9 425.6h0.7v0.7h-0.7zM265.9 428.3h0.7v0.7h-0.7zM255.2 427.6h0.7v0.7h-0.7zM256.5 424.5h0.7v0.7h-0.7zM257.4 428.6h0.7v0.7h-0.7zM251.0 425.5h0.7v0.7h-0.7zM256.6 426.0h0.7v0.7h-0.7zM261.7 428.0h0.7v0.7h-0.7zM260.6 426.9h0.7v0.7h-0.7zM253.6 429.1h0.7v0.7h-0.7zM257.2 427.3h0.7v0.7h-0.7zM262.6 424.9h0.7v0.7h-0.7zM244.8 425.7h0.7v0.7h-0.7zM256.3 428.4h0.7v0.7h-0.7zM252.9 425.5h0.7v0.7h-0.7zM250.6 426.2h0.7v0.7h-0.7zM251.6 429.0h0.7v0.7h-0.7zM269.5 426.1h0.7v0.7h-0.7zM254.6 425.8h0.7v0.7h-0.7zM255.9 424.9h0.7v0.7h-0.7zM253.4 425.0h0.7v0.7h-0.7zM253.4 425.1h0.7v0.7h-0.7zM258.7 424.2h0.7v0.7h-0.7zM262.7 426.6h0.7v0.7h-0.7zM246.9 423.6h0.7v0.7h-0.7zM249.5 423.3h0.7v0.7h-0.7zM253.9 430.5h0.7v0.7h-0.7zM253.3 427.7h0.7v0.7h-0.7zM255.3 426.0h0.7v0.7h-0.7zM265.1 427.3h0.7v0.7h-0.7zM246.5 426.5h0.7v0.7h-0.7zM246.7 425.9h0.7v0.7h-0.7zM255.1 428.9h0.7v0.7h-0.7zM255.4 424.9h0.7v0.7h-0.7zM255.3 427.2h0.7v0.7h-0.7zM250.0 426.1h0.7v0.7h-0.7zM261.1 431.4h0.7v0.7h-0.7zM257.0 424.9h0.7v0.7h-0.7zM259.5 425.0h0.7v0.7h-0.7zM249.8 426.0h0.7v0.7h-0.7zM243.9 433.6h0.7v0.7h-0.7zM256.2 426.4h0.7v0.7h-0.7zM258.2 424.0h0.7v0.7h-0.7zM238.1 427.4h0.7v0.7h-0.7zM258.4 426.2h0.7v0.7h-0.7zM249.7 427.0h0.7v0.7h-0.7zM250.5 428.8h0.7v0.7h-0.7zM253.8 427.8h0.7v0.7h-0.7zM243.6 424.7h0.7v0.7h-0.7zM249.6 427.1h0.7v0.7h-0.7zM248.5 425.0h0.7v0.7h-0.7zM246.4 425.7h0.7v0.7h-0.7zM244.0 424.0h0.7v0.7h-0.7zM257.1 427.7h0.7v0.7h-0.7zM264.1 428.6h0.7v0.7h-0.7zM262.2 427.5h0.7v0.7h-0.7zM249.8 424.6h0.7v0.7h-0.7zM258.8 428.3h0.7v0.7h-0.7zM248.6 428.4h0.7v0.7h-0.7zM254.8 427.2h0.7v0.7h-0.7zM248.5 422.2h0.7v0.7h-0.7zM246.1 425.7h0.7v0.7h-0.7zM258.6 425.8h0.7v0.7h-0.7zM261.6 423.9h0.7v0.7h-0.7zM264.1 426.9h0.7v0.7h-0.7zM250.7 425.4h0.7v0.7h-0.7zM259.8 424.3h0.7v0.7h-0.7zM246.7 426.3h0.7v0.7h-0.7zM257.8 425.9h0.7v0.7h-0.7zM252.5 428.6h0.7v0.7h-0.7zM254.0 426.3h0.7v0.7h-0.7zM264.6 429.6h0.7v0.7h-0.7zM248.6 424.3h0.7v0.7h-0.7zM247.2 427.5h0.7v0.7h-0.7zM257.7 425.7h0.7v0.7h-0.7zM253.1 424.8h0.7v0.7h-0.7zM255.6 428.2h0.7v0.7h-0.7zM245.8 425.0h0.7v0.7h-0.7zM258.7 426.9h0.7v0.7h-0.7zM252.5 426.0h0.7v0.7h-0.7zM238.2 423.9h0.7v0.7h-0.7zM252.0 425.8h0.7v0.7h-0.7zM249.2 425.8h0.7v0.7h-0.7zM253.8 423.9h0.7v0.7h-0.7zM253.9 426.3h0.7v0.7h-0.7zM253.9 426.9h0.7v0.7h-0.7zM258.4 430.4h0.7v0.7h-0.7zM240.1 430.4h0.7v0.7h-0.7zM254.7 427.7h0.7v0.7h-0.7zM252.3 426.9h0.7v0.7h-0.7zM251.6 426.2h0.7v0.7h-0.7zM266.4 427.2h0.7v0.7h-0.7zM248.1 428.7h0.7v0.7h-0.7zM252.7 424.2h0.7v0.7h-0.7zM246.0 427.9h0.7v0.7h-0.7zM254.1 427.7h0.7v0.7h-0.7zM244.7 423.6h0.7v0.7h-0.7zM252.9 427.5h0.7v0.7h-0.7zM251.4 428.9h0.7v0.7h-0.7zM253.2 424.3h0.7v0.7h-0.7zM257.3 427.6h0.7v0.7h-0.7zM256.6 426.9h0.7v0.7h-0.7zM245.4 427.3h0.7v0.7h-0.7zM252.1 423.3h0.7v0.7h-0.7zM254.0 426.1h0.7v0.7h-0.7zM249.9 427.5h0.7v0.7h-0.7zM249.9 424.3h0.7v0.7h-0.7zM261.9 427.0h0.7v0.7h-0.7zM260.5 428.5h0.7v0.7h-0.7z" fill="#333" opacity="0.55" clip-path="url(#cD4)"/>
<path d="M237.9 432.2h0.7v0.7h-0.7zM224.6 425.7h0.7v0.7h-0.7zM247.1 421.6h0.7v0.7h-0.7zM225.4 424.6h0.7v0.7h-0.7zM232.7 424.0h0.7v0.7h-0.7zM234.5 424.3h0.7v0.7h-0.7zM237.5 426.0h0.7v0.7h-0.7zM239.8 425.7h0.7v0.7h-0.7zM233.8 427.7h0.7v0.7h-0.7zM229.7 425.5h0.7v0.7h-0.7zM238.8 424.8h0.7v0.7h-0.7zM241.2 425.5h0.7v0.7h-0.7zM235.6 427.7h0.7v0.7h-0.7zM236.9 426.7h0.7v0.7h-0.7zM225.3 426.6h0.7v0.7h-0.7zM250.1 419.5h0.7v0.7h-0.7zM232.7 424.4h0.7v0.7h-0.7zM238.3 422.9h0.7v0.7h-0.7zM234.2 425.0h0.7v0.7h-0.7zM227.3 426.6h0.7v0.7h-0.7zM243.3 427.1h0.7v0.7h-0.7zM235.5 425.7h0.7v0.7h-0.7zM233.1 420.4h0.7v0.7h-0.7zM236.0 429.4h0.7v0.7h-0.7zM225.1 419.1h0.7v0.7h-0.7zM237.2 433.4h0.7v0.7h-0.7zM244.1 428.0h0.7v0.7h-0.7zM230.0 434.0h0.7v0.7h-0.7zM236.0 423.3h0.7v0.7h-0.7zM229.8 431.7h0.7v0.7h-0.7zM235.8 430.3h0.7v0.7h-0.7zM229.9 428.5h0.7v0.7h-0.7zM231.6 430.6h0.7v0.7h-0.7zM226.6 430.7h0.7v0.7h-0.7zM230.9 425.4h0.7v0.7h-0.7zM229.0 432.5h0.7v0.7h-0.7zM235.5 426.6h0.7v0.7h-0.7zM231.7 424.9h0.7v0.7h-0.7zM235.7 426.1h0.7v0.7h-0.7zM234.6 427.7h0.7v0.7h-0.7zM242.1 429.1h0.7v0.7h-0.7zM237.0 427.0h0.7v0.7h-0.7zM230.8 429.9h0.7v0.7h-0.7zM228.7 424.3h0.7v0.7h-0.7zM243.7 418.9h0.7v0.7h-0.7zM234.0 426.9h0.7v0.7h-0.7zM238.1 430.4h0.7v0.7h-0.7zM237.5 438.9h0.7v0.7h-0.7zM231.9 423.9h0.7v0.7h-0.7zM231.0 428.3h0.7v0.7h-0.7zM243.7 428.5h0.7v0.7h-0.7zM235.2 429.3h0.7v0.7h-0.7zM240.3 432.2h0.7v0.7h-0.7zM226.5 427.3h0.7v0.7h-0.7zM242.7 427.6h0.7v0.7h-0.7zM229.2 429.5h0.7v0.7h-0.7zM233.2 427.7h0.7v0.7h-0.7zM249.2 424.9h0.7v0.7h-0.7zM233.6 429.1h0.7v0.7h-0.7zM231.6 428.5h0.7v0.7h-0.7zM230.5 428.4h0.7v0.7h-0.7zM224.2 434.6h0.7v0.7h-0.7zM242.3 427.3h0.7v0.7h-0.7zM246.7 428.0h0.7v0.7h-0.7zM236.2 423.5h0.7v0.7h-0.7zM237.3 424.5h0.7v0.7h-0.7zM231.6 415.5h0.7v0.7h-0.7zM237.9 428.6h0.7v0.7h-0.7zM240.0 421.9h0.7v0.7h-0.7zM235.9 419.7h0.7v0.7h-0.7zM240.7 424.7h0.7v0.7h-0.7zM230.9 423.0h0.7v0.7h-0.7zM231.2 429.4h0.7v0.7h-0.7zM230.6 421.9h0.7v0.7h-0.7zM242.4 420.2h0.7v0.7h-0.7zM234.1 426.7h0.7v0.7h-0.7zM234.0 429.8h0.7v0.7h-0.7zM233.3 427.4h0.7v0.7h-0.7zM234.7 433.4h0.7v0.7h-0.7zM238.6 431.8h0.7v0.7h-0.7zM239.2 423.6h0.7v0.7h-0.7zM235.1 427.7h0.7v0.7h-0.7zM234.1 420.1h0.7v0.7h-0.7zM236.4 424.6h0.7v0.7h-0.7zM238.1 425.3h0.7v0.7h-0.7zM238.6 422.4h0.7v0.7h-0.7zM229.6 425.9h0.7v0.7h-0.7zM239.7 423.9h0.7v0.7h-0.7zM232.0 422.6h0.7v0.7h-0.7zM221.4 429.3h0.7v0.7h-0.7zM232.9 419.9h0.7v0.7h-0.7zM238.3 427.2h0.7v0.7h-0.7zM247.7 429.3h0.7v0.7h-0.7zM241.7 428.2h0.7v0.7h-0.7zM246.4 427.7h0.7v0.7h-0.7zM240.4 427.6h0.7v0.7h-0.7zM232.5 421.0h0.7v0.7h-0.7zM243.1 429.3h0.7v0.7h-0.7zM245.8 423.3h0.7v0.7h-0.7zM221.1 429.6h0.7v0.7h-0.7zM222.0 425.2h0.7v0.7h-0.7zM229.7 423.4h0.7v0.7h-0.7zM224.7 423.3h0.7v0.7h-0.7zM227.1 426.6h0.7v0.7h-0.7zM231.2 427.3h0.7v0.7h-0.7zM225.6 435.6h0.7v0.7h-0.7zM245.1 428.2h0.7v0.7h-0.7zM239.6 432.3h0.7v0.7h-0.7zM230.0 426.7h0.7v0.7h-0.7zM246.7 417.0h0.7v0.7h-0.7zM239.4 428.3h0.7v0.7h-0.7zM233.9 429.1h0.7v0.7h-0.7zM238.3 424.6h0.7v0.7h-0.7zM239.0 425.7h0.7v0.7h-0.7zM241.7 428.5h0.7v0.7h-0.7zM232.1 434.6h0.7v0.7h-0.7zM234.0 428.1h0.7v0.7h-0.7zM234.5 431.3h0.7v0.7h-0.7zM231.6 423.6h0.7v0.7h-0.7zM239.0 420.4h0.7v0.7h-0.7zM235.3 429.4h0.7v0.7h-0.7zM245.9 420.7h0.7v0.7h-0.7zM227.2 423.8h0.7v0.7h-0.7zM239.0 430.1h0.7v0.7h-0.7zM233.0 431.6h0.7v0.7h-0.7zM232.3 428.5h0.7v0.7h-0.7zM234.4 433.7h0.7v0.7h-0.7zM244.1 431.3h0.7v0.7h-0.7zM232.8 420.3h0.7v0.7h-0.7zM233.5 424.6h0.7v0.7h-0.7zM231.8 423.8h0.7v0.7h-0.7zM233.6 428.6h0.7v0.7h-0.7zM243.2 430.9h0.7v0.7h-0.7zM245.1 418.3h0.7v0.7h-0.7zM239.9 436.6h0.7v0.7h-0.7zM242.4 430.1h0.7v0.7h-0.7zM241.5 426.2h0.7v0.7h-0.7zM234.5 424.7h0.7v0.7h-0.7zM233.2 425.7h0.7v0.7h-0.7zM232.1 432.9h0.7v0.7h-0.7zM239.8 430.6h0.7v0.7h-0.7zM246.1 427.9h0.7v0.7h-0.7zM242.0 424.0h0.7v0.7h-0.7zM238.4 429.6h0.7v0.7h-0.7zM229.1 429.7h0.7v0.7h-0.7zM236.5 424.8h0.7v0.7h-0.7zM244.3 427.3h0.7v0.7h-0.7zM235.8 430.3h0.7v0.7h-0.7zM232.8 421.1h0.7v0.7h-0.7zM241.2 431.2h0.7v0.7h-0.7zM232.9 427.9h0.7v0.7h-0.7zM236.4 427.9h0.7v0.7h-0.7zM242.4 427.4h0.7v0.7h-0.7zM240.5 430.3h0.7v0.7h-0.7zM234.4 428.3h0.7v0.7h-0.7zM234.0 426.3h0.7v0.7h-0.7zM243.9 423.7h0.7v0.7h-0.7zM240.7 426.2h0.7v0.7h-0.7zM233.5 427.5h0.7v0.7h-0.7zM232.9 420.4h0.7v0.7h-0.7zM242.6 429.9h0.7v0.7h-0.7zM233.6 421.8h0.7v0.7h-0.7zM230.5 433.9h0.7v0.7h-0.7zM230.7 424.1h0.7v0.7h-0.7zM247.8 418.6h0.7v0.7h-0.7zM229.5 422.9h0.7v0.7h-0.7zM232.8 418.3h0.7v0.7h-0.7zM237.1 421.5h0.7v0.7h-0.7zM228.2 428.1h0.7v0.7h-0.7zM230.6 428.5h0.7v0.7h-0.7zM231.5 433.4h0.7v0.7h-0.7zM229.2 428.0h0.7v0.7h-0.7zM229.6 432.5h0.7v0.7h-0.7zM225.3 425.5h0.7v0.7h-0.7zM237.0 425.2h0.7v0.7h-0.7zM235.2 424.8h0.7v0.7h-0.7zM233.1 428.0h0.7v0.7h-0.7zM247.4 428.8h0.7v0.7h-0.7zM238.9 424.3h0.7v0.7h-0.7zM231.0 427.2h0.7v0.7h-0.7zM232.2 433.5h0.7v0.7h-0.7zM236.2 433.3h0.7v0.7h-0.7zM234.9 431.6h0.7v0.7h-0.7zM227.4 434.0h0.7v0.7h-0.7zM228.9 427.8h0.7v0.7h-0.7zM235.3 426.3h0.7v0.7h-0.7zM241.0 423.2h0.7v0.7h-0.7zM239.2 420.5h0.7v0.7h-0.7zM227.6 430.0h0.7v0.7h-0.7zM244.2 422.7h0.7v0.7h-0.7zM239.6 425.5h0.7v0.7h-0.7zM245.8 428.4h0.7v0.7h-0.7zM247.0 425.3h0.7v0.7h-0.7zM247.5 424.4h0.7v0.7h-0.7zM246.6 429.8h0.7v0.7h-0.7zM227.6 431.3h0.7v0.7h-0.7zM237.6 430.5h0.7v0.7h-0.7zM231.1 425.3h0.7v0.7h-0.7zM228.8 433.5h0.7v0.7h-0.7zM236.1 417.2h0.7v0.7h-0.7zM241.0 427.6h0.7v0.7h-0.7zM252.2 425.8h0.7v0.7h-0.7zM239.3 425.3h0.7v0.7h-0.7zM218.0 430.9h0.7v0.7h-0.7zM233.2 429.9h0.7v0.7h-0.7zM236.7 417.6h0.7v0.7h-0.7zM235.6 430.6h0.7v0.7h-0.7zM242.2 430.9h0.7v0.7h-0.7zM233.2 421.8h0.7v0.7h-0.7zM238.7 422.5h0.7v0.7h-0.7zM244.3 426.1h0.7v0.7h-0.7zM240.9 428.3h0.7v0.7h-0.7zM241.5 428.6h0.7v0.7h-0.7zM238.9 427.7h0.7v0.7h-0.7zM231.6 420.2h0.7v0.7h-0.7zM226.4 431.7h0.7v0.7h-0.7zM232.1 428.6h0.7v0.7h-0.7zM225.0 425.3h0.7v0.7h-0.7zM249.6 435.1h0.7v0.7h-0.7zM240.4 427.9h0.7v0.7h-0.7zM240.6 435.5h0.7v0.7h-0.7zM229.2 427.1h0.7v0.7h-0.7zM233.5 414.9h0.7v0.7h-0.7zM237.0 431.2h0.7v0.7h-0.7zM232.9 422.4h0.7v0.7h-0.7zM244.6 424.5h0.7v0.7h-0.7zM234.9 424.9h0.7v0.7h-0.7zM234.8 427.7h0.7v0.7h-0.7zM241.7 428.6h0.7v0.7h-0.7zM249.3 422.2h0.7v0.7h-0.7zM238.0 426.1h0.7v0.7h-0.7zM250.4 420.2h0.7v0.7h-0.7zM235.9 430.9h0.7v0.7h-0.7zM231.6 427.1h0.7v0.7h-0.7zM237.2 428.8h0.7v0.7h-0.7zM237.6 422.2h0.7v0.7h-0.7zM241.3 417.0h0.7v0.7h-0.7zM230.6 423.3h0.7v0.7h-0.7zM235.3 427.6h0.7v0.7h-0.7zM257.1 433.1h0.7v0.7h-0.7zM236.0 428.1h0.7v0.7h-0.7zM244.9 429.3h0.7v0.7h-0.7zM235.4 418.8h0.7v0.7h-0.7zM223.6 429.0h0.7v0.7h-0.7zM243.1 426.5h0.7v0.7h-0.7zM251.7 428.2h0.7v0.7h-0.7zM229.2 428.9h0.7v0.7h-0.7zM229.8 432.0h0.7v0.7h-0.7zM234.1 425.2h0.7v0.7h-0.7zM236.0 433.0h0.7v0.7h-0.7zM227.6 432.2h0.7v0.7h-0.7zM246.1 430.5h0.7v0.7h-0.7zM236.3 431.0h0.7v0.7h-0.7zM233.2 423.6h0.7v0.7h-0.7zM243.5 420.7h0.7v0.7h-0.7zM238.7 424.8h0.7v0.7h-0.7zM234.2 426.9h0.7v0.7h-0.7zM233.1 432.3h0.7v0.7h-0.7zM231.8 422.3h0.7v0.7h-0.7zM228.1 427.1h0.7v0.7h-0.7zM237.3 426.7h0.7v0.7h-0.7zM237.1 422.2h0.7v0.7h-0.7zM238.4 430.4h0.7v0.7h-0.7zM227.3 425.8h0.7v0.7h-0.7zM236.2 425.5h0.7v0.7h-0.7zM231.3 424.2h0.7v0.7h-0.7zM229.9 433.6h0.7v0.7h-0.7zM228.6 422.5h0.7v0.7h-0.7zM227.0 427.6h0.7v0.7h-0.7zM230.1 429.4h0.7v0.7h-0.7zM236.8 428.4h0.7v0.7h-0.7zM240.7 426.8h0.7v0.7h-0.7zM233.7 427.2h0.7v0.7h-0.7zM242.0 423.2h0.7v0.7h-0.7zM234.6 433.7h0.7v0.7h-0.7zM238.4 432.2h0.7v0.7h-0.7zM240.3 419.8h0.7v0.7h-0.7zM233.8 421.5h0.7v0.7h-0.7zM237.7 426.4h0.7v0.7h-0.7zM240.6 427.9h0.7v0.7h-0.7zM233.9 431.6h0.7v0.7h-0.7zM228.2 419.8h0.7v0.7h-0.7zM241.7 428.6h0.7v0.7h-0.7zM240.2 423.0h0.7v0.7h-0.7zM240.3 429.6h0.7v0.7h-0.7zM236.4 427.0h0.7v0.7h-0.7zM235.1 428.7h0.7v0.7h-0.7zM227.8 432.4h0.7v0.7h-0.7zM230.5 422.6h0.7v0.7h-0.7zM243.6 426.6h0.7v0.7h-0.7zM226.6 427.6h0.7v0.7h-0.7zM232.8 428.5h0.7v0.7h-0.7zM228.9 426.5h0.7v0.7h-0.7zM233.6 433.7h0.7v0.7h-0.7zM230.1 431.1h0.7v0.7h-0.7zM241.8 428.4h0.7v0.7h-0.7zM234.4 429.0h0.7v0.7h-0.7zM231.3 431.2h0.7v0.7h-0.7zM225.8 432.6h0.7v0.7h-0.7zM233.7 424.4h0.7v0.7h-0.7zM237.8 433.9h0.7v0.7h-0.7zM235.8 435.3h0.7v0.7h-0.7zM235.5 428.4h0.7v0.7h-0.7zM228.0 426.8h0.7v0.7h-0.7zM235.6 424.4h0.7v0.7h-0.7zM227.8 424.6h0.7v0.7h-0.7zM238.2 429.7h0.7v0.7h-0.7zM246.9 418.4h0.7v0.7h-0.7zM246.9 430.6h0.7v0.7h-0.7zM235.9 432.2h0.7v0.7h-0.7zM238.0 420.1h0.7v0.7h-0.7zM240.4 421.1h0.7v0.7h-0.7zM240.5 421.5h0.7v0.7h-0.7zM226.0 430.7h0.7v0.7h-0.7zM233.1 424.1h0.7v0.7h-0.7zM247.0 426.9h0.7v0.7h-0.7zM245.6 425.8h0.7v0.7h-0.7zM235.5 418.4h0.7v0.7h-0.7zM243.7 424.9h0.7v0.7h-0.7zM242.1 424.0h0.7v0.7h-0.7zM224.7 428.1h0.7v0.7h-0.7zM242.5 417.3h0.7v0.7h-0.7zM228.9 431.9h0.7v0.7h-0.7zM245.7 425.2h0.7v0.7h-0.7zM237.7 429.2h0.7v0.7h-0.7zM238.6 422.1h0.7v0.7h-0.7zM242.6 433.8h0.7v0.7h-0.7zM237.0 427.4h0.7v0.7h-0.7zM232.4 429.0h0.7v0.7h-0.7zM240.1 424.4h0.7v0.7h-0.7zM226.0 420.8h0.7v0.7h-0.7zM239.3 427.4h0.7v0.7h-0.7zM233.9 417.9h0.7v0.7h-0.7zM227.1 433.6h0.7v0.7h-0.7zM230.1 422.6h0.7v0.7h-0.7zM242.1 432.0h0.7v0.7h-0.7zM232.9 427.4h0.7v0.7h-0.7zM238.8 428.8h0.7v0.7h-0.7zM233.2 426.8h0.7v0.7h-0.7zM239.5 433.1h0.7v0.7h-0.7zM238.6 419.3h0.7v0.7h-0.7zM230.2 422.8h0.7v0.7h-0.7zM240.6 432.9h0.7v0.7h-0.7zM239.0 421.7h0.7v0.7h-0.7zM234.0 426.3h0.7v0.7h-0.7zM241.2 427.5h0.7v0.7h-0.7zM240.6 424.8h0.7v0.7h-0.7zM247.6 421.5h0.7v0.7h-0.7zM235.3 431.1h0.7v0.7h-0.7zM240.9 421.9h0.7v0.7h-0.7z" fill="#111" opacity="0.7" clip-path="url(#cD4)"/>
<g><g fill="#111" filter="url(#b05)"><ellipse cx="233.8" cy="426.7" rx="6.8" ry="6.2"/><ellipse cx="238.5" cy="426.5" rx="6.2" ry="5.4"/><ellipse cx="240.53" cy="426.43" rx="5.1" ry="4.55"/><ellipse cx="242.55" cy="426.35" rx="4.0" ry="3.7"/><ellipse cx="244.57" cy="426.27" rx="2.9" ry="2.85"/><ellipse cx="246.6" cy="426.2" rx="1.8" ry="2.0"/></g></g>
<rect x="219" y="384.5" width="71.10000000000002" height="62.10000000000002" rx="0.8" fill="none" stroke="#888" stroke-width="0.8"/>
<text x="221.2" y="390.3" font-size="4.8" fill="#222" text-anchor="start" font-weight="normal">Q1</text>
<text x="221.2" y="395.5" font-size="4.8" fill="#222" text-anchor="start" font-weight="normal">0.035</text>
<text x="285.70000000000005" y="390.3" font-size="4.8" fill="#222" text-anchor="end" font-weight="normal">Q2</text>
<text x="285.70000000000005" y="395.5" font-size="4.8" fill="#222" text-anchor="end" font-weight="normal">3.15E-3</text>
<text x="221.2" y="438.0" font-size="4.8" fill="#222" text-anchor="start" font-weight="normal">Q4</text>
<text x="221.2" y="443.6" font-size="4.8" fill="#222" text-anchor="start" font-weight="normal">99.1</text>
<text x="285.70000000000005" y="438.0" font-size="4.8" fill="#222" text-anchor="end" font-weight="normal">Q3</text>
<text x="285.70000000000005" y="443.6" font-size="4.8" fill="#222" text-anchor="end" font-weight="normal">0.87</text>
<text x="215.7" y="393.5" font-size="4.5" fill="#444" text-anchor="end">10<tspan font-size="4.0" dx="0.4" dy="-3.3">5</tspan></text>
<path d="M217.7,391.6 L219.3,391.6" stroke="#222" stroke-width="0.9"/>
<path d="M218.1,395.1 L219.2,395.1" stroke="#555" stroke-width="0.5"/>
<path d="M218.1,397.6 L219.2,397.6" stroke="#555" stroke-width="0.5"/>
<path d="M218.1,399.6 L219.2,399.6" stroke="#555" stroke-width="0.5"/>
<text x="215.7" y="407.3" font-size="4.5" fill="#444" text-anchor="end">10<tspan font-size="4.0" dx="0.4" dy="-3.3">4</tspan></text>
<path d="M217.7,405.40000000000003 L219.3,405.40000000000003" stroke="#222" stroke-width="0.9"/>
<path d="M218.1,408.9 L219.2,408.9" stroke="#555" stroke-width="0.5"/>
<path d="M218.1,411.4 L219.2,411.4" stroke="#555" stroke-width="0.5"/>
<path d="M218.1,413.4 L219.2,413.4" stroke="#555" stroke-width="0.5"/>
<text x="215.7" y="421.2" font-size="4.5" fill="#444" text-anchor="end">10<tspan font-size="4.0" dx="0.4" dy="-3.3">3</tspan></text>
<path d="M217.7,419.3 L219.3,419.3" stroke="#222" stroke-width="0.9"/>
<path d="M218.1,422.8 L219.2,422.8" stroke="#555" stroke-width="0.5"/>
<path d="M218.1,425.3 L219.2,425.3" stroke="#555" stroke-width="0.5"/>
<path d="M218.1,427.3 L219.2,427.3" stroke="#555" stroke-width="0.5"/>
<text x="214.2" y="439.0" font-size="4.5" fill="#444" text-anchor="end" font-weight="normal">0</text>
<path d="M217.7,437.3 L219.3,437.3" stroke="#222" stroke-width="0.9"/>
<text x="230.5" y="454.0" font-size="4.5" fill="#444" text-anchor="middle" font-weight="normal">0</text>
<path d="M229.0,446.90000000000003 L232.0,446.90000000000003" stroke="#111" stroke-width="1.1"/>
<text x="248.3" y="454.0" font-size="4.5" fill="#444" text-anchor="start">10<tspan font-size="4.0" dx="0.4" dy="-3.3">3</tspan></text>
<path d="M250.60000000000002,446.3 L250.60000000000002,447.8" stroke="#222" stroke-width="0.8"/>
<text x="263.0" y="454.0" font-size="4.5" fill="#444" text-anchor="start">10<tspan font-size="4.0" dx="0.4" dy="-3.3">4</tspan></text>
<path d="M265.3,446.3 L265.3,447.8" stroke="#222" stroke-width="0.8"/>
<text x="278.8" y="454.0" font-size="4.5" fill="#444" text-anchor="start">10<tspan font-size="4.0" dx="0.4" dy="-3.3">5</tspan></text>
<path d="M281.1,446.3 L281.1,447.8" stroke="#222" stroke-width="0.8"/>
<path d="M118.5,435 L118.50,390.50" stroke="#111" stroke-width="0.9" fill="none"/><path d="M118.5,385.5 L120.60,390.50 L116.40,390.50 Z" fill="#111"/>
<text transform="translate(121.9,440.7) rotate(-90) scale(0.55,1)" font-size="10.5" fill="#111" text-anchor="middle" font-weight="bold">IC</text>
<text transform="translate(141.3,463.2) scale(0.55,1)" font-size="10.5" fill="#111" text-anchor="middle" font-weight="bold">CD25</text>
<path d="M152.5,459.0 L284.80,459.00" stroke="#111" stroke-width="0.9" fill="none"/><path d="M289.8,459.0 L284.80,461.10 L284.80,456.90 Z" fill="#111"/>
<rect x="0.5" y="0.5" width="519" height="474" fill="none" stroke="#000" stroke-width="1.2"/>
</svg>
</body></html>
